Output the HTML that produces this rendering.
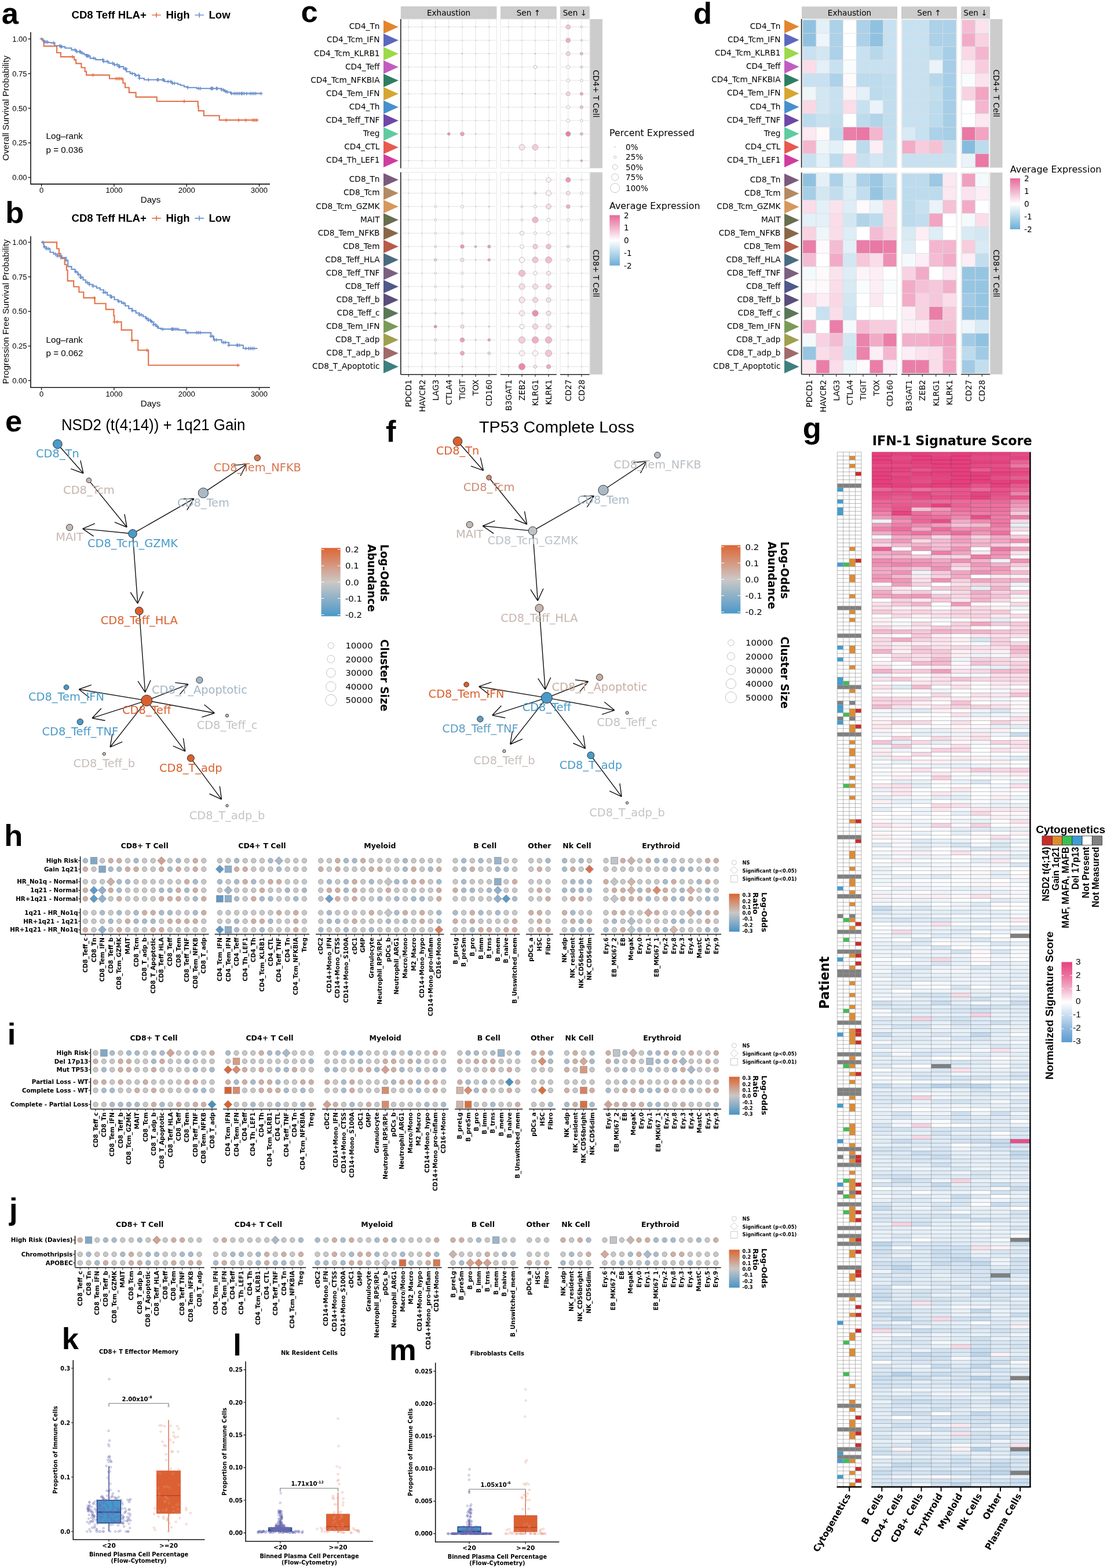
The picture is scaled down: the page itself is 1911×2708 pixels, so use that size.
<!DOCTYPE html><html><head><meta charset="utf-8"><style>html,body{margin:0;padding:0;background:#fff;overflow:hidden}svg{display:block}.D{font-family:"DejaVu Sans",sans-serif}.DB{font-family:"DejaVu Sans",sans-serif;font-weight:bold}.L{font-family:"Liberation Sans",sans-serif}.LB{font-family:"Liberation Sans",sans-serif;font-weight:bold}text{fill:#000}</style></head><body><svg width="1911" height="2708" viewBox="0 0 1911 2708"><text x="123.5" y="32.4" class="LB" font-size="18.6">CD8 Teff HLA+</text>
<path d="M262.3 26.0h15.5M270.05 21.8v8.4" stroke="#E3724A" stroke-width="1.7" fill="none"/>
<path d="M336.4 26.0h15.5M344.15 21.8v8.4" stroke="#6E92CE" stroke-width="1.7" fill="none"/>
<text x="286.4" y="32.4" class="LB" font-size="18.6">High</text>
<text x="360.5" y="32.4" class="LB" font-size="18.6">Low</text>
<path d="M53 55.6V317.9H466" stroke="#111" stroke-width="1.6" fill="none"/>
<path d="M48.5 67.3H53" stroke="#111" stroke-width="1.3"/>
<text x="46.5" y="71.9" class="L" font-size="13" text-anchor="end">1.00</text>
<path d="M48.5 127.1H53" stroke="#111" stroke-width="1.3"/>
<text x="46.5" y="131.7" class="L" font-size="13" text-anchor="end">0.75</text>
<path d="M48.5 186.9H53" stroke="#111" stroke-width="1.3"/>
<text x="46.5" y="191.5" class="L" font-size="13" text-anchor="end">0.50</text>
<path d="M48.5 246.7H53" stroke="#111" stroke-width="1.3"/>
<text x="46.5" y="251.3" class="L" font-size="13" text-anchor="end">0.25</text>
<path d="M48.5 306.5H53" stroke="#111" stroke-width="1.3"/>
<text x="46.5" y="311.1" class="L" font-size="13" text-anchor="end">0.00</text>
<path d="M71.6 317.9V322.4" stroke="#111" stroke-width="1.3"/>
<text x="71.6" y="333.3" class="L" font-size="13" text-anchor="middle">0</text>
<path d="M196.9 317.9V322.4" stroke="#111" stroke-width="1.3"/>
<text x="196.9" y="333.3" class="L" font-size="13" text-anchor="middle">1000</text>
<path d="M322.2 317.9V322.4" stroke="#111" stroke-width="1.3"/>
<text x="322.2" y="333.3" class="L" font-size="13" text-anchor="middle">2000</text>
<path d="M447.5 317.9V322.4" stroke="#111" stroke-width="1.3"/>
<text x="447.5" y="333.3" class="L" font-size="13" text-anchor="middle">3000</text>
<text x="260" y="350.3" class="L" font-size="15.2" text-anchor="middle">Days</text>
<text transform="translate(15.3 186.7) rotate(-90)" class="L" font-size="15.2" text-anchor="middle">Overall Survival Probability</text>
<text x="79.6" y="240.1" class="L" font-size="15.2">Log–rank</text>
<text x="79.6" y="263.6" class="L" font-size="15.2">p = 0.036</text>
<path d="M71.6 67.3H74.1V69.8H76.9V72.5H83.3V73.5H88.3V74.1H94.4V79.0H104.3V80.6H112.3V83.0H123.5V86.1H131.5V89.2H139.5V91.7H145.1V94.1H149.1V96.6H155.6V100.6H165.1V103.1H178.1V106.2H187.7V109.3H197.2V111.7H205.2V115.1H213.3V119.1H218.2V123.8H224.7V126.9H232.7V130.2H240.7V135.2H248.8V137.7H277.5V137.7H284.0V140.7H296.9V143.8H307.1V145.7H311.7V147.5H317.9V149.7H324.1V151.2H339.5V152.8H382.7V155.2H387.3V157.4H392.0V159.0H398.1V161.4H450.6V161.4" stroke="#6E92CE" stroke-width="2.1" fill="none"/>
<path d="M71.6 67.3H74.1V71.0H75.6V79.6H95.7V79.6H98.1V91.0H104.9V98.1H126.5V98.1H128.1V103.4H131.2V109.6H140.4V116.7H146.6V123.5H149.1V129.6H188.3V129.6H188.9V135.8H211.4V135.8H212.3V143.5H216.0V151.2H222.8V159.9H234.6V167.6H270.1V167.6H270.7V175.0H341.0V175.0H341.7V183.6H342.6V191.4H351.9V199.7H378.1V199.7H378.7V207.4H446.0V207.4" stroke="#E3724A" stroke-width="2.1" fill="none"/>
<path d="M68.6 67.3h6M71.6 64.3v6M74.2 72.5h6M77.2 69.5v6M76.6 72.5h6M79.6 69.5v6M78.8 72.5h6M81.8 69.5v6M89.6 74.1h6M92.6 71.1v6M100.4 79.0h6M103.4 76.0v6M101.9 80.6h6M104.9 77.6v6M103.5 80.6h6M106.5 77.6v6M126.6 86.1h6M129.6 83.1v6M129.7 89.2h6M132.7 86.2v6M134.3 89.2h6M137.3 86.2v6M135.9 89.2h6M138.9 86.2v6M139.0 91.7h6M142.0 88.7v6M146.7 96.6h6M149.7 93.6v6M148.2 96.6h6M151.2 93.6v6M149.8 96.6h6M152.8 93.6v6M159.0 100.6h6M162.0 97.6v6M174.5 103.1h6M177.5 100.1v6M176.0 106.2h6M179.0 103.2v6M182.2 106.2h6M185.2 103.2v6M191.4 109.3h6M194.4 106.3v6M194.5 111.7h6M197.5 108.7v6M199.2 111.7h6M202.2 108.7v6M202.2 115.1h6M205.2 112.1v6M203.8 115.1h6M206.8 112.1v6M213.0 119.1h6M216.0 116.1v6M214.6 119.1h6M217.6 116.1v6M225.4 126.9h6M228.4 123.9v6M231.6 130.2h6M234.6 127.2v6M236.2 130.2h6M239.2 127.2v6M237.7 135.2h6M240.7 132.2v6M253.2 137.7h6M256.2 134.7v6M268.6 137.7h6M271.6 134.7v6M270.1 137.7h6M273.1 134.7v6M277.9 137.7h6M280.9 134.7v6M279.4 137.7h6M282.4 134.7v6M287.1 140.7h6M290.1 137.7v6M291.8 140.7h6M294.8 137.7v6M294.8 143.8h6M297.8 140.8v6M297.9 143.8h6M300.9 140.8v6M321.1 151.2h6M324.1 148.2v6M339.6 152.8h6M342.6 149.8v6M342.7 152.8h6M345.7 149.8v6M361.2 152.8h6M364.2 149.8v6M362.7 152.8h6M365.7 149.8v6M364.3 152.8h6M367.3 149.8v6M370.5 152.8h6M373.5 149.8v6M372.0 152.8h6M375.0 149.8v6M379.7 155.2h6M382.7 152.2v6M382.8 155.2h6M385.8 152.2v6M385.9 157.4h6M388.9 154.4v6M389.0 159.0h6M392.0 156.0v6M396.7 161.4h6M399.7 158.4v6M401.3 161.4h6M404.3 158.4v6M404.4 161.4h6M407.4 158.4v6M407.5 161.4h6M410.5 158.4v6M410.6 161.4h6M413.6 158.4v6M413.7 161.4h6M416.7 158.4v6M415.2 161.4h6M418.2 158.4v6M418.3 161.4h6M421.3 158.4v6M422.9 161.4h6M425.9 158.4v6M429.1 161.4h6M432.1 158.4v6M432.2 161.4h6M435.2 158.4v6M435.3 161.4h6M438.3 158.4v6M438.4 161.4h6M441.4 158.4v6M447.6 161.4h6M450.6 158.4v6" stroke="#6E92CE" stroke-width="1.5" fill="none"/>
<path d="M122.0 98.1h6M125.0 95.1v6M157.5 129.6h6M160.5 126.6v6M197.6 135.8h6M200.6 132.8v6M200.7 135.8h6M203.7 132.8v6M203.8 135.8h6M206.8 132.8v6M206.9 135.8h6M209.9 132.8v6M314.9 175.0h6M317.9 172.0v6M387.4 207.4h6M390.4 204.4v6M409.0 207.4h6M412.0 204.4v6M421.4 207.4h6M424.4 204.4v6M433.7 207.4h6M436.7 204.4v6M436.8 207.4h6M439.8 204.4v6M439.9 207.4h6M442.9 204.4v6" stroke="#E3724A" stroke-width="1.5" fill="none"/>
<text x="123.5" y="383.2" class="LB" font-size="18.6">CD8 Teff HLA+</text>
<path d="M262.3 376.8h15.5M270.05 372.6v8.4" stroke="#E3724A" stroke-width="1.7" fill="none"/>
<path d="M336.4 376.8h15.5M344.15 372.6v8.4" stroke="#6E92CE" stroke-width="1.7" fill="none"/>
<text x="286.4" y="383.2" class="LB" font-size="18.6">High</text>
<text x="360.5" y="383.2" class="LB" font-size="18.6">Low</text>
<path d="M53 407.9V669.3H466" stroke="#111" stroke-width="1.6" fill="none"/>
<path d="M48.5 418.4H53" stroke="#111" stroke-width="1.3"/>
<text x="46.5" y="423.0" class="L" font-size="13" text-anchor="end">1.00</text>
<path d="M48.5 478.1H53" stroke="#111" stroke-width="1.3"/>
<text x="46.5" y="482.7" class="L" font-size="13" text-anchor="end">0.75</text>
<path d="M48.5 537.8H53" stroke="#111" stroke-width="1.3"/>
<text x="46.5" y="542.4" class="L" font-size="13" text-anchor="end">0.50</text>
<path d="M48.5 597.6H53" stroke="#111" stroke-width="1.3"/>
<text x="46.5" y="602.2" class="L" font-size="13" text-anchor="end">0.25</text>
<path d="M48.5 657.3H53" stroke="#111" stroke-width="1.3"/>
<text x="46.5" y="661.9" class="L" font-size="13" text-anchor="end">0.00</text>
<path d="M71.6 669.3V673.8" stroke="#111" stroke-width="1.3"/>
<text x="71.6" y="684.8" class="L" font-size="13" text-anchor="middle">0</text>
<path d="M196.9 669.3V673.8" stroke="#111" stroke-width="1.3"/>
<text x="196.9" y="684.8" class="L" font-size="13" text-anchor="middle">1000</text>
<path d="M322.2 669.3V673.8" stroke="#111" stroke-width="1.3"/>
<text x="322.2" y="684.8" class="L" font-size="13" text-anchor="middle">2000</text>
<path d="M447.5 669.3V673.8" stroke="#111" stroke-width="1.3"/>
<text x="447.5" y="684.8" class="L" font-size="13" text-anchor="middle">3000</text>
<text x="260" y="701.7" class="L" font-size="15.2" text-anchor="middle">Days</text>
<text transform="translate(15.3 538.3) rotate(-90)" class="L" font-size="15.2" text-anchor="middle">Progression Free Survival Probability</text>
<text x="79.6" y="591.5" class="L" font-size="15.2">Log–rank</text>
<text x="79.6" y="615.0" class="L" font-size="15.2">p = 0.062</text>
<path d="M71.6 418.4H75.6V426.4H80.2V429.5H86.4V435.7H92.6V438.8H98.8V441.9H106.5V444.9H114.2V449.6H117.3V460.4H123.5V465.0H129.6V469.6H134.3V474.3H138.9V478.9H143.5V483.5H148.1V488.1H154.3V491.2H160.5V494.3H166.7V497.4H172.8V500.5H179.0V505.1H185.2V509.8H191.4V512.8H197.5V517.5H203.7V520.6H209.9V523.6H216.0V528.3H222.2V532.9H228.4V536.6H234.6V540.6H240.7V543.7H246.9V546.8H251.5V549.9H256.2V553.0H260.8V556.0H265.4V560.7H269.1V563.8H273.1V566.9H277.8V568.4H308.6V569.9H321.0V574.6H354.9V574.6H364.2V580.7H368.8V586.9H382.7V591.5H395.1V596.2H416.7V596.2H419.8V601.7H444.4V601.7" stroke="#6E92CE" stroke-width="2.1" fill="none"/>
<path d="M71.6 418.4H97.2V418.4H98.1V429.5H101.9V438.1H104.9V446.5H111.7V456.7H114.8V466.5H116.7V485.1H126.5V485.1H127.2V495.2H135.8V495.2H136.4V504.5H143.8V504.5H144.4V514.4H162.7V514.4H163.6V524.3H182.1V524.3H182.7V534.4H194.4V534.4H196.3V545.2H197.5V556.0H209.0V556.0H209.6V569.9H226.9V569.9H227.5V587.8H237.7V587.8H238.3V604.8H255.6V604.8H256.2V630.7H413.6V630.7" stroke="#E3724A" stroke-width="2.1" fill="none"/>
<path d="M71.1 418.4h6M74.1 415.4v6M74.2 426.4h6M77.2 423.4v6M77.2 429.5h6M80.2 426.5v6M80.3 429.5h6M83.3 426.5v6M92.7 438.8h6M95.7 435.8v6M95.8 441.9h6M98.8 438.9v6M98.9 441.9h6M101.9 438.9v6M101.9 441.9h6M104.9 438.9v6M111.2 449.6h6M114.2 446.6v6M128.2 469.6h6M131.2 466.6v6M132.8 474.3h6M135.8 471.3v6M135.9 478.9h6M138.9 475.9v6M137.4 478.9h6M140.4 475.9v6M148.2 488.1h6M151.2 485.1v6M151.3 491.2h6M154.3 488.2v6M157.5 494.3h6M160.5 491.3v6M176.0 505.1h6M179.0 502.1v6M179.1 505.1h6M182.1 502.1v6M188.4 512.8h6M191.4 509.8v6M189.9 512.8h6M192.9 509.8v6M202.2 520.6h6M205.2 517.6v6M210.0 523.6h6M213.0 520.6v6M225.4 536.6h6M228.4 533.6v6M237.7 543.7h6M240.7 540.7v6M240.8 543.7h6M243.8 540.7v6M250.1 549.9h6M253.1 546.9v6M253.2 553.0h6M256.2 550.0v6M256.3 553.0h6M259.3 550.0v6M259.3 556.0h6M262.3 553.0v6M262.4 560.7h6M265.4 557.7v6M265.5 560.7h6M268.5 557.7v6M268.6 563.8h6M271.6 560.8v6M277.9 568.4h6M280.9 565.4v6M293.3 568.4h6M296.3 565.4v6M294.8 568.4h6M297.8 565.4v6M296.4 568.4h6M299.4 565.4v6M299.5 568.4h6M302.5 565.4v6M302.6 568.4h6M305.6 565.4v6M321.1 574.6h6M324.1 571.6v6M336.5 574.6h6M339.5 571.6v6M339.6 574.6h6M342.6 571.6v6M342.7 574.6h6M345.7 571.6v6M361.2 580.7h6M364.2 577.7v6M364.3 580.7h6M367.3 577.7v6M367.4 586.9h6M370.4 583.9v6M370.5 586.9h6M373.5 583.9v6M382.8 591.5h6M385.8 588.5v6M385.9 591.5h6M388.9 588.5v6M392.1 596.2h6M395.1 593.2v6M406.0 596.2h6M409.0 593.2v6M407.5 596.2h6M410.5 593.2v6M410.6 596.2h6M413.6 593.2v6M421.4 601.7h6M424.4 598.7v6M426.0 601.7h6M429.0 598.7v6M429.1 601.7h6M432.1 598.7v6M432.2 601.7h6M435.2 598.7v6M435.3 601.7h6M438.3 598.7v6" stroke="#6E92CE" stroke-width="1.5" fill="none"/>
<path d="M98.9 438.1h6M101.9 435.1v6M159.7 514.4h6M162.7 511.4v6M194.5 556.0h6M197.5 553.0v6M199.2 556.0h6M202.2 553.0v6M225.4 587.8h6M228.4 584.8v6M250.7 604.8h6M253.7 601.8v6M407.5 630.7h6M410.5 627.7v6" stroke="#E3724A" stroke-width="1.5" fill="none"/>
<rect x="691.8" y="11.0" width="165.7" height="22.0" fill="#CCCCCC"/>
<text x="774.6" y="27.0" class="D" font-size="13.6" text-anchor="middle">Exhaustion</text>
<rect x="864.0" y="11.0" width="96.8" height="22.0" fill="#CCCCCC"/>
<text x="912.4" y="27.0" class="D" font-size="13.6" text-anchor="middle">Sen ↑</text>
<rect x="967.0" y="11.0" width="50.8" height="22.0" fill="#CCCCCC"/>
<text x="992.4" y="27.0" class="D" font-size="13.6" text-anchor="middle">Sen ↓</text>
<rect x="1018.5" y="33.0" width="21.5" height="257.5" fill="#CCCCCC"/>
<text transform="translate(1024.2 161.8) rotate(90)" class="D" font-size="13.6" text-anchor="middle">CD4+ T Cell</text>
<rect x="1018.5" y="297.5" width="21.5" height="349.2" fill="#CCCCCC"/>
<text transform="translate(1024.2 472.1) rotate(90)" class="D" font-size="13.6" text-anchor="middle">CD8+ T Cell</text>
<text x="655.5" y="50.3" class="D" font-size="13.7" text-anchor="end">CD4_Tn</text>
<path d="M662.0 35.0L687.8 46.5L662.0 58.0Z" fill="#E2862E"/>
<text x="655.5" y="73.4" class="D" font-size="13.7" text-anchor="end">CD4_Tcm_IFN</text>
<path d="M662.0 58.0L687.8 69.6L662.0 81.1Z" fill="#5C68BE"/>
<text x="655.5" y="96.5" class="D" font-size="13.7" text-anchor="end">CD4_Tcm_KLRB1</text>
<path d="M662.0 81.2L687.8 92.7L662.0 104.2Z" fill="#9BD94A"/>
<text x="655.5" y="119.6" class="D" font-size="13.7" text-anchor="end">CD4_Teff</text>
<path d="M662.0 104.3L687.8 115.8L662.0 127.4Z" fill="#C25DC0"/>
<text x="655.5" y="142.7" class="D" font-size="13.7" text-anchor="end">CD4_Tcm_NFKBIA</text>
<path d="M662.0 127.4L687.8 138.9L662.0 150.4Z" fill="#2F7E62"/>
<text x="655.5" y="165.8" class="D" font-size="13.7" text-anchor="end">CD4_Tem_IFN</text>
<path d="M662.0 150.4L687.8 162.0L662.0 173.6Z" fill="#D6A632"/>
<text x="655.5" y="188.9" class="D" font-size="13.7" text-anchor="end">CD4_Th</text>
<path d="M662.0 173.6L687.8 185.1L662.0 196.7Z" fill="#4890CB"/>
<text x="655.5" y="212.0" class="D" font-size="13.7" text-anchor="end">CD4_Teff_TNF</text>
<path d="M662.0 196.7L687.8 208.2L662.0 219.8Z" fill="#6F47A7"/>
<text x="655.5" y="235.1" class="D" font-size="13.7" text-anchor="end">Treg</text>
<path d="M662.0 219.8L687.8 231.3L662.0 242.9Z" fill="#5FCBA0"/>
<text x="655.5" y="258.2" class="D" font-size="13.7" text-anchor="end">CD4_CTL</text>
<path d="M662.0 242.9L687.8 254.4L662.0 265.9Z" fill="#E65A4F"/>
<text x="655.5" y="281.3" class="D" font-size="13.7" text-anchor="end">CD4_Th_LEF1</text>
<path d="M662.0 265.9L687.8 277.5L662.0 289.1Z" fill="#D03C9E"/>
<rect x="691.8" y="33.0" width="165.7" height="257.5" fill="#FFFFFF" stroke="#E6E6E6" stroke-width="1"/>
<rect x="864.0" y="33.0" width="96.8" height="257.5" fill="#FFFFFF" stroke="#E6E6E6" stroke-width="1"/>
<rect x="967.0" y="33.0" width="50.8" height="257.5" fill="#FFFFFF" stroke="#E6E6E6" stroke-width="1"/>
<path d="M691.8 33.0V290.5" stroke="#222" stroke-width="1.6"/>
<text x="655.5" y="314.4" class="D" font-size="13.7" text-anchor="end">CD8_Tn</text>
<path d="M662.0 299.1L687.8 310.6L662.0 322.1Z" fill="#7C5A7C"/>
<text x="655.5" y="337.4" class="D" font-size="13.7" text-anchor="end">CD8_Tcm</text>
<path d="M662.0 322.1L687.8 333.6L662.0 345.2Z" fill="#B48A62"/>
<text x="655.5" y="360.5" class="D" font-size="13.7" text-anchor="end">CD8_Tcm_GZMK</text>
<path d="M662.0 345.2L687.8 356.7L662.0 368.2Z" fill="#D6985C"/>
<text x="655.5" y="383.5" class="D" font-size="13.7" text-anchor="end">MAIT</text>
<path d="M662.0 368.2L687.8 379.7L662.0 391.2Z" fill="#686E4E"/>
<text x="655.5" y="406.6" class="D" font-size="13.7" text-anchor="end">CD8_Tem_NFKB</text>
<path d="M662.0 391.2L687.8 402.8L662.0 414.3Z" fill="#896848"/>
<text x="655.5" y="429.6" class="D" font-size="13.7" text-anchor="end">CD8_Tem</text>
<path d="M662.0 414.3L687.8 425.8L662.0 437.3Z" fill="#B65C4A"/>
<text x="655.5" y="452.6" class="D" font-size="13.7" text-anchor="end">CD8_Teff_HLA</text>
<path d="M662.0 437.3L687.8 448.8L662.0 460.4Z" fill="#4B6B80"/>
<text x="655.5" y="475.7" class="D" font-size="13.7" text-anchor="end">CD8_Teff_TNF</text>
<path d="M662.0 460.4L687.8 471.9L662.0 483.4Z" fill="#7C6080"/>
<text x="655.5" y="498.7" class="D" font-size="13.7" text-anchor="end">CD8_Teff</text>
<path d="M662.0 483.4L687.8 494.9L662.0 506.4Z" fill="#50598A"/>
<text x="655.5" y="521.8" class="D" font-size="13.7" text-anchor="end">CD8_Teff_b</text>
<path d="M662.0 506.4L687.8 518.0L662.0 529.5Z" fill="#5A4E7A"/>
<text x="655.5" y="544.8" class="D" font-size="13.7" text-anchor="end">CD8_Teff_c</text>
<path d="M662.0 529.5L687.8 541.0L662.0 552.5Z" fill="#5A7858"/>
<text x="655.5" y="567.8" class="D" font-size="13.7" text-anchor="end">CD8_Tem_IFN</text>
<path d="M662.0 552.5L687.8 564.0L662.0 575.6Z" fill="#7A9A5A"/>
<text x="655.5" y="590.9" class="D" font-size="13.7" text-anchor="end">CD8_T_adp</text>
<path d="M662.0 575.6L687.8 587.1L662.0 598.6Z" fill="#A0A04E"/>
<text x="655.5" y="613.9" class="D" font-size="13.7" text-anchor="end">CD8_T_adp_b</text>
<path d="M662.0 598.6L687.8 610.1L662.0 621.6Z" fill="#A06A6A"/>
<text x="655.5" y="637.0" class="D" font-size="13.7" text-anchor="end">CD8_T_Apoptotic</text>
<path d="M662.0 621.6L687.8 633.2L662.0 644.7Z" fill="#3E7F80"/>
<rect x="691.8" y="297.5" width="165.7" height="349.2" fill="#FFFFFF" stroke="#E6E6E6" stroke-width="1"/>
<rect x="864.0" y="297.5" width="96.8" height="349.2" fill="#FFFFFF" stroke="#E6E6E6" stroke-width="1"/>
<rect x="967.0" y="297.5" width="50.8" height="349.2" fill="#FFFFFF" stroke="#E6E6E6" stroke-width="1"/>
<path d="M691.8 297.5V646.7" stroke="#222" stroke-width="1.6"/>
<path d="M691.8 646.7H857.5" stroke="#222" stroke-width="1.6"/>
<path d="M705.4 646.7v4" stroke="#333" stroke-width="1.2"/>
<text transform="translate(710.4 655.5) rotate(-90)" class="D" font-size="13.7" text-anchor="end">PDCD1</text>
<path d="M728.5 646.7v4" stroke="#333" stroke-width="1.2"/>
<text transform="translate(733.5 655.5) rotate(-90)" class="D" font-size="13.7" text-anchor="end">HAVCR2</text>
<path d="M751.7 646.7v4" stroke="#333" stroke-width="1.2"/>
<text transform="translate(756.7 655.5) rotate(-90)" class="D" font-size="13.7" text-anchor="end">LAG3</text>
<path d="M774.8 646.7v4" stroke="#333" stroke-width="1.2"/>
<text transform="translate(779.8 655.5) rotate(-90)" class="D" font-size="13.7" text-anchor="end">CTLA4</text>
<path d="M798.0 646.7v4" stroke="#333" stroke-width="1.2"/>
<text transform="translate(803.0 655.5) rotate(-90)" class="D" font-size="13.7" text-anchor="end">TIGIT</text>
<path d="M821.1 646.7v4" stroke="#333" stroke-width="1.2"/>
<text transform="translate(826.1 655.5) rotate(-90)" class="D" font-size="13.7" text-anchor="end">TOX</text>
<path d="M844.3 646.7v4" stroke="#333" stroke-width="1.2"/>
<text transform="translate(849.3 655.5) rotate(-90)" class="D" font-size="13.7" text-anchor="end">CD160</text>
<path d="M864.0 646.7H960.8" stroke="#222" stroke-width="1.6"/>
<path d="M878.0 646.7v4" stroke="#333" stroke-width="1.2"/>
<text transform="translate(883.0 655.5) rotate(-90)" class="D" font-size="13.7" text-anchor="end">B3GAT1</text>
<path d="M901.0 646.7v4" stroke="#333" stroke-width="1.2"/>
<text transform="translate(906.0 655.5) rotate(-90)" class="D" font-size="13.7" text-anchor="end">ZEB2</text>
<path d="M924.0 646.7v4" stroke="#333" stroke-width="1.2"/>
<text transform="translate(929.0 655.5) rotate(-90)" class="D" font-size="13.7" text-anchor="end">KLRG1</text>
<path d="M947.0 646.7v4" stroke="#333" stroke-width="1.2"/>
<text transform="translate(952.0 655.5) rotate(-90)" class="D" font-size="13.7" text-anchor="end">KLRK1</text>
<path d="M967.0 646.7H1017.8" stroke="#222" stroke-width="1.6"/>
<path d="M980.8 646.7v4" stroke="#333" stroke-width="1.2"/>
<text transform="translate(985.8 655.5) rotate(-90)" class="D" font-size="13.7" text-anchor="end">CD27</text>
<path d="M1003.9 646.7v4" stroke="#333" stroke-width="1.2"/>
<text transform="translate(1008.9 655.5) rotate(-90)" class="D" font-size="13.7" text-anchor="end">CD28</text>
<path d="M705.4 34.0V289.5M728.5 34.0V289.5M751.7 34.0V289.5M774.8 34.0V289.5M798.0 34.0V289.5M821.1 34.0V289.5M844.3 34.0V289.5M692.8 46.5H856.5M692.8 69.6H856.5M692.8 92.7H856.5M692.8 115.8H856.5M692.8 138.9H856.5M692.8 162.0H856.5M692.8 185.1H856.5M692.8 208.2H856.5M692.8 231.3H856.5M692.8 254.4H856.5M692.8 277.5H856.5M878.0 34.0V289.5M901.0 34.0V289.5M924.0 34.0V289.5M947.0 34.0V289.5M865.0 46.5H959.8M865.0 69.6H959.8M865.0 92.7H959.8M865.0 115.8H959.8M865.0 138.9H959.8M865.0 162.0H959.8M865.0 185.1H959.8M865.0 208.2H959.8M865.0 231.3H959.8M865.0 254.4H959.8M865.0 277.5H959.8M980.8 34.0V289.5M1003.9 34.0V289.5M968.0 46.5H1016.8M968.0 69.6H1016.8M968.0 92.7H1016.8M968.0 115.8H1016.8M968.0 138.9H1016.8M968.0 162.0H1016.8M968.0 185.1H1016.8M968.0 208.2H1016.8M968.0 231.3H1016.8M968.0 254.4H1016.8M968.0 277.5H1016.8" stroke="#E3E3E3" stroke-width="1" fill="none"/>
<path d="M705.4 298.5V645.7M728.5 298.5V645.7M751.7 298.5V645.7M774.8 298.5V645.7M798.0 298.5V645.7M821.1 298.5V645.7M844.3 298.5V645.7M692.8 310.6H856.5M692.8 333.6H856.5M692.8 356.7H856.5M692.8 379.7H856.5M692.8 402.8H856.5M692.8 425.8H856.5M692.8 448.8H856.5M692.8 471.9H856.5M692.8 494.9H856.5M692.8 518.0H856.5M692.8 541.0H856.5M692.8 564.0H856.5M692.8 587.1H856.5M692.8 610.1H856.5M692.8 633.2H856.5M878.0 298.5V645.7M901.0 298.5V645.7M924.0 298.5V645.7M947.0 298.5V645.7M865.0 310.6H959.8M865.0 333.6H959.8M865.0 356.7H959.8M865.0 379.7H959.8M865.0 402.8H959.8M865.0 425.8H959.8M865.0 448.8H959.8M865.0 471.9H959.8M865.0 494.9H959.8M865.0 518.0H959.8M865.0 541.0H959.8M865.0 564.0H959.8M865.0 587.1H959.8M865.0 610.1H959.8M865.0 633.2H959.8M980.8 298.5V645.7M1003.9 298.5V645.7M968.0 310.6H1016.8M968.0 333.6H1016.8M968.0 356.7H1016.8M968.0 379.7H1016.8M968.0 402.8H1016.8M968.0 425.8H1016.8M968.0 448.8H1016.8M968.0 471.9H1016.8M968.0 494.9H1016.8M968.0 518.0H1016.8M968.0 541.0H1016.8M968.0 564.0H1016.8M968.0 587.1H1016.8M968.0 610.1H1016.8M968.0 633.2H1016.8" stroke="#E3E3E3" stroke-width="1" fill="none"/>
<g fill="#BBBBBB"><circle cx="705.4" cy="46.5" r="0.9"/><circle cx="728.5" cy="46.5" r="0.9"/><circle cx="751.7" cy="46.5" r="0.9"/><circle cx="774.8" cy="46.5" r="0.9"/><circle cx="798.0" cy="46.5" r="0.9"/><circle cx="821.1" cy="46.5" r="0.9"/><circle cx="844.3" cy="46.5" r="0.9"/><circle cx="878.0" cy="46.5" r="0.9"/><circle cx="901.0" cy="46.5" r="0.9"/><circle cx="924.0" cy="46.5" r="0.9"/><circle cx="947.0" cy="46.5" r="0.9"/><circle cx="705.4" cy="69.6" r="0.9"/><circle cx="728.5" cy="69.6" r="0.9"/><circle cx="751.7" cy="69.6" r="0.9"/><circle cx="774.8" cy="69.6" r="0.9"/><circle cx="798.0" cy="69.6" r="0.9"/><circle cx="821.1" cy="69.6" r="0.9"/><circle cx="844.3" cy="69.6" r="0.9"/><circle cx="878.0" cy="69.6" r="0.9"/><circle cx="901.0" cy="69.6" r="0.9"/><circle cx="924.0" cy="69.6" r="0.9"/><circle cx="947.0" cy="69.6" r="0.9"/><circle cx="705.4" cy="92.7" r="0.9"/><circle cx="728.5" cy="92.7" r="0.9"/><circle cx="751.7" cy="92.7" r="0.9"/><circle cx="774.8" cy="92.7" r="0.9"/><circle cx="798.0" cy="92.7" r="1.2"/><circle cx="821.1" cy="92.7" r="0.9"/><circle cx="844.3" cy="92.7" r="0.9"/><circle cx="878.0" cy="92.7" r="0.9"/><circle cx="901.0" cy="92.7" r="0.9"/><circle cx="924.0" cy="92.7" r="1.2"/><circle cx="947.0" cy="92.7" r="0.9"/><circle cx="705.4" cy="115.8" r="0.9"/><circle cx="728.5" cy="115.8" r="0.9"/><circle cx="751.7" cy="115.8" r="0.9"/><circle cx="774.8" cy="115.8" r="0.9"/><circle cx="798.0" cy="115.8" r="0.9"/><circle cx="821.1" cy="115.8" r="0.9"/><circle cx="844.3" cy="115.8" r="0.9"/><circle cx="878.0" cy="115.8" r="0.9"/><circle cx="901.0" cy="115.8" r="0.9"/><circle cx="947.0" cy="115.8" r="0.9"/><circle cx="705.4" cy="138.9" r="0.9"/><circle cx="728.5" cy="138.9" r="0.9"/><circle cx="751.7" cy="138.9" r="0.9"/><circle cx="774.8" cy="138.9" r="0.9"/><circle cx="798.0" cy="138.9" r="0.9"/><circle cx="821.1" cy="138.9" r="0.9"/><circle cx="844.3" cy="138.9" r="0.9"/><circle cx="878.0" cy="138.9" r="0.9"/><circle cx="901.0" cy="138.9" r="0.9"/><circle cx="924.0" cy="138.9" r="0.9"/><circle cx="947.0" cy="138.9" r="0.9"/><circle cx="705.4" cy="162.0" r="0.9"/><circle cx="728.5" cy="162.0" r="0.9"/><circle cx="751.7" cy="162.0" r="0.9"/><circle cx="774.8" cy="162.0" r="0.9"/><circle cx="798.0" cy="162.0" r="1.2"/><circle cx="821.1" cy="162.0" r="0.9"/><circle cx="844.3" cy="162.0" r="0.9"/><circle cx="878.0" cy="162.0" r="0.9"/><circle cx="901.0" cy="162.0" r="0.9"/><circle cx="924.0" cy="162.0" r="1.3"/><circle cx="947.0" cy="162.0" r="0.9"/><circle cx="705.4" cy="185.1" r="0.9"/><circle cx="728.5" cy="185.1" r="0.9"/><circle cx="751.7" cy="185.1" r="0.9"/><circle cx="774.8" cy="185.1" r="0.9"/><circle cx="798.0" cy="185.1" r="0.9"/><circle cx="821.1" cy="185.1" r="0.9"/><circle cx="844.3" cy="185.1" r="0.9"/><circle cx="878.0" cy="185.1" r="0.9"/><circle cx="901.0" cy="185.1" r="0.9"/><circle cx="924.0" cy="185.1" r="0.9"/><circle cx="947.0" cy="185.1" r="0.9"/><circle cx="705.4" cy="208.2" r="0.9"/><circle cx="728.5" cy="208.2" r="0.9"/><circle cx="751.7" cy="208.2" r="0.9"/><circle cx="774.8" cy="208.2" r="0.9"/><circle cx="798.0" cy="208.2" r="0.9"/><circle cx="821.1" cy="208.2" r="0.9"/><circle cx="844.3" cy="208.2" r="0.9"/><circle cx="878.0" cy="208.2" r="0.9"/><circle cx="901.0" cy="208.2" r="0.9"/><circle cx="924.0" cy="208.2" r="0.9"/><circle cx="947.0" cy="208.2" r="0.9"/><circle cx="705.4" cy="231.3" r="0.9"/><circle cx="728.5" cy="231.3" r="0.9"/><circle cx="751.7" cy="231.3" r="0.9"/><circle cx="821.1" cy="231.3" r="1.2"/><circle cx="844.3" cy="231.3" r="0.9"/><circle cx="878.0" cy="231.3" r="0.9"/><circle cx="901.0" cy="231.3" r="0.9"/><circle cx="924.0" cy="231.3" r="0.9"/><circle cx="947.0" cy="231.3" r="0.9"/><circle cx="705.4" cy="254.4" r="0.9"/><circle cx="728.5" cy="254.4" r="0.9"/><circle cx="751.7" cy="254.4" r="0.9"/><circle cx="774.8" cy="254.4" r="0.9"/><circle cx="798.0" cy="254.4" r="0.9"/><circle cx="821.1" cy="254.4" r="0.9"/><circle cx="844.3" cy="254.4" r="0.9"/><circle cx="878.0" cy="254.4" r="0.9"/><circle cx="947.0" cy="254.4" r="1.2"/><circle cx="980.8" cy="254.4" r="0.9"/><circle cx="1003.9" cy="254.4" r="0.9"/><circle cx="705.4" cy="277.5" r="0.9"/><circle cx="728.5" cy="277.5" r="0.9"/><circle cx="751.7" cy="277.5" r="0.9"/><circle cx="774.8" cy="277.5" r="0.9"/><circle cx="798.0" cy="277.5" r="0.9"/><circle cx="821.1" cy="277.5" r="0.9"/><circle cx="844.3" cy="277.5" r="0.9"/><circle cx="878.0" cy="277.5" r="0.9"/><circle cx="901.0" cy="277.5" r="0.9"/><circle cx="924.0" cy="277.5" r="0.9"/><circle cx="947.0" cy="277.5" r="0.9"/></g>
<g stroke="#A8A8A8" stroke-width="0.7"><circle cx="980.8" cy="46.5" r="3.8" fill="#F5C3D7"/><circle cx="1003.9" cy="46.5" r="1.8" fill="#FEF8FA"/><circle cx="980.8" cy="69.6" r="3.9" fill="#F2ACC7"/><circle cx="1003.9" cy="69.6" r="1.7" fill="#FAE1EB"/><circle cx="980.8" cy="92.7" r="3.5" fill="#F8D2E1"/><circle cx="1003.9" cy="92.7" r="2.5" fill="#F3B4CC"/><circle cx="924.0" cy="115.8" r="2.9" fill="#F8FBFD"/><circle cx="980.8" cy="115.8" r="2.9" fill="#FFFFFF"/><circle cx="1003.9" cy="115.8" r="2.0" fill="#F9DAE6"/><circle cx="980.8" cy="138.9" r="2.7" fill="#FFFFFF"/><circle cx="1003.9" cy="138.9" r="2.3" fill="#FFFFFF"/><circle cx="980.8" cy="162.0" r="3.5" fill="#F8D2E1"/><circle cx="1003.9" cy="162.0" r="2.6" fill="#F1A5C2"/><circle cx="980.8" cy="185.1" r="2.8" fill="#FFFFFF"/><circle cx="1003.9" cy="185.1" r="2.6" fill="#F4BCD2"/><circle cx="980.8" cy="208.2" r="2.8" fill="#FFFFFF"/><circle cx="1003.9" cy="208.2" r="2.2" fill="#FFFFFF"/><circle cx="774.8" cy="231.3" r="2.4" fill="#ED8EB3"/><circle cx="798.0" cy="231.3" r="3.4" fill="#EF9EBD"/><circle cx="980.8" cy="231.3" r="4.2" fill="#EB80A9"/><circle cx="1003.9" cy="231.3" r="2.4" fill="#F2ACC7"/><circle cx="901.0" cy="254.4" r="5.0" fill="#FAE1EB"/><circle cx="924.0" cy="254.4" r="5.0" fill="#F7CADC"/><circle cx="980.8" cy="277.5" r="1.5" fill="#FDF0F5"/><circle cx="1003.9" cy="277.5" r="1.8" fill="#EF9EBD"/></g>
<g fill="#BBBBBB"><circle cx="705.4" cy="310.6" r="0.9"/><circle cx="728.5" cy="310.6" r="0.9"/><circle cx="751.7" cy="310.6" r="0.9"/><circle cx="774.8" cy="310.6" r="0.9"/><circle cx="798.0" cy="310.6" r="0.9"/><circle cx="821.1" cy="310.6" r="0.9"/><circle cx="844.3" cy="310.6" r="0.9"/><circle cx="878.0" cy="310.6" r="0.9"/><circle cx="901.0" cy="310.6" r="0.9"/><circle cx="924.0" cy="310.6" r="0.9"/><circle cx="705.4" cy="333.6" r="0.9"/><circle cx="728.5" cy="333.6" r="0.9"/><circle cx="751.7" cy="333.6" r="0.9"/><circle cx="774.8" cy="333.6" r="0.9"/><circle cx="798.0" cy="333.6" r="1.2"/><circle cx="821.1" cy="333.6" r="0.9"/><circle cx="844.3" cy="333.6" r="0.9"/><circle cx="878.0" cy="333.6" r="0.9"/><circle cx="901.0" cy="333.6" r="0.9"/><circle cx="705.4" cy="356.7" r="0.9"/><circle cx="728.5" cy="356.7" r="0.9"/><circle cx="774.8" cy="356.7" r="0.9"/><circle cx="821.1" cy="356.7" r="0.9"/><circle cx="844.3" cy="356.7" r="1.3"/><circle cx="878.0" cy="356.7" r="0.9"/><circle cx="705.4" cy="379.7" r="0.9"/><circle cx="728.5" cy="379.7" r="0.9"/><circle cx="774.8" cy="379.7" r="0.9"/><circle cx="798.0" cy="379.7" r="0.9"/><circle cx="821.1" cy="379.7" r="0.9"/><circle cx="844.3" cy="379.7" r="0.9"/><circle cx="878.0" cy="379.7" r="0.9"/><circle cx="705.4" cy="402.8" r="0.9"/><circle cx="728.5" cy="402.8" r="0.9"/><circle cx="774.8" cy="402.8" r="0.9"/><circle cx="821.1" cy="402.8" r="0.9"/><circle cx="844.3" cy="402.8" r="0.9"/><circle cx="878.0" cy="402.8" r="0.9"/><circle cx="1003.9" cy="402.8" r="0.9"/><circle cx="705.4" cy="425.8" r="0.9"/><circle cx="728.5" cy="425.8" r="0.9"/><circle cx="774.8" cy="425.8" r="0.9"/><circle cx="878.0" cy="425.8" r="0.9"/><circle cx="1003.9" cy="425.8" r="0.9"/><circle cx="705.4" cy="448.8" r="0.9"/><circle cx="728.5" cy="448.8" r="0.9"/><circle cx="774.8" cy="448.8" r="0.9"/><circle cx="821.1" cy="448.8" r="1.2"/><circle cx="878.0" cy="448.8" r="0.9"/><circle cx="1003.9" cy="448.8" r="0.9"/><circle cx="705.4" cy="471.9" r="0.9"/><circle cx="728.5" cy="471.9" r="0.9"/><circle cx="774.8" cy="471.9" r="0.9"/><circle cx="821.1" cy="471.9" r="0.9"/><circle cx="844.3" cy="471.9" r="0.9"/><circle cx="878.0" cy="471.9" r="0.9"/><circle cx="980.8" cy="471.9" r="0.9"/><circle cx="1003.9" cy="471.9" r="0.9"/><circle cx="705.4" cy="494.9" r="0.9"/><circle cx="728.5" cy="494.9" r="0.9"/><circle cx="774.8" cy="494.9" r="0.9"/><circle cx="821.1" cy="494.9" r="0.9"/><circle cx="844.3" cy="494.9" r="0.9"/><circle cx="878.0" cy="494.9" r="0.9"/><circle cx="980.8" cy="494.9" r="0.9"/><circle cx="1003.9" cy="494.9" r="0.9"/><circle cx="705.4" cy="518.0" r="0.9"/><circle cx="728.5" cy="518.0" r="0.9"/><circle cx="774.8" cy="518.0" r="0.9"/><circle cx="821.1" cy="518.0" r="0.9"/><circle cx="844.3" cy="518.0" r="0.9"/><circle cx="878.0" cy="518.0" r="0.9"/><circle cx="980.8" cy="518.0" r="0.9"/><circle cx="1003.9" cy="518.0" r="0.9"/><circle cx="705.4" cy="541.0" r="0.9"/><circle cx="728.5" cy="541.0" r="0.9"/><circle cx="774.8" cy="541.0" r="0.9"/><circle cx="821.1" cy="541.0" r="0.9"/><circle cx="844.3" cy="541.0" r="0.9"/><circle cx="878.0" cy="541.0" r="0.9"/><circle cx="980.8" cy="541.0" r="0.9"/><circle cx="1003.9" cy="541.0" r="0.9"/><circle cx="705.4" cy="564.0" r="0.9"/><circle cx="728.5" cy="564.0" r="0.9"/><circle cx="774.8" cy="564.0" r="0.9"/><circle cx="821.1" cy="564.0" r="0.9"/><circle cx="844.3" cy="564.0" r="1.4"/><circle cx="878.0" cy="564.0" r="0.9"/><circle cx="1003.9" cy="564.0" r="0.9"/><circle cx="705.4" cy="587.1" r="0.9"/><circle cx="728.5" cy="587.1" r="0.9"/><circle cx="774.8" cy="587.1" r="0.9"/><circle cx="821.1" cy="587.1" r="1.4"/><circle cx="878.0" cy="587.1" r="0.9"/><circle cx="980.8" cy="587.1" r="0.9"/><circle cx="1003.9" cy="587.1" r="0.9"/><circle cx="705.4" cy="610.1" r="0.9"/><circle cx="728.5" cy="610.1" r="0.9"/><circle cx="774.8" cy="610.1" r="0.9"/><circle cx="821.1" cy="610.1" r="0.9"/><circle cx="878.0" cy="610.1" r="0.9"/><circle cx="980.8" cy="610.1" r="1.4"/><circle cx="1003.9" cy="610.1" r="0.9"/><circle cx="705.4" cy="633.2" r="0.9"/><circle cx="728.5" cy="633.2" r="0.9"/><circle cx="751.7" cy="633.2" r="0.9"/><circle cx="774.8" cy="633.2" r="0.9"/><circle cx="798.0" cy="633.2" r="1.4"/><circle cx="821.1" cy="633.2" r="0.9"/><circle cx="844.3" cy="633.2" r="0.9"/><circle cx="878.0" cy="633.2" r="0.9"/><circle cx="980.8" cy="633.2" r="0.9"/><circle cx="1003.9" cy="633.2" r="0.9"/></g>
<g stroke="#A8A8A8" stroke-width="0.7"><circle cx="947.0" cy="310.6" r="4.2" fill="#FDF0F5"/><circle cx="980.8" cy="310.6" r="4.1" fill="#EE96B8"/><circle cx="1003.9" cy="310.6" r="1.6" fill="#FFFFFF"/><circle cx="924.0" cy="333.6" r="2.0" fill="#D3E7F3"/><circle cx="947.0" cy="333.6" r="4.6" fill="#FDF0F5"/><circle cx="980.8" cy="333.6" r="3.4" fill="#FAE1EB"/><circle cx="1003.9" cy="333.6" r="2.3" fill="#FFFFFF"/><circle cx="751.7" cy="356.7" r="2.0" fill="#FFFFFF"/><circle cx="798.0" cy="356.7" r="2.6" fill="#FFFFFF"/><circle cx="901.0" cy="356.7" r="1.8" fill="#FFFFFF"/><circle cx="924.0" cy="356.7" r="2.5" fill="#FFFFFF"/><circle cx="947.0" cy="356.7" r="4.4" fill="#F9DAE6"/><circle cx="980.8" cy="356.7" r="3.3" fill="#F2ACC7"/><circle cx="1003.9" cy="356.7" r="1.6" fill="#FFFFFF"/><circle cx="751.7" cy="379.7" r="2.0" fill="#FFFFFF"/><circle cx="901.0" cy="379.7" r="1.8" fill="#FFFFFF"/><circle cx="924.0" cy="379.7" r="5.0" fill="#F3B4CC"/><circle cx="947.0" cy="379.7" r="3.0" fill="#FFFFFF"/><circle cx="980.8" cy="379.7" r="2.4" fill="#FFFFFF"/><circle cx="1003.9" cy="379.7" r="2.0" fill="#FFFFFF"/><circle cx="751.7" cy="402.8" r="1.8" fill="#FFFFFF"/><circle cx="798.0" cy="402.8" r="2.0" fill="#FFFFFF"/><circle cx="901.0" cy="402.8" r="3.6" fill="#FDF0F5"/><circle cx="924.0" cy="402.8" r="2.5" fill="#FFFFFF"/><circle cx="947.0" cy="402.8" r="3.2" fill="#FFFFFF"/><circle cx="980.8" cy="402.8" r="1.6" fill="#FFFFFF"/><circle cx="751.7" cy="425.8" r="1.8" fill="#FBE8F0"/><circle cx="798.0" cy="425.8" r="3.3" fill="#EE96B8"/><circle cx="821.1" cy="425.8" r="1.9" fill="#F1A5C2"/><circle cx="844.3" cy="425.8" r="2.6" fill="#EE96B8"/><circle cx="901.0" cy="425.8" r="3.3" fill="#FFFFFF"/><circle cx="924.0" cy="425.8" r="4.0" fill="#F7CADC"/><circle cx="947.0" cy="425.8" r="4.1" fill="#F4BCD2"/><circle cx="980.8" cy="425.8" r="2.4" fill="#F9DAE6"/><circle cx="751.7" cy="448.8" r="2.4" fill="#F7CADC"/><circle cx="798.0" cy="448.8" r="3.0" fill="#FAE1EB"/><circle cx="844.3" cy="448.8" r="2.4" fill="#F1A5C2"/><circle cx="901.0" cy="448.8" r="4.7" fill="#FDF4F7"/><circle cx="924.0" cy="448.8" r="5.0" fill="#F5C3D7"/><circle cx="947.0" cy="448.8" r="5.4" fill="#F4BCD2"/><circle cx="980.8" cy="448.8" r="2.5" fill="#FFFFFF"/><circle cx="751.7" cy="471.9" r="1.8" fill="#FFFFFF"/><circle cx="798.0" cy="471.9" r="2.1" fill="#FFFFFF"/><circle cx="901.0" cy="471.9" r="5.5" fill="#F4BCD2"/><circle cx="924.0" cy="471.9" r="3.2" fill="#FFFFFF"/><circle cx="947.0" cy="471.9" r="3.6" fill="#FBE8F0"/><circle cx="751.7" cy="494.9" r="1.7" fill="#FFFFFF"/><circle cx="798.0" cy="494.9" r="1.8" fill="#FFFFFF"/><circle cx="901.0" cy="494.9" r="5.0" fill="#F9DAE6"/><circle cx="924.0" cy="494.9" r="4.5" fill="#F9DAE6"/><circle cx="947.0" cy="494.9" r="4.6" fill="#F5C3D7"/><circle cx="751.7" cy="518.0" r="1.8" fill="#FFFFFF"/><circle cx="798.0" cy="518.0" r="2.0" fill="#FFFFFF"/><circle cx="901.0" cy="518.0" r="5.0" fill="#FAE1EB"/><circle cx="924.0" cy="518.0" r="4.4" fill="#F8D2E1"/><circle cx="947.0" cy="518.0" r="4.0" fill="#FAE1EB"/><circle cx="751.7" cy="541.0" r="1.5" fill="#FFFFFF"/><circle cx="798.0" cy="541.0" r="1.6" fill="#FFFFFF"/><circle cx="901.0" cy="541.0" r="4.6" fill="#FBE8F0"/><circle cx="924.0" cy="541.0" r="5.2" fill="#ED8EB3"/><circle cx="947.0" cy="541.0" r="4.0" fill="#FAE1EB"/><circle cx="751.7" cy="564.0" r="2.5" fill="#ED8EB3"/><circle cx="798.0" cy="564.0" r="3.0" fill="#F9DAE6"/><circle cx="901.0" cy="564.0" r="4.0" fill="#FEF8FA"/><circle cx="924.0" cy="564.0" r="4.6" fill="#F8D2E1"/><circle cx="947.0" cy="564.0" r="4.5" fill="#F9DAE6"/><circle cx="980.8" cy="564.0" r="1.6" fill="#FFFFFF"/><circle cx="751.7" cy="587.1" r="2.2" fill="#FAE1EB"/><circle cx="798.0" cy="587.1" r="3.8" fill="#EF9EBD"/><circle cx="844.3" cy="587.1" r="2.4" fill="#EF9EBD"/><circle cx="901.0" cy="587.1" r="5.6" fill="#F7CADC"/><circle cx="924.0" cy="587.1" r="5.6" fill="#F2ACC7"/><circle cx="947.0" cy="587.1" r="5.6" fill="#F3B4CC"/><circle cx="751.7" cy="610.1" r="2.0" fill="#FDF0F5"/><circle cx="798.0" cy="610.1" r="3.5" fill="#F1A5C2"/><circle cx="844.3" cy="610.1" r="2.4" fill="#F8D2E1"/><circle cx="901.0" cy="610.1" r="4.6" fill="#FDF0F5"/><circle cx="924.0" cy="610.1" r="4.6" fill="#FDF4F7"/><circle cx="947.0" cy="610.1" r="5.6" fill="#F5C3D7"/><circle cx="901.0" cy="633.2" r="5.6" fill="#EC87AE"/><circle cx="924.0" cy="633.2" r="2.8" fill="#FAE1EB"/><circle cx="947.0" cy="633.2" r="3.6" fill="#F1A5C2"/></g>
<text x="1052" y="234.6" class="D" font-size="15.9">Percent Expressed</text>
<circle cx="1061.7" cy="253.7" r="0.7" fill="#fff" stroke="#AAAAAA" stroke-width="0.7"/>
<text x="1080" y="258.7" class="D" font-size="13.6">0%</text>
<circle cx="1061.7" cy="271.4" r="2.2" fill="#fff" stroke="#AAAAAA" stroke-width="0.7"/>
<text x="1080" y="276.4" class="D" font-size="13.6">25%</text>
<circle cx="1061.7" cy="288.6" r="4.3" fill="#fff" stroke="#AAAAAA" stroke-width="0.7"/>
<text x="1080" y="293.6" class="D" font-size="13.6">50%</text>
<circle cx="1061.7" cy="306" r="6.0" fill="#fff" stroke="#AAAAAA" stroke-width="0.7"/>
<text x="1080" y="311.0" class="D" font-size="13.6">75%</text>
<circle cx="1061.7" cy="324.7" r="8.0" fill="#fff" stroke="#AAAAAA" stroke-width="0.7"/>
<text x="1080" y="329.7" class="D" font-size="13.6">100%</text>
<text x="1052" y="361" class="D" font-size="15.9">Average Expression</text>
<defs><linearGradient id="gpb" x1="0" y1="0" x2="0" y2="1"><stop offset="0" stop-color="#E7699A"/><stop offset="0.25" stop-color="#F2B2CB"/><stop offset="0.5" stop-color="#FFFFFF"/><stop offset="0.75" stop-color="#B6D8EB"/><stop offset="1" stop-color="#6BAED6"/></linearGradient></defs>
<rect x="1052.3" y="371.6" width="17.7" height="87" fill="url(#gpb)"/>
<text x="1077" y="376.6" class="D" font-size="13.6">2</text>
<text x="1077" y="398.4" class="D" font-size="13.6">1</text>
<text x="1077" y="420.1" class="D" font-size="13.6">0</text>
<text x="1077" y="441.9" class="D" font-size="13.6">-1</text>
<text x="1077" y="463.6" class="D" font-size="13.6">-2</text>
<rect x="1384.0" y="11.3" width="165.0" height="21.2" fill="#CCCCCC"/>
<text x="1466.5" y="26.9" class="D" font-size="13.6" text-anchor="middle">Exhaustion</text>
<rect x="1556.0" y="11.3" width="96.0" height="21.2" fill="#CCCCCC"/>
<text x="1604.0" y="26.9" class="D" font-size="13.6" text-anchor="middle">Sen ↑</text>
<rect x="1659.0" y="11.3" width="50.0" height="21.2" fill="#CCCCCC"/>
<text x="1684.0" y="26.9" class="D" font-size="13.6" text-anchor="middle">Sen ↓</text>
<rect x="1709.0" y="33.0" width="21.5" height="256.5" fill="#CCCCCC"/>
<text transform="translate(1714.8 161.2) rotate(90)" class="D" font-size="13.6" text-anchor="middle">CD4+ T Cell</text>
<rect x="1709.0" y="298.0" width="21.5" height="348.5" fill="#CCCCCC"/>
<text transform="translate(1714.8 472.2) rotate(90)" class="D" font-size="13.6" text-anchor="middle">CD8+ T Cell</text>
<text x="1347.5" y="49.7" class="D" font-size="13.7" text-anchor="end">CD4_Tn</text>
<path d="M1354.0 34.3L1379.5 45.9L1354.0 57.5Z" fill="#E2862E"/>
<text x="1347.5" y="72.8" class="D" font-size="13.7" text-anchor="end">CD4_Tcm_IFN</text>
<path d="M1354.0 57.5L1379.5 69.0L1354.0 80.6Z" fill="#5C68BE"/>
<text x="1347.5" y="96.0" class="D" font-size="13.7" text-anchor="end">CD4_Tcm_KLRB1</text>
<path d="M1354.0 80.6L1379.5 92.2L1354.0 103.8Z" fill="#9BD94A"/>
<text x="1347.5" y="119.1" class="D" font-size="13.7" text-anchor="end">CD4_Teff</text>
<path d="M1354.0 103.8L1379.5 115.3L1354.0 126.9Z" fill="#C25DC0"/>
<text x="1347.5" y="142.3" class="D" font-size="13.7" text-anchor="end">CD4_Tcm_NFKBIA</text>
<path d="M1354.0 126.9L1379.5 138.5L1354.0 150.0Z" fill="#2F7E62"/>
<text x="1347.5" y="165.4" class="D" font-size="13.7" text-anchor="end">CD4_Tem_IFN</text>
<path d="M1354.0 150.0L1379.5 161.6L1354.0 173.2Z" fill="#D6A632"/>
<text x="1347.5" y="188.5" class="D" font-size="13.7" text-anchor="end">CD4_Th</text>
<path d="M1354.0 173.2L1379.5 184.7L1354.0 196.3Z" fill="#4890CB"/>
<text x="1347.5" y="211.7" class="D" font-size="13.7" text-anchor="end">CD4_Teff_TNF</text>
<path d="M1354.0 196.3L1379.5 207.9L1354.0 219.5Z" fill="#6F47A7"/>
<text x="1347.5" y="234.8" class="D" font-size="13.7" text-anchor="end">Treg</text>
<path d="M1354.0 219.5L1379.5 231.0L1354.0 242.6Z" fill="#5FCBA0"/>
<text x="1347.5" y="258.0" class="D" font-size="13.7" text-anchor="end">CD4_CTL</text>
<path d="M1354.0 242.6L1379.5 254.2L1354.0 265.7Z" fill="#E65A4F"/>
<text x="1347.5" y="281.1" class="D" font-size="13.7" text-anchor="end">CD4_Th_LEF1</text>
<path d="M1354.0 265.7L1379.5 277.3L1354.0 288.9Z" fill="#D03C9E"/>
<rect x="1384.0" y="33.0" width="165.0" height="256.5" fill="#FFFFFF" stroke="#E6E6E6" stroke-width="1"/>
<rect x="1556.0" y="33.0" width="96.0" height="256.5" fill="#FFFFFF" stroke="#E6E6E6" stroke-width="1"/>
<rect x="1659.0" y="33.0" width="50.0" height="256.5" fill="#FFFFFF" stroke="#E6E6E6" stroke-width="1"/>
<path d="M1383.6 33.0V289.5" stroke="#222" stroke-width="1.6"/>
<text x="1347.5" y="315.1" class="D" font-size="13.7" text-anchor="end">CD8_Tn</text>
<path d="M1354.0 299.8L1379.5 311.3L1354.0 322.8Z" fill="#7C5A7C"/>
<text x="1347.5" y="338.1" class="D" font-size="13.7" text-anchor="end">CD8_Tcm</text>
<path d="M1354.0 322.8L1379.5 334.3L1354.0 345.8Z" fill="#B48A62"/>
<text x="1347.5" y="361.1" class="D" font-size="13.7" text-anchor="end">CD8_Tcm_GZMK</text>
<path d="M1354.0 345.8L1379.5 357.3L1354.0 368.8Z" fill="#D6985C"/>
<text x="1347.5" y="384.1" class="D" font-size="13.7" text-anchor="end">MAIT</text>
<path d="M1354.0 368.8L1379.5 380.3L1354.0 391.8Z" fill="#686E4E"/>
<text x="1347.5" y="407.1" class="D" font-size="13.7" text-anchor="end">CD8_Tem_NFKB</text>
<path d="M1354.0 391.8L1379.5 403.3L1354.0 414.8Z" fill="#896848"/>
<text x="1347.5" y="430.1" class="D" font-size="13.7" text-anchor="end">CD8_Tem</text>
<path d="M1354.0 414.8L1379.5 426.3L1354.0 437.8Z" fill="#B65C4A"/>
<text x="1347.5" y="453.1" class="D" font-size="13.7" text-anchor="end">CD8_Teff_HLA</text>
<path d="M1354.0 437.8L1379.5 449.3L1354.0 460.8Z" fill="#4B6B80"/>
<text x="1347.5" y="476.1" class="D" font-size="13.7" text-anchor="end">CD8_Teff_TNF</text>
<path d="M1354.0 460.8L1379.5 472.3L1354.0 483.8Z" fill="#7C6080"/>
<text x="1347.5" y="499.1" class="D" font-size="13.7" text-anchor="end">CD8_Teff</text>
<path d="M1354.0 483.8L1379.5 495.3L1354.0 506.8Z" fill="#50598A"/>
<text x="1347.5" y="522.1" class="D" font-size="13.7" text-anchor="end">CD8_Teff_b</text>
<path d="M1354.0 506.8L1379.5 518.3L1354.0 529.8Z" fill="#5A4E7A"/>
<text x="1347.5" y="545.1" class="D" font-size="13.7" text-anchor="end">CD8_Teff_c</text>
<path d="M1354.0 529.8L1379.5 541.3L1354.0 552.8Z" fill="#5A7858"/>
<text x="1347.5" y="568.1" class="D" font-size="13.7" text-anchor="end">CD8_Tem_IFN</text>
<path d="M1354.0 552.8L1379.5 564.3L1354.0 575.8Z" fill="#7A9A5A"/>
<text x="1347.5" y="591.1" class="D" font-size="13.7" text-anchor="end">CD8_T_adp</text>
<path d="M1354.0 575.8L1379.5 587.3L1354.0 598.8Z" fill="#A0A04E"/>
<text x="1347.5" y="614.1" class="D" font-size="13.7" text-anchor="end">CD8_T_adp_b</text>
<path d="M1354.0 598.8L1379.5 610.3L1354.0 621.8Z" fill="#A06A6A"/>
<text x="1347.5" y="637.1" class="D" font-size="13.7" text-anchor="end">CD8_T_Apoptotic</text>
<path d="M1354.0 621.8L1379.5 633.3L1354.0 644.8Z" fill="#3E7F80"/>
<rect x="1384.0" y="298.0" width="165.0" height="348.5" fill="#FFFFFF" stroke="#E6E6E6" stroke-width="1"/>
<rect x="1556.0" y="298.0" width="96.0" height="348.5" fill="#FFFFFF" stroke="#E6E6E6" stroke-width="1"/>
<rect x="1659.0" y="298.0" width="50.0" height="348.5" fill="#FFFFFF" stroke="#E6E6E6" stroke-width="1"/>
<path d="M1383.6 298.0V646.5" stroke="#222" stroke-width="1.6"/>
<path d="M1384.0 646.5H1549.0" stroke="#222" stroke-width="1.6"/>
<path d="M1397.4 646.5v4" stroke="#333" stroke-width="1.2"/>
<text transform="translate(1402.4 656) rotate(-90)" class="D" font-size="13.7" text-anchor="end">PDCD1</text>
<path d="M1420.5 646.5v4" stroke="#333" stroke-width="1.2"/>
<text transform="translate(1425.5 656) rotate(-90)" class="D" font-size="13.7" text-anchor="end">HAVCR2</text>
<path d="M1443.7 646.5v4" stroke="#333" stroke-width="1.2"/>
<text transform="translate(1448.7 656) rotate(-90)" class="D" font-size="13.7" text-anchor="end">LAG3</text>
<path d="M1466.8 646.5v4" stroke="#333" stroke-width="1.2"/>
<text transform="translate(1471.8 656) rotate(-90)" class="D" font-size="13.7" text-anchor="end">CTLA4</text>
<path d="M1490.0 646.5v4" stroke="#333" stroke-width="1.2"/>
<text transform="translate(1495.0 656) rotate(-90)" class="D" font-size="13.7" text-anchor="end">TIGIT</text>
<path d="M1513.1 646.5v4" stroke="#333" stroke-width="1.2"/>
<text transform="translate(1518.1 656) rotate(-90)" class="D" font-size="13.7" text-anchor="end">TOX</text>
<path d="M1536.2 646.5v4" stroke="#333" stroke-width="1.2"/>
<text transform="translate(1541.2 656) rotate(-90)" class="D" font-size="13.7" text-anchor="end">CD160</text>
<path d="M1556.0 646.5H1652.0" stroke="#222" stroke-width="1.6"/>
<path d="M1569.0 646.5v4" stroke="#333" stroke-width="1.2"/>
<text transform="translate(1574.0 656) rotate(-90)" class="D" font-size="13.7" text-anchor="end">B3GAT1</text>
<path d="M1592.3 646.5v4" stroke="#333" stroke-width="1.2"/>
<text transform="translate(1597.3 656) rotate(-90)" class="D" font-size="13.7" text-anchor="end">ZEB2</text>
<path d="M1615.7 646.5v4" stroke="#333" stroke-width="1.2"/>
<text transform="translate(1620.7 656) rotate(-90)" class="D" font-size="13.7" text-anchor="end">KLRG1</text>
<path d="M1639.0 646.5v4" stroke="#333" stroke-width="1.2"/>
<text transform="translate(1644.0 656) rotate(-90)" class="D" font-size="13.7" text-anchor="end">KLRK1</text>
<path d="M1659.0 646.5H1709.0" stroke="#222" stroke-width="1.6"/>
<path d="M1672.2 646.5v4" stroke="#333" stroke-width="1.2"/>
<text transform="translate(1677.2 656) rotate(-90)" class="D" font-size="13.7" text-anchor="end">CD27</text>
<path d="M1695.4 646.5v4" stroke="#333" stroke-width="1.2"/>
<text transform="translate(1700.4 656) rotate(-90)" class="D" font-size="13.7" text-anchor="end">CD28</text>
<g stroke="#D9DDE2" stroke-width="0.6"><rect x="1385.8" y="34.3" width="23.1" height="23.1" fill="#90C2E0"/><rect x="1409.0" y="34.3" width="23.1" height="23.1" fill="#E3F0F7"/><rect x="1432.1" y="34.3" width="23.1" height="23.1" fill="#ACD1E8"/><rect x="1455.3" y="34.3" width="23.1" height="23.1" fill="#FFFFFF"/><rect x="1478.4" y="34.3" width="23.1" height="23.1" fill="#ACD1E8"/><rect x="1501.5" y="34.3" width="23.1" height="23.1" fill="#90C2E0"/><rect x="1524.7" y="34.3" width="23.1" height="23.1" fill="#C8E1F0"/><rect x="1557.3" y="34.3" width="23.4" height="23.1" fill="#C8E1F0"/><rect x="1580.7" y="34.3" width="23.4" height="23.1" fill="#C8E1F0"/><rect x="1604.0" y="34.3" width="23.4" height="23.1" fill="#ACD1E8"/><rect x="1627.4" y="34.3" width="23.4" height="23.1" fill="#ACD1E8"/><rect x="1660.6" y="34.3" width="23.2" height="23.1" fill="#F4BCD2"/><rect x="1683.8" y="34.3" width="23.2" height="23.1" fill="#FAE3EC"/><rect x="1385.8" y="57.5" width="23.1" height="23.1" fill="#90C2E0"/><rect x="1409.0" y="57.5" width="23.1" height="23.1" fill="#EEF6FA"/><rect x="1432.1" y="57.5" width="23.1" height="23.1" fill="#ACD1E8"/><rect x="1455.3" y="57.5" width="23.1" height="23.1" fill="#FFFFFF"/><rect x="1478.4" y="57.5" width="23.1" height="23.1" fill="#ACD1E8"/><rect x="1501.5" y="57.5" width="23.1" height="23.1" fill="#90C2E0"/><rect x="1524.7" y="57.5" width="23.1" height="23.1" fill="#C8E1F0"/><rect x="1557.3" y="57.5" width="23.4" height="23.1" fill="#C8E1F0"/><rect x="1580.7" y="57.5" width="23.4" height="23.1" fill="#C8E1F0"/><rect x="1604.0" y="57.5" width="23.4" height="23.1" fill="#ACD1E8"/><rect x="1627.4" y="57.5" width="23.4" height="23.1" fill="#ACD1E8"/><rect x="1660.6" y="57.5" width="23.2" height="23.1" fill="#F2ABC6"/><rect x="1683.8" y="57.5" width="23.2" height="23.1" fill="#F8D2E1"/><rect x="1385.8" y="80.6" width="23.1" height="23.1" fill="#C8E1F0"/><rect x="1409.0" y="80.6" width="23.1" height="23.1" fill="#D3E7F3"/><rect x="1432.1" y="80.6" width="23.1" height="23.1" fill="#ACD1E8"/><rect x="1455.3" y="80.6" width="23.1" height="23.1" fill="#FFFFFF"/><rect x="1478.4" y="80.6" width="23.1" height="23.1" fill="#C8E1F0"/><rect x="1501.5" y="80.6" width="23.1" height="23.1" fill="#B7D8EB"/><rect x="1524.7" y="80.6" width="23.1" height="23.1" fill="#C8E1F0"/><rect x="1557.3" y="80.6" width="23.4" height="23.1" fill="#C8E1F0"/><rect x="1580.7" y="80.6" width="23.4" height="23.1" fill="#C8E1F0"/><rect x="1604.0" y="80.6" width="23.4" height="23.1" fill="#BCDBED"/><rect x="1627.4" y="80.6" width="23.4" height="23.1" fill="#A6CEE6"/><rect x="1660.6" y="80.6" width="23.2" height="23.1" fill="#F9D8E4"/><rect x="1683.8" y="80.6" width="23.2" height="23.1" fill="#F3B6CE"/><rect x="1385.8" y="103.8" width="23.1" height="23.1" fill="#FADDE8"/><rect x="1409.0" y="103.8" width="23.1" height="23.1" fill="#E3F0F7"/><rect x="1432.1" y="103.8" width="23.1" height="23.1" fill="#C8E1F0"/><rect x="1455.3" y="103.8" width="23.1" height="23.1" fill="#F9FCFD"/><rect x="1478.4" y="103.8" width="23.1" height="23.1" fill="#C8E1F0"/><rect x="1501.5" y="103.8" width="23.1" height="23.1" fill="#C8E1F0"/><rect x="1524.7" y="103.8" width="23.1" height="23.1" fill="#C8E1F0"/><rect x="1557.3" y="103.8" width="23.4" height="23.1" fill="#C8E1F0"/><rect x="1580.7" y="103.8" width="23.4" height="23.1" fill="#C8E1F0"/><rect x="1604.0" y="103.8" width="23.4" height="23.1" fill="#E9F3F9"/><rect x="1627.4" y="103.8" width="23.4" height="23.1" fill="#A6CEE6"/><rect x="1660.6" y="103.8" width="23.2" height="23.1" fill="#FCEEF4"/><rect x="1683.8" y="103.8" width="23.2" height="23.1" fill="#F7CCDD"/><rect x="1385.8" y="126.9" width="23.1" height="23.1" fill="#C8E1F0"/><rect x="1409.0" y="126.9" width="23.1" height="23.1" fill="#C8E1F0"/><rect x="1432.1" y="126.9" width="23.1" height="23.1" fill="#ACD1E8"/><rect x="1455.3" y="126.9" width="23.1" height="23.1" fill="#FEF9FB"/><rect x="1478.4" y="126.9" width="23.1" height="23.1" fill="#BCDBED"/><rect x="1501.5" y="126.9" width="23.1" height="23.1" fill="#BCDBED"/><rect x="1524.7" y="126.9" width="23.1" height="23.1" fill="#C2DEEE"/><rect x="1557.3" y="126.9" width="23.4" height="23.1" fill="#C8E1F0"/><rect x="1580.7" y="126.9" width="23.4" height="23.1" fill="#C8E1F0"/><rect x="1604.0" y="126.9" width="23.4" height="23.1" fill="#B7D8EB"/><rect x="1627.4" y="126.9" width="23.4" height="23.1" fill="#A6CEE6"/><rect x="1660.6" y="126.9" width="23.2" height="23.1" fill="#F9FCFD"/><rect x="1683.8" y="126.9" width="23.2" height="23.1" fill="#FAE3EC"/><rect x="1385.8" y="150.0" width="23.1" height="23.1" fill="#EEF6FA"/><rect x="1409.0" y="150.0" width="23.1" height="23.1" fill="#D3E7F3"/><rect x="1432.1" y="150.0" width="23.1" height="23.1" fill="#C8E1F0"/><rect x="1455.3" y="150.0" width="23.1" height="23.1" fill="#FDF4F7"/><rect x="1478.4" y="150.0" width="23.1" height="23.1" fill="#E3F0F7"/><rect x="1501.5" y="150.0" width="23.1" height="23.1" fill="#BCDBED"/><rect x="1524.7" y="150.0" width="23.1" height="23.1" fill="#C2DEEE"/><rect x="1557.3" y="150.0" width="23.4" height="23.1" fill="#C8E1F0"/><rect x="1580.7" y="150.0" width="23.4" height="23.1" fill="#C8E1F0"/><rect x="1604.0" y="150.0" width="23.4" height="23.1" fill="#C2DEEE"/><rect x="1627.4" y="150.0" width="23.4" height="23.1" fill="#A6CEE6"/><rect x="1660.6" y="150.0" width="23.2" height="23.1" fill="#F8D2E1"/><rect x="1683.8" y="150.0" width="23.2" height="23.1" fill="#F1A5C2"/><rect x="1385.8" y="173.2" width="23.1" height="23.1" fill="#F9D8E4"/><rect x="1409.0" y="173.2" width="23.1" height="23.1" fill="#D3E7F3"/><rect x="1432.1" y="173.2" width="23.1" height="23.1" fill="#C8E1F0"/><rect x="1455.3" y="173.2" width="23.1" height="23.1" fill="#FADDE8"/><rect x="1478.4" y="173.2" width="23.1" height="23.1" fill="#C8E1F0"/><rect x="1501.5" y="173.2" width="23.1" height="23.1" fill="#E9F3F9"/><rect x="1524.7" y="173.2" width="23.1" height="23.1" fill="#C2DEEE"/><rect x="1557.3" y="173.2" width="23.4" height="23.1" fill="#C8E1F0"/><rect x="1580.7" y="173.2" width="23.4" height="23.1" fill="#C8E1F0"/><rect x="1604.0" y="173.2" width="23.4" height="23.1" fill="#BCDBED"/><rect x="1627.4" y="173.2" width="23.4" height="23.1" fill="#A6CEE6"/><rect x="1660.6" y="173.2" width="23.2" height="23.1" fill="#FFFFFF"/><rect x="1683.8" y="173.2" width="23.2" height="23.1" fill="#F3B6CE"/><rect x="1385.8" y="196.3" width="23.1" height="23.1" fill="#BCDBED"/><rect x="1409.0" y="196.3" width="23.1" height="23.1" fill="#C8E1F0"/><rect x="1432.1" y="196.3" width="23.1" height="23.1" fill="#C2DEEE"/><rect x="1455.3" y="196.3" width="23.1" height="23.1" fill="#FFFFFF"/><rect x="1478.4" y="196.3" width="23.1" height="23.1" fill="#BCDBED"/><rect x="1501.5" y="196.3" width="23.1" height="23.1" fill="#B1D4E9"/><rect x="1524.7" y="196.3" width="23.1" height="23.1" fill="#C2DEEE"/><rect x="1557.3" y="196.3" width="23.4" height="23.1" fill="#C8E1F0"/><rect x="1580.7" y="196.3" width="23.4" height="23.1" fill="#C8E1F0"/><rect x="1604.0" y="196.3" width="23.4" height="23.1" fill="#BCDBED"/><rect x="1627.4" y="196.3" width="23.4" height="23.1" fill="#A6CEE6"/><rect x="1660.6" y="196.3" width="23.2" height="23.1" fill="#FFFFFF"/><rect x="1683.8" y="196.3" width="23.2" height="23.1" fill="#FBE8F0"/><rect x="1385.8" y="219.5" width="23.1" height="23.1" fill="#FBE8F0"/><rect x="1409.0" y="219.5" width="23.1" height="23.1" fill="#FEF9FB"/><rect x="1432.1" y="219.5" width="23.1" height="23.1" fill="#BCDBED"/><rect x="1455.3" y="219.5" width="23.1" height="23.1" fill="#EA7EA8"/><rect x="1478.4" y="219.5" width="23.1" height="23.1" fill="#E978A4"/><rect x="1501.5" y="219.5" width="23.1" height="23.1" fill="#F3B6CE"/><rect x="1524.7" y="219.5" width="23.1" height="23.1" fill="#C2DEEE"/><rect x="1557.3" y="219.5" width="23.4" height="23.1" fill="#D8EAF4"/><rect x="1580.7" y="219.5" width="23.4" height="23.1" fill="#C8E1F0"/><rect x="1604.0" y="219.5" width="23.4" height="23.1" fill="#ACD1E8"/><rect x="1627.4" y="219.5" width="23.4" height="23.1" fill="#A6CEE6"/><rect x="1660.6" y="219.5" width="23.2" height="23.1" fill="#E978A4"/><rect x="1683.8" y="219.5" width="23.2" height="23.1" fill="#F1A5C2"/><rect x="1385.8" y="242.6" width="23.1" height="23.1" fill="#F3B6CE"/><rect x="1409.0" y="242.6" width="23.1" height="23.1" fill="#EEF6FA"/><rect x="1432.1" y="242.6" width="23.1" height="23.1" fill="#E3F0F7"/><rect x="1455.3" y="242.6" width="23.1" height="23.1" fill="#FEF9FB"/><rect x="1478.4" y="242.6" width="23.1" height="23.1" fill="#BCDBED"/><rect x="1501.5" y="242.6" width="23.1" height="23.1" fill="#FCEEF4"/><rect x="1524.7" y="242.6" width="23.1" height="23.1" fill="#C8E1F0"/><rect x="1557.3" y="242.6" width="23.4" height="23.1" fill="#F2ABC6"/><rect x="1580.7" y="242.6" width="23.4" height="23.1" fill="#F7CCDD"/><rect x="1604.0" y="242.6" width="23.4" height="23.1" fill="#F5C1D5"/><rect x="1627.4" y="242.6" width="23.4" height="23.1" fill="#C2DEEE"/><rect x="1660.6" y="242.6" width="23.2" height="23.1" fill="#85BCDD"/><rect x="1683.8" y="242.6" width="23.2" height="23.1" fill="#BCDBED"/><rect x="1385.8" y="265.7" width="23.1" height="23.1" fill="#C8E1F0"/><rect x="1409.0" y="265.7" width="23.1" height="23.1" fill="#E3F0F7"/><rect x="1432.1" y="265.7" width="23.1" height="23.1" fill="#BCDBED"/><rect x="1455.3" y="265.7" width="23.1" height="23.1" fill="#F8D2E1"/><rect x="1478.4" y="265.7" width="23.1" height="23.1" fill="#C8E1F0"/><rect x="1501.5" y="265.7" width="23.1" height="23.1" fill="#D3E7F3"/><rect x="1524.7" y="265.7" width="23.1" height="23.1" fill="#C8E1F0"/><rect x="1557.3" y="265.7" width="23.4" height="23.1" fill="#C8E1F0"/><rect x="1580.7" y="265.7" width="23.4" height="23.1" fill="#C8E1F0"/><rect x="1604.0" y="265.7" width="23.4" height="23.1" fill="#C8E1F0"/><rect x="1627.4" y="265.7" width="23.4" height="23.1" fill="#C8E1F0"/><rect x="1660.6" y="265.7" width="23.2" height="23.1" fill="#E9F3F9"/><rect x="1683.8" y="265.7" width="23.2" height="23.1" fill="#E978A4"/></g>
<g stroke="#D9DDE2" stroke-width="0.6"><rect x="1385.8" y="299.8" width="23.1" height="23.0" fill="#90C2E0"/><rect x="1409.0" y="299.8" width="23.1" height="23.0" fill="#E3F0F7"/><rect x="1432.1" y="299.8" width="23.1" height="23.0" fill="#ACD1E8"/><rect x="1455.3" y="299.8" width="23.1" height="23.0" fill="#DEEDF6"/><rect x="1478.4" y="299.8" width="23.1" height="23.0" fill="#ACD1E8"/><rect x="1501.5" y="299.8" width="23.1" height="23.0" fill="#9BC8E3"/><rect x="1524.7" y="299.8" width="23.1" height="23.0" fill="#BCDBED"/><rect x="1557.3" y="299.8" width="23.4" height="23.0" fill="#BCDBED"/><rect x="1580.7" y="299.8" width="23.4" height="23.0" fill="#BCDBED"/><rect x="1604.0" y="299.8" width="23.4" height="23.0" fill="#9BC8E3"/><rect x="1627.4" y="299.8" width="23.4" height="23.0" fill="#FBE8F0"/><rect x="1660.6" y="299.8" width="23.2" height="23.0" fill="#F09FBF"/><rect x="1683.8" y="299.8" width="23.2" height="23.0" fill="#F4F9FC"/><rect x="1385.8" y="322.8" width="23.1" height="23.0" fill="#A6CEE6"/><rect x="1409.0" y="322.8" width="23.1" height="23.0" fill="#D3E7F3"/><rect x="1432.1" y="322.8" width="23.1" height="23.0" fill="#C2DEEE"/><rect x="1455.3" y="322.8" width="23.1" height="23.0" fill="#DEEDF6"/><rect x="1478.4" y="322.8" width="23.1" height="23.0" fill="#C2DEEE"/><rect x="1501.5" y="322.8" width="23.1" height="23.0" fill="#96C5E2"/><rect x="1524.7" y="322.8" width="23.1" height="23.0" fill="#B7D8EB"/><rect x="1557.3" y="322.8" width="23.4" height="23.0" fill="#BCDBED"/><rect x="1580.7" y="322.8" width="23.4" height="23.0" fill="#BCDBED"/><rect x="1604.0" y="322.8" width="23.4" height="23.0" fill="#BCDBED"/><rect x="1627.4" y="322.8" width="23.4" height="23.0" fill="#FBE8F0"/><rect x="1660.6" y="322.8" width="23.2" height="23.0" fill="#FAE3EC"/><rect x="1683.8" y="322.8" width="23.2" height="23.0" fill="#FCEEF4"/><rect x="1385.8" y="345.8" width="23.1" height="23.0" fill="#FADDE8"/><rect x="1409.0" y="345.8" width="23.1" height="23.0" fill="#E3F0F7"/><rect x="1432.1" y="345.8" width="23.1" height="23.0" fill="#FAE3EC"/><rect x="1455.3" y="345.8" width="23.1" height="23.0" fill="#DEEDF6"/><rect x="1478.4" y="345.8" width="23.1" height="23.0" fill="#FEF9FB"/><rect x="1501.5" y="345.8" width="23.1" height="23.0" fill="#E9F3F9"/><rect x="1524.7" y="345.8" width="23.1" height="23.0" fill="#F9D8E4"/><rect x="1557.3" y="345.8" width="23.4" height="23.0" fill="#BCDBED"/><rect x="1580.7" y="345.8" width="23.4" height="23.0" fill="#C8E1F0"/><rect x="1604.0" y="345.8" width="23.4" height="23.0" fill="#E9F3F9"/><rect x="1627.4" y="345.8" width="23.4" height="23.0" fill="#F5C1D5"/><rect x="1660.6" y="345.8" width="23.2" height="23.0" fill="#F2ABC6"/><rect x="1683.8" y="345.8" width="23.2" height="23.0" fill="#FFFFFF"/><rect x="1385.8" y="368.8" width="23.1" height="23.0" fill="#E3F0F7"/><rect x="1409.0" y="368.8" width="23.1" height="23.0" fill="#E3F0F7"/><rect x="1432.1" y="368.8" width="23.1" height="23.0" fill="#FADDE8"/><rect x="1455.3" y="368.8" width="23.1" height="23.0" fill="#D3E7F3"/><rect x="1478.4" y="368.8" width="23.1" height="23.0" fill="#B1D4E9"/><rect x="1501.5" y="368.8" width="23.1" height="23.0" fill="#BCDBED"/><rect x="1524.7" y="368.8" width="23.1" height="23.0" fill="#F9D8E4"/><rect x="1557.3" y="368.8" width="23.4" height="23.0" fill="#BCDBED"/><rect x="1580.7" y="368.8" width="23.4" height="23.0" fill="#C2DEEE"/><rect x="1604.0" y="368.8" width="23.4" height="23.0" fill="#F1A5C2"/><rect x="1627.4" y="368.8" width="23.4" height="23.0" fill="#FFFFFF"/><rect x="1660.6" y="368.8" width="23.2" height="23.0" fill="#F4F9FC"/><rect x="1683.8" y="368.8" width="23.2" height="23.0" fill="#FADDE8"/><rect x="1385.8" y="391.8" width="23.1" height="23.0" fill="#F8D2E1"/><rect x="1409.0" y="391.8" width="23.1" height="23.0" fill="#EEF6FA"/><rect x="1432.1" y="391.8" width="23.1" height="23.0" fill="#FADDE8"/><rect x="1455.3" y="391.8" width="23.1" height="23.0" fill="#DEEDF6"/><rect x="1478.4" y="391.8" width="23.1" height="23.0" fill="#FFFFFF"/><rect x="1501.5" y="391.8" width="23.1" height="23.0" fill="#F4BCD2"/><rect x="1524.7" y="391.8" width="23.1" height="23.0" fill="#F8D2E1"/><rect x="1557.3" y="391.8" width="23.4" height="23.0" fill="#D8EAF4"/><rect x="1580.7" y="391.8" width="23.4" height="23.0" fill="#FCEEF4"/><rect x="1604.0" y="391.8" width="23.4" height="23.0" fill="#DEEDF6"/><rect x="1627.4" y="391.8" width="23.4" height="23.0" fill="#FFFFFF"/><rect x="1660.6" y="391.8" width="23.2" height="23.0" fill="#D8EAF4"/><rect x="1683.8" y="391.8" width="23.2" height="23.0" fill="#D3E7F3"/><rect x="1385.8" y="414.8" width="23.1" height="23.0" fill="#EA7EA8"/><rect x="1409.0" y="414.8" width="23.1" height="23.0" fill="#FEF9FB"/><rect x="1432.1" y="414.8" width="23.1" height="23.0" fill="#F4BCD2"/><rect x="1455.3" y="414.8" width="23.1" height="23.0" fill="#E3F0F7"/><rect x="1478.4" y="414.8" width="23.1" height="23.0" fill="#EA7EA8"/><rect x="1501.5" y="414.8" width="23.1" height="23.0" fill="#E978A4"/><rect x="1524.7" y="414.8" width="23.1" height="23.0" fill="#EA7EA8"/><rect x="1557.3" y="414.8" width="23.4" height="23.0" fill="#DEEDF6"/><rect x="1580.7" y="414.8" width="23.4" height="23.0" fill="#FFFFFF"/><rect x="1604.0" y="414.8" width="23.4" height="23.0" fill="#F3B6CE"/><rect x="1627.4" y="414.8" width="23.4" height="23.0" fill="#F3B6CE"/><rect x="1660.6" y="414.8" width="23.2" height="23.0" fill="#F7CCDD"/><rect x="1683.8" y="414.8" width="23.2" height="23.0" fill="#D8EAF4"/><rect x="1385.8" y="437.8" width="23.1" height="23.0" fill="#F4BCD2"/><rect x="1409.0" y="437.8" width="23.1" height="23.0" fill="#FFFFFF"/><rect x="1432.1" y="437.8" width="23.1" height="23.0" fill="#F2ABC6"/><rect x="1455.3" y="437.8" width="23.1" height="23.0" fill="#D3E7F3"/><rect x="1478.4" y="437.8" width="23.1" height="23.0" fill="#F6C7D9"/><rect x="1501.5" y="437.8" width="23.1" height="23.0" fill="#FADDE8"/><rect x="1524.7" y="437.8" width="23.1" height="23.0" fill="#ED8EB3"/><rect x="1557.3" y="437.8" width="23.4" height="23.0" fill="#F4F9FC"/><rect x="1580.7" y="437.8" width="23.4" height="23.0" fill="#FCEEF4"/><rect x="1604.0" y="437.8" width="23.4" height="23.0" fill="#F4BCD2"/><rect x="1627.4" y="437.8" width="23.4" height="23.0" fill="#F2ABC6"/><rect x="1660.6" y="437.8" width="23.2" height="23.0" fill="#FCEEF4"/><rect x="1683.8" y="437.8" width="23.2" height="23.0" fill="#C2DEEE"/><rect x="1385.8" y="460.8" width="23.1" height="23.0" fill="#F4F9FC"/><rect x="1409.0" y="460.8" width="23.1" height="23.0" fill="#FEF9FB"/><rect x="1432.1" y="460.8" width="23.1" height="23.0" fill="#FAE3EC"/><rect x="1455.3" y="460.8" width="23.1" height="23.0" fill="#DEEDF6"/><rect x="1478.4" y="460.8" width="23.1" height="23.0" fill="#FDF4F7"/><rect x="1501.5" y="460.8" width="23.1" height="23.0" fill="#FCEEF4"/><rect x="1524.7" y="460.8" width="23.1" height="23.0" fill="#FFFFFF"/><rect x="1557.3" y="460.8" width="23.4" height="23.0" fill="#F8D2E1"/><rect x="1580.7" y="460.8" width="23.4" height="23.0" fill="#F2ABC6"/><rect x="1604.0" y="460.8" width="23.4" height="23.0" fill="#FFFFFF"/><rect x="1627.4" y="460.8" width="23.4" height="23.0" fill="#FBE8F0"/><rect x="1660.6" y="460.8" width="23.2" height="23.0" fill="#96C5E2"/><rect x="1683.8" y="460.8" width="23.2" height="23.0" fill="#96C5E2"/><rect x="1385.8" y="483.8" width="23.1" height="23.0" fill="#FEF9FB"/><rect x="1409.0" y="483.8" width="23.1" height="23.0" fill="#FEF9FB"/><rect x="1432.1" y="483.8" width="23.1" height="23.0" fill="#FADDE8"/><rect x="1455.3" y="483.8" width="23.1" height="23.0" fill="#D8EAF4"/><rect x="1478.4" y="483.8" width="23.1" height="23.0" fill="#F9FCFD"/><rect x="1501.5" y="483.8" width="23.1" height="23.0" fill="#FCEEF4"/><rect x="1524.7" y="483.8" width="23.1" height="23.0" fill="#F9FCFD"/><rect x="1557.3" y="483.8" width="23.4" height="23.0" fill="#F2ABC6"/><rect x="1580.7" y="483.8" width="23.4" height="23.0" fill="#F5C1D5"/><rect x="1604.0" y="483.8" width="23.4" height="23.0" fill="#F6C7D9"/><rect x="1627.4" y="483.8" width="23.4" height="23.0" fill="#F2B0CA"/><rect x="1660.6" y="483.8" width="23.2" height="23.0" fill="#96C5E2"/><rect x="1683.8" y="483.8" width="23.2" height="23.0" fill="#96C5E2"/><rect x="1385.8" y="506.8" width="23.1" height="23.0" fill="#FADDE8"/><rect x="1409.0" y="506.8" width="23.1" height="23.0" fill="#FCEEF4"/><rect x="1432.1" y="506.8" width="23.1" height="23.0" fill="#F9D8E4"/><rect x="1455.3" y="506.8" width="23.1" height="23.0" fill="#D3E7F3"/><rect x="1478.4" y="506.8" width="23.1" height="23.0" fill="#FFFFFF"/><rect x="1501.5" y="506.8" width="23.1" height="23.0" fill="#FBE8F0"/><rect x="1524.7" y="506.8" width="23.1" height="23.0" fill="#FFFFFF"/><rect x="1557.3" y="506.8" width="23.4" height="23.0" fill="#F2ABC6"/><rect x="1580.7" y="506.8" width="23.4" height="23.0" fill="#F8D2E1"/><rect x="1604.0" y="506.8" width="23.4" height="23.0" fill="#F6C7D9"/><rect x="1627.4" y="506.8" width="23.4" height="23.0" fill="#FADDE8"/><rect x="1660.6" y="506.8" width="23.2" height="23.0" fill="#A1CBE5"/><rect x="1683.8" y="506.8" width="23.2" height="23.0" fill="#96C5E2"/><rect x="1385.8" y="529.8" width="23.1" height="23.0" fill="#FEF9FB"/><rect x="1409.0" y="529.8" width="23.1" height="23.0" fill="#C8E1F0"/><rect x="1432.1" y="529.8" width="23.1" height="23.0" fill="#FADDE8"/><rect x="1455.3" y="529.8" width="23.1" height="23.0" fill="#CDE4F1"/><rect x="1478.4" y="529.8" width="23.1" height="23.0" fill="#FFFFFF"/><rect x="1501.5" y="529.8" width="23.1" height="23.0" fill="#FFFFFF"/><rect x="1524.7" y="529.8" width="23.1" height="23.0" fill="#FFFFFF"/><rect x="1557.3" y="529.8" width="23.4" height="23.0" fill="#FCEEF4"/><rect x="1580.7" y="529.8" width="23.4" height="23.0" fill="#F8D2E1"/><rect x="1604.0" y="529.8" width="23.4" height="23.0" fill="#EA7EA8"/><rect x="1627.4" y="529.8" width="23.4" height="23.0" fill="#F6C7D9"/><rect x="1660.6" y="529.8" width="23.2" height="23.0" fill="#96C5E2"/><rect x="1683.8" y="529.8" width="23.2" height="23.0" fill="#96C5E2"/><rect x="1385.8" y="552.8" width="23.1" height="23.0" fill="#F2B0CA"/><rect x="1409.0" y="552.8" width="23.1" height="23.0" fill="#FFFFFF"/><rect x="1432.1" y="552.8" width="23.1" height="23.0" fill="#EA7EA8"/><rect x="1455.3" y="552.8" width="23.1" height="23.0" fill="#F4F9FC"/><rect x="1478.4" y="552.8" width="23.1" height="23.0" fill="#F4BCD2"/><rect x="1501.5" y="552.8" width="23.1" height="23.0" fill="#F7CCDD"/><rect x="1524.7" y="552.8" width="23.1" height="23.0" fill="#F7CCDD"/><rect x="1557.3" y="552.8" width="23.4" height="23.0" fill="#FCEEF4"/><rect x="1580.7" y="552.8" width="23.4" height="23.0" fill="#FCEEF4"/><rect x="1604.0" y="552.8" width="23.4" height="23.0" fill="#F5C1D5"/><rect x="1627.4" y="552.8" width="23.4" height="23.0" fill="#F5C1D5"/><rect x="1660.6" y="552.8" width="23.2" height="23.0" fill="#EEF6FA"/><rect x="1683.8" y="552.8" width="23.2" height="23.0" fill="#D8EAF4"/><rect x="1385.8" y="575.8" width="23.1" height="23.0" fill="#F4F9FC"/><rect x="1409.0" y="575.8" width="23.1" height="23.0" fill="#F8D2E1"/><rect x="1432.1" y="575.8" width="23.1" height="23.0" fill="#F4BCD2"/><rect x="1455.3" y="575.8" width="23.1" height="23.0" fill="#D3E7F3"/><rect x="1478.4" y="575.8" width="23.1" height="23.0" fill="#EB83AC"/><rect x="1501.5" y="575.8" width="23.1" height="23.0" fill="#F2ABC6"/><rect x="1524.7" y="575.8" width="23.1" height="23.0" fill="#EA7EA8"/><rect x="1557.3" y="575.8" width="23.4" height="23.0" fill="#F2B0CA"/><rect x="1580.7" y="575.8" width="23.4" height="23.0" fill="#F2B0CA"/><rect x="1604.0" y="575.8" width="23.4" height="23.0" fill="#F1A5C2"/><rect x="1627.4" y="575.8" width="23.4" height="23.0" fill="#F09FBF"/><rect x="1660.6" y="575.8" width="23.2" height="23.0" fill="#A1CBE5"/><rect x="1683.8" y="575.8" width="23.2" height="23.0" fill="#90C2E0"/><rect x="1385.8" y="598.8" width="23.1" height="23.0" fill="#96C5E2"/><rect x="1409.0" y="598.8" width="23.1" height="23.0" fill="#FADDE8"/><rect x="1432.1" y="598.8" width="23.1" height="23.0" fill="#F8D2E1"/><rect x="1455.3" y="598.8" width="23.1" height="23.0" fill="#CDE4F1"/><rect x="1478.4" y="598.8" width="23.1" height="23.0" fill="#EB83AC"/><rect x="1501.5" y="598.8" width="23.1" height="23.0" fill="#FCEEF4"/><rect x="1524.7" y="598.8" width="23.1" height="23.0" fill="#F3B6CE"/><rect x="1557.3" y="598.8" width="23.4" height="23.0" fill="#FCEEF4"/><rect x="1580.7" y="598.8" width="23.4" height="23.0" fill="#FAE3EC"/><rect x="1604.0" y="598.8" width="23.4" height="23.0" fill="#FADDE8"/><rect x="1627.4" y="598.8" width="23.4" height="23.0" fill="#F2ABC6"/><rect x="1660.6" y="598.8" width="23.2" height="23.0" fill="#BCDBED"/><rect x="1683.8" y="598.8" width="23.2" height="23.0" fill="#A1CBE5"/><rect x="1385.8" y="621.8" width="23.1" height="23.0" fill="#FBE8F0"/><rect x="1409.0" y="621.8" width="23.1" height="23.0" fill="#EA7EA8"/><rect x="1432.1" y="621.8" width="23.1" height="23.0" fill="#FADDE8"/><rect x="1455.3" y="621.8" width="23.1" height="23.0" fill="#EEF6FA"/><rect x="1478.4" y="621.8" width="23.1" height="23.0" fill="#FEF9FB"/><rect x="1501.5" y="621.8" width="23.1" height="23.0" fill="#EA7EA8"/><rect x="1524.7" y="621.8" width="23.1" height="23.0" fill="#FCEEF4"/><rect x="1557.3" y="621.8" width="23.4" height="23.0" fill="#EA7EA8"/><rect x="1580.7" y="621.8" width="23.4" height="23.0" fill="#EA7EA8"/><rect x="1604.0" y="621.8" width="23.4" height="23.0" fill="#FADDE8"/><rect x="1627.4" y="621.8" width="23.4" height="23.0" fill="#F1A5C2"/><rect x="1660.6" y="621.8" width="23.2" height="23.0" fill="#A1CBE5"/><rect x="1683.8" y="621.8" width="23.2" height="23.0" fill="#C2DEEE"/></g>
<text x="1743.7" y="298" class="D" font-size="16">Average Expression</text>
<rect x="1743.7" y="308" width="17.3" height="88" fill="url(#gpb)"/>
<text x="1768" y="313.0" class="D" font-size="13.6">2</text>
<text x="1768" y="335.0" class="D" font-size="13.6">1</text>
<text x="1768" y="357.0" class="D" font-size="13.6">0</text>
<text x="1768" y="379.0" class="D" font-size="13.6">-1</text>
<text x="1768" y="401.0" class="D" font-size="13.6">-2</text>
<text x="2.8" y="40.5" class="LB" font-size="52.5" fill="#1a1a1a">a</text>
<text x="9.3" y="385" class="LB" font-size="52.5" fill="#1a1a1a">b</text>
<text x="519.6" y="37.8" class="LB" font-size="52.5" fill="#1a1a1a">c</text>
<text x="1196.9" y="41.3" class="LB" font-size="52.5" fill="#1a1a1a">d</text>
<text x="9" y="744.5" class="LB" font-size="52.5" fill="#1a1a1a">e</text>
<text x="666" y="762.6" class="LB" font-size="52.5" fill="#1a1a1a">f</text>
<text x="1385.7" y="757" class="LB" font-size="52.5" fill="#1a1a1a">g</text>
<text x="7.2" y="1461" class="LB" font-size="52.5" fill="#1a1a1a">h</text>
<text x="12.8" y="1804" class="LB" font-size="52.5" fill="#1a1a1a">i</text>
<text x="15.9" y="2106" class="LB" font-size="52.5" fill="#1a1a1a">j</text>
<text x="106.7" y="2330.4" class="LB" font-size="52.5" fill="#1a1a1a">k</text>
<text x="402.3" y="2341" class="LB" font-size="52.5" fill="#1a1a1a">l</text>
<text x="672" y="2349.3" class="LB" font-size="52.5" fill="#1a1a1a">m</text>
<text x="105.9" y="743" class="L" font-size="27" textLength="317.6" lengthAdjust="spacingAndGlyphs">NSD2 (t(4;14)) + 1q21 Gain</text>
<path d="M99.4 767.0L143.9 817.5M143.9 817.5l-5.1 -22.4M143.9 817.5l-21.6 -7.9M153.4 829.6L219.1 910.5M219.1 910.5l-4.2 -22.6M219.1 910.5l-21.3 -8.7M229.0 921.7L142.6 913.1M142.6 913.1l19.0 13.0M142.6 913.1l21.2 -9.0M229.0 921.7L334.9 861.2M334.9 861.2l-23.0 0.4M334.9 861.2l-12.1 19.6M350.9 851.3L425.7 801.6M425.7 801.6l-22.9 2.0M425.7 801.6l-10.7 20.4M229.0 921.7L237.7 1042.3M237.7 1042.3l9.6 -20.9M237.7 1042.3l-12.4 -19.3M240.3 1055.2L250.6 1195.7M250.6 1195.7l9.5 -20.9M250.6 1195.7l-12.5 -19.3M253.2 1209.9L136.1 1190.5M136.1 1190.5l18.1 14.2M136.1 1190.5l21.7 -7.6M253.2 1209.9L325.0 1181.8M325.0 1181.8l-22.8 -2.9M325.0 1181.8l-14.8 17.6M253.2 1209.9L159.0 1240.2M159.0 1240.2l22.6 4.3M159.0 1240.2l15.8 -16.7M253.2 1209.9L370.4 1231.5M370.4 1231.5l-17.8 -14.5M370.4 1231.5l-21.9 7.2M253.2 1209.9L190.1 1290.3M190.1 1290.3l21.1 -9.1M190.1 1290.3l3.8 -22.7M253.2 1209.9L319.8 1297.7M319.8 1297.7l-3.4 -22.7M319.8 1297.7l-21.0 -9.4M329.3 1309.3L382.5 1380.6M382.5 1380.6l-3.2 -22.8M382.5 1380.6l-20.9 -9.6" stroke="#111" stroke-width="1.4" fill="none"/>
<circle cx="99.4" cy="767.0" r="7.8" fill="#4A9BC9" stroke="#222" stroke-width="0.9"/>
<circle cx="153.4" cy="829.6" r="4.3" fill="#C8B4AE" stroke="#222" stroke-width="0.9"/>
<circle cx="444.3" cy="790.8" r="5.2" fill="#D7754F" stroke="#222" stroke-width="0.9"/>
<circle cx="350.9" cy="851.3" r="8.6" fill="#A9B9C5" stroke="#222" stroke-width="0.9"/>
<circle cx="120.1" cy="910.9" r="5.6" fill="#C9B9B5" stroke="#222" stroke-width="0.9"/>
<circle cx="229.0" cy="921.7" r="7.3" fill="#4A9BC9" stroke="#222" stroke-width="0.9"/>
<circle cx="240.3" cy="1055.2" r="6.9" fill="#D9602E" stroke="#222" stroke-width="0.9"/>
<circle cx="253.2" cy="1209.9" r="9.5" fill="#D9602E" stroke="#222" stroke-width="0.9"/>
<circle cx="114.5" cy="1187.0" r="4.3" fill="#4A9BC9" stroke="#222" stroke-width="0.9"/>
<circle cx="344.4" cy="1174.5" r="5.6" fill="#A2B6C6" stroke="#222" stroke-width="0.9"/>
<circle cx="138.3" cy="1246.7" r="5.2" fill="#4A9BC9" stroke="#222" stroke-width="0.9"/>
<circle cx="392.0" cy="1235.9" r="2.6" fill="#C2C2C2" stroke="#222" stroke-width="0.9"/>
<circle cx="179.8" cy="1302.0" r="2.6" fill="#C7BEBA" stroke="#222" stroke-width="0.9"/>
<circle cx="329.3" cy="1309.3" r="6.0" fill="#D9602E" stroke="#222" stroke-width="0.9"/>
<circle cx="392.0" cy="1391.4" r="2.2" fill="#C4C4C4" stroke="#222" stroke-width="0.9"/>
<text x="99.4" y="790.2" class="D" font-size="19.4" text-anchor="middle" style="fill:#4A9BC9">CD8_Tn</text>
<text x="153.4" y="852.8" class="D" font-size="19.4" text-anchor="middle" style="fill:#C8B4AE">CD8_Tcm</text>
<text x="444.3" y="814.0" class="D" font-size="19.4" text-anchor="middle" style="fill:#D7754F">CD8_Tem_NFKB</text>
<text x="350.9" y="874.5" class="D" font-size="19.4" text-anchor="middle" style="fill:#A9B9C5">CD8_Tem</text>
<text x="120.1" y="934.1" class="D" font-size="19.4" text-anchor="middle" style="fill:#C9B9B5">MAIT</text>
<text x="229.0" y="944.9" class="D" font-size="19.4" text-anchor="middle" style="fill:#4A9BC9">CD8_Tcm_GZMK</text>
<text x="240.3" y="1078.4" class="D" font-size="19.4" text-anchor="middle" style="fill:#D9602E">CD8_Teff_HLA</text>
<text x="253.2" y="1233.1" class="D" font-size="19.4" text-anchor="middle" style="fill:#D9602E">CD8_Teff</text>
<text x="114.5" y="1210.2" class="D" font-size="19.4" text-anchor="middle" style="fill:#4A9BC9">CD8_Tem_IFN</text>
<text x="344.4" y="1197.7" class="D" font-size="19.4" text-anchor="middle" style="fill:#A2B6C6">CD8_T_Apoptotic</text>
<text x="138.3" y="1269.9" class="D" font-size="19.4" text-anchor="middle" style="fill:#4A9BC9">CD8_Teff_TNF</text>
<text x="392.0" y="1259.1" class="D" font-size="19.4" text-anchor="middle" style="fill:#C2C2C2">CD8_Teff_c</text>
<text x="179.8" y="1325.2" class="D" font-size="19.4" text-anchor="middle" style="fill:#C7BEBA">CD8_Teff_b</text>
<text x="329.3" y="1332.5" class="D" font-size="19.4" text-anchor="middle" style="fill:#D9602E">CD8_T_adp</text>
<text x="392.0" y="1414.6" class="D" font-size="19.4" text-anchor="middle" style="fill:#C4C4C4">CD8_T_adp_b</text>
<defs><linearGradient id="glo" x1="0" y1="0" x2="0" y2="1"><stop offset="0" stop-color="#DD6535"/><stop offset="0.5" stop-color="#CCC8C6"/><stop offset="1" stop-color="#4A98C8"/></linearGradient></defs>
<rect x="554.5" y="946.3" width="33.2" height="118" fill="url(#glo)"/>
<text x="596.0" y="954.3" class="D" font-size="14.9">0.2</text>
<text x="596.0" y="982.4" class="D" font-size="14.9">0.1</text>
<text x="596.0" y="1010.6" class="D" font-size="14.9">0.0</text>
<text x="596.0" y="1038.8" class="D" font-size="14.9">-0.1</text>
<text x="596.0" y="1066.9" class="D" font-size="14.9">-0.2</text>
<path d="M554.5 949.0h5M587.7 949.0h-5M554.5 977.1h5M587.7 977.1h-5M554.5 1005.3h5M587.7 1005.3h-5M554.5 1033.5h5M587.7 1033.5h-5M554.5 1061.6h5M587.7 1061.6h-5" stroke="#fff" stroke-width="1"/>
<text transform="translate(657.0 940.0) rotate(90)" class="DB" font-size="18.6">Log-Odds</text>
<text transform="translate(635.0 940.0) rotate(90)" class="DB" font-size="18.6">Abundance</text>
<circle cx="571.3" cy="1114.9" r="5.2" fill="none" stroke="#BBBBBB" stroke-width="0.9"/>
<text x="596.4" y="1120.2" class="D" font-size="14.9">10000</text>
<circle cx="571.3" cy="1138.2" r="6.5" fill="none" stroke="#BBBBBB" stroke-width="0.9"/>
<text x="596.4" y="1143.5" class="D" font-size="14.9">20000</text>
<circle cx="571.3" cy="1162.0" r="7.8" fill="none" stroke="#BBBBBB" stroke-width="0.9"/>
<text x="596.4" y="1167.3" class="D" font-size="14.9">30000</text>
<circle cx="571.3" cy="1185.7" r="8.6" fill="none" stroke="#BBBBBB" stroke-width="0.9"/>
<text x="596.4" y="1191.0" class="D" font-size="14.9">40000</text>
<circle cx="571.3" cy="1209.0" r="9.5" fill="none" stroke="#BBBBBB" stroke-width="0.9"/>
<text x="596.4" y="1214.3" class="D" font-size="14.9">50000</text>
<text transform="translate(657.0 1104.0) rotate(90)" class="DB" font-size="18.6">Cluster Size</text>
<text x="827" y="746.7" class="L" font-size="27" textLength="268" lengthAdjust="spacingAndGlyphs">TP53 Complete Loss</text>
<path d="M790.0 762.2L834.5 812.7M834.5 812.7l-5.1 -22.4M834.5 812.7l-21.6 -7.9M844.0 824.8L909.7 905.7M909.7 905.7l-4.2 -22.6M909.7 905.7l-21.3 -8.7M919.6 916.9L833.2 908.3M833.2 908.3l19.0 13.0M833.2 908.3l21.2 -9.0M919.6 916.9L1025.5 856.4M1025.5 856.4l-23.0 0.4M1025.5 856.4l-12.1 19.6M1041.5 846.5L1116.3 796.8M1116.3 796.8l-22.9 2.0M1116.3 796.8l-10.7 20.4M919.6 916.9L928.3 1037.5M928.3 1037.5l9.6 -20.9M928.3 1037.5l-12.4 -19.3M930.9 1050.4L941.2 1190.9M941.2 1190.9l9.5 -20.9M941.2 1190.9l-12.5 -19.3M943.8 1205.1L826.7 1185.7M826.7 1185.7l18.1 14.2M826.7 1185.7l21.7 -7.6M943.8 1205.1L1015.6 1177.0M1015.6 1177.0l-22.8 -2.9M1015.6 1177.0l-14.8 17.6M943.8 1205.1L849.6 1235.4M849.6 1235.4l22.6 4.3M849.6 1235.4l15.8 -16.7M943.8 1205.1L1061.0 1226.7M1061.0 1226.7l-17.8 -14.5M1061.0 1226.7l-21.9 7.2M943.8 1205.1L880.7 1285.5M880.7 1285.5l21.1 -9.1M880.7 1285.5l3.8 -22.7M943.8 1205.1L1010.4 1292.9M1010.4 1292.9l-3.4 -22.7M1010.4 1292.9l-21.0 -9.4M1019.9 1304.5L1073.1 1375.8M1073.1 1375.8l-3.2 -22.8M1073.1 1375.8l-20.9 -9.6" stroke="#111" stroke-width="1.4" fill="none"/>
<circle cx="790.0" cy="762.2" r="7.8" fill="#D9602E" stroke="#222" stroke-width="0.9"/>
<circle cx="844.0" cy="824.8" r="4.3" fill="#CF8A70" stroke="#222" stroke-width="0.9"/>
<circle cx="1134.9" cy="786.0" r="5.2" fill="#B9BFC4" stroke="#222" stroke-width="0.9"/>
<circle cx="1041.5" cy="846.5" r="8.6" fill="#A9B9C5" stroke="#222" stroke-width="0.9"/>
<circle cx="810.7" cy="906.1" r="5.6" fill="#C4B8B3" stroke="#222" stroke-width="0.9"/>
<circle cx="919.6" cy="916.9" r="7.3" fill="#BCC3C9" stroke="#222" stroke-width="0.9"/>
<circle cx="930.9" cy="1050.4" r="6.9" fill="#C7B5AD" stroke="#222" stroke-width="0.9"/>
<circle cx="943.8" cy="1205.1" r="9.5" fill="#4A9BC9" stroke="#222" stroke-width="0.9"/>
<circle cx="805.1" cy="1182.2" r="4.3" fill="#D9602E" stroke="#222" stroke-width="0.9"/>
<circle cx="1035.0" cy="1169.7" r="5.6" fill="#C9ADA0" stroke="#222" stroke-width="0.9"/>
<circle cx="828.9" cy="1241.9" r="5.2" fill="#5E9EC4" stroke="#222" stroke-width="0.9"/>
<circle cx="1082.6" cy="1231.1" r="2.6" fill="#C2C2C2" stroke="#222" stroke-width="0.9"/>
<circle cx="870.4" cy="1297.2" r="2.6" fill="#C7BEBA" stroke="#222" stroke-width="0.9"/>
<circle cx="1019.9" cy="1304.5" r="6.0" fill="#4A9BC9" stroke="#222" stroke-width="0.9"/>
<circle cx="1082.6" cy="1386.6" r="2.2" fill="#C4C4C4" stroke="#222" stroke-width="0.9"/>
<text x="790.0" y="785.4" class="D" font-size="19.4" text-anchor="middle" style="fill:#D9602E">CD8_Tn</text>
<text x="844.0" y="848.0" class="D" font-size="19.4" text-anchor="middle" style="fill:#CF8A70">CD8_Tcm</text>
<text x="1134.9" y="809.2" class="D" font-size="19.4" text-anchor="middle" style="fill:#B9BFC4">CD8_Tem_NFKB</text>
<text x="1041.5" y="869.7" class="D" font-size="19.4" text-anchor="middle" style="fill:#A9B9C5">CD8_Tem</text>
<text x="810.7" y="929.3" class="D" font-size="19.4" text-anchor="middle" style="fill:#C4B8B3">MAIT</text>
<text x="919.6" y="940.1" class="D" font-size="19.4" text-anchor="middle" style="fill:#BCC3C9">CD8_Tcm_GZMK</text>
<text x="930.9" y="1073.6" class="D" font-size="19.4" text-anchor="middle" style="fill:#C7B5AD">CD8_Teff_HLA</text>
<text x="943.8" y="1228.3" class="D" font-size="19.4" text-anchor="middle" style="fill:#4A9BC9">CD8_Teff</text>
<text x="805.1" y="1205.4" class="D" font-size="19.4" text-anchor="middle" style="fill:#D9602E">CD8_Tem_IFN</text>
<text x="1035.0" y="1192.9" class="D" font-size="19.4" text-anchor="middle" style="fill:#C9ADA0">CD8_T_Apoptotic</text>
<text x="828.9" y="1265.1" class="D" font-size="19.4" text-anchor="middle" style="fill:#5E9EC4">CD8_Teff_TNF</text>
<text x="1082.6" y="1254.3" class="D" font-size="19.4" text-anchor="middle" style="fill:#C2C2C2">CD8_Teff_c</text>
<text x="870.4" y="1320.4" class="D" font-size="19.4" text-anchor="middle" style="fill:#C7BEBA">CD8_Teff_b</text>
<text x="1019.9" y="1327.7" class="D" font-size="19.4" text-anchor="middle" style="fill:#4A9BC9">CD8_T_adp</text>
<text x="1082.6" y="1409.8" class="D" font-size="19.4" text-anchor="middle" style="fill:#C4C4C4">CD8_T_adp_b</text>
<defs><linearGradient id="glo" x1="0" y1="0" x2="0" y2="1"><stop offset="0" stop-color="#DD6535"/><stop offset="0.5" stop-color="#CCC8C6"/><stop offset="1" stop-color="#4A98C8"/></linearGradient></defs>
<rect x="1245.1" y="941.5" width="33.2" height="118" fill="url(#glo)"/>
<text x="1286.6" y="949.5" class="D" font-size="14.9">0.2</text>
<text x="1286.6" y="977.6" class="D" font-size="14.9">0.1</text>
<text x="1286.6" y="1005.8" class="D" font-size="14.9">0.0</text>
<text x="1286.6" y="1034.0" class="D" font-size="14.9">-0.1</text>
<text x="1286.6" y="1062.1" class="D" font-size="14.9">-0.2</text>
<path d="M1245.1 944.2h5M1278.3 944.2h-5M1245.1 972.4h5M1278.3 972.4h-5M1245.1 1000.5h5M1278.3 1000.5h-5M1245.1 1028.7h5M1278.3 1028.7h-5M1245.1 1056.8h5M1278.3 1056.8h-5" stroke="#fff" stroke-width="1"/>
<text transform="translate(1347.6 935.2) rotate(90)" class="DB" font-size="18.6">Log-Odds</text>
<text transform="translate(1325.6 935.2) rotate(90)" class="DB" font-size="18.6">Abundance</text>
<circle cx="1261.9" cy="1110.1" r="5.2" fill="none" stroke="#BBBBBB" stroke-width="0.9"/>
<text x="1287.0" y="1115.4" class="D" font-size="14.9">10000</text>
<circle cx="1261.9" cy="1133.4" r="6.5" fill="none" stroke="#BBBBBB" stroke-width="0.9"/>
<text x="1287.0" y="1138.7" class="D" font-size="14.9">20000</text>
<circle cx="1261.9" cy="1157.2" r="7.8" fill="none" stroke="#BBBBBB" stroke-width="0.9"/>
<text x="1287.0" y="1162.5" class="D" font-size="14.9">30000</text>
<circle cx="1261.9" cy="1180.9" r="8.6" fill="none" stroke="#BBBBBB" stroke-width="0.9"/>
<text x="1287.0" y="1186.2" class="D" font-size="14.9">40000</text>
<circle cx="1261.9" cy="1204.2" r="9.5" fill="none" stroke="#BBBBBB" stroke-width="0.9"/>
<text x="1287.0" y="1209.5" class="D" font-size="14.9">50000</text>
<text transform="translate(1347.6 1099.2) rotate(90)" class="DB" font-size="18.6">Cluster Size</text>
<path d="M1505.2 784.21h34.1M1539.3 784.21h34.1M1573.5 784.21h34.1M1641.7 784.21h34.1M1675.8 784.21h34.1M1710.0 784.21h34.1M1505.2 791.03h34.1M1573.5 791.03h34.1M1607.6 791.03h34.1M1641.7 791.03h34.1M1505.2 797.85h34.1M1539.3 797.85h34.1M1573.5 797.85h34.1M1607.6 797.85h34.1M1641.7 797.85h34.1M1675.8 797.85h34.1M1710.0 797.85h34.1M1607.6 804.67h34.1M1641.7 804.67h34.1M1641.7 811.49h34.1M1505.2 818.31h34.1M1573.5 818.31h34.1M1607.6 818.31h34.1M1641.7 818.31h34.1M1675.8 818.31h34.1M1710.0 818.31h34.1M1505.2 825.13h34.1M1539.3 825.13h34.1M1641.7 825.13h34.1M1675.8 825.13h34.1M1505.2 831.95h34.1M1607.6 831.95h34.1M1641.7 831.95h34.1M1675.8 831.95h34.1M1710.0 831.95h34.1M1744.1 831.95h34.1M1505.2 838.77h34.1M1539.3 838.77h34.1M1573.5 838.77h34.1M1607.6 838.77h34.1M1641.7 838.77h34.1M1710.0 838.77h34.1M1675.8 859.23h34.1M1607.6 872.87h34.1" stroke="#E83E7E" stroke-width="6.82"/>
<path d="M1607.6 784.21h34.1M1744.1 791.03h34.1M1573.5 804.67h34.1M1505.2 811.49h34.1M1539.3 811.49h34.1M1607.6 811.49h34.1M1607.6 825.13h34.1M1539.3 831.95h34.1M1573.5 852.41h34.1M1675.8 852.41h34.1M1539.3 886.51h34.1" stroke="#E84381" stroke-width="6.82"/>
<path d="M1744.1 784.21h34.1M1539.3 791.03h34.1M1675.8 791.03h34.1M1710.0 791.03h34.1M1505.2 804.67h34.1M1539.3 804.67h34.1M1675.8 804.67h34.1M1710.0 811.49h34.1M1539.3 818.31h34.1M1744.1 818.31h34.1M1573.5 825.13h34.1M1505.2 852.41h34.1" stroke="#E94884" stroke-width="6.82"/>
<path d="M1744.1 797.85h34.1M1607.6 845.59h34.1M1539.3 866.05h34.1M1641.7 872.87h34.1M1505.2 947.89h34.1" stroke="#EB6194" stroke-width="6.82"/>
<path d="M1710.0 804.67h34.1M1744.1 811.49h34.1M1710.0 825.13h34.1M1573.5 831.95h34.1M1539.3 852.41h34.1M1710.0 852.41h34.1M1573.5 859.23h34.1M1607.6 859.23h34.1M1641.7 859.23h34.1M1675.8 893.33h34.1M1607.6 900.15h34.1" stroke="#E94D88" stroke-width="6.82"/>
<path d="M1744.1 804.67h34.1M1710.0 886.51h34.1M1710.0 900.15h34.1M1710.0 906.97h34.1M1710.0 947.89h34.1" stroke="#ED77A2" stroke-width="6.82"/>
<path d="M1573.5 811.49h34.1M1675.8 838.77h34.1M1710.0 845.59h34.1M1641.7 852.41h34.1M1505.2 859.23h34.1M1744.1 859.23h34.1M1539.3 879.69h34.1" stroke="#EA528B" stroke-width="6.82"/>
<path d="M1675.8 811.49h34.1M1744.1 825.13h34.1M1539.3 859.23h34.1M1573.5 872.87h34.1" stroke="#EA5C91" stroke-width="6.82"/>
<path d="M1744.1 838.77h34.1M1539.3 845.59h34.1M1641.7 845.59h34.1M1607.6 852.41h34.1M1710.0 859.23h34.1M1539.3 872.87h34.1" stroke="#EA578E" stroke-width="6.82"/>
<path d="M1505.2 845.59h34.1M1744.1 845.59h34.1M1505.2 866.05h34.1M1573.5 866.05h34.1M1710.0 866.05h34.1M1505.2 872.87h34.1M1573.5 900.15h34.1" stroke="#EB6698" stroke-width="6.82"/>
<path d="M1573.5 845.59h34.1M1675.8 872.87h34.1M1710.0 872.87h34.1M1505.2 879.69h34.1M1641.7 879.69h34.1M1675.8 879.69h34.1M1710.0 879.69h34.1M1573.5 886.51h34.1M1607.6 893.33h34.1M1573.5 920.61h34.1M1710.0 920.61h34.1" stroke="#EC709E" stroke-width="6.82"/>
<path d="M1675.8 845.59h34.1M1607.6 866.05h34.1M1641.7 866.05h34.1M1675.8 866.05h34.1M1573.5 893.33h34.1M1539.3 913.79h34.1M1607.6 913.79h34.1M1641.7 920.61h34.1" stroke="#EC6B9B" stroke-width="6.82"/>
<path d="M1744.1 852.41h34.1M1505.2 886.51h34.1M1607.6 886.51h34.1M1505.2 913.79h34.1M1539.3 920.61h34.1M1607.6 920.61h34.1M1539.3 975.17h34.1" stroke="#EE84AB" stroke-width="6.82"/>
<path d="M1744.1 866.05h34.1M1641.7 893.33h34.1M1675.8 900.15h34.1M1573.5 906.97h34.1M1675.8 913.79h34.1M1710.0 913.79h34.1M1505.2 968.35h34.1" stroke="#EE8AB0" stroke-width="6.82"/>
<path d="M1744.1 872.87h34.1M1607.6 879.69h34.1M1505.2 893.33h34.1M1675.8 920.61h34.1M1539.3 934.25h34.1M1573.5 947.89h34.1M1710.0 961.53h34.1M1539.3 968.35h34.1M1573.5 968.35h34.1M1675.8 975.17h34.1M1710.0 981.99h34.1M1505.2 995.63h34.1M1505.2 1002.45h34.1M1539.3 1002.45h34.1M1573.5 1029.72h34.1M1641.7 1043.36h34.1" stroke="#F098B8" stroke-width="6.82"/>
<path d="M1573.5 879.69h34.1M1641.7 906.97h34.1M1607.6 941.07h34.1M1710.0 1029.72h34.1M1710.0 1091.10h34.1M1675.8 1145.66h34.1M1641.7 1172.94h34.1M1744.1 1200.22h34.1M1641.7 1213.86h34.1M1505.2 1282.06h34.1" stroke="#F5C1D5" stroke-width="6.82"/>
<path d="M1744.1 879.69h34.1M1641.7 900.15h34.1M1573.5 913.79h34.1M1505.2 920.61h34.1M1539.3 927.43h34.1M1710.0 927.43h34.1M1505.2 954.71h34.1M1607.6 968.35h34.1M1505.2 981.99h34.1M1675.8 981.99h34.1M1505.2 988.81h34.1M1641.7 995.63h34.1M1505.2 1022.90h34.1M1675.8 1022.90h34.1M1539.3 1104.74h34.1" stroke="#F1ABC6" stroke-width="6.82"/>
<path d="M1641.7 886.51h34.1M1675.8 886.51h34.1M1539.3 893.33h34.1M1710.0 893.33h34.1M1744.1 893.33h34.1M1539.3 906.97h34.1M1607.6 954.71h34.1M1675.8 961.53h34.1" stroke="#ED7DA7" stroke-width="6.82"/>
<path d="M1744.1 886.51h34.1M1744.1 927.43h34.1M1710.0 941.07h34.1M1573.5 961.53h34.1M1641.7 975.17h34.1M1744.1 975.17h34.1M1573.5 981.99h34.1M1607.6 988.81h34.1M1710.0 1009.26h34.1M1607.6 1016.08h34.1M1641.7 1016.08h34.1M1573.5 1022.90h34.1M1744.1 1022.90h34.1M1607.6 1029.72h34.1M1607.6 1036.54h34.1M1539.3 1043.36h34.1M1505.2 1057.00h34.1M1710.0 1057.00h34.1M1710.0 1077.46h34.1M1744.1 1077.46h34.1M1607.6 1084.28h34.1M1573.5 1091.10h34.1M1744.1 1091.10h34.1M1573.5 1097.92h34.1M1573.5 1118.38h34.1M1573.5 1125.20h34.1M1607.6 1125.20h34.1M1573.5 1159.30h34.1M1539.3 1172.94h34.1M1539.3 1288.88h34.1M1675.8 1329.80h34.1" stroke="#F6C9DA" stroke-width="6.82"/>
<path d="M1505.2 900.15h34.1M1710.0 968.35h34.1M1573.5 988.81h34.1M1744.1 1009.26h34.1M1744.1 1050.18h34.1M1675.8 1132.02h34.1M1641.7 1138.84h34.1M1675.8 1152.48h34.1M1505.2 1166.12h34.1M1607.6 1193.40h34.1M1710.0 1207.04h34.1M1675.8 1227.50h34.1M1710.0 1234.32h34.1M1744.1 1234.32h34.1M1675.8 1261.60h34.1M1505.2 1268.42h34.1M1607.6 1268.42h34.1M1641.7 1268.42h34.1M1710.0 1268.42h34.1M1505.2 1288.88h34.1M1539.3 1295.70h34.1M1710.0 1309.34h34.1M1641.7 1316.16h34.1M1505.2 1322.98h34.1M1573.5 1322.98h34.1M1675.8 1322.98h34.1M1675.8 1336.62h34.1M1641.7 1370.72h34.1M1539.3 1377.54h34.1M1744.1 1377.54h34.1M1710.0 1384.36h34.1M1675.8 1391.18h34.1M1573.5 1398.00h34.1M1573.5 1404.82h34.1M1641.7 1418.46h34.1M1641.7 1466.19h34.1M1744.1 1466.19h34.1M1744.1 1473.01h34.1M1607.6 1479.83h34.1M1675.8 1479.83h34.1M1539.3 1493.47h34.1M1641.7 1493.47h34.1M1710.0 1493.47h34.1M1505.2 1507.11h34.1M1505.2 1520.75h34.1M1744.1 1520.75h34.1M1573.5 1534.39h34.1M1505.2 1541.21h34.1M1607.6 1541.21h34.1M1675.8 1541.21h34.1M1505.2 1554.85h34.1M1539.3 1554.85h34.1M1607.6 1554.85h34.1M1573.5 1561.67h34.1M1641.7 1561.67h34.1M1607.6 1568.49h34.1M1641.7 1568.49h34.1M1607.6 1582.13h34.1M1539.3 1595.77h34.1M1573.5 1595.77h34.1M1573.5 1602.59h34.1M1710.0 1602.59h34.1M1505.2 1623.05h34.1M1641.7 1623.05h34.1M1573.5 1636.69h34.1M1505.2 1643.51h34.1M1573.5 1643.51h34.1M1607.6 1643.51h34.1M1505.2 1650.33h34.1M1641.7 1650.33h34.1M1710.0 1650.33h34.1M1505.2 1663.97h34.1M1573.5 1663.97h34.1M1505.2 1670.79h34.1M1607.6 1670.79h34.1M1641.7 1670.79h34.1M1744.1 1670.79h34.1M1710.0 1677.61h34.1M1641.7 1691.25h34.1M1675.8 1691.25h34.1M1641.7 1698.07h34.1M1675.8 1698.07h34.1M1505.2 1704.89h34.1M1573.5 1711.71h34.1M1607.6 1711.71h34.1M1710.0 1711.71h34.1M1505.2 1718.53h34.1M1539.3 1725.35h34.1M1710.0 1725.35h34.1M1539.3 1752.63h34.1M1607.6 1773.09h34.1M1710.0 1773.09h34.1M1607.6 1793.55h34.1M1641.7 1800.37h34.1M1573.5 1807.19h34.1M1607.6 1807.19h34.1M1505.2 1814.01h34.1M1744.1 1814.01h34.1M1675.8 1827.65h34.1M1744.1 1827.65h34.1M1710.0 1834.47h34.1M1641.7 1854.93h34.1M1539.3 1861.75h34.1M1505.2 1868.57h34.1M1710.0 1882.21h34.1M1607.6 1889.03h34.1M1744.1 1889.03h34.1M1607.6 1895.85h34.1M1539.3 1909.48h34.1M1573.5 1909.48h34.1M1607.6 1909.48h34.1M1641.7 1909.48h34.1M1505.2 1916.30h34.1M1607.6 1916.30h34.1M1573.5 1923.12h34.1M1607.6 1923.12h34.1M1675.8 1923.12h34.1M1744.1 1923.12h34.1M1675.8 1943.58h34.1M1710.0 1964.04h34.1M1641.7 1984.50h34.1M1573.5 2018.60h34.1M1675.8 2018.60h34.1M1641.7 2025.42h34.1M1505.2 2039.06h34.1M1607.6 2039.06h34.1M1710.0 2039.06h34.1M1744.1 2039.06h34.1M1539.3 2052.70h34.1M1641.7 2059.52h34.1M1744.1 2066.34h34.1M1607.6 2073.16h34.1M1710.0 2073.16h34.1M1573.5 2086.80h34.1M1573.5 2120.90h34.1M1675.8 2120.90h34.1M1744.1 2127.72h34.1M1505.2 2141.36h34.1M1710.0 2175.46h34.1M1710.0 2182.28h34.1M1505.2 2195.92h34.1M1744.1 2216.38h34.1M1573.5 2223.20h34.1M1505.2 2257.30h34.1M1675.8 2257.30h34.1M1539.3 2284.58h34.1M1573.5 2291.40h34.1M1607.6 2305.04h34.1M1744.1 2305.04h34.1M1505.2 2311.86h34.1M1505.2 2318.68h34.1M1573.5 2359.59h34.1M1539.3 2400.51h34.1M1573.5 2400.51h34.1M1607.6 2407.33h34.1M1641.7 2407.33h34.1M1710.0 2407.33h34.1M1607.6 2461.89h34.1M1710.0 2461.89h34.1M1539.3 2475.53h34.1M1710.0 2489.17h34.1M1539.3 2550.55h34.1M1573.5 2550.55h34.1M1641.7 2550.55h34.1M1573.5 2564.19h34.1" stroke="#EEF4FA" stroke-width="6.82"/>
<path d="M1539.3 900.15h34.1M1641.7 913.79h34.1M1744.1 934.25h34.1M1641.7 947.89h34.1M1710.0 954.71h34.1M1641.7 968.35h34.1M1744.1 968.35h34.1M1505.2 975.17h34.1M1573.5 975.17h34.1M1607.6 981.99h34.1M1539.3 988.81h34.1M1675.8 988.81h34.1M1607.6 1002.45h34.1" stroke="#EF91B4" stroke-width="6.82"/>
<path d="M1744.1 900.15h34.1M1744.1 913.79h34.1M1607.6 927.43h34.1M1573.5 934.25h34.1M1505.2 941.07h34.1M1641.7 961.53h34.1M1641.7 1022.90h34.1M1641.7 1029.72h34.1M1710.0 1036.54h34.1M1744.1 1043.36h34.1M1675.8 1050.18h34.1M1675.8 1057.00h34.1M1539.3 1063.82h34.1M1641.7 1063.82h34.1M1744.1 1063.82h34.1M1573.5 1077.46h34.1M1505.2 1084.28h34.1M1641.7 1084.28h34.1M1744.1 1084.28h34.1M1505.2 1104.74h34.1M1744.1 1111.56h34.1M1505.2 1118.38h34.1M1641.7 1118.38h34.1M1539.3 1132.02h34.1M1710.0 1138.84h34.1M1710.0 1145.66h34.1M1744.1 1152.48h34.1M1675.8 1159.30h34.1M1675.8 1172.94h34.1M1710.0 1172.94h34.1M1744.1 1172.94h34.1M1607.6 1200.22h34.1M1539.3 1207.04h34.1M1573.5 1207.04h34.1M1505.2 1213.86h34.1M1573.5 1247.96h34.1M1607.6 1275.24h34.1M1573.5 1282.06h34.1M1641.7 1295.70h34.1M1573.5 1302.52h34.1M1710.0 1329.80h34.1M1607.6 1391.18h34.1M1675.8 1404.82h34.1M1539.3 1609.41h34.1M1607.6 1657.15h34.1M1641.7 1718.53h34.1M1573.5 1964.04h34.1M1607.6 2277.76h34.1M1505.2 2298.22h34.1M1641.7 2325.50h34.1" stroke="#F8D8E4" stroke-width="6.82"/>
<path d="M1505.2 906.97h34.1M1607.6 906.97h34.1M1641.7 934.25h34.1M1744.1 947.89h34.1M1539.3 954.71h34.1M1607.6 975.17h34.1M1539.3 1009.26h34.1M1539.3 1029.72h34.1M1607.6 1159.30h34.1" stroke="#F09EBD" stroke-width="6.82"/>
<path d="M1675.8 906.97h34.1M1505.2 934.25h34.1M1607.6 934.25h34.1M1675.8 934.25h34.1M1539.3 941.07h34.1M1607.6 947.89h34.1M1505.2 961.53h34.1M1539.3 961.53h34.1M1744.1 988.81h34.1M1539.3 995.63h34.1M1675.8 1029.72h34.1M1505.2 1091.10h34.1M1539.3 1091.10h34.1M1641.7 1091.10h34.1M1744.1 1118.38h34.1M1744.1 1125.20h34.1M1607.6 1138.84h34.1M1573.5 1145.66h34.1M1607.6 1145.66h34.1M1710.0 1159.30h34.1M1744.1 1159.30h34.1M1573.5 1186.58h34.1M1505.2 1220.68h34.1" stroke="#F3BACF" stroke-width="6.82"/>
<path d="M1744.1 906.97h34.1M1675.8 1016.08h34.1M1710.0 1070.64h34.1M1675.8 1234.32h34.1M1744.1 1254.78h34.1M1573.5 1268.42h34.1M1607.6 1282.06h34.1M1539.3 1350.26h34.1M1573.5 1357.08h34.1M1505.2 1377.54h34.1M1607.6 1377.54h34.1M1641.7 1377.54h34.1M1505.2 1398.00h34.1M1641.7 1404.82h34.1M1641.7 1432.10h34.1M1710.0 1432.10h34.1M1641.7 1438.92h34.1M1710.0 1452.55h34.1M1573.5 1459.37h34.1M1573.5 1466.19h34.1M1710.0 1479.83h34.1M1675.8 1486.65h34.1M1710.0 1507.11h34.1M1539.3 1513.93h34.1M1710.0 1513.93h34.1M1539.3 1568.49h34.1M1607.6 1575.31h34.1M1675.8 1575.31h34.1M1710.0 1575.31h34.1M1573.5 1582.13h34.1M1641.7 1602.59h34.1M1573.5 1609.41h34.1M1539.3 1616.23h34.1M1539.3 1629.87h34.1M1744.1 1629.87h34.1M1539.3 1650.33h34.1M1573.5 1657.15h34.1M1573.5 1677.61h34.1M1744.1 1677.61h34.1M1505.2 1684.43h34.1M1744.1 1684.43h34.1M1539.3 1691.25h34.1M1607.6 1691.25h34.1M1710.0 1691.25h34.1M1744.1 1691.25h34.1M1539.3 1698.07h34.1M1539.3 1704.89h34.1M1675.8 1718.53h34.1M1573.5 1725.35h34.1M1641.7 1725.35h34.1M1573.5 1732.17h34.1M1641.7 1732.17h34.1M1607.6 1738.99h34.1M1710.0 1745.81h34.1M1573.5 1752.63h34.1M1641.7 1752.63h34.1M1744.1 1752.63h34.1M1744.1 1759.45h34.1M1539.3 1766.27h34.1M1744.1 1766.27h34.1M1539.3 1786.73h34.1M1573.5 1786.73h34.1M1641.7 1786.73h34.1M1710.0 1786.73h34.1M1505.2 1793.55h34.1M1744.1 1793.55h34.1M1539.3 1800.37h34.1M1573.5 1800.37h34.1M1675.8 1800.37h34.1M1641.7 1807.19h34.1M1744.1 1807.19h34.1M1573.5 1814.01h34.1M1641.7 1814.01h34.1M1744.1 1820.83h34.1M1505.2 1834.47h34.1M1744.1 1834.47h34.1M1641.7 1841.29h34.1M1675.8 1848.11h34.1M1505.2 1854.93h34.1M1675.8 1854.93h34.1M1710.0 1854.93h34.1M1641.7 1868.57h34.1M1505.2 1882.21h34.1M1641.7 1889.03h34.1M1675.8 1895.85h34.1M1710.0 1895.85h34.1M1505.2 1909.48h34.1M1675.8 1909.48h34.1M1505.2 1923.12h34.1M1573.5 1929.94h34.1M1675.8 1957.22h34.1M1539.3 1964.04h34.1M1539.3 1977.68h34.1M1641.7 1991.32h34.1M1710.0 1991.32h34.1M1505.2 1998.14h34.1M1641.7 1998.14h34.1M1505.2 2004.96h34.1M1675.8 2004.96h34.1M1744.1 2004.96h34.1M1505.2 2011.78h34.1M1573.5 2011.78h34.1M1641.7 2011.78h34.1M1607.6 2018.60h34.1M1710.0 2018.60h34.1M1573.5 2025.42h34.1M1641.7 2045.88h34.1M1573.5 2052.70h34.1M1505.2 2059.52h34.1M1744.1 2059.52h34.1M1539.3 2079.98h34.1M1573.5 2079.98h34.1M1539.3 2086.80h34.1M1505.2 2093.62h34.1M1539.3 2093.62h34.1M1573.5 2093.62h34.1M1607.6 2093.62h34.1M1675.8 2093.62h34.1M1675.8 2100.44h34.1M1710.0 2100.44h34.1M1607.6 2107.26h34.1M1641.7 2107.26h34.1M1607.6 2114.08h34.1M1641.7 2114.08h34.1M1744.1 2114.08h34.1M1539.3 2120.90h34.1M1641.7 2120.90h34.1M1710.0 2120.90h34.1M1573.5 2127.72h34.1M1641.7 2127.72h34.1M1675.8 2127.72h34.1M1607.6 2134.54h34.1M1641.7 2134.54h34.1M1710.0 2134.54h34.1M1539.3 2141.36h34.1M1607.6 2141.36h34.1M1641.7 2141.36h34.1M1675.8 2141.36h34.1M1675.8 2148.18h34.1M1744.1 2155.00h34.1M1744.1 2168.64h34.1M1573.5 2182.28h34.1M1505.2 2209.56h34.1M1573.5 2209.56h34.1M1607.6 2209.56h34.1M1641.7 2209.56h34.1M1744.1 2209.56h34.1M1505.2 2216.38h34.1M1641.7 2216.38h34.1M1607.6 2223.20h34.1M1641.7 2230.02h34.1M1641.7 2236.84h34.1M1505.2 2250.48h34.1M1641.7 2250.48h34.1M1675.8 2250.48h34.1M1710.0 2250.48h34.1M1607.6 2257.30h34.1M1710.0 2257.30h34.1M1744.1 2264.12h34.1M1744.1 2277.76h34.1M1505.2 2284.58h34.1M1607.6 2284.58h34.1M1641.7 2284.58h34.1M1744.1 2284.58h34.1M1641.7 2291.40h34.1M1641.7 2305.04h34.1M1607.6 2311.86h34.1M1505.2 2325.50h34.1M1505.2 2332.32h34.1M1744.1 2339.14h34.1M1641.7 2352.77h34.1M1539.3 2359.59h34.1M1573.5 2366.41h34.1M1675.8 2373.23h34.1M1744.1 2373.23h34.1M1573.5 2386.87h34.1M1505.2 2407.33h34.1M1675.8 2407.33h34.1M1744.1 2407.33h34.1M1675.8 2427.79h34.1M1641.7 2434.61h34.1M1744.1 2434.61h34.1M1505.2 2441.43h34.1M1505.2 2448.25h34.1M1505.2 2461.89h34.1M1675.8 2468.71h34.1M1710.0 2468.71h34.1M1505.2 2475.53h34.1M1539.3 2482.35h34.1M1607.6 2482.35h34.1M1505.2 2489.17h34.1M1641.7 2509.63h34.1M1675.8 2509.63h34.1M1539.3 2516.45h34.1M1573.5 2516.45h34.1M1744.1 2516.45h34.1M1505.2 2530.09h34.1M1675.8 2564.19h34.1" stroke="#E4EEF6" stroke-width="6.82"/>
<path d="M1744.1 920.61h34.1M1539.3 947.89h34.1M1744.1 961.53h34.1M1505.2 1009.26h34.1M1675.8 1043.36h34.1M1641.7 1070.64h34.1M1744.1 1070.64h34.1M1675.8 1084.28h34.1M1641.7 1111.56h34.1M1505.2 1132.02h34.1M1641.7 1145.66h34.1M1573.5 1152.48h34.1M1641.7 1152.48h34.1M1539.3 1166.12h34.1M1675.8 1179.76h34.1M1573.5 1193.40h34.1M1744.1 1213.86h34.1M1744.1 1220.68h34.1M1744.1 1227.50h34.1M1505.2 1241.14h34.1M1675.8 1241.14h34.1M1710.0 1241.14h34.1M1539.3 1254.78h34.1M1607.6 1254.78h34.1M1641.7 1254.78h34.1M1675.8 1254.78h34.1M1539.3 1268.42h34.1M1744.1 1275.24h34.1M1641.7 1282.06h34.1M1607.6 1288.88h34.1M1607.6 1309.34h34.1M1539.3 1329.80h34.1M1539.3 1336.62h34.1M1744.1 1343.44h34.1M1607.6 1350.26h34.1M1641.7 1357.08h34.1M1744.1 1363.90h34.1M1505.2 1370.72h34.1M1710.0 1370.72h34.1M1710.0 1404.82h34.1M1744.1 1404.82h34.1M1505.2 1418.46h34.1M1641.7 1425.28h34.1M1744.1 1425.28h34.1M1539.3 1432.10h34.1M1505.2 1438.92h34.1M1675.8 1438.92h34.1M1539.3 1445.74h34.1M1539.3 1459.37h34.1M1675.8 1473.01h34.1M1641.7 1500.29h34.1M1607.6 1507.11h34.1M1675.8 1507.11h34.1M1744.1 1513.93h34.1M1539.3 1527.57h34.1M1675.8 1527.57h34.1M1710.0 1527.57h34.1M1539.3 1548.03h34.1M1641.7 1548.03h34.1M1710.0 1548.03h34.1M1744.1 1548.03h34.1M1710.0 1561.67h34.1M1675.8 1643.51h34.1M1675.8 1657.15h34.1M1607.6 2550.55h34.1" stroke="#FEF7FA" stroke-width="6.82"/>
<path d="M1505.2 927.43h34.1M1607.6 1022.90h34.1M1607.6 1070.64h34.1M1539.3 1077.46h34.1M1675.8 1111.56h34.1M1710.0 1132.02h34.1M1641.7 1166.12h34.1M1675.8 1166.12h34.1M1710.0 1193.40h34.1M1505.2 1227.50h34.1M1505.2 1234.32h34.1M1539.3 1234.32h34.1M1641.7 1241.14h34.1M1675.8 1282.06h34.1M1573.5 1288.88h34.1M1710.0 1288.88h34.1M1710.0 1322.98h34.1M1505.2 1336.62h34.1M1573.5 1336.62h34.1M1641.7 1343.44h34.1M1710.0 1343.44h34.1M1710.0 1357.08h34.1M1710.0 1363.90h34.1M1573.5 1377.54h34.1M1641.7 1384.36h34.1M1505.2 1391.18h34.1M1539.3 1391.18h34.1M1641.7 1398.00h34.1M1539.3 1411.64h34.1M1675.8 1411.64h34.1M1744.1 1411.64h34.1M1539.3 1418.46h34.1M1573.5 1418.46h34.1M1505.2 1432.10h34.1M1607.6 1432.10h34.1M1539.3 1452.55h34.1M1675.8 1459.37h34.1M1539.3 1466.19h34.1M1505.2 1473.01h34.1M1539.3 1479.83h34.1M1505.2 1493.47h34.1M1607.6 1493.47h34.1M1675.8 1493.47h34.1M1607.6 1500.29h34.1M1505.2 1513.93h34.1M1641.7 1513.93h34.1M1675.8 1513.93h34.1M1539.3 1520.75h34.1M1675.8 1520.75h34.1M1505.2 1527.57h34.1M1573.5 1527.57h34.1M1607.6 1534.39h34.1M1710.0 1534.39h34.1M1539.3 1541.21h34.1M1641.7 1541.21h34.1M1744.1 1541.21h34.1M1505.2 1561.67h34.1M1744.1 1575.31h34.1M1641.7 1582.13h34.1M1675.8 1582.13h34.1M1744.1 1582.13h34.1M1539.3 1602.59h34.1M1505.2 1609.41h34.1M1505.2 1616.23h34.1M1573.5 1616.23h34.1M1675.8 1616.23h34.1M1607.6 1623.05h34.1M1710.0 1623.05h34.1M1641.7 1629.87h34.1M1675.8 1629.87h34.1M1675.8 1636.69h34.1M1710.0 1636.69h34.1M1539.3 1643.51h34.1M1744.1 1643.51h34.1M1710.0 1657.15h34.1M1505.2 1677.61h34.1M1607.6 1677.61h34.1M1641.7 1677.61h34.1M1505.2 1691.25h34.1M1607.6 1698.07h34.1M1744.1 1698.07h34.1M1573.5 1704.89h34.1M1744.1 1711.71h34.1M1505.2 1725.35h34.1M1675.8 1732.17h34.1M1505.2 1745.81h34.1M1505.2 1752.63h34.1M1505.2 1800.37h34.1M1744.1 1800.37h34.1M1539.3 1814.01h34.1M1675.8 1814.01h34.1M1539.3 1820.83h34.1M1539.3 1841.29h34.1M1710.0 1841.29h34.1M1505.2 1861.75h34.1M1573.5 1868.57h34.1M1607.6 1868.57h34.1M1573.5 1889.03h34.1M1710.0 1902.66h34.1M1539.3 1916.30h34.1M1539.3 1936.76h34.1M1573.5 1936.76h34.1M1539.3 1943.58h34.1M1710.0 2052.70h34.1M1505.2 2066.34h34.1M1675.8 2073.16h34.1M1641.7 2093.62h34.1M1675.8 2114.08h34.1M1710.0 2141.36h34.1M1539.3 2155.00h34.1M1539.3 2223.20h34.1M1641.7 2257.30h34.1M1505.2 2305.04h34.1M1539.3 2305.04h34.1M1607.6 2318.68h34.1M1641.7 2345.95h34.1M1744.1 2352.77h34.1M1573.5 2475.53h34.1M1641.7 2495.99h34.1M1505.2 2516.45h34.1" stroke="#F4F8FC" stroke-width="6.82"/>
<path d="M1573.5 927.43h34.1M1641.7 927.43h34.1M1710.0 934.25h34.1M1641.7 954.71h34.1M1641.7 988.81h34.1M1710.0 988.81h34.1M1675.8 1002.45h34.1M1505.2 1029.72h34.1M1675.8 1077.46h34.1" stroke="#F1A5C1" stroke-width="6.82"/>
<path d="M1675.8 927.43h34.1M1607.6 961.53h34.1M1607.6 995.63h34.1M1641.7 1002.45h34.1M1573.5 1009.26h34.1M1675.8 1009.26h34.1M1505.2 1016.08h34.1M1710.0 1022.90h34.1M1539.3 1036.54h34.1M1573.5 1057.00h34.1M1641.7 1057.00h34.1M1675.8 1063.82h34.1M1641.7 1077.46h34.1M1573.5 1104.74h34.1M1710.0 1104.74h34.1M1710.0 1111.56h34.1M1607.6 1132.02h34.1M1744.1 1132.02h34.1M1539.3 1138.84h34.1M1675.8 1138.84h34.1M1744.1 1145.66h34.1M1539.3 1159.30h34.1M1505.2 1207.04h34.1M1539.3 1213.86h34.1M1641.7 1220.68h34.1M1675.8 1220.68h34.1M1539.3 1247.96h34.1M1710.0 1247.96h34.1M1539.3 1275.24h34.1M1710.0 1282.06h34.1M1607.6 1295.70h34.1M1744.1 1329.80h34.1M1607.6 1343.44h34.1M1607.6 1425.28h34.1M1675.8 1425.28h34.1M1675.8 1752.63h34.1M1573.5 1759.45h34.1M1573.5 1895.85h34.1M1573.5 1943.58h34.1M1641.7 2039.06h34.1M1539.3 2114.08h34.1" stroke="#F7D1DF" stroke-width="6.82"/>
<path d="M1573.5 941.07h34.1M1641.7 941.07h34.1M1675.8 941.07h34.1M1675.8 968.35h34.1M1710.0 975.17h34.1M1539.3 981.99h34.1M1710.0 1002.45h34.1M1744.1 1002.45h34.1M1710.0 1016.08h34.1M1675.8 1036.54h34.1M1573.5 1043.36h34.1M1607.6 1091.10h34.1M1675.8 1091.10h34.1M1505.2 1125.20h34.1M1505.2 1159.30h34.1" stroke="#F2B2CA" stroke-width="6.82"/>
<path d="M1744.1 941.07h34.1M1744.1 995.63h34.1M1744.1 1029.72h34.1M1539.3 1050.18h34.1M1710.0 1050.18h34.1M1573.5 1063.82h34.1M1505.2 1070.64h34.1M1505.2 1077.46h34.1M1539.3 1084.28h34.1M1505.2 1097.92h34.1M1607.6 1097.92h34.1M1641.7 1104.74h34.1M1539.3 1111.56h34.1M1573.5 1111.56h34.1M1539.3 1125.20h34.1M1641.7 1125.20h34.1M1710.0 1125.20h34.1M1641.7 1132.02h34.1M1505.2 1145.66h34.1M1573.5 1172.94h34.1M1641.7 1179.76h34.1M1710.0 1186.58h34.1M1505.2 1193.40h34.1M1607.6 1207.04h34.1M1675.8 1207.04h34.1M1573.5 1213.86h34.1M1710.0 1213.86h34.1M1573.5 1220.68h34.1M1607.6 1227.50h34.1M1505.2 1247.96h34.1M1744.1 1247.96h34.1M1505.2 1261.60h34.1M1641.7 1261.60h34.1M1710.0 1261.60h34.1M1641.7 1275.24h34.1M1505.2 1295.70h34.1M1744.1 1295.70h34.1M1675.8 1309.34h34.1M1573.5 1316.16h34.1M1607.6 1316.16h34.1M1710.0 1316.16h34.1M1710.0 1336.62h34.1M1539.3 1343.44h34.1M1710.0 1377.54h34.1M1505.2 1384.36h34.1M1710.0 1411.64h34.1M1539.3 1425.28h34.1M1744.1 1438.92h34.1M1505.2 1445.74h34.1M1539.3 1473.01h34.1M1573.5 1473.01h34.1M1710.0 1473.01h34.1M1539.3 1486.65h34.1M1505.2 1548.03h34.1M1573.5 1548.03h34.1M1607.6 1548.03h34.1M1710.0 2155.00h34.1M1744.1 2291.40h34.1M1710.0 2339.14h34.1M1539.3 2502.81h34.1M1641.7 2502.81h34.1" stroke="#FCF0F4" stroke-width="6.82"/>
<path d="M1675.8 947.89h34.1M1573.5 1016.08h34.1M1744.1 1016.08h34.1M1607.6 1050.18h34.1M1573.5 1070.64h34.1M1744.1 1104.74h34.1M1539.3 1152.48h34.1M1539.3 1179.76h34.1M1607.6 1186.58h34.1M1539.3 1193.40h34.1M1675.8 1193.40h34.1M1573.5 1200.22h34.1M1641.7 1200.22h34.1M1641.7 1227.50h34.1M1539.3 1241.14h34.1M1607.6 1247.96h34.1M1573.5 1254.78h34.1M1744.1 1261.60h34.1M1675.8 1288.88h34.1M1607.6 1302.52h34.1M1641.7 1302.52h34.1M1675.8 1302.52h34.1M1710.0 1302.52h34.1M1744.1 1302.52h34.1M1573.5 1309.34h34.1M1675.8 1316.16h34.1M1744.1 1316.16h34.1M1539.3 1322.98h34.1M1744.1 1322.98h34.1M1505.2 1329.80h34.1M1641.7 1336.62h34.1M1573.5 1343.44h34.1M1607.6 1357.08h34.1M1675.8 1357.08h34.1M1573.5 1363.90h34.1M1573.5 1370.72h34.1M1744.1 1370.72h34.1M1675.8 1377.54h34.1M1675.8 1384.36h34.1M1744.1 1384.36h34.1M1539.3 1398.00h34.1M1607.6 1411.64h34.1M1641.7 1411.64h34.1M1710.0 1418.46h34.1M1539.3 1438.92h34.1M1710.0 1438.92h34.1M1573.5 1445.74h34.1M1607.6 1445.74h34.1M1675.8 1445.74h34.1M1744.1 1445.74h34.1M1675.8 1452.55h34.1M1744.1 1459.37h34.1M1573.5 1486.65h34.1M1607.6 1486.65h34.1M1641.7 1486.65h34.1M1744.1 1486.65h34.1M1539.3 1500.29h34.1M1573.5 1500.29h34.1M1675.8 1500.29h34.1M1641.7 1507.11h34.1M1573.5 1520.75h34.1M1607.6 1520.75h34.1M1641.7 1520.75h34.1M1607.6 1527.57h34.1M1641.7 1527.57h34.1M1744.1 1527.57h34.1M1744.1 1534.39h34.1M1573.5 1541.21h34.1M1641.7 1554.85h34.1M1675.8 1554.85h34.1M1607.6 1561.67h34.1M1710.0 1568.49h34.1M1744.1 1568.49h34.1M1505.2 1595.77h34.1M1641.7 1595.77h34.1M1675.8 1595.77h34.1M1744.1 1595.77h34.1M1505.2 1602.59h34.1M1675.8 1609.41h34.1M1744.1 1609.41h34.1M1710.0 1616.23h34.1M1744.1 1636.69h34.1M1744.1 1650.33h34.1M1505.2 1657.15h34.1M1539.3 1657.15h34.1M1744.1 1657.15h34.1M1539.3 1663.97h34.1M1675.8 1663.97h34.1M1573.5 1698.07h34.1M1607.6 1704.89h34.1M1675.8 1704.89h34.1M1744.1 1786.73h34.1M1710.0 1827.65h34.1M1505.2 1848.11h34.1M1539.3 1868.57h34.1M1675.8 1868.57h34.1M1710.0 1868.57h34.1M1744.1 1868.57h34.1M1641.7 1916.30h34.1M1675.8 1916.30h34.1M1607.6 1936.76h34.1M1744.1 1936.76h34.1M1607.6 1943.58h34.1M1710.0 1957.22h34.1M1641.7 1977.68h34.1M1505.2 2052.70h34.1M1573.5 2059.52h34.1M1675.8 2059.52h34.1M1710.0 2066.34h34.1M1675.8 2079.98h34.1M1744.1 2134.54h34.1M1573.5 2141.36h34.1M1675.8 2284.58h34.1M1505.2 2352.77h34.1M1607.6 2441.43h34.1" stroke="#FAFCFD" stroke-width="6.82"/>
<path d="M1573.5 954.71h34.1M1675.8 995.63h34.1M1607.6 1009.26h34.1M1505.2 1036.54h34.1M1744.1 1036.54h34.1M1607.6 1043.36h34.1M1710.0 1043.36h34.1M1744.1 1057.00h34.1M1505.2 1063.82h34.1M1539.3 1070.64h34.1M1607.6 1077.46h34.1M1710.0 1084.28h34.1M1539.3 1097.92h34.1M1641.7 1097.92h34.1M1505.2 1138.84h34.1M1539.3 1145.66h34.1M1573.5 1166.12h34.1M1505.2 1179.76h34.1M1675.8 1186.58h34.1M1744.1 1186.58h34.1M1641.7 1193.40h34.1M1505.2 1200.22h34.1M1539.3 1200.22h34.1M1744.1 1207.04h34.1M1607.6 1213.86h34.1M1675.8 1213.86h34.1M1573.5 1234.32h34.1M1607.6 1234.32h34.1M1573.5 1241.14h34.1M1607.6 1241.14h34.1M1675.8 1247.96h34.1M1539.3 1261.60h34.1M1505.2 1275.24h34.1M1573.5 1275.24h34.1M1710.0 1275.24h34.1M1573.5 1295.70h34.1M1675.8 1295.70h34.1M1539.3 1302.52h34.1M1505.2 1316.16h34.1M1607.6 1329.80h34.1M1505.2 1343.44h34.1M1675.8 1343.44h34.1M1505.2 1350.26h34.1M1710.0 1350.26h34.1M1607.6 1363.90h34.1M1675.8 1363.90h34.1M1675.8 1370.72h34.1M1607.6 1384.36h34.1M1573.5 1391.18h34.1M1505.2 1404.82h34.1M1539.3 1404.82h34.1M1607.6 1404.82h34.1M1505.2 1411.64h34.1M1573.5 1411.64h34.1M1607.6 1418.46h34.1M1710.0 1425.28h34.1M1573.5 1432.10h34.1M1607.6 1438.92h34.1M1641.7 1445.74h34.1M1505.2 1452.55h34.1M1505.2 1466.19h34.1M1607.6 1466.19h34.1M1607.6 1473.01h34.1M1641.7 1479.83h34.1M1505.2 1486.65h34.1M1710.0 1500.29h34.1M1744.1 1500.29h34.1M1539.3 1507.11h34.1M1573.5 1507.11h34.1M1744.1 1507.11h34.1M1710.0 1520.75h34.1M1505.2 1534.39h34.1M1539.3 1561.67h34.1M1744.1 1561.67h34.1M1710.0 1595.77h34.1M1539.3 1623.05h34.1M1744.1 1623.05h34.1M1607.6 1629.87h34.1M1641.7 1636.69h34.1M1675.8 1650.33h34.1M1539.3 1711.71h34.1M1607.6 1827.65h34.1M1641.7 1827.65h34.1M1573.5 1841.29h34.1M1573.5 1916.30h34.1M1641.7 1943.58h34.1M1744.1 2086.80h34.1M1539.3 2448.25h34.1" stroke="#FFFFFF" stroke-width="6.82"/>
<path d="M1675.8 954.71h34.1M1744.1 981.99h34.1M1573.5 995.63h34.1M1710.0 995.63h34.1M1539.3 1016.08h34.1M1573.5 1036.54h34.1M1641.7 1036.54h34.1M1573.5 1050.18h34.1M1641.7 1050.18h34.1M1710.0 1063.82h34.1M1675.8 1070.64h34.1M1573.5 1084.28h34.1M1675.8 1097.92h34.1M1607.6 1111.56h34.1M1539.3 1118.38h34.1M1675.8 1125.20h34.1M1744.1 1138.84h34.1M1607.6 1152.48h34.1M1607.6 1166.12h34.1M1573.5 1179.76h34.1M1710.0 1179.76h34.1M1710.0 1200.22h34.1M1641.7 1207.04h34.1M1505.2 1254.78h34.1M1675.8 1268.42h34.1M1505.2 1302.52h34.1M1641.7 1309.34h34.1M1641.7 1329.80h34.1M1607.6 1336.62h34.1M1744.1 1336.62h34.1M1505.2 1357.08h34.1M1539.3 1363.90h34.1M1641.7 1363.90h34.1M1539.3 1370.72h34.1M1607.6 1370.72h34.1M1607.6 1398.00h34.1M1675.8 1398.00h34.1M1710.0 1398.00h34.1M1744.1 1398.00h34.1M1710.0 1486.65h34.1M1744.1 1588.95h34.1M1641.7 2461.89h34.1" stroke="#FBE8EF" stroke-width="6.82"/>
<path d="M1744.1 954.71h34.1M1641.7 981.99h34.1M1573.5 1002.45h34.1M1641.7 1009.26h34.1M1539.3 1022.90h34.1M1505.2 1043.36h34.1M1505.2 1050.18h34.1M1539.3 1057.00h34.1M1607.6 1057.00h34.1M1607.6 1063.82h34.1M1710.0 1097.92h34.1M1744.1 1097.92h34.1M1607.6 1104.74h34.1M1505.2 1111.56h34.1M1607.6 1118.38h34.1M1675.8 1118.38h34.1M1710.0 1118.38h34.1M1573.5 1132.02h34.1M1573.5 1138.84h34.1M1505.2 1152.48h34.1M1641.7 1159.30h34.1M1710.0 1166.12h34.1M1744.1 1166.12h34.1M1505.2 1172.94h34.1M1607.6 1172.94h34.1M1607.6 1179.76h34.1M1744.1 1179.76h34.1M1505.2 1186.58h34.1M1641.7 1186.58h34.1M1744.1 1193.40h34.1M1675.8 1200.22h34.1M1539.3 1220.68h34.1M1607.6 1220.68h34.1M1710.0 1220.68h34.1M1641.7 1234.32h34.1M1744.1 1241.14h34.1M1641.7 1247.96h34.1M1675.8 1275.24h34.1M1744.1 1282.06h34.1M1641.7 1288.88h34.1M1744.1 1288.88h34.1M1710.0 1295.70h34.1M1539.3 1309.34h34.1M1573.5 1329.80h34.1M1539.3 1357.08h34.1M1744.1 1357.08h34.1M1641.7 1391.18h34.1M1744.1 1418.46h34.1M1505.2 1425.28h34.1M1710.0 1445.74h34.1M1641.7 1473.01h34.1M1675.8 1548.03h34.1M1607.6 1595.77h34.1M1710.0 1814.01h34.1M1641.7 1848.11h34.1M1675.8 2155.00h34.1M1573.5 2250.48h34.1M1641.7 2475.53h34.1M1744.1 2495.99h34.1" stroke="#FAE0EA" stroke-width="6.82"/>
<path d="M1675.8 1104.74h34.1M1710.0 1227.50h34.1M1675.8 1350.26h34.1M1710.0 1459.37h34.1M1675.8 1466.19h34.1M1744.1 1493.47h34.1M1573.5 1568.49h34.1M1505.2 1575.31h34.1M1607.6 1588.95h34.1M1573.5 1623.05h34.1M1675.8 1623.05h34.1M1710.0 1629.87h34.1M1607.6 1636.69h34.1M1710.0 1643.51h34.1M1607.6 1663.97h34.1M1573.5 1670.79h34.1M1675.8 1670.79h34.1M1641.7 1704.89h34.1M1744.1 1704.89h34.1M1710.0 1718.53h34.1M1505.2 1738.99h34.1M1573.5 1738.99h34.1M1641.7 1738.99h34.1M1539.3 1745.81h34.1M1641.7 1745.81h34.1M1539.3 1759.45h34.1M1607.6 1759.45h34.1M1607.6 1786.73h34.1M1641.7 1793.55h34.1M1675.8 1793.55h34.1M1505.2 1807.19h34.1M1710.0 1807.19h34.1M1607.6 1834.47h34.1M1607.6 1848.11h34.1M1573.5 1854.93h34.1M1573.5 1861.75h34.1M1744.1 1875.39h34.1M1744.1 1882.21h34.1M1607.6 1902.66h34.1M1744.1 1902.66h34.1M1744.1 1916.30h34.1M1539.3 1929.94h34.1M1641.7 1929.94h34.1M1641.7 1936.76h34.1M1505.2 1950.40h34.1M1607.6 1950.40h34.1M1710.0 1950.40h34.1M1641.7 1964.04h34.1M1744.1 1964.04h34.1M1573.5 1970.86h34.1M1607.6 1984.50h34.1M1675.8 1984.50h34.1M1710.0 1984.50h34.1M1505.2 1991.32h34.1M1539.3 1998.14h34.1M1573.5 1998.14h34.1M1573.5 2004.96h34.1M1744.1 2011.78h34.1M1641.7 2018.60h34.1M1744.1 2018.60h34.1M1675.8 2025.42h34.1M1675.8 2032.24h34.1M1539.3 2045.88h34.1M1744.1 2045.88h34.1M1607.6 2052.70h34.1M1539.3 2073.16h34.1M1641.7 2073.16h34.1M1607.6 2079.98h34.1M1641.7 2079.98h34.1M1744.1 2079.98h34.1M1607.6 2086.80h34.1M1505.2 2100.44h34.1M1539.3 2100.44h34.1M1573.5 2100.44h34.1M1744.1 2100.44h34.1M1505.2 2107.26h34.1M1573.5 2107.26h34.1M1710.0 2107.26h34.1M1539.3 2134.54h34.1M1573.5 2148.18h34.1M1573.5 2155.00h34.1M1539.3 2161.82h34.1M1710.0 2161.82h34.1M1505.2 2168.64h34.1M1539.3 2175.46h34.1M1607.6 2189.10h34.1M1641.7 2189.10h34.1M1744.1 2189.10h34.1M1573.5 2195.92h34.1M1675.8 2195.92h34.1M1675.8 2202.74h34.1M1539.3 2209.56h34.1M1675.8 2209.56h34.1M1607.6 2216.38h34.1M1675.8 2216.38h34.1M1607.6 2230.02h34.1M1710.0 2230.02h34.1M1744.1 2230.02h34.1M1573.5 2243.66h34.1M1641.7 2243.66h34.1M1539.3 2250.48h34.1M1607.6 2250.48h34.1M1539.3 2257.30h34.1M1744.1 2257.30h34.1M1505.2 2264.12h34.1M1573.5 2264.12h34.1M1607.6 2264.12h34.1M1505.2 2277.76h34.1M1573.5 2277.76h34.1M1675.8 2291.40h34.1M1539.3 2298.22h34.1M1744.1 2298.22h34.1M1539.3 2311.86h34.1M1539.3 2318.68h34.1M1573.5 2318.68h34.1M1710.0 2318.68h34.1M1744.1 2318.68h34.1M1539.3 2332.32h34.1M1641.7 2332.32h34.1M1710.0 2332.32h34.1M1675.8 2345.95h34.1M1710.0 2345.95h34.1M1573.5 2352.77h34.1M1505.2 2359.59h34.1M1675.8 2366.41h34.1M1744.1 2366.41h34.1M1641.7 2373.23h34.1M1539.3 2386.87h34.1M1607.6 2386.87h34.1M1641.7 2386.87h34.1M1710.0 2386.87h34.1M1573.5 2393.69h34.1M1675.8 2393.69h34.1M1675.8 2400.51h34.1M1710.0 2400.51h34.1M1744.1 2400.51h34.1M1573.5 2407.33h34.1M1573.5 2414.15h34.1M1744.1 2414.15h34.1M1675.8 2420.97h34.1M1744.1 2420.97h34.1M1607.6 2427.79h34.1M1641.7 2427.79h34.1M1710.0 2427.79h34.1M1744.1 2427.79h34.1M1710.0 2441.43h34.1M1744.1 2441.43h34.1M1710.0 2448.25h34.1M1744.1 2448.25h34.1M1539.3 2455.07h34.1M1573.5 2455.07h34.1M1641.7 2455.07h34.1M1539.3 2468.71h34.1M1641.7 2468.71h34.1M1573.5 2482.35h34.1M1641.7 2482.35h34.1M1641.7 2489.17h34.1M1539.3 2495.99h34.1M1573.5 2495.99h34.1M1710.0 2495.99h34.1M1573.5 2502.81h34.1M1607.6 2502.81h34.1M1539.3 2509.63h34.1M1573.5 2509.63h34.1M1641.7 2516.45h34.1M1539.3 2523.27h34.1M1675.8 2523.27h34.1M1675.8 2530.09h34.1M1744.1 2530.09h34.1M1607.6 2536.91h34.1M1539.3 2543.73h34.1M1675.8 2550.55h34.1M1505.2 2557.37h34.1M1573.5 2557.37h34.1M1505.2 2564.19h34.1" stroke="#D8E6F3" stroke-width="6.82"/>
<path d="M1710.0 1152.48h34.1M1539.3 1227.50h34.1M1710.0 1254.78h34.1M1573.5 1261.60h34.1M1607.6 1261.60h34.1M1539.3 1282.06h34.1M1505.2 1309.34h34.1M1539.3 1316.16h34.1M1607.6 1322.98h34.1M1641.7 1322.98h34.1M1573.5 1350.26h34.1M1641.7 1350.26h34.1M1744.1 1350.26h34.1M1505.2 1363.90h34.1M1539.3 1384.36h34.1M1573.5 1384.36h34.1M1710.0 1391.18h34.1M1744.1 1391.18h34.1M1675.8 1418.46h34.1M1573.5 1425.28h34.1M1744.1 1432.10h34.1M1573.5 1438.92h34.1M1607.6 1452.55h34.1M1641.7 1452.55h34.1M1744.1 1452.55h34.1M1607.6 1459.37h34.1M1505.2 1479.83h34.1M1573.5 1479.83h34.1M1573.5 1493.47h34.1M1505.2 1500.29h34.1M1573.5 1513.93h34.1M1539.3 1534.39h34.1M1641.7 1534.39h34.1M1675.8 1534.39h34.1M1710.0 1541.21h34.1M1573.5 1554.85h34.1M1744.1 1554.85h34.1M1675.8 1568.49h34.1M1539.3 1575.31h34.1M1573.5 1575.31h34.1M1505.2 1582.13h34.1M1539.3 1582.13h34.1M1710.0 1582.13h34.1M1641.7 1588.95h34.1M1710.0 1588.95h34.1M1607.6 1602.59h34.1M1607.6 1609.41h34.1M1710.0 1609.41h34.1M1641.7 1616.23h34.1M1505.2 1629.87h34.1M1505.2 1636.69h34.1M1573.5 1650.33h34.1M1607.6 1650.33h34.1M1641.7 1657.15h34.1M1641.7 1663.97h34.1M1744.1 1663.97h34.1M1710.0 1670.79h34.1M1675.8 1677.61h34.1M1573.5 1684.43h34.1M1607.6 1684.43h34.1M1641.7 1684.43h34.1M1675.8 1684.43h34.1M1710.0 1684.43h34.1M1505.2 1698.07h34.1M1710.0 1698.07h34.1M1710.0 1704.89h34.1M1505.2 1711.71h34.1M1641.7 1711.71h34.1M1675.8 1711.71h34.1M1539.3 1718.53h34.1M1710.0 1732.17h34.1M1607.6 1752.63h34.1M1710.0 1752.63h34.1M1710.0 1759.45h34.1M1607.6 1766.27h34.1M1505.2 1773.09h34.1M1744.1 1773.09h34.1M1505.2 1779.91h34.1M1539.3 1779.91h34.1M1573.5 1779.91h34.1M1607.6 1779.91h34.1M1641.7 1779.91h34.1M1744.1 1779.91h34.1M1710.0 1793.55h34.1M1607.6 1800.37h34.1M1710.0 1800.37h34.1M1539.3 1807.19h34.1M1675.8 1807.19h34.1M1641.7 1820.83h34.1M1710.0 1820.83h34.1M1505.2 1827.65h34.1M1539.3 1827.65h34.1M1573.5 1827.65h34.1M1675.8 1841.29h34.1M1539.3 1848.11h34.1M1573.5 1848.11h34.1M1710.0 1848.11h34.1M1744.1 1848.11h34.1M1539.3 1854.93h34.1M1607.6 1882.21h34.1M1641.7 1882.21h34.1M1539.3 1889.03h34.1M1641.7 1895.85h34.1M1744.1 1895.85h34.1M1573.5 1902.66h34.1M1710.0 1909.48h34.1M1744.1 1909.48h34.1M1710.0 1916.30h34.1M1505.2 1929.94h34.1M1505.2 1936.76h34.1M1710.0 1943.58h34.1M1744.1 1943.58h34.1M1539.3 1957.22h34.1M1573.5 1957.22h34.1M1641.7 1957.22h34.1M1505.2 1964.04h34.1M1505.2 1977.68h34.1M1675.8 1977.68h34.1M1573.5 1984.50h34.1M1675.8 1991.32h34.1M1710.0 2004.96h34.1M1539.3 2011.78h34.1M1675.8 2011.78h34.1M1505.2 2018.60h34.1M1710.0 2025.42h34.1M1744.1 2025.42h34.1M1710.0 2032.24h34.1M1675.8 2039.06h34.1M1607.6 2059.52h34.1M1539.3 2066.34h34.1M1607.6 2066.34h34.1M1505.2 2073.16h34.1M1641.7 2086.80h34.1M1675.8 2086.80h34.1M1710.0 2086.80h34.1M1710.0 2093.62h34.1M1505.2 2114.08h34.1M1710.0 2114.08h34.1M1607.6 2120.90h34.1M1505.2 2127.72h34.1M1539.3 2127.72h34.1M1607.6 2127.72h34.1M1710.0 2127.72h34.1M1505.2 2134.54h34.1M1573.5 2134.54h34.1M1675.8 2134.54h34.1M1710.0 2148.18h34.1M1675.8 2161.82h34.1M1539.3 2168.64h34.1M1675.8 2168.64h34.1M1607.6 2202.74h34.1M1710.0 2216.38h34.1M1675.8 2223.20h34.1M1607.6 2236.84h34.1M1744.1 2243.66h34.1M1573.5 2257.30h34.1M1641.7 2264.12h34.1M1710.0 2264.12h34.1M1641.7 2270.94h34.1M1710.0 2270.94h34.1M1675.8 2305.04h34.1M1710.0 2311.86h34.1M1641.7 2318.68h34.1M1539.3 2325.50h34.1M1607.6 2325.50h34.1M1573.5 2332.32h34.1M1710.0 2359.59h34.1M1744.1 2359.59h34.1M1744.1 2386.87h34.1M1607.6 2400.51h34.1M1641.7 2400.51h34.1M1539.3 2407.33h34.1M1675.8 2414.15h34.1M1505.2 2420.97h34.1M1675.8 2434.61h34.1M1710.0 2434.61h34.1M1744.1 2468.71h34.1M1607.6 2475.53h34.1M1539.3 2489.17h34.1M1607.6 2495.99h34.1M1675.8 2495.99h34.1M1675.8 2516.45h34.1M1710.0 2516.45h34.1M1710.0 2550.55h34.1M1744.1 2550.55h34.1" stroke="#E9F1F8" stroke-width="6.82"/>
<path d="M1539.3 1186.58h34.1M1573.5 1227.50h34.1M1744.1 1309.34h34.1M1675.8 1432.10h34.1M1573.5 1452.55h34.1M1505.2 1459.37h34.1M1710.0 1466.19h34.1M1744.1 1479.83h34.1M1607.6 1513.93h34.1M1710.0 1554.85h34.1M1675.8 1561.67h34.1M1641.7 1575.31h34.1M1505.2 1588.95h34.1M1573.5 1588.95h34.1M1675.8 1588.95h34.1M1675.8 1602.59h34.1M1744.1 1602.59h34.1M1641.7 1609.41h34.1M1607.6 1616.23h34.1M1573.5 1629.87h34.1M1539.3 1636.69h34.1M1710.0 1663.97h34.1M1539.3 1670.79h34.1M1539.3 1677.61h34.1M1539.3 1684.43h34.1M1573.5 1691.25h34.1M1744.1 1718.53h34.1M1607.6 1725.35h34.1M1744.1 1725.35h34.1M1539.3 1732.17h34.1M1539.3 1738.99h34.1M1744.1 1738.99h34.1M1573.5 1745.81h34.1M1607.6 1745.81h34.1M1744.1 1745.81h34.1M1505.2 1759.45h34.1M1675.8 1759.45h34.1M1505.2 1766.27h34.1M1573.5 1766.27h34.1M1675.8 1766.27h34.1M1641.7 1773.09h34.1M1675.8 1773.09h34.1M1675.8 1779.91h34.1M1710.0 1779.91h34.1M1539.3 1793.55h34.1M1573.5 1793.55h34.1M1607.6 1814.01h34.1M1607.6 1820.83h34.1M1675.8 1820.83h34.1M1539.3 1834.47h34.1M1573.5 1834.47h34.1M1675.8 1834.47h34.1M1505.2 1841.29h34.1M1744.1 1841.29h34.1M1607.6 1854.93h34.1M1607.6 1861.75h34.1M1710.0 1861.75h34.1M1539.3 1875.39h34.1M1710.0 1875.39h34.1M1539.3 1882.21h34.1M1573.5 1882.21h34.1M1505.2 1889.03h34.1M1675.8 1889.03h34.1M1710.0 1889.03h34.1M1505.2 1895.85h34.1M1539.3 1895.85h34.1M1505.2 1902.66h34.1M1675.8 1902.66h34.1M1607.6 1929.94h34.1M1675.8 1929.94h34.1M1710.0 1929.94h34.1M1744.1 1929.94h34.1M1675.8 1936.76h34.1M1710.0 1936.76h34.1M1573.5 1950.40h34.1M1505.2 1957.22h34.1M1744.1 1957.22h34.1M1607.6 1964.04h34.1M1675.8 1964.04h34.1M1505.2 1970.86h34.1M1607.6 1970.86h34.1M1744.1 1970.86h34.1M1573.5 1977.68h34.1M1607.6 1977.68h34.1M1744.1 1984.50h34.1M1539.3 1991.32h34.1M1675.8 1998.14h34.1M1710.0 1998.14h34.1M1539.3 2004.96h34.1M1607.6 2004.96h34.1M1641.7 2004.96h34.1M1710.0 2011.78h34.1M1539.3 2018.60h34.1M1505.2 2025.42h34.1M1539.3 2025.42h34.1M1607.6 2025.42h34.1M1573.5 2032.24h34.1M1607.6 2032.24h34.1M1641.7 2032.24h34.1M1744.1 2032.24h34.1M1573.5 2045.88h34.1M1675.8 2045.88h34.1M1641.7 2052.70h34.1M1675.8 2052.70h34.1M1539.3 2059.52h34.1M1573.5 2066.34h34.1M1675.8 2066.34h34.1M1573.5 2073.16h34.1M1744.1 2073.16h34.1M1539.3 2107.26h34.1M1744.1 2107.26h34.1M1505.2 2120.90h34.1M1641.7 2148.18h34.1M1573.5 2161.82h34.1M1573.5 2168.64h34.1M1710.0 2168.64h34.1M1505.2 2175.46h34.1M1573.5 2175.46h34.1M1573.5 2189.10h34.1M1710.0 2189.10h34.1M1607.6 2195.92h34.1M1539.3 2202.74h34.1M1573.5 2202.74h34.1M1641.7 2202.74h34.1M1744.1 2202.74h34.1M1573.5 2216.38h34.1M1539.3 2230.02h34.1M1539.3 2236.84h34.1M1710.0 2236.84h34.1M1539.3 2243.66h34.1M1675.8 2243.66h34.1M1744.1 2250.48h34.1M1573.5 2270.94h34.1M1607.6 2270.94h34.1M1675.8 2270.94h34.1M1710.0 2277.76h34.1M1710.0 2284.58h34.1M1607.6 2291.40h34.1M1710.0 2291.40h34.1M1675.8 2298.22h34.1M1573.5 2305.04h34.1M1710.0 2305.04h34.1M1573.5 2311.86h34.1M1641.7 2311.86h34.1M1744.1 2311.86h34.1M1573.5 2325.50h34.1M1710.0 2325.50h34.1M1744.1 2332.32h34.1M1641.7 2339.14h34.1M1539.3 2345.95h34.1M1539.3 2352.77h34.1M1607.6 2352.77h34.1M1641.7 2359.59h34.1M1505.2 2366.41h34.1M1539.3 2366.41h34.1M1607.6 2366.41h34.1M1710.0 2373.23h34.1M1607.6 2380.05h34.1M1675.8 2386.87h34.1M1607.6 2393.69h34.1M1744.1 2393.69h34.1M1505.2 2400.51h34.1M1607.6 2414.15h34.1M1641.7 2414.15h34.1M1505.2 2427.79h34.1M1573.5 2427.79h34.1M1505.2 2434.61h34.1M1539.3 2434.61h34.1M1573.5 2434.61h34.1M1641.7 2441.43h34.1M1573.5 2448.25h34.1M1573.5 2468.71h34.1M1710.0 2475.53h34.1M1744.1 2482.35h34.1M1744.1 2489.17h34.1M1505.2 2495.99h34.1M1710.0 2502.81h34.1M1607.6 2509.63h34.1M1710.0 2509.63h34.1M1607.6 2516.45h34.1M1505.2 2523.27h34.1M1607.6 2523.27h34.1M1573.5 2536.91h34.1M1641.7 2536.91h34.1M1505.2 2550.55h34.1" stroke="#DEEAF5" stroke-width="6.82"/>
<path d="M1744.1 1268.42h34.1M1505.2 1568.49h34.1M1607.6 1732.17h34.1M1744.1 1732.17h34.1M1505.2 1786.73h34.1M1505.2 1875.39h34.1M1539.3 1970.86h34.1M1675.8 1970.86h34.1M1710.0 1970.86h34.1M1710.0 1977.68h34.1M1573.5 1991.32h34.1M1607.6 1998.14h34.1M1744.1 1998.14h34.1M1539.3 2039.06h34.1M1710.0 2045.88h34.1M1744.1 2052.70h34.1M1641.7 2066.34h34.1M1710.0 2079.98h34.1M1505.2 2086.80h34.1M1607.6 2161.82h34.1M1607.6 2182.28h34.1M1710.0 2195.92h34.1M1744.1 2195.92h34.1M1710.0 2209.56h34.1M1744.1 2223.20h34.1M1505.2 2236.84h34.1M1675.8 2236.84h34.1M1505.2 2243.66h34.1M1505.2 2270.94h34.1M1744.1 2270.94h34.1M1675.8 2277.76h34.1M1573.5 2298.22h34.1M1675.8 2332.32h34.1M1607.6 2359.59h34.1M1607.6 2373.23h34.1M1505.2 2380.05h34.1M1573.5 2380.05h34.1M1573.5 2420.97h34.1M1539.3 2441.43h34.1M1744.1 2455.07h34.1M1710.0 2482.35h34.1M1573.5 2489.17h34.1M1744.1 2509.63h34.1M1573.5 2530.09h34.1M1710.0 2536.91h34.1M1505.2 2543.73h34.1M1607.6 2543.73h34.1M1641.7 2543.73h34.1M1675.8 2543.73h34.1M1744.1 2557.37h34.1" stroke="#C8DCEE" stroke-width="6.82"/>
<path d="M1641.7 1459.37h34.1M1539.3 1588.95h34.1M1641.7 1643.51h34.1M1573.5 1718.53h34.1M1607.6 1718.53h34.1M1710.0 1738.99h34.1M1641.7 1759.45h34.1M1641.7 1766.27h34.1M1539.3 1773.09h34.1M1573.5 1773.09h34.1M1505.2 1820.83h34.1M1573.5 1820.83h34.1M1641.7 1834.47h34.1M1744.1 1854.93h34.1M1641.7 1861.75h34.1M1675.8 1861.75h34.1M1744.1 1861.75h34.1M1675.8 1882.21h34.1M1539.3 1902.66h34.1M1641.7 1902.66h34.1M1539.3 1923.12h34.1M1505.2 1943.58h34.1M1539.3 1950.40h34.1M1641.7 1950.40h34.1M1675.8 1950.40h34.1M1607.6 1957.22h34.1M1641.7 1970.86h34.1M1744.1 1977.68h34.1M1505.2 1984.50h34.1M1539.3 1984.50h34.1M1607.6 1991.32h34.1M1505.2 2032.24h34.1M1573.5 2039.06h34.1M1505.2 2045.88h34.1M1710.0 2059.52h34.1M1505.2 2079.98h34.1M1744.1 2093.62h34.1M1607.6 2100.44h34.1M1744.1 2120.90h34.1M1539.3 2148.18h34.1M1607.6 2148.18h34.1M1607.6 2155.00h34.1M1641.7 2161.82h34.1M1744.1 2161.82h34.1M1607.6 2175.46h34.1M1675.8 2175.46h34.1M1641.7 2182.28h34.1M1744.1 2182.28h34.1M1505.2 2189.10h34.1M1675.8 2189.10h34.1M1505.2 2202.74h34.1M1505.2 2230.02h34.1M1573.5 2230.02h34.1M1573.5 2236.84h34.1M1744.1 2236.84h34.1M1607.6 2243.66h34.1M1710.0 2243.66h34.1M1539.3 2270.94h34.1M1641.7 2277.76h34.1M1573.5 2284.58h34.1M1539.3 2291.40h34.1M1607.6 2298.22h34.1M1641.7 2298.22h34.1M1675.8 2318.68h34.1M1675.8 2325.50h34.1M1744.1 2325.50h34.1M1607.6 2332.32h34.1M1505.2 2339.14h34.1M1539.3 2339.14h34.1M1505.2 2345.95h34.1M1573.5 2345.95h34.1M1675.8 2352.77h34.1M1641.7 2366.41h34.1M1710.0 2366.41h34.1M1505.2 2373.23h34.1M1573.5 2373.23h34.1M1641.7 2380.05h34.1M1710.0 2380.05h34.1M1505.2 2386.87h34.1M1505.2 2393.69h34.1M1539.3 2393.69h34.1M1641.7 2393.69h34.1M1505.2 2414.15h34.1M1539.3 2414.15h34.1M1710.0 2414.15h34.1M1607.6 2420.97h34.1M1641.7 2420.97h34.1M1539.3 2427.79h34.1M1607.6 2448.25h34.1M1641.7 2448.25h34.1M1675.8 2448.25h34.1M1505.2 2455.07h34.1M1607.6 2455.07h34.1M1675.8 2455.07h34.1M1573.5 2461.89h34.1M1675.8 2461.89h34.1M1744.1 2461.89h34.1M1505.2 2468.71h34.1M1675.8 2475.53h34.1M1744.1 2475.53h34.1M1505.2 2482.35h34.1M1675.8 2482.35h34.1M1607.6 2489.17h34.1M1675.8 2489.17h34.1M1505.2 2502.81h34.1M1573.5 2523.27h34.1M1607.6 2530.09h34.1M1505.2 2536.91h34.1M1744.1 2536.91h34.1M1573.5 2543.73h34.1M1539.3 2557.37h34.1M1641.7 2557.37h34.1M1710.0 2557.37h34.1M1539.3 2564.19h34.1M1607.6 2564.19h34.1" stroke="#D3E3F1" stroke-width="6.82"/>
<path d="M1744.1 1616.23h34.1M1607.6 1841.29h34.1M1744.1 2141.36h34.1M1710.0 2202.74h34.1M1744.1 2380.05h34.1M1744.1 2502.81h34.1M1744.1 2543.73h34.1" stroke="#808080" stroke-width="6.82"/>
<path d="M1675.8 1725.35h34.1M1505.2 1732.17h34.1M1675.8 1738.99h34.1M1675.8 1745.81h34.1M1710.0 1766.27h34.1M1573.5 1875.39h34.1M1641.7 1923.12h34.1M1710.0 1923.12h34.1M1744.1 1950.40h34.1M1607.6 2011.78h34.1M1539.3 2032.24h34.1M1641.7 2100.44h34.1M1675.8 2107.26h34.1M1573.5 2114.08h34.1M1744.1 2148.18h34.1M1505.2 2155.00h34.1M1641.7 2155.00h34.1M1505.2 2161.82h34.1M1607.6 2168.64h34.1M1641.7 2168.64h34.1M1744.1 2175.46h34.1M1505.2 2182.28h34.1M1539.3 2182.28h34.1M1539.3 2195.92h34.1M1641.7 2195.92h34.1M1539.3 2216.38h34.1M1505.2 2223.20h34.1M1641.7 2223.20h34.1M1710.0 2223.20h34.1M1675.8 2230.02h34.1M1539.3 2264.12h34.1M1505.2 2291.40h34.1M1710.0 2298.22h34.1M1675.8 2311.86h34.1M1607.6 2339.14h34.1M1607.6 2345.95h34.1M1744.1 2345.95h34.1M1710.0 2352.77h34.1M1539.3 2380.05h34.1M1539.3 2420.97h34.1M1607.6 2434.61h34.1M1573.5 2441.43h34.1M1710.0 2455.07h34.1M1539.3 2461.89h34.1M1607.6 2468.71h34.1M1505.2 2509.63h34.1M1641.7 2523.27h34.1M1710.0 2523.27h34.1M1744.1 2523.27h34.1M1641.7 2530.09h34.1M1539.3 2536.91h34.1M1675.8 2536.91h34.1M1607.6 2557.37h34.1M1675.8 2557.37h34.1M1710.0 2564.19h34.1M1744.1 2564.19h34.1" stroke="#CEE0F0" stroke-width="6.82"/>
<path d="M1675.8 1786.73h34.1M1641.7 1875.39h34.1M1744.1 1991.32h34.1M1607.6 2045.88h34.1M1641.7 2175.46h34.1M1675.8 2182.28h34.1M1675.8 2264.12h34.1M1573.5 2339.14h34.1M1675.8 2359.59h34.1M1710.0 2393.69h34.1M1710.0 2420.97h34.1M1675.8 2441.43h34.1M1539.3 2530.09h34.1M1710.0 2530.09h34.1" stroke="#C2D8EC" stroke-width="6.82"/>
<path d="M1607.6 1875.39h34.1M1539.3 2373.23h34.1M1675.8 2380.05h34.1M1675.8 2502.81h34.1" stroke="#B6D1E9" stroke-width="6.82"/>
<path d="M1675.8 1875.39h34.1M1505.2 2148.18h34.1M1539.3 2189.10h34.1M1539.3 2277.76h34.1M1675.8 2339.14h34.1M1710.0 2543.73h34.1M1641.7 2564.19h34.1" stroke="#BCD5EB" stroke-width="6.82"/>
<path d="M1744.1 1970.86h34.1" stroke="#E8508A" stroke-width="6.82"/>
<path d="M1505.2 780.80h273.0M1505.2 787.62h273.0M1505.2 794.44h273.0M1505.2 801.26h273.0M1505.2 808.08h273.0M1505.2 814.90h273.0M1505.2 821.72h273.0M1505.2 828.54h273.0M1505.2 835.36h273.0M1505.2 842.18h273.0M1505.2 849.00h273.0M1505.2 855.82h273.0M1505.2 862.64h273.0M1505.2 869.46h273.0M1505.2 876.28h273.0M1505.2 883.10h273.0M1505.2 889.92h273.0M1505.2 896.74h273.0M1505.2 903.56h273.0M1505.2 910.38h273.0M1505.2 917.20h273.0M1505.2 924.02h273.0M1505.2 930.84h273.0M1505.2 937.66h273.0M1505.2 944.48h273.0M1505.2 951.30h273.0M1505.2 958.12h273.0M1505.2 964.94h273.0M1505.2 971.76h273.0M1505.2 978.58h273.0M1505.2 985.40h273.0M1505.2 992.22h273.0M1505.2 999.04h273.0M1505.2 1005.85h273.0M1505.2 1012.67h273.0M1505.2 1019.49h273.0M1505.2 1026.31h273.0M1505.2 1033.13h273.0M1505.2 1039.95h273.0M1505.2 1046.77h273.0M1505.2 1053.59h273.0M1505.2 1060.41h273.0M1505.2 1067.23h273.0M1505.2 1074.05h273.0M1505.2 1080.87h273.0M1505.2 1087.69h273.0M1505.2 1094.51h273.0M1505.2 1101.33h273.0M1505.2 1108.15h273.0M1505.2 1114.97h273.0M1505.2 1121.79h273.0M1505.2 1128.61h273.0M1505.2 1135.43h273.0M1505.2 1142.25h273.0M1505.2 1149.07h273.0M1505.2 1155.89h273.0M1505.2 1162.71h273.0M1505.2 1169.53h273.0M1505.2 1176.35h273.0M1505.2 1183.17h273.0M1505.2 1189.99h273.0M1505.2 1196.81h273.0M1505.2 1203.63h273.0M1505.2 1210.45h273.0M1505.2 1217.27h273.0M1505.2 1224.09h273.0M1505.2 1230.91h273.0M1505.2 1237.73h273.0M1505.2 1244.55h273.0M1505.2 1251.37h273.0M1505.2 1258.19h273.0M1505.2 1265.01h273.0M1505.2 1271.83h273.0M1505.2 1278.65h273.0M1505.2 1285.47h273.0M1505.2 1292.29h273.0M1505.2 1299.11h273.0M1505.2 1305.93h273.0M1505.2 1312.75h273.0M1505.2 1319.57h273.0M1505.2 1326.39h273.0M1505.2 1333.21h273.0M1505.2 1340.03h273.0M1505.2 1346.85h273.0M1505.2 1353.67h273.0M1505.2 1360.49h273.0M1505.2 1367.31h273.0M1505.2 1374.13h273.0M1505.2 1380.95h273.0M1505.2 1387.77h273.0M1505.2 1394.59h273.0M1505.2 1401.41h273.0M1505.2 1408.23h273.0M1505.2 1415.05h273.0M1505.2 1421.87h273.0M1505.2 1428.69h273.0M1505.2 1435.51h273.0M1505.2 1442.33h273.0M1505.2 1449.15h273.0M1505.2 1455.96h273.0M1505.2 1462.78h273.0M1505.2 1469.60h273.0M1505.2 1476.42h273.0M1505.2 1483.24h273.0M1505.2 1490.06h273.0M1505.2 1496.88h273.0M1505.2 1503.70h273.0M1505.2 1510.52h273.0M1505.2 1517.34h273.0M1505.2 1524.16h273.0M1505.2 1530.98h273.0M1505.2 1537.80h273.0M1505.2 1544.62h273.0M1505.2 1551.44h273.0M1505.2 1558.26h273.0M1505.2 1565.08h273.0M1505.2 1571.90h273.0M1505.2 1578.72h273.0M1505.2 1585.54h273.0M1505.2 1592.36h273.0M1505.2 1599.18h273.0M1505.2 1606.00h273.0M1505.2 1612.82h273.0M1505.2 1619.64h273.0M1505.2 1626.46h273.0M1505.2 1633.28h273.0M1505.2 1640.10h273.0M1505.2 1646.92h273.0M1505.2 1653.74h273.0M1505.2 1660.56h273.0M1505.2 1667.38h273.0M1505.2 1674.20h273.0M1505.2 1681.02h273.0M1505.2 1687.84h273.0M1505.2 1694.66h273.0M1505.2 1701.48h273.0M1505.2 1708.30h273.0M1505.2 1715.12h273.0M1505.2 1721.94h273.0M1505.2 1728.76h273.0M1505.2 1735.58h273.0M1505.2 1742.40h273.0M1505.2 1749.22h273.0M1505.2 1756.04h273.0M1505.2 1762.86h273.0M1505.2 1769.68h273.0M1505.2 1776.50h273.0M1505.2 1783.32h273.0M1505.2 1790.14h273.0M1505.2 1796.96h273.0M1505.2 1803.78h273.0M1505.2 1810.60h273.0M1505.2 1817.42h273.0M1505.2 1824.24h273.0M1505.2 1831.06h273.0M1505.2 1837.88h273.0M1505.2 1844.70h273.0M1505.2 1851.52h273.0M1505.2 1858.34h273.0M1505.2 1865.16h273.0M1505.2 1871.98h273.0M1505.2 1878.80h273.0M1505.2 1885.62h273.0M1505.2 1892.44h273.0M1505.2 1899.25h273.0M1505.2 1906.07h273.0M1505.2 1912.89h273.0M1505.2 1919.71h273.0M1505.2 1926.53h273.0M1505.2 1933.35h273.0M1505.2 1940.17h273.0M1505.2 1946.99h273.0M1505.2 1953.81h273.0M1505.2 1960.63h273.0M1505.2 1967.45h273.0M1505.2 1974.27h273.0M1505.2 1981.09h273.0M1505.2 1987.91h273.0M1505.2 1994.73h273.0M1505.2 2001.55h273.0M1505.2 2008.37h273.0M1505.2 2015.19h273.0M1505.2 2022.01h273.0M1505.2 2028.83h273.0M1505.2 2035.65h273.0M1505.2 2042.47h273.0M1505.2 2049.29h273.0M1505.2 2056.11h273.0M1505.2 2062.93h273.0M1505.2 2069.75h273.0M1505.2 2076.57h273.0M1505.2 2083.39h273.0M1505.2 2090.21h273.0M1505.2 2097.03h273.0M1505.2 2103.85h273.0M1505.2 2110.67h273.0M1505.2 2117.49h273.0M1505.2 2124.31h273.0M1505.2 2131.13h273.0M1505.2 2137.95h273.0M1505.2 2144.77h273.0M1505.2 2151.59h273.0M1505.2 2158.41h273.0M1505.2 2165.23h273.0M1505.2 2172.05h273.0M1505.2 2178.87h273.0M1505.2 2185.69h273.0M1505.2 2192.51h273.0M1505.2 2199.33h273.0M1505.2 2206.15h273.0M1505.2 2212.97h273.0M1505.2 2219.79h273.0M1505.2 2226.61h273.0M1505.2 2233.43h273.0M1505.2 2240.25h273.0M1505.2 2247.07h273.0M1505.2 2253.89h273.0M1505.2 2260.71h273.0M1505.2 2267.53h273.0M1505.2 2274.35h273.0M1505.2 2281.17h273.0M1505.2 2287.99h273.0M1505.2 2294.81h273.0M1505.2 2301.63h273.0M1505.2 2308.45h273.0M1505.2 2315.27h273.0M1505.2 2322.09h273.0M1505.2 2328.91h273.0M1505.2 2335.73h273.0M1505.2 2342.55h273.0M1505.2 2349.36h273.0M1505.2 2356.18h273.0M1505.2 2363.00h273.0M1505.2 2369.82h273.0M1505.2 2376.64h273.0M1505.2 2383.46h273.0M1505.2 2390.28h273.0M1505.2 2397.10h273.0M1505.2 2403.92h273.0M1505.2 2410.74h273.0M1505.2 2417.56h273.0M1505.2 2424.38h273.0M1505.2 2431.20h273.0M1505.2 2438.02h273.0M1505.2 2444.84h273.0M1505.2 2451.66h273.0M1505.2 2458.48h273.0M1505.2 2465.30h273.0M1505.2 2472.12h273.0M1505.2 2478.94h273.0M1505.2 2485.76h273.0M1505.2 2492.58h273.0M1505.2 2499.40h273.0M1505.2 2506.22h273.0M1505.2 2513.04h273.0M1505.2 2519.86h273.0M1505.2 2526.68h273.0M1505.2 2533.50h273.0M1505.2 2540.32h273.0M1505.2 2547.14h273.0M1505.2 2553.96h273.0M1505.2 2560.78h273.0M1505.2 2567.60h273.0M1505.2 780.8V2567.6M1539.3 780.8V2567.6M1573.5 780.8V2567.6M1607.6 780.8V2567.6M1641.7 780.8V2567.6M1675.8 780.8V2567.6M1710.0 780.8V2567.6M1744.1 780.8V2567.6M1778.2 780.8V2567.6" stroke="#3a3a3a" stroke-opacity="0.45" stroke-width="0.7" fill="none"/>
<path d="M1466.1 791.03h10.4M1466.1 804.67h10.4M1466.1 947.89h10.4M1466.1 968.35h10.4M1466.1 975.17h10.4M1466.1 995.63h10.4M1466.1 1002.45h10.4M1466.1 1029.72h10.4M1466.1 1057.00h10.4M1466.1 1070.64h10.4M1466.1 1118.38h10.4M1466.1 1125.20h10.4M1466.1 1152.48h10.4M1466.1 1193.40h10.4M1466.1 1227.50h10.4M1466.1 1234.32h10.4M1466.1 1254.78h10.4M1466.1 1261.60h10.4M1466.1 1282.06h10.4M1466.1 1295.70h10.4M1466.1 1302.52h10.4M1466.1 1322.98h10.4M1466.1 1343.44h10.4M1466.1 1357.08h10.4M1466.1 1377.54h10.4M1466.1 1418.46h10.4M1466.1 1473.01h10.4M1466.1 1479.83h10.4M1466.1 1500.29h10.4M1466.1 1520.75h10.4M1466.1 1527.57h10.4M1466.1 1541.21h10.4M1466.1 1561.67h10.4M1466.1 1588.95h10.4M1466.1 1602.59h10.4M1466.1 1650.33h10.4M1466.1 1670.79h10.4M1466.1 1698.07h10.4M1466.1 1718.53h10.4M1466.1 1738.99h10.4M1466.1 1752.63h10.4M1466.1 1759.45h10.4M1466.1 1779.91h10.4M1466.1 1786.73h10.4M1466.1 1793.55h10.4M1466.1 1800.37h10.4M1466.1 1827.65h10.4M1466.1 1841.29h10.4M1466.1 1854.93h10.4M1466.1 1868.57h10.4M1466.1 1895.85h10.4M1466.1 1909.48h10.4M1466.1 1916.30h10.4M1466.1 1943.58h10.4M1466.1 1950.40h10.4M1466.1 1957.22h10.4M1466.1 1977.68h10.4M1466.1 1991.32h10.4M1466.1 2004.96h10.4M1466.1 2025.42h10.4M1466.1 2039.06h10.4M1466.1 2045.88h10.4M1466.1 2052.70h10.4M1466.1 2066.34h10.4M1466.1 2086.80h10.4M1466.1 2093.62h10.4M1466.1 2100.44h10.4M1466.1 2107.26h10.4M1466.1 2141.36h10.4M1466.1 2161.82h10.4M1466.1 2168.64h10.4M1466.1 2202.74h10.4M1466.1 2209.56h10.4M1466.1 2243.66h10.4M1466.1 2270.94h10.4M1466.1 2305.04h10.4M1466.1 2311.86h10.4M1466.1 2332.32h10.4M1466.1 2339.14h10.4M1466.1 2393.69h10.4M1466.1 2420.97h10.4M1466.1 2434.61h10.4M1466.1 2455.07h10.4M1466.1 2461.89h10.4M1466.1 2475.53h10.4M1466.1 2482.35h10.4M1466.1 2523.27h10.4M1466.1 2543.73h10.4M1466.1 2564.19h10.4" stroke="#E08A2E" stroke-width="6.82"/>
<path d="M1476.5 818.31h10.4M1476.5 968.35h10.4M1476.5 1227.50h10.4M1476.5 1254.78h10.4M1476.5 1418.46h10.4M1476.5 1452.55h10.4M1476.5 1595.77h10.4M1476.5 1629.87h10.4M1476.5 1650.33h10.4M1476.5 1663.97h10.4M1476.5 1779.91h10.4M1476.5 1786.73h10.4M1476.5 1800.37h10.4M1476.5 1854.93h10.4M1476.5 1998.14h10.4M1476.5 2004.96h10.4M1476.5 2045.88h10.4M1476.5 2059.52h10.4M1476.5 2093.62h10.4M1476.5 2107.26h10.4M1476.5 2141.36h10.4M1476.5 2161.82h10.4M1476.5 2195.92h10.4M1476.5 2202.74h10.4M1476.5 2257.30h10.4M1476.5 2270.94h10.4M1476.5 2298.22h10.4M1476.5 2448.25h10.4M1476.5 2475.53h10.4M1476.5 2495.99h10.4M1476.5 2536.91h10.4M1476.5 2557.37h10.4" stroke="#CC2B27" stroke-width="6.82"/>
<path d="M1445.3 838.77h41.6M1445.3 1050.18h41.6M1445.3 1097.92h41.6M1445.3 1186.58h41.6M1445.3 1213.86h10.4M1466.1 1213.86h10.4M1445.3 1241.14h10.4M1466.1 1241.14h10.4M1445.3 1268.42h41.6M1445.3 1445.74h41.6M1445.3 1513.93h41.6M1445.3 1548.03h41.6M1445.3 1582.13h10.4M1466.1 1582.13h10.4M1445.3 1609.41h41.6M1445.3 1643.51h41.6M1445.3 1677.61h41.6M1445.3 1684.43h41.6M1445.3 1766.27h41.6M1445.3 1820.83h41.6M1445.3 1834.47h41.6M1445.3 1882.21h41.6M1445.3 1889.03h41.6M1445.3 1984.50h41.6M1445.3 1998.14h10.4M1466.1 1998.14h10.4M1445.3 2011.78h41.6M1445.3 2059.52h10.4M1466.1 2059.52h10.4M1445.3 2079.98h41.6M1445.3 2120.90h41.6M1445.3 2134.54h41.6M1445.3 2148.18h41.6M1445.3 2189.10h41.6M1445.3 2236.84h41.6M1445.3 2427.79h41.6M1445.3 2468.71h41.6M1445.3 2502.81h41.6M1445.3 2516.45h41.6" stroke="#808080" stroke-width="6.82"/>
<path d="M1445.3 845.59h10.4M1445.3 866.05h10.4M1445.3 879.69h10.4M1445.3 886.51h10.4M1445.3 975.17h10.4M1445.3 1118.38h10.4M1445.3 1138.84h10.4M1445.3 1172.94h10.4M1445.3 1179.76h10.4M1445.3 1220.68h10.4M1445.3 1227.50h10.4M1445.3 1247.96h10.4M1445.3 1534.39h10.4M1445.3 1657.15h10.4M1445.3 1786.73h10.4M1445.3 1909.48h10.4M1445.3 1970.86h10.4M1445.3 2045.88h10.4M1445.3 2284.58h10.4M1445.3 2509.63h10.4M1445.3 2523.27h10.4M1445.3 2550.55h10.4" stroke="#3D9DD4" stroke-width="6.82"/>
<path d="M1455.7 975.17h10.4M1455.7 1179.76h10.4M1455.7 1234.32h10.4M1455.7 1357.08h10.4M1455.7 1588.95h10.4M1455.7 1623.05h10.4M1455.7 1745.81h10.4M1455.7 1841.29h10.4M1455.7 1950.40h10.4M1455.7 2039.06h10.4M1455.7 2066.34h10.4M1455.7 2093.62h10.4M1455.7 2318.68h10.4M1455.7 2373.23h10.4M1455.7 2523.27h10.4" stroke="#3CBF50" stroke-width="6.82"/>
<path d="M1445.3 780.80h41.6M1445.3 787.62h41.6M1445.3 794.44h41.6M1445.3 801.26h41.6M1445.3 808.08h41.6M1445.3 814.90h41.6M1445.3 821.72h41.6M1445.3 828.54h41.6M1445.3 835.36h41.6M1445.3 842.18h41.6M1445.3 849.00h41.6M1445.3 855.82h41.6M1445.3 862.64h41.6M1445.3 869.46h41.6M1445.3 876.28h41.6M1445.3 883.10h41.6M1445.3 889.92h41.6M1445.3 896.74h41.6M1445.3 903.56h41.6M1445.3 910.38h41.6M1445.3 917.20h41.6M1445.3 924.02h41.6M1445.3 930.84h41.6M1445.3 937.66h41.6M1445.3 944.48h41.6M1445.3 951.30h41.6M1445.3 958.12h41.6M1445.3 964.94h41.6M1445.3 971.76h41.6M1445.3 978.58h41.6M1445.3 985.40h41.6M1445.3 992.22h41.6M1445.3 999.04h41.6M1445.3 1005.85h41.6M1445.3 1012.67h41.6M1445.3 1019.49h41.6M1445.3 1026.31h41.6M1445.3 1033.13h41.6M1445.3 1039.95h41.6M1445.3 1046.77h41.6M1445.3 1053.59h41.6M1445.3 1060.41h41.6M1445.3 1067.23h41.6M1445.3 1074.05h41.6M1445.3 1080.87h41.6M1445.3 1087.69h41.6M1445.3 1094.51h41.6M1445.3 1101.33h41.6M1445.3 1108.15h41.6M1445.3 1114.97h41.6M1445.3 1121.79h41.6M1445.3 1128.61h41.6M1445.3 1135.43h41.6M1445.3 1142.25h41.6M1445.3 1149.07h41.6M1445.3 1155.89h41.6M1445.3 1162.71h41.6M1445.3 1169.53h41.6M1445.3 1176.35h41.6M1445.3 1183.17h41.6M1445.3 1189.99h41.6M1445.3 1196.81h41.6M1445.3 1203.63h41.6M1445.3 1210.45h41.6M1445.3 1217.27h41.6M1445.3 1224.09h41.6M1445.3 1230.91h41.6M1445.3 1237.73h41.6M1445.3 1244.55h41.6M1445.3 1251.37h41.6M1445.3 1258.19h41.6M1445.3 1265.01h41.6M1445.3 1271.83h41.6M1445.3 1278.65h41.6M1445.3 1285.47h41.6M1445.3 1292.29h41.6M1445.3 1299.11h41.6M1445.3 1305.93h41.6M1445.3 1312.75h41.6M1445.3 1319.57h41.6M1445.3 1326.39h41.6M1445.3 1333.21h41.6M1445.3 1340.03h41.6M1445.3 1346.85h41.6M1445.3 1353.67h41.6M1445.3 1360.49h41.6M1445.3 1367.31h41.6M1445.3 1374.13h41.6M1445.3 1380.95h41.6M1445.3 1387.77h41.6M1445.3 1394.59h41.6M1445.3 1401.41h41.6M1445.3 1408.23h41.6M1445.3 1415.05h41.6M1445.3 1421.87h41.6M1445.3 1428.69h41.6M1445.3 1435.51h41.6M1445.3 1442.33h41.6M1445.3 1449.15h41.6M1445.3 1455.96h41.6M1445.3 1462.78h41.6M1445.3 1469.60h41.6M1445.3 1476.42h41.6M1445.3 1483.24h41.6M1445.3 1490.06h41.6M1445.3 1496.88h41.6M1445.3 1503.70h41.6M1445.3 1510.52h41.6M1445.3 1517.34h41.6M1445.3 1524.16h41.6M1445.3 1530.98h41.6M1445.3 1537.80h41.6M1445.3 1544.62h41.6M1445.3 1551.44h41.6M1445.3 1558.26h41.6M1445.3 1565.08h41.6M1445.3 1571.90h41.6M1445.3 1578.72h41.6M1445.3 1585.54h41.6M1445.3 1592.36h41.6M1445.3 1599.18h41.6M1445.3 1606.00h41.6M1445.3 1612.82h41.6M1445.3 1619.64h41.6M1445.3 1626.46h41.6M1445.3 1633.28h41.6M1445.3 1640.10h41.6M1445.3 1646.92h41.6M1445.3 1653.74h41.6M1445.3 1660.56h41.6M1445.3 1667.38h41.6M1445.3 1674.20h41.6M1445.3 1681.02h41.6M1445.3 1687.84h41.6M1445.3 1694.66h41.6M1445.3 1701.48h41.6M1445.3 1708.30h41.6M1445.3 1715.12h41.6M1445.3 1721.94h41.6M1445.3 1728.76h41.6M1445.3 1735.58h41.6M1445.3 1742.40h41.6M1445.3 1749.22h41.6M1445.3 1756.04h41.6M1445.3 1762.86h41.6M1445.3 1769.68h41.6M1445.3 1776.50h41.6M1445.3 1783.32h41.6M1445.3 1790.14h41.6M1445.3 1796.96h41.6M1445.3 1803.78h41.6M1445.3 1810.60h41.6M1445.3 1817.42h41.6M1445.3 1824.24h41.6M1445.3 1831.06h41.6M1445.3 1837.88h41.6M1445.3 1844.70h41.6M1445.3 1851.52h41.6M1445.3 1858.34h41.6M1445.3 1865.16h41.6M1445.3 1871.98h41.6M1445.3 1878.80h41.6M1445.3 1885.62h41.6M1445.3 1892.44h41.6M1445.3 1899.25h41.6M1445.3 1906.07h41.6M1445.3 1912.89h41.6M1445.3 1919.71h41.6M1445.3 1926.53h41.6M1445.3 1933.35h41.6M1445.3 1940.17h41.6M1445.3 1946.99h41.6M1445.3 1953.81h41.6M1445.3 1960.63h41.6M1445.3 1967.45h41.6M1445.3 1974.27h41.6M1445.3 1981.09h41.6M1445.3 1987.91h41.6M1445.3 1994.73h41.6M1445.3 2001.55h41.6M1445.3 2008.37h41.6M1445.3 2015.19h41.6M1445.3 2022.01h41.6M1445.3 2028.83h41.6M1445.3 2035.65h41.6M1445.3 2042.47h41.6M1445.3 2049.29h41.6M1445.3 2056.11h41.6M1445.3 2062.93h41.6M1445.3 2069.75h41.6M1445.3 2076.57h41.6M1445.3 2083.39h41.6M1445.3 2090.21h41.6M1445.3 2097.03h41.6M1445.3 2103.85h41.6M1445.3 2110.67h41.6M1445.3 2117.49h41.6M1445.3 2124.31h41.6M1445.3 2131.13h41.6M1445.3 2137.95h41.6M1445.3 2144.77h41.6M1445.3 2151.59h41.6M1445.3 2158.41h41.6M1445.3 2165.23h41.6M1445.3 2172.05h41.6M1445.3 2178.87h41.6M1445.3 2185.69h41.6M1445.3 2192.51h41.6M1445.3 2199.33h41.6M1445.3 2206.15h41.6M1445.3 2212.97h41.6M1445.3 2219.79h41.6M1445.3 2226.61h41.6M1445.3 2233.43h41.6M1445.3 2240.25h41.6M1445.3 2247.07h41.6M1445.3 2253.89h41.6M1445.3 2260.71h41.6M1445.3 2267.53h41.6M1445.3 2274.35h41.6M1445.3 2281.17h41.6M1445.3 2287.99h41.6M1445.3 2294.81h41.6M1445.3 2301.63h41.6M1445.3 2308.45h41.6M1445.3 2315.27h41.6M1445.3 2322.09h41.6M1445.3 2328.91h41.6M1445.3 2335.73h41.6M1445.3 2342.55h41.6M1445.3 2349.36h41.6M1445.3 2356.18h41.6M1445.3 2363.00h41.6M1445.3 2369.82h41.6M1445.3 2376.64h41.6M1445.3 2383.46h41.6M1445.3 2390.28h41.6M1445.3 2397.10h41.6M1445.3 2403.92h41.6M1445.3 2410.74h41.6M1445.3 2417.56h41.6M1445.3 2424.38h41.6M1445.3 2431.20h41.6M1445.3 2438.02h41.6M1445.3 2444.84h41.6M1445.3 2451.66h41.6M1445.3 2458.48h41.6M1445.3 2465.30h41.6M1445.3 2472.12h41.6M1445.3 2478.94h41.6M1445.3 2485.76h41.6M1445.3 2492.58h41.6M1445.3 2499.40h41.6M1445.3 2506.22h41.6M1445.3 2513.04h41.6M1445.3 2519.86h41.6M1445.3 2526.68h41.6M1445.3 2533.50h41.6M1445.3 2540.32h41.6M1445.3 2547.14h41.6M1445.3 2553.96h41.6M1445.3 2560.78h41.6M1445.3 2567.60h41.6M1445.3 780.8V2567.6M1455.7 780.8V2567.6M1466.1 780.8V2567.6M1476.5 780.8V2567.6M1486.9 780.8V2567.6" stroke="#999" stroke-width="0.7" fill="none"/>
<path d="M1778.4 780.8V2568" stroke="#000" stroke-width="2.4"/>
<path d="M1504.2 2568H1779.6M1444.6 2568H1487.6" stroke="#000" stroke-width="2.5"/>
<path d="M1466.2 2568v7.7M1522.3 2568v7.7M1556.4 2568v7.7M1590.5 2568v7.7M1624.6 2568v7.7M1658.8 2568v7.7M1692.9 2568v7.7M1727.0 2568v7.7M1761.1 2568v7.7" stroke="#000" stroke-width="2"/>
<text x="1505.7" y="769" class="DB" font-size="22.3" textLength="276" lengthAdjust="spacingAndGlyphs">IFN-1 Signature Score</text>
<text transform="translate(1430.8 1697) rotate(-90)" class="DB" font-size="22.3" text-anchor="middle">Patient</text>
<text transform="translate(1525.3 2583) rotate(-60)" class="DB" font-size="15.5" text-anchor="end">B Cells</text>
<text transform="translate(1559.4 2583) rotate(-60)" class="DB" font-size="15.5" text-anchor="end">CD4+ Cells</text>
<text transform="translate(1593.5 2583) rotate(-60)" class="DB" font-size="15.5" text-anchor="end">CD8+ Cells</text>
<text transform="translate(1627.6 2583) rotate(-60)" class="DB" font-size="15.5" text-anchor="end">Erythroid</text>
<text transform="translate(1661.8 2583) rotate(-60)" class="DB" font-size="15.5" text-anchor="end">Myeloid</text>
<text transform="translate(1695.9 2583) rotate(-60)" class="DB" font-size="15.5" text-anchor="end">Nk Cells</text>
<text transform="translate(1730.0 2583) rotate(-60)" class="DB" font-size="15.5" text-anchor="end">Other</text>
<text transform="translate(1764.1 2583) rotate(-60)" class="DB" font-size="15.5" text-anchor="end">Plasma Cells</text>
<text transform="translate(1469.2 2583) rotate(-60)" class="DB" font-size="15.5" text-anchor="end">Cytogenetics</text>
<text x="1788.3" y="1438.9" class="LB" font-size="19.1">Cytogenetics</text>
<rect x="1799.0" y="1443.8" width="17.27" height="15.9" fill="#CC2B27" stroke="#333" stroke-width="0.8"/>
<rect x="1816.3" y="1443.8" width="17.27" height="15.9" fill="#E08A2E" stroke="#333" stroke-width="0.8"/>
<rect x="1833.5" y="1443.8" width="17.27" height="15.9" fill="#3CBF50" stroke="#333" stroke-width="0.8"/>
<rect x="1850.8" y="1443.8" width="17.27" height="15.9" fill="#3D9DD4" stroke="#333" stroke-width="0.8"/>
<rect x="1868.1" y="1443.8" width="17.27" height="15.9" fill="#FFFFFF" stroke="#333" stroke-width="0.8"/>
<rect x="1885.3" y="1443.8" width="17.27" height="15.9" fill="#808080" stroke="#333" stroke-width="0.8"/>
<text transform="translate(1810.6 1462.6) rotate(-90)" class="LB" font-size="15.8" text-anchor="end">NSD2 t(4;14)</text>
<text transform="translate(1827.9 1462.6) rotate(-90)" class="LB" font-size="15.8" text-anchor="end">Gain 1q21</text>
<text transform="translate(1845.1 1462.6) rotate(-90)" class="LB" font-size="15.8" text-anchor="end">MAF, MAFA, MAFB</text>
<text transform="translate(1862.4 1462.6) rotate(-90)" class="LB" font-size="15.8" text-anchor="end">Del 17p13</text>
<text transform="translate(1879.7 1462.6) rotate(-90)" class="LB" font-size="15.8" text-anchor="end">Not Present</text>
<text transform="translate(1896.9 1462.6) rotate(-90)" class="LB" font-size="15.8" text-anchor="end">Not Measured</text>
<text transform="translate(1817.7 1736.6) rotate(-90)" class="LB" font-size="19.2" text-anchor="middle">Normalized Signature Score</text>
<defs><linearGradient id="gns" x1="0" y1="0" x2="0" y2="1"><stop offset="0" stop-color="#E8417E"/><stop offset="0.1667" stop-color="#EC709E"/><stop offset="0.3333" stop-color="#F2B2CA"/><stop offset="0.5" stop-color="#FFFFFF"/><stop offset="0.6667" stop-color="#C8DCEE"/><stop offset="0.8333" stop-color="#8CB8DE"/><stop offset="1" stop-color="#5A9BD0"/></linearGradient></defs>
<rect x="1832.4" y="1661.5" width="18.6" height="138.5" fill="url(#gns)"/>
<path d="M1832.4 1684.7h4M1851 1684.7h-4M1832.4 1707.6h4M1851 1707.6h-4M1832.4 1753.7h4M1851 1753.7h-4M1832.4 1776.9h4M1851 1776.9h-4" stroke="#fff" stroke-width="1"/>
<text x="1857.0" y="1665.6" class="L" font-size="15.5">3</text>
<text x="1857.0" y="1688.5" class="L" font-size="15.5">2</text>
<text x="1857.0" y="1711.4" class="L" font-size="15.5">1</text>
<text x="1857.0" y="1734.3" class="L" font-size="15.5">0</text>
<text x="1852.0" y="1757.2" class="L" font-size="15.5">-1</text>
<text x="1852.0" y="1780.1" class="L" font-size="15.5">-2</text>
<text x="1852.0" y="1803.0" class="L" font-size="15.5">-3</text>
<defs><linearGradient id="glr" x1="0" y1="0" x2="0" y2="1"><stop offset="0" stop-color="#DA6430"/><stop offset="0.5" stop-color="#C9C7C6"/><stop offset="1" stop-color="#4A93C4"/></linearGradient></defs>
<path d="M138.6 1613.6H360.6" stroke="#111" stroke-width="1.5"/>
<text x="249.6" y="1464.5" class="DB" font-size="12.5" text-anchor="middle">CD8+ T Cell</text>
<text transform="translate(150.9 1619.1) rotate(-90)" class="DB" font-size="10.3" text-anchor="end">CD8_Teff_c</text>
<text transform="translate(165.5 1619.1) rotate(-90)" class="DB" font-size="10.3" text-anchor="end">CD8_Tn</text>
<text transform="translate(180.1 1619.1) rotate(-90)" class="DB" font-size="10.3" text-anchor="end">CD8_Tem_IFN</text>
<text transform="translate(194.7 1619.1) rotate(-90)" class="DB" font-size="10.3" text-anchor="end">CD8_Teff_b</text>
<text transform="translate(209.3 1619.1) rotate(-90)" class="DB" font-size="10.3" text-anchor="end">CD8_Tcm_GZMK</text>
<text transform="translate(223.9 1619.1) rotate(-90)" class="DB" font-size="10.3" text-anchor="end">MAIT</text>
<text transform="translate(238.5 1619.1) rotate(-90)" class="DB" font-size="10.3" text-anchor="end">CD8_Tcm</text>
<text transform="translate(253.1 1619.1) rotate(-90)" class="DB" font-size="10.3" text-anchor="end">CD8_T_adp_b</text>
<text transform="translate(267.7 1619.1) rotate(-90)" class="DB" font-size="10.3" text-anchor="end">CD8_T_Apoptotic</text>
<text transform="translate(282.3 1619.1) rotate(-90)" class="DB" font-size="10.3" text-anchor="end">CD8_Teff_HLA</text>
<text transform="translate(296.9 1619.1) rotate(-90)" class="DB" font-size="10.3" text-anchor="end">CD8_Teff</text>
<text transform="translate(311.5 1619.1) rotate(-90)" class="DB" font-size="10.3" text-anchor="end">CD8_Tem</text>
<text transform="translate(326.1 1619.1) rotate(-90)" class="DB" font-size="10.3" text-anchor="end">CD8_Teff_TNF</text>
<text transform="translate(340.7 1619.1) rotate(-90)" class="DB" font-size="10.3" text-anchor="end">CD8_Tem_NFKB</text>
<text transform="translate(355.3 1619.1) rotate(-90)" class="DB" font-size="10.3" text-anchor="end">CD8_T_adp</text>
<path d="M147.4 1613.6v3.5M162.0 1613.6v3.5M176.6 1613.6v3.5M191.2 1613.6v3.5M205.8 1613.6v3.5M220.4 1613.6v3.5M235.0 1613.6v3.5M249.6 1613.6v3.5M264.2 1613.6v3.5M278.8 1613.6v3.5M293.4 1613.6v3.5M308.0 1613.6v3.5M322.6 1613.6v3.5M337.2 1613.6v3.5M351.8 1613.6v3.5" stroke="#111" stroke-width="1"/>
<path d="M370.6 1613.6H534.2" stroke="#111" stroke-width="1.5"/>
<text x="452.4" y="1464.5" class="DB" font-size="12.5" text-anchor="middle">CD4+ T Cell</text>
<text transform="translate(382.9 1619.1) rotate(-90)" class="DB" font-size="10.3" text-anchor="end">CD4_Tcm_IFN</text>
<text transform="translate(397.5 1619.1) rotate(-90)" class="DB" font-size="10.3" text-anchor="end">CD4_Tem_IFN</text>
<text transform="translate(412.1 1619.1) rotate(-90)" class="DB" font-size="10.3" text-anchor="end">CD4_Teff</text>
<text transform="translate(426.7 1619.1) rotate(-90)" class="DB" font-size="10.3" text-anchor="end">CD4_Th_LEF1</text>
<text transform="translate(441.3 1619.1) rotate(-90)" class="DB" font-size="10.3" text-anchor="end">CD4_Th</text>
<text transform="translate(455.9 1619.1) rotate(-90)" class="DB" font-size="10.3" text-anchor="end">CD4_Tcm_KLRB1</text>
<text transform="translate(470.5 1619.1) rotate(-90)" class="DB" font-size="10.3" text-anchor="end">CD4_CTL</text>
<text transform="translate(485.1 1619.1) rotate(-90)" class="DB" font-size="10.3" text-anchor="end">CD4_Teff_TNF</text>
<text transform="translate(499.7 1619.1) rotate(-90)" class="DB" font-size="10.3" text-anchor="end">CD4_Tn</text>
<text transform="translate(514.3 1619.1) rotate(-90)" class="DB" font-size="10.3" text-anchor="end">CD4_Tcm_NFKBIA</text>
<text transform="translate(528.9 1619.1) rotate(-90)" class="DB" font-size="10.3" text-anchor="end">Treg</text>
<path d="M379.4 1613.6v3.5M394.0 1613.6v3.5M408.6 1613.6v3.5M423.2 1613.6v3.5M437.8 1613.6v3.5M452.4 1613.6v3.5M467.0 1613.6v3.5M481.6 1613.6v3.5M496.2 1613.6v3.5M510.8 1613.6v3.5M525.4 1613.6v3.5" stroke="#111" stroke-width="1"/>
<path d="M545.1 1613.6H766.5" stroke="#111" stroke-width="1.5"/>
<text x="655.8" y="1464.5" class="DB" font-size="12.5" text-anchor="middle">Myeloid</text>
<text transform="translate(557.3 1619.1) rotate(-90)" class="DB" font-size="10.3" text-anchor="end">cDC2</text>
<text transform="translate(571.9 1619.1) rotate(-90)" class="DB" font-size="10.3" text-anchor="end">CD14+Mono_IFN</text>
<text transform="translate(586.4 1619.1) rotate(-90)" class="DB" font-size="10.3" text-anchor="end">CD14+Mono_CTSS</text>
<text transform="translate(601.0 1619.1) rotate(-90)" class="DB" font-size="10.3" text-anchor="end">CD14+Mono_S100A</text>
<text transform="translate(615.6 1619.1) rotate(-90)" class="DB" font-size="10.3" text-anchor="end">cDC1</text>
<text transform="translate(630.2 1619.1) rotate(-90)" class="DB" font-size="10.3" text-anchor="end">GMP</text>
<text transform="translate(644.7 1619.1) rotate(-90)" class="DB" font-size="10.3" text-anchor="end">Granulocyte</text>
<text transform="translate(659.3 1619.1) rotate(-90)" class="DB" font-size="10.3" text-anchor="end">Neutrophil_RPS/RPL</text>
<text transform="translate(673.9 1619.1) rotate(-90)" class="DB" font-size="10.3" text-anchor="end">pDCs_b</text>
<text transform="translate(688.4 1619.1) rotate(-90)" class="DB" font-size="10.3" text-anchor="end">Neutrophil_ARG1</text>
<text transform="translate(703.0 1619.1) rotate(-90)" class="DB" font-size="10.3" text-anchor="end">Macro/Mono</text>
<text transform="translate(717.6 1619.1) rotate(-90)" class="DB" font-size="10.3" text-anchor="end">M2_Macro</text>
<text transform="translate(732.2 1619.1) rotate(-90)" class="DB" font-size="10.3" text-anchor="end">CD14+Mono_hypo</text>
<text transform="translate(746.7 1619.1) rotate(-90)" class="DB" font-size="10.3" text-anchor="end">CD14+Mono_pro-inflam</text>
<text transform="translate(761.3 1619.1) rotate(-90)" class="DB" font-size="10.3" text-anchor="end">CD16+Mono</text>
<path d="M553.8 1613.6v3.5M568.4 1613.6v3.5M582.9 1613.6v3.5M597.5 1613.6v3.5M612.1 1613.6v3.5M626.7 1613.6v3.5M641.2 1613.6v3.5M655.8 1613.6v3.5M670.4 1613.6v3.5M684.9 1613.6v3.5M699.5 1613.6v3.5M714.1 1613.6v3.5M728.7 1613.6v3.5M743.2 1613.6v3.5M757.8 1613.6v3.5" stroke="#111" stroke-width="1"/>
<path d="M777.2 1613.6H897.4" stroke="#111" stroke-width="1.5"/>
<text x="837.3" y="1464.5" class="DB" font-size="12.5" text-anchor="middle">B Cell</text>
<text transform="translate(789.5 1619.1) rotate(-90)" class="DB" font-size="10.3" text-anchor="end">B_preLg</text>
<text transform="translate(804.2 1619.1) rotate(-90)" class="DB" font-size="10.3" text-anchor="end">B_preSm</text>
<text transform="translate(818.8 1619.1) rotate(-90)" class="DB" font-size="10.3" text-anchor="end">B_pro</text>
<text transform="translate(833.5 1619.1) rotate(-90)" class="DB" font-size="10.3" text-anchor="end">B_imm</text>
<text transform="translate(848.1 1619.1) rotate(-90)" class="DB" font-size="10.3" text-anchor="end">B_trns</text>
<text transform="translate(862.8 1619.1) rotate(-90)" class="DB" font-size="10.3" text-anchor="end">B_mem</text>
<text transform="translate(877.4 1619.1) rotate(-90)" class="DB" font-size="10.3" text-anchor="end">B_naive</text>
<text transform="translate(892.1 1619.1) rotate(-90)" class="DB" font-size="10.3" text-anchor="end">B_Unswitched_mem</text>
<path d="M786.0 1613.6v3.5M800.7 1613.6v3.5M815.3 1613.6v3.5M830.0 1613.6v3.5M844.6 1613.6v3.5M859.3 1613.6v3.5M873.9 1613.6v3.5M888.6 1613.6v3.5" stroke="#111" stroke-width="1"/>
<path d="M908.0 1613.6H954.8" stroke="#111" stroke-width="1.5"/>
<text x="931.4" y="1464.5" class="DB" font-size="12.5" text-anchor="middle">Other</text>
<text transform="translate(920.3 1619.1) rotate(-90)" class="DB" font-size="10.3" text-anchor="end">pDCs_a</text>
<text transform="translate(934.9 1619.1) rotate(-90)" class="DB" font-size="10.3" text-anchor="end">HSC</text>
<text transform="translate(949.5 1619.1) rotate(-90)" class="DB" font-size="10.3" text-anchor="end">Fibro</text>
<path d="M916.8 1613.6v3.5M931.4 1613.6v3.5M946.0 1613.6v3.5" stroke="#111" stroke-width="1"/>
<path d="M966.0 1613.6H1026.1" stroke="#111" stroke-width="1.5"/>
<text x="996.0" y="1464.5" class="DB" font-size="12.5" text-anchor="middle">Nk Cell</text>
<text transform="translate(978.1 1619.1) rotate(-90)" class="DB" font-size="10.3" text-anchor="end">NK_adp</text>
<text transform="translate(992.4 1619.1) rotate(-90)" class="DB" font-size="10.3" text-anchor="end">NK_resident</text>
<text transform="translate(1006.7 1619.1) rotate(-90)" class="DB" font-size="10.3" text-anchor="end">NK_CD56bright</text>
<text transform="translate(1021.0 1619.1) rotate(-90)" class="DB" font-size="10.3" text-anchor="end">NK_CD56dim</text>
<path d="M974.6 1613.6v3.5M988.9 1613.6v3.5M1003.2 1613.6v3.5M1017.5 1613.6v3.5" stroke="#111" stroke-width="1"/>
<path d="M1037.2 1613.6H1245.1" stroke="#111" stroke-width="1.5"/>
<text x="1141.2" y="1464.5" class="DB" font-size="12.5" text-anchor="middle">Erythroid</text>
<text transform="translate(1049.5 1619.1) rotate(-90)" class="DB" font-size="10.3" text-anchor="end">Ery.6</text>
<text transform="translate(1064.1 1619.1) rotate(-90)" class="DB" font-size="10.3" text-anchor="end">EB_MKi67_2</text>
<text transform="translate(1078.8 1619.1) rotate(-90)" class="DB" font-size="10.3" text-anchor="end">EB</text>
<text transform="translate(1093.4 1619.1) rotate(-90)" class="DB" font-size="10.3" text-anchor="end">MegaK</text>
<text transform="translate(1108.1 1619.1) rotate(-90)" class="DB" font-size="10.3" text-anchor="end">Ery.0</text>
<text transform="translate(1122.7 1619.1) rotate(-90)" class="DB" font-size="10.3" text-anchor="end">Ery.1</text>
<text transform="translate(1137.3 1619.1) rotate(-90)" class="DB" font-size="10.3" text-anchor="end">EB_MKi67_1</text>
<text transform="translate(1152.0 1619.1) rotate(-90)" class="DB" font-size="10.3" text-anchor="end">Ery.2</text>
<text transform="translate(1166.6 1619.1) rotate(-90)" class="DB" font-size="10.3" text-anchor="end">Ery.8</text>
<text transform="translate(1181.2 1619.1) rotate(-90)" class="DB" font-size="10.3" text-anchor="end">Ery.3</text>
<text transform="translate(1195.9 1619.1) rotate(-90)" class="DB" font-size="10.3" text-anchor="end">Ery.4</text>
<text transform="translate(1210.5 1619.1) rotate(-90)" class="DB" font-size="10.3" text-anchor="end">MastC</text>
<text transform="translate(1225.2 1619.1) rotate(-90)" class="DB" font-size="10.3" text-anchor="end">Ery.5</text>
<text transform="translate(1239.8 1619.1) rotate(-90)" class="DB" font-size="10.3" text-anchor="end">Ery.9</text>
<path d="M1046.0 1613.6v3.5M1060.6 1613.6v3.5M1075.3 1613.6v3.5M1089.9 1613.6v3.5M1104.6 1613.6v3.5M1119.2 1613.6v3.5M1133.8 1613.6v3.5M1148.5 1613.6v3.5M1163.1 1613.6v3.5M1177.7 1613.6v3.5M1192.4 1613.6v3.5M1207.0 1613.6v3.5M1221.7 1613.6v3.5M1236.3 1613.6v3.5" stroke="#111" stroke-width="1"/>
<path d="M138.6 1479.1V1508.4" stroke="#111" stroke-width="1.5"/>
<path d="M138.6 1515.5V1559.5" stroke="#111" stroke-width="1.5"/>
<path d="M138.6 1568.9V1613.1" stroke="#111" stroke-width="1.5"/>
<text x="134.6" y="1490.0" class="DB" font-size="10.3" text-anchor="end">High Risk</text>
<text x="134.6" y="1504.7" class="DB" font-size="10.3" text-anchor="end">Gain 1q21</text>
<text x="134.6" y="1526.4" class="DB" font-size="10.3" text-anchor="end">HR_No1q - Normal</text>
<text x="134.6" y="1541.1" class="DB" font-size="10.3" text-anchor="end">1q21 - Normal</text>
<text x="134.6" y="1555.8" class="DB" font-size="10.3" text-anchor="end">HR+1q21 - Normal</text>
<text x="134.6" y="1579.8" class="DB" font-size="10.3" text-anchor="end">1q21 - HR_No1q</text>
<text x="134.6" y="1594.6" class="DB" font-size="10.3" text-anchor="end">HR+1q21 - 1q21</text>
<text x="134.6" y="1609.4" class="DB" font-size="10.3" text-anchor="end">HR+1q21 - HR_No1q</text>
<path d="M138.6 1486.4h-3.5M138.6 1501.1h-3.5M138.6 1522.8h-3.5M138.6 1537.5h-3.5M138.6 1552.2h-3.5M138.6 1576.2h-3.5M138.6 1591.0h-3.5M138.6 1605.8h-3.5" stroke="#111" stroke-width="1"/>
<g stroke="#8C8C8C" stroke-width="0.7"><circle cx="147.4" cy="1486.4" r="4.3" fill="#A6BCD0"/><circle cx="176.6" cy="1486.4" r="4.3" fill="#C7C7C7"/><circle cx="191.2" cy="1486.4" r="4.3" fill="#D2AEA2"/><circle cx="205.8" cy="1486.4" r="4.3" fill="#D2AEA2"/><circle cx="220.4" cy="1486.4" r="4.3" fill="#C7C7C7"/><circle cx="235.0" cy="1486.4" r="4.3" fill="#A6BCD0"/><circle cx="249.6" cy="1486.4" r="4.3" fill="#C7C7C7"/><circle cx="264.2" cy="1486.4" r="4.3" fill="#C7C7C7"/><circle cx="293.4" cy="1486.4" r="4.3" fill="#C7C7C7"/><circle cx="308.0" cy="1486.4" r="4.3" fill="#A6BCD0"/><circle cx="322.6" cy="1486.4" r="4.3" fill="#C7C7C7"/><circle cx="337.2" cy="1486.4" r="4.3" fill="#D2AEA2"/><circle cx="351.8" cy="1486.4" r="4.3" fill="#C7C7C7"/><circle cx="379.4" cy="1486.4" r="4.3" fill="#C7C7C7"/><circle cx="394.0" cy="1486.4" r="4.3" fill="#C7C7C7"/><circle cx="408.6" cy="1486.4" r="4.3" fill="#A6BCD0"/><circle cx="423.2" cy="1486.4" r="4.3" fill="#C7C7C7"/><circle cx="437.8" cy="1486.4" r="4.3" fill="#C7C7C7"/><circle cx="452.4" cy="1486.4" r="4.3" fill="#C7C7C7"/><circle cx="467.0" cy="1486.4" r="4.3" fill="#A6BCD0"/><circle cx="496.2" cy="1486.4" r="4.3" fill="#C7C7C7"/><circle cx="510.8" cy="1486.4" r="4.3" fill="#C7C7C7"/><circle cx="525.4" cy="1486.4" r="4.3" fill="#C7C7C7"/><circle cx="553.8" cy="1486.4" r="4.3" fill="#C7C7C7"/><circle cx="568.4" cy="1486.4" r="4.3" fill="#C7C7C7"/><circle cx="582.9" cy="1486.4" r="4.3" fill="#D2AEA2"/><circle cx="597.5" cy="1486.4" r="4.3" fill="#A6BCD0"/><circle cx="612.1" cy="1486.4" r="4.3" fill="#A6BCD0"/><circle cx="626.7" cy="1486.4" r="4.3" fill="#D2AEA2"/><circle cx="641.2" cy="1486.4" r="4.3" fill="#C7C7C7"/><circle cx="655.8" cy="1486.4" r="4.3" fill="#C7C7C7"/><circle cx="670.4" cy="1486.4" r="4.3" fill="#C7C7C7"/><circle cx="684.9" cy="1486.4" r="4.3" fill="#C7C7C7"/><circle cx="699.5" cy="1486.4" r="4.3" fill="#A6BCD0"/><circle cx="714.1" cy="1486.4" r="4.3" fill="#C7C7C7"/><circle cx="728.7" cy="1486.4" r="4.3" fill="#C7C7C7"/><circle cx="743.2" cy="1486.4" r="4.3" fill="#C7C7C7"/><circle cx="757.8" cy="1486.4" r="4.3" fill="#C7C7C7"/><circle cx="786.0" cy="1486.4" r="4.3" fill="#C7C7C7"/><circle cx="800.7" cy="1486.4" r="4.3" fill="#A6BCD0"/><circle cx="815.3" cy="1486.4" r="4.3" fill="#C7C7C7"/><circle cx="830.0" cy="1486.4" r="4.3" fill="#A6BCD0"/><circle cx="844.6" cy="1486.4" r="4.3" fill="#C7C7C7"/><circle cx="873.9" cy="1486.4" r="4.3" fill="#C7C7C7"/><circle cx="888.6" cy="1486.4" r="4.3" fill="#C7C7C7"/><circle cx="916.8" cy="1486.4" r="4.3" fill="#C7C7C7"/><circle cx="931.4" cy="1486.4" r="4.3" fill="#C7C7C7"/><circle cx="946.0" cy="1486.4" r="4.3" fill="#A6BCD0"/><circle cx="974.6" cy="1486.4" r="4.3" fill="#A6BCD0"/><circle cx="988.9" cy="1486.4" r="4.3" fill="#C7C7C7"/><circle cx="1003.2" cy="1486.4" r="4.3" fill="#A6BCD0"/><circle cx="1017.5" cy="1486.4" r="4.3" fill="#C7C7C7"/><circle cx="1046.0" cy="1486.4" r="4.3" fill="#C7C7C7"/><circle cx="1075.3" cy="1486.4" r="4.3" fill="#D2AEA2"/><circle cx="1104.6" cy="1486.4" r="4.3" fill="#C7C7C7"/><circle cx="1119.2" cy="1486.4" r="4.3" fill="#D2AEA2"/><circle cx="1133.8" cy="1486.4" r="4.3" fill="#A6BCD0"/><circle cx="1148.5" cy="1486.4" r="4.3" fill="#A6BCD0"/><circle cx="1163.1" cy="1486.4" r="4.3" fill="#C7C7C7"/><circle cx="1177.7" cy="1486.4" r="4.3" fill="#C7C7C7"/><circle cx="1192.4" cy="1486.4" r="4.3" fill="#C7C7C7"/><circle cx="1207.0" cy="1486.4" r="4.3" fill="#C7C7C7"/><circle cx="1221.7" cy="1486.4" r="4.3" fill="#D2AEA2"/><circle cx="1236.3" cy="1486.4" r="4.3" fill="#D2AEA2"/><circle cx="147.4" cy="1501.1" r="4.3" fill="#D2AEA2"/><circle cx="162.0" cy="1501.1" r="4.3" fill="#C7C7C7"/><circle cx="191.2" cy="1501.1" r="4.3" fill="#A6BCD0"/><circle cx="205.8" cy="1501.1" r="4.3" fill="#A6BCD0"/><circle cx="220.4" cy="1501.1" r="4.3" fill="#D2AEA2"/><circle cx="235.0" cy="1501.1" r="4.3" fill="#D2AEA2"/><circle cx="249.6" cy="1501.1" r="4.3" fill="#C7C7C7"/><circle cx="264.2" cy="1501.1" r="4.3" fill="#C7C7C7"/><circle cx="278.8" cy="1501.1" r="4.3" fill="#D2AEA2"/><circle cx="293.4" cy="1501.1" r="4.3" fill="#A6BCD0"/><circle cx="308.0" cy="1501.1" r="4.3" fill="#D2AEA2"/><circle cx="322.6" cy="1501.1" r="4.3" fill="#C7C7C7"/><circle cx="337.2" cy="1501.1" r="4.3" fill="#D2AEA2"/><circle cx="351.8" cy="1501.1" r="4.3" fill="#C7C7C7"/><circle cx="408.6" cy="1501.1" r="4.3" fill="#D2AEA2"/><circle cx="423.2" cy="1501.1" r="4.3" fill="#D2AEA2"/><circle cx="437.8" cy="1501.1" r="4.3" fill="#C7C7C7"/><circle cx="452.4" cy="1501.1" r="4.3" fill="#C7C7C7"/><circle cx="467.0" cy="1501.1" r="4.3" fill="#C7C7C7"/><circle cx="481.6" cy="1501.1" r="4.3" fill="#A6BCD0"/><circle cx="496.2" cy="1501.1" r="4.3" fill="#C7C7C7"/><circle cx="510.8" cy="1501.1" r="4.3" fill="#C7C7C7"/><circle cx="525.4" cy="1501.1" r="4.3" fill="#C7C7C7"/><circle cx="553.8" cy="1501.1" r="4.3" fill="#D2AEA2"/><circle cx="568.4" cy="1501.1" r="4.3" fill="#C7C7C7"/><circle cx="582.9" cy="1501.1" r="4.3" fill="#D2AEA2"/><circle cx="597.5" cy="1501.1" r="4.3" fill="#C7C7C7"/><circle cx="612.1" cy="1501.1" r="4.3" fill="#C7C7C7"/><circle cx="626.7" cy="1501.1" r="4.3" fill="#C7C7C7"/><circle cx="641.2" cy="1501.1" r="4.3" fill="#D2AEA2"/><circle cx="655.8" cy="1501.1" r="4.3" fill="#D2AEA2"/><circle cx="670.4" cy="1501.1" r="4.3" fill="#C7C7C7"/><circle cx="684.9" cy="1501.1" r="4.3" fill="#C7C7C7"/><circle cx="699.5" cy="1501.1" r="4.3" fill="#A6BCD0"/><circle cx="714.1" cy="1501.1" r="4.3" fill="#D2AEA2"/><circle cx="728.7" cy="1501.1" r="4.3" fill="#C7C7C7"/><circle cx="743.2" cy="1501.1" r="4.3" fill="#A6BCD0"/><circle cx="757.8" cy="1501.1" r="4.3" fill="#D2AEA2"/><circle cx="786.0" cy="1501.1" r="4.3" fill="#C7C7C7"/><circle cx="800.7" cy="1501.1" r="4.3" fill="#A6BCD0"/><circle cx="815.3" cy="1501.1" r="4.3" fill="#D2AEA2"/><circle cx="830.0" cy="1501.1" r="4.3" fill="#C7C7C7"/><circle cx="844.6" cy="1501.1" r="4.3" fill="#C7C7C7"/><circle cx="859.3" cy="1501.1" r="4.3" fill="#A6BCD0"/><circle cx="873.9" cy="1501.1" r="4.3" fill="#A6BCD0"/><circle cx="888.6" cy="1501.1" r="4.3" fill="#C7C7C7"/><circle cx="916.8" cy="1501.1" r="4.3" fill="#C7C7C7"/><circle cx="931.4" cy="1501.1" r="4.3" fill="#D2AEA2"/><circle cx="946.0" cy="1501.1" r="4.3" fill="#C7C7C7"/><circle cx="974.6" cy="1501.1" r="4.3" fill="#A6BCD0"/><circle cx="988.9" cy="1501.1" r="4.3" fill="#D2AEA2"/><circle cx="1003.2" cy="1501.1" r="4.3" fill="#C7C7C7"/><circle cx="1046.0" cy="1501.1" r="4.3" fill="#C7C7C7"/><circle cx="1060.6" cy="1501.1" r="4.3" fill="#C7C7C7"/><circle cx="1075.3" cy="1501.1" r="4.3" fill="#C7C7C7"/><circle cx="1089.9" cy="1501.1" r="4.3" fill="#C7C7C7"/><circle cx="1104.6" cy="1501.1" r="4.3" fill="#C7C7C7"/><circle cx="1119.2" cy="1501.1" r="4.3" fill="#C7C7C7"/><circle cx="1133.8" cy="1501.1" r="4.3" fill="#C7C7C7"/><circle cx="1148.5" cy="1501.1" r="4.3" fill="#C7C7C7"/><circle cx="1163.1" cy="1501.1" r="4.3" fill="#A6BCD0"/><circle cx="1177.7" cy="1501.1" r="4.3" fill="#A6BCD0"/><circle cx="1192.4" cy="1501.1" r="4.3" fill="#A6BCD0"/><circle cx="1207.0" cy="1501.1" r="4.3" fill="#C7C7C7"/><circle cx="1221.7" cy="1501.1" r="4.3" fill="#A6BCD0"/><circle cx="1236.3" cy="1501.1" r="4.3" fill="#C7C7C7"/><circle cx="147.4" cy="1522.8" r="4.3" fill="#C7C7C7"/><circle cx="162.0" cy="1522.8" r="4.3" fill="#C7C7C7"/><circle cx="176.6" cy="1522.8" r="4.3" fill="#C7C7C7"/><circle cx="205.8" cy="1522.8" r="4.3" fill="#A6BCD0"/><circle cx="220.4" cy="1522.8" r="4.3" fill="#A6BCD0"/><circle cx="235.0" cy="1522.8" r="4.3" fill="#C7C7C7"/><circle cx="249.6" cy="1522.8" r="4.3" fill="#C7C7C7"/><circle cx="264.2" cy="1522.8" r="4.3" fill="#C7C7C7"/><circle cx="278.8" cy="1522.8" r="4.3" fill="#C7C7C7"/><circle cx="293.4" cy="1522.8" r="4.3" fill="#C7C7C7"/><circle cx="308.0" cy="1522.8" r="4.3" fill="#C7C7C7"/><circle cx="322.6" cy="1522.8" r="4.3" fill="#D2AEA2"/><circle cx="337.2" cy="1522.8" r="4.3" fill="#A6BCD0"/><circle cx="351.8" cy="1522.8" r="4.3" fill="#C7C7C7"/><circle cx="379.4" cy="1522.8" r="4.3" fill="#A6BCD0"/><circle cx="394.0" cy="1522.8" r="4.3" fill="#C7C7C7"/><circle cx="408.6" cy="1522.8" r="4.3" fill="#A6BCD0"/><circle cx="423.2" cy="1522.8" r="4.3" fill="#D2AEA2"/><circle cx="437.8" cy="1522.8" r="4.3" fill="#A6BCD0"/><circle cx="452.4" cy="1522.8" r="4.3" fill="#C7C7C7"/><circle cx="467.0" cy="1522.8" r="4.3" fill="#D2AEA2"/><circle cx="481.6" cy="1522.8" r="4.3" fill="#D2AEA2"/><circle cx="496.2" cy="1522.8" r="4.3" fill="#C7C7C7"/><circle cx="510.8" cy="1522.8" r="4.3" fill="#C7C7C7"/><circle cx="525.4" cy="1522.8" r="4.3" fill="#C7C7C7"/><circle cx="553.8" cy="1522.8" r="4.3" fill="#C7C7C7"/><circle cx="568.4" cy="1522.8" r="4.3" fill="#A6BCD0"/><circle cx="582.9" cy="1522.8" r="4.3" fill="#C7C7C7"/><circle cx="597.5" cy="1522.8" r="4.3" fill="#A6BCD0"/><circle cx="612.1" cy="1522.8" r="4.3" fill="#D2AEA2"/><circle cx="626.7" cy="1522.8" r="4.3" fill="#C7C7C7"/><circle cx="641.2" cy="1522.8" r="4.3" fill="#A6BCD0"/><circle cx="655.8" cy="1522.8" r="4.3" fill="#C7C7C7"/><circle cx="684.9" cy="1522.8" r="4.3" fill="#A6BCD0"/><circle cx="699.5" cy="1522.8" r="4.3" fill="#A6BCD0"/><circle cx="714.1" cy="1522.8" r="4.3" fill="#D2AEA2"/><circle cx="728.7" cy="1522.8" r="4.3" fill="#D2AEA2"/><circle cx="743.2" cy="1522.8" r="4.3" fill="#C7C7C7"/><circle cx="757.8" cy="1522.8" r="4.3" fill="#A6BCD0"/><circle cx="786.0" cy="1522.8" r="4.3" fill="#C7C7C7"/><circle cx="800.7" cy="1522.8" r="4.3" fill="#A6BCD0"/><circle cx="815.3" cy="1522.8" r="4.3" fill="#C7C7C7"/><circle cx="830.0" cy="1522.8" r="4.3" fill="#C7C7C7"/><circle cx="844.6" cy="1522.8" r="4.3" fill="#C7C7C7"/><circle cx="873.9" cy="1522.8" r="4.3" fill="#C7C7C7"/><circle cx="888.6" cy="1522.8" r="4.3" fill="#D2AEA2"/><circle cx="916.8" cy="1522.8" r="4.3" fill="#C7C7C7"/><circle cx="931.4" cy="1522.8" r="4.3" fill="#C7C7C7"/><circle cx="946.0" cy="1522.8" r="4.3" fill="#C7C7C7"/><circle cx="974.6" cy="1522.8" r="4.3" fill="#C7C7C7"/><circle cx="988.9" cy="1522.8" r="4.3" fill="#A6BCD0"/><circle cx="1003.2" cy="1522.8" r="4.3" fill="#A6BCD0"/><circle cx="1017.5" cy="1522.8" r="4.3" fill="#A6BCD0"/><circle cx="1046.0" cy="1522.8" r="4.3" fill="#D2AEA2"/><circle cx="1075.3" cy="1522.8" r="4.3" fill="#C7C7C7"/><circle cx="1104.6" cy="1522.8" r="4.3" fill="#C7C7C7"/><circle cx="1119.2" cy="1522.8" r="4.3" fill="#C7C7C7"/><circle cx="1133.8" cy="1522.8" r="4.3" fill="#C7C7C7"/><circle cx="1148.5" cy="1522.8" r="4.3" fill="#A6BCD0"/><circle cx="1163.1" cy="1522.8" r="4.3" fill="#D2AEA2"/><circle cx="1177.7" cy="1522.8" r="4.3" fill="#C7C7C7"/><circle cx="1192.4" cy="1522.8" r="4.3" fill="#C7C7C7"/><circle cx="1207.0" cy="1522.8" r="4.3" fill="#A6BCD0"/><circle cx="1221.7" cy="1522.8" r="4.3" fill="#D2AEA2"/><circle cx="1236.3" cy="1522.8" r="4.3" fill="#C7C7C7"/><circle cx="147.4" cy="1537.5" r="4.3" fill="#D2AEA2"/><circle cx="191.2" cy="1537.5" r="4.3" fill="#D2AEA2"/><circle cx="205.8" cy="1537.5" r="4.3" fill="#A6BCD0"/><circle cx="220.4" cy="1537.5" r="4.3" fill="#C7C7C7"/><circle cx="235.0" cy="1537.5" r="4.3" fill="#C7C7C7"/><circle cx="249.6" cy="1537.5" r="4.3" fill="#C7C7C7"/><circle cx="264.2" cy="1537.5" r="4.3" fill="#C7C7C7"/><circle cx="278.8" cy="1537.5" r="4.3" fill="#A6BCD0"/><circle cx="293.4" cy="1537.5" r="4.3" fill="#A6BCD0"/><circle cx="308.0" cy="1537.5" r="4.3" fill="#D2AEA2"/><circle cx="322.6" cy="1537.5" r="4.3" fill="#A6BCD0"/><circle cx="337.2" cy="1537.5" r="4.3" fill="#D2AEA2"/><circle cx="351.8" cy="1537.5" r="4.3" fill="#C7C7C7"/><circle cx="379.4" cy="1537.5" r="4.3" fill="#C7C7C7"/><circle cx="408.6" cy="1537.5" r="4.3" fill="#C7C7C7"/><circle cx="423.2" cy="1537.5" r="4.3" fill="#C7C7C7"/><circle cx="437.8" cy="1537.5" r="4.3" fill="#C7C7C7"/><circle cx="452.4" cy="1537.5" r="4.3" fill="#D2AEA2"/><circle cx="467.0" cy="1537.5" r="4.3" fill="#C7C7C7"/><circle cx="481.6" cy="1537.5" r="4.3" fill="#C7C7C7"/><circle cx="496.2" cy="1537.5" r="4.3" fill="#A6BCD0"/><circle cx="510.8" cy="1537.5" r="4.3" fill="#C7C7C7"/><circle cx="525.4" cy="1537.5" r="4.3" fill="#A6BCD0"/><circle cx="553.8" cy="1537.5" r="4.3" fill="#C7C7C7"/><circle cx="568.4" cy="1537.5" r="4.3" fill="#D2AEA2"/><circle cx="582.9" cy="1537.5" r="4.3" fill="#D2AEA2"/><circle cx="597.5" cy="1537.5" r="4.3" fill="#A6BCD0"/><circle cx="612.1" cy="1537.5" r="4.3" fill="#D2AEA2"/><circle cx="626.7" cy="1537.5" r="4.3" fill="#C7C7C7"/><circle cx="641.2" cy="1537.5" r="4.3" fill="#C7C7C7"/><circle cx="655.8" cy="1537.5" r="4.3" fill="#C7C7C7"/><circle cx="670.4" cy="1537.5" r="4.3" fill="#D2AEA2"/><circle cx="684.9" cy="1537.5" r="4.3" fill="#C7C7C7"/><circle cx="699.5" cy="1537.5" r="4.3" fill="#C7C7C7"/><circle cx="714.1" cy="1537.5" r="4.3" fill="#C7C7C7"/><circle cx="728.7" cy="1537.5" r="4.3" fill="#C7C7C7"/><circle cx="743.2" cy="1537.5" r="4.3" fill="#C7C7C7"/><circle cx="757.8" cy="1537.5" r="4.3" fill="#D2AEA2"/><circle cx="786.0" cy="1537.5" r="4.3" fill="#D2AEA2"/><circle cx="800.7" cy="1537.5" r="4.3" fill="#A6BCD0"/><circle cx="815.3" cy="1537.5" r="4.3" fill="#A6BCD0"/><circle cx="830.0" cy="1537.5" r="4.3" fill="#C7C7C7"/><circle cx="844.6" cy="1537.5" r="4.3" fill="#A6BCD0"/><circle cx="873.9" cy="1537.5" r="4.3" fill="#C7C7C7"/><circle cx="888.6" cy="1537.5" r="4.3" fill="#C7C7C7"/><circle cx="916.8" cy="1537.5" r="4.3" fill="#C7C7C7"/><circle cx="931.4" cy="1537.5" r="4.3" fill="#D2AEA2"/><circle cx="946.0" cy="1537.5" r="4.3" fill="#C7C7C7"/><circle cx="974.6" cy="1537.5" r="4.3" fill="#A6BCD0"/><circle cx="988.9" cy="1537.5" r="4.3" fill="#A6BCD0"/><circle cx="1003.2" cy="1537.5" r="4.3" fill="#A6BCD0"/><circle cx="1017.5" cy="1537.5" r="4.3" fill="#A6BCD0"/><circle cx="1046.0" cy="1537.5" r="4.3" fill="#C7C7C7"/><circle cx="1060.6" cy="1537.5" r="4.3" fill="#D2AEA2"/><circle cx="1075.3" cy="1537.5" r="4.3" fill="#D2AEA2"/><circle cx="1104.6" cy="1537.5" r="4.3" fill="#A6BCD0"/><circle cx="1119.2" cy="1537.5" r="4.3" fill="#D2AEA2"/><circle cx="1148.5" cy="1537.5" r="4.3" fill="#D2AEA2"/><circle cx="1163.1" cy="1537.5" r="4.3" fill="#C7C7C7"/><circle cx="1177.7" cy="1537.5" r="4.3" fill="#A6BCD0"/><circle cx="1207.0" cy="1537.5" r="4.3" fill="#C7C7C7"/><circle cx="1221.7" cy="1537.5" r="4.3" fill="#A6BCD0"/><circle cx="1236.3" cy="1537.5" r="4.3" fill="#C7C7C7"/><circle cx="147.4" cy="1552.2" r="4.3" fill="#D2AEA2"/><circle cx="191.2" cy="1552.2" r="4.3" fill="#C7C7C7"/><circle cx="205.8" cy="1552.2" r="4.3" fill="#D2AEA2"/><circle cx="220.4" cy="1552.2" r="4.3" fill="#C7C7C7"/><circle cx="235.0" cy="1552.2" r="4.3" fill="#C7C7C7"/><circle cx="249.6" cy="1552.2" r="4.3" fill="#C7C7C7"/><circle cx="264.2" cy="1552.2" r="4.3" fill="#C7C7C7"/><circle cx="278.8" cy="1552.2" r="4.3" fill="#D2AEA2"/><circle cx="293.4" cy="1552.2" r="4.3" fill="#D2AEA2"/><circle cx="308.0" cy="1552.2" r="4.3" fill="#D2AEA2"/><circle cx="322.6" cy="1552.2" r="4.3" fill="#C7C7C7"/><circle cx="337.2" cy="1552.2" r="4.3" fill="#A6BCD0"/><circle cx="351.8" cy="1552.2" r="4.3" fill="#D2AEA2"/><circle cx="408.6" cy="1552.2" r="4.3" fill="#A6BCD0"/><circle cx="423.2" cy="1552.2" r="4.3" fill="#C7C7C7"/><circle cx="437.8" cy="1552.2" r="4.3" fill="#D2AEA2"/><circle cx="452.4" cy="1552.2" r="4.3" fill="#A6BCD0"/><circle cx="467.0" cy="1552.2" r="4.3" fill="#A6BCD0"/><circle cx="481.6" cy="1552.2" r="4.3" fill="#C7C7C7"/><circle cx="496.2" cy="1552.2" r="4.3" fill="#C7C7C7"/><circle cx="510.8" cy="1552.2" r="4.3" fill="#A6BCD0"/><circle cx="525.4" cy="1552.2" r="4.3" fill="#C7C7C7"/><circle cx="553.8" cy="1552.2" r="4.3" fill="#C7C7C7"/><circle cx="582.9" cy="1552.2" r="4.3" fill="#D2AEA2"/><circle cx="597.5" cy="1552.2" r="4.3" fill="#C7C7C7"/><circle cx="612.1" cy="1552.2" r="4.3" fill="#D2AEA2"/><circle cx="626.7" cy="1552.2" r="4.3" fill="#C7C7C7"/><circle cx="641.2" cy="1552.2" r="4.3" fill="#C7C7C7"/><circle cx="655.8" cy="1552.2" r="4.3" fill="#A6BCD0"/><circle cx="670.4" cy="1552.2" r="4.3" fill="#C7C7C7"/><circle cx="684.9" cy="1552.2" r="4.3" fill="#A6BCD0"/><circle cx="699.5" cy="1552.2" r="4.3" fill="#C7C7C7"/><circle cx="714.1" cy="1552.2" r="4.3" fill="#A6BCD0"/><circle cx="728.7" cy="1552.2" r="4.3" fill="#A6BCD0"/><circle cx="743.2" cy="1552.2" r="4.3" fill="#C7C7C7"/><circle cx="757.8" cy="1552.2" r="4.3" fill="#D2AEA2"/><circle cx="786.0" cy="1552.2" r="4.3" fill="#C7C7C7"/><circle cx="800.7" cy="1552.2" r="4.3" fill="#C7C7C7"/><circle cx="815.3" cy="1552.2" r="4.3" fill="#C7C7C7"/><circle cx="830.0" cy="1552.2" r="4.3" fill="#C7C7C7"/><circle cx="844.6" cy="1552.2" r="4.3" fill="#C7C7C7"/><circle cx="888.6" cy="1552.2" r="4.3" fill="#A6BCD0"/><circle cx="916.8" cy="1552.2" r="4.3" fill="#C7C7C7"/><circle cx="931.4" cy="1552.2" r="4.3" fill="#C7C7C7"/><circle cx="946.0" cy="1552.2" r="4.3" fill="#D2AEA2"/><circle cx="974.6" cy="1552.2" r="4.3" fill="#C7C7C7"/><circle cx="988.9" cy="1552.2" r="4.3" fill="#D2AEA2"/><circle cx="1003.2" cy="1552.2" r="4.3" fill="#D2AEA2"/><circle cx="1017.5" cy="1552.2" r="4.3" fill="#C7C7C7"/><circle cx="1046.0" cy="1552.2" r="4.3" fill="#C7C7C7"/><circle cx="1075.3" cy="1552.2" r="4.3" fill="#D2AEA2"/><circle cx="1089.9" cy="1552.2" r="4.3" fill="#D2AEA2"/><circle cx="1104.6" cy="1552.2" r="4.3" fill="#D2AEA2"/><circle cx="1119.2" cy="1552.2" r="4.3" fill="#A6BCD0"/><circle cx="1133.8" cy="1552.2" r="4.3" fill="#C7C7C7"/><circle cx="1148.5" cy="1552.2" r="4.3" fill="#D2AEA2"/><circle cx="1163.1" cy="1552.2" r="4.3" fill="#A6BCD0"/><circle cx="1177.7" cy="1552.2" r="4.3" fill="#A6BCD0"/><circle cx="1192.4" cy="1552.2" r="4.3" fill="#D2AEA2"/><circle cx="1207.0" cy="1552.2" r="4.3" fill="#C7C7C7"/><circle cx="1221.7" cy="1552.2" r="4.3" fill="#A6BCD0"/><circle cx="1236.3" cy="1552.2" r="4.3" fill="#A6BCD0"/><circle cx="147.4" cy="1576.2" r="4.3" fill="#C7C7C7"/><circle cx="162.0" cy="1576.2" r="4.3" fill="#C7C7C7"/><circle cx="176.6" cy="1576.2" r="4.3" fill="#A6BCD0"/><circle cx="191.2" cy="1576.2" r="4.3" fill="#C7C7C7"/><circle cx="205.8" cy="1576.2" r="4.3" fill="#A6BCD0"/><circle cx="220.4" cy="1576.2" r="4.3" fill="#C7C7C7"/><circle cx="235.0" cy="1576.2" r="4.3" fill="#A6BCD0"/><circle cx="249.6" cy="1576.2" r="4.3" fill="#D2AEA2"/><circle cx="264.2" cy="1576.2" r="4.3" fill="#D2AEA2"/><circle cx="278.8" cy="1576.2" r="4.3" fill="#A6BCD0"/><circle cx="293.4" cy="1576.2" r="4.3" fill="#A6BCD0"/><circle cx="308.0" cy="1576.2" r="4.3" fill="#C7C7C7"/><circle cx="322.6" cy="1576.2" r="4.3" fill="#C7C7C7"/><circle cx="337.2" cy="1576.2" r="4.3" fill="#A6BCD0"/><circle cx="351.8" cy="1576.2" r="4.3" fill="#D2AEA2"/><circle cx="379.4" cy="1576.2" r="4.3" fill="#C7C7C7"/><circle cx="394.0" cy="1576.2" r="4.3" fill="#C7C7C7"/><circle cx="408.6" cy="1576.2" r="4.3" fill="#C7C7C7"/><circle cx="423.2" cy="1576.2" r="4.3" fill="#C7C7C7"/><circle cx="437.8" cy="1576.2" r="4.3" fill="#C7C7C7"/><circle cx="452.4" cy="1576.2" r="4.3" fill="#C7C7C7"/><circle cx="467.0" cy="1576.2" r="4.3" fill="#C7C7C7"/><circle cx="481.6" cy="1576.2" r="4.3" fill="#D2AEA2"/><circle cx="496.2" cy="1576.2" r="4.3" fill="#C7C7C7"/><circle cx="510.8" cy="1576.2" r="4.3" fill="#D2AEA2"/><circle cx="525.4" cy="1576.2" r="4.3" fill="#C7C7C7"/><circle cx="553.8" cy="1576.2" r="4.3" fill="#C7C7C7"/><circle cx="568.4" cy="1576.2" r="4.3" fill="#A6BCD0"/><circle cx="582.9" cy="1576.2" r="4.3" fill="#C7C7C7"/><circle cx="597.5" cy="1576.2" r="4.3" fill="#C7C7C7"/><circle cx="612.1" cy="1576.2" r="4.3" fill="#C7C7C7"/><circle cx="626.7" cy="1576.2" r="4.3" fill="#C7C7C7"/><circle cx="641.2" cy="1576.2" r="4.3" fill="#D2AEA2"/><circle cx="655.8" cy="1576.2" r="4.3" fill="#C7C7C7"/><circle cx="684.9" cy="1576.2" r="4.3" fill="#A6BCD0"/><circle cx="699.5" cy="1576.2" r="4.3" fill="#D2AEA2"/><circle cx="714.1" cy="1576.2" r="4.3" fill="#C7C7C7"/><circle cx="728.7" cy="1576.2" r="4.3" fill="#D2AEA2"/><circle cx="743.2" cy="1576.2" r="4.3" fill="#C7C7C7"/><circle cx="757.8" cy="1576.2" r="4.3" fill="#A6BCD0"/><circle cx="786.0" cy="1576.2" r="4.3" fill="#A6BCD0"/><circle cx="800.7" cy="1576.2" r="4.3" fill="#C7C7C7"/><circle cx="815.3" cy="1576.2" r="4.3" fill="#D2AEA2"/><circle cx="830.0" cy="1576.2" r="4.3" fill="#A6BCD0"/><circle cx="844.6" cy="1576.2" r="4.3" fill="#C7C7C7"/><circle cx="859.3" cy="1576.2" r="4.3" fill="#A6BCD0"/><circle cx="873.9" cy="1576.2" r="4.3" fill="#C7C7C7"/><circle cx="888.6" cy="1576.2" r="4.3" fill="#C7C7C7"/><circle cx="916.8" cy="1576.2" r="4.3" fill="#D2AEA2"/><circle cx="931.4" cy="1576.2" r="4.3" fill="#D2AEA2"/><circle cx="946.0" cy="1576.2" r="4.3" fill="#C7C7C7"/><circle cx="974.6" cy="1576.2" r="4.3" fill="#D2AEA2"/><circle cx="988.9" cy="1576.2" r="4.3" fill="#A6BCD0"/><circle cx="1003.2" cy="1576.2" r="4.3" fill="#C7C7C7"/><circle cx="1017.5" cy="1576.2" r="4.3" fill="#C7C7C7"/><circle cx="1046.0" cy="1576.2" r="4.3" fill="#C7C7C7"/><circle cx="1060.6" cy="1576.2" r="4.3" fill="#D2AEA2"/><circle cx="1075.3" cy="1576.2" r="4.3" fill="#D2AEA2"/><circle cx="1089.9" cy="1576.2" r="4.3" fill="#C7C7C7"/><circle cx="1104.6" cy="1576.2" r="4.3" fill="#C7C7C7"/><circle cx="1133.8" cy="1576.2" r="4.3" fill="#D2AEA2"/><circle cx="1148.5" cy="1576.2" r="4.3" fill="#C7C7C7"/><circle cx="1163.1" cy="1576.2" r="4.3" fill="#C7C7C7"/><circle cx="1177.7" cy="1576.2" r="4.3" fill="#C7C7C7"/><circle cx="1207.0" cy="1576.2" r="4.3" fill="#A6BCD0"/><circle cx="1221.7" cy="1576.2" r="4.3" fill="#D2AEA2"/><circle cx="1236.3" cy="1576.2" r="4.3" fill="#D2AEA2"/><circle cx="147.4" cy="1591.0" r="4.3" fill="#C7C7C7"/><circle cx="162.0" cy="1591.0" r="4.3" fill="#C7C7C7"/><circle cx="176.6" cy="1591.0" r="4.3" fill="#C7C7C7"/><circle cx="191.2" cy="1591.0" r="4.3" fill="#A6BCD0"/><circle cx="205.8" cy="1591.0" r="4.3" fill="#C7C7C7"/><circle cx="220.4" cy="1591.0" r="4.3" fill="#D2AEA2"/><circle cx="235.0" cy="1591.0" r="4.3" fill="#A6BCD0"/><circle cx="249.6" cy="1591.0" r="4.3" fill="#A6BCD0"/><circle cx="264.2" cy="1591.0" r="4.3" fill="#A6BCD0"/><circle cx="278.8" cy="1591.0" r="4.3" fill="#C7C7C7"/><circle cx="293.4" cy="1591.0" r="4.3" fill="#D2AEA2"/><circle cx="308.0" cy="1591.0" r="4.3" fill="#D2AEA2"/><circle cx="322.6" cy="1591.0" r="4.3" fill="#D2AEA2"/><circle cx="337.2" cy="1591.0" r="4.3" fill="#D2AEA2"/><circle cx="351.8" cy="1591.0" r="4.3" fill="#C7C7C7"/><circle cx="379.4" cy="1591.0" r="4.3" fill="#C7C7C7"/><circle cx="394.0" cy="1591.0" r="4.3" fill="#C7C7C7"/><circle cx="408.6" cy="1591.0" r="4.3" fill="#A6BCD0"/><circle cx="423.2" cy="1591.0" r="4.3" fill="#C7C7C7"/><circle cx="437.8" cy="1591.0" r="4.3" fill="#D2AEA2"/><circle cx="452.4" cy="1591.0" r="4.3" fill="#D2AEA2"/><circle cx="467.0" cy="1591.0" r="4.3" fill="#A6BCD0"/><circle cx="481.6" cy="1591.0" r="4.3" fill="#C7C7C7"/><circle cx="496.2" cy="1591.0" r="4.3" fill="#C7C7C7"/><circle cx="510.8" cy="1591.0" r="4.3" fill="#D2AEA2"/><circle cx="525.4" cy="1591.0" r="4.3" fill="#C7C7C7"/><circle cx="553.8" cy="1591.0" r="4.3" fill="#C7C7C7"/><circle cx="568.4" cy="1591.0" r="4.3" fill="#A6BCD0"/><circle cx="582.9" cy="1591.0" r="4.3" fill="#A6BCD0"/><circle cx="597.5" cy="1591.0" r="4.3" fill="#C7C7C7"/><circle cx="612.1" cy="1591.0" r="4.3" fill="#D2AEA2"/><circle cx="626.7" cy="1591.0" r="4.3" fill="#C7C7C7"/><circle cx="641.2" cy="1591.0" r="4.3" fill="#C7C7C7"/><circle cx="655.8" cy="1591.0" r="4.3" fill="#C7C7C7"/><circle cx="670.4" cy="1591.0" r="4.3" fill="#A6BCD0"/><circle cx="684.9" cy="1591.0" r="4.3" fill="#C7C7C7"/><circle cx="699.5" cy="1591.0" r="4.3" fill="#A6BCD0"/><circle cx="714.1" cy="1591.0" r="4.3" fill="#C7C7C7"/><circle cx="728.7" cy="1591.0" r="4.3" fill="#D2AEA2"/><circle cx="743.2" cy="1591.0" r="4.3" fill="#C7C7C7"/><circle cx="757.8" cy="1591.0" r="4.3" fill="#A6BCD0"/><circle cx="786.0" cy="1591.0" r="4.3" fill="#D2AEA2"/><circle cx="800.7" cy="1591.0" r="4.3" fill="#C7C7C7"/><circle cx="815.3" cy="1591.0" r="4.3" fill="#D2AEA2"/><circle cx="830.0" cy="1591.0" r="4.3" fill="#C7C7C7"/><circle cx="844.6" cy="1591.0" r="4.3" fill="#C7C7C7"/><circle cx="859.3" cy="1591.0" r="4.3" fill="#C7C7C7"/><circle cx="873.9" cy="1591.0" r="4.3" fill="#C7C7C7"/><circle cx="888.6" cy="1591.0" r="4.3" fill="#D2AEA2"/><circle cx="916.8" cy="1591.0" r="4.3" fill="#C7C7C7"/><circle cx="931.4" cy="1591.0" r="4.3" fill="#D2AEA2"/><circle cx="946.0" cy="1591.0" r="4.3" fill="#C7C7C7"/><circle cx="974.6" cy="1591.0" r="4.3" fill="#C7C7C7"/><circle cx="988.9" cy="1591.0" r="4.3" fill="#D2AEA2"/><circle cx="1003.2" cy="1591.0" r="4.3" fill="#A6BCD0"/><circle cx="1017.5" cy="1591.0" r="4.3" fill="#D2AEA2"/><circle cx="1046.0" cy="1591.0" r="4.3" fill="#C7C7C7"/><circle cx="1060.6" cy="1591.0" r="4.3" fill="#A6BCD0"/><circle cx="1075.3" cy="1591.0" r="4.3" fill="#C7C7C7"/><circle cx="1104.6" cy="1591.0" r="4.3" fill="#C7C7C7"/><circle cx="1119.2" cy="1591.0" r="4.3" fill="#C7C7C7"/><circle cx="1133.8" cy="1591.0" r="4.3" fill="#C7C7C7"/><circle cx="1148.5" cy="1591.0" r="4.3" fill="#C7C7C7"/><circle cx="1163.1" cy="1591.0" r="4.3" fill="#A6BCD0"/><circle cx="1177.7" cy="1591.0" r="4.3" fill="#A6BCD0"/><circle cx="1192.4" cy="1591.0" r="4.3" fill="#C7C7C7"/><circle cx="1207.0" cy="1591.0" r="4.3" fill="#C7C7C7"/><circle cx="1221.7" cy="1591.0" r="4.3" fill="#D2AEA2"/><circle cx="1236.3" cy="1591.0" r="4.3" fill="#C7C7C7"/><circle cx="147.4" cy="1605.8" r="4.3" fill="#D2AEA2"/><circle cx="162.0" cy="1605.8" r="4.3" fill="#C7C7C7"/><circle cx="191.2" cy="1605.8" r="4.3" fill="#C7C7C7"/><circle cx="205.8" cy="1605.8" r="4.3" fill="#D2AEA2"/><circle cx="220.4" cy="1605.8" r="4.3" fill="#C7C7C7"/><circle cx="235.0" cy="1605.8" r="4.3" fill="#C7C7C7"/><circle cx="249.6" cy="1605.8" r="4.3" fill="#C7C7C7"/><circle cx="264.2" cy="1605.8" r="4.3" fill="#D2AEA2"/><circle cx="278.8" cy="1605.8" r="4.3" fill="#D2AEA2"/><circle cx="293.4" cy="1605.8" r="4.3" fill="#C7C7C7"/><circle cx="308.0" cy="1605.8" r="4.3" fill="#C7C7C7"/><circle cx="322.6" cy="1605.8" r="4.3" fill="#C7C7C7"/><circle cx="337.2" cy="1605.8" r="4.3" fill="#C7C7C7"/><circle cx="351.8" cy="1605.8" r="4.3" fill="#C7C7C7"/><circle cx="408.6" cy="1605.8" r="4.3" fill="#A6BCD0"/><circle cx="423.2" cy="1605.8" r="4.3" fill="#C7C7C7"/><circle cx="437.8" cy="1605.8" r="4.3" fill="#C7C7C7"/><circle cx="452.4" cy="1605.8" r="4.3" fill="#A6BCD0"/><circle cx="467.0" cy="1605.8" r="4.3" fill="#C7C7C7"/><circle cx="481.6" cy="1605.8" r="4.3" fill="#C7C7C7"/><circle cx="496.2" cy="1605.8" r="4.3" fill="#C7C7C7"/><circle cx="510.8" cy="1605.8" r="4.3" fill="#D2AEA2"/><circle cx="525.4" cy="1605.8" r="4.3" fill="#C7C7C7"/><circle cx="553.8" cy="1605.8" r="4.3" fill="#A6BCD0"/><circle cx="568.4" cy="1605.8" r="4.3" fill="#C7C7C7"/><circle cx="582.9" cy="1605.8" r="4.3" fill="#C7C7C7"/><circle cx="597.5" cy="1605.8" r="4.3" fill="#A6BCD0"/><circle cx="612.1" cy="1605.8" r="4.3" fill="#C7C7C7"/><circle cx="626.7" cy="1605.8" r="4.3" fill="#C7C7C7"/><circle cx="641.2" cy="1605.8" r="4.3" fill="#A6BCD0"/><circle cx="655.8" cy="1605.8" r="4.3" fill="#C7C7C7"/><circle cx="670.4" cy="1605.8" r="4.3" fill="#C7C7C7"/><circle cx="684.9" cy="1605.8" r="4.3" fill="#C7C7C7"/><circle cx="699.5" cy="1605.8" r="4.3" fill="#C7C7C7"/><circle cx="714.1" cy="1605.8" r="4.3" fill="#C7C7C7"/><circle cx="728.7" cy="1605.8" r="4.3" fill="#C7C7C7"/><circle cx="743.2" cy="1605.8" r="4.3" fill="#C7C7C7"/><circle cx="786.0" cy="1605.8" r="4.3" fill="#C7C7C7"/><circle cx="800.7" cy="1605.8" r="4.3" fill="#C7C7C7"/><circle cx="815.3" cy="1605.8" r="4.3" fill="#A6BCD0"/><circle cx="830.0" cy="1605.8" r="4.3" fill="#D2AEA2"/><circle cx="844.6" cy="1605.8" r="4.3" fill="#D2AEA2"/><circle cx="859.3" cy="1605.8" r="4.3" fill="#C7C7C7"/><circle cx="873.9" cy="1605.8" r="4.3" fill="#D2AEA2"/><circle cx="888.6" cy="1605.8" r="4.3" fill="#D2AEA2"/><circle cx="916.8" cy="1605.8" r="4.3" fill="#C7C7C7"/><circle cx="931.4" cy="1605.8" r="4.3" fill="#D2AEA2"/><circle cx="946.0" cy="1605.8" r="4.3" fill="#D2AEA2"/><circle cx="974.6" cy="1605.8" r="4.3" fill="#C7C7C7"/><circle cx="988.9" cy="1605.8" r="4.3" fill="#A6BCD0"/><circle cx="1003.2" cy="1605.8" r="4.3" fill="#A6BCD0"/><circle cx="1017.5" cy="1605.8" r="4.3" fill="#A6BCD0"/><circle cx="1046.0" cy="1605.8" r="4.3" fill="#A6BCD0"/><circle cx="1060.6" cy="1605.8" r="4.3" fill="#C7C7C7"/><circle cx="1075.3" cy="1605.8" r="4.3" fill="#D2AEA2"/><circle cx="1104.6" cy="1605.8" r="4.3" fill="#A6BCD0"/><circle cx="1119.2" cy="1605.8" r="4.3" fill="#C7C7C7"/><circle cx="1133.8" cy="1605.8" r="4.3" fill="#D2AEA2"/><circle cx="1148.5" cy="1605.8" r="4.3" fill="#A6BCD0"/><circle cx="1177.7" cy="1605.8" r="4.3" fill="#C7C7C7"/><circle cx="1192.4" cy="1605.8" r="4.3" fill="#C7C7C7"/><circle cx="1207.0" cy="1605.8" r="4.3" fill="#C7C7C7"/><circle cx="1221.7" cy="1605.8" r="4.3" fill="#A6BCD0"/><circle cx="1236.3" cy="1605.8" r="4.3" fill="#A6BCD0"/><rect x="156.2" y="1480.6" width="11.6" height="11.6" fill="#7FA8C8"/><path d="M278.8 1479.4l7 7l-7 7l-7 -7z" fill="#D4A090"/><path d="M481.6 1479.4l7 7l-7 7l-7 -7z" fill="#A8B8C8"/><rect x="853.5" y="1480.6" width="11.6" height="11.6" fill="#9AB4CC"/><rect x="1054.8" y="1480.6" width="11.6" height="11.6" fill="#C0C4C8"/><path d="M1089.9 1479.4l7 7l-7 7l-7 -7z" fill="#C8B4AC"/><rect x="170.8" y="1495.3" width="11.6" height="11.6" fill="#7FA8C8"/><path d="M379.4 1494.1l7 7l-7 7l-7 -7z" fill="#5E9AC8"/><rect x="388.2" y="1495.3" width="11.6" height="11.6" fill="#8AAECC"/><path d="M1017.5 1494.1l7 7l-7 7l-7 -7z" fill="#D9704C"/><path d="M191.2 1515.8l7 7l-7 7l-7 -7z" fill="#C8B0A8"/><path d="M670.4 1515.8l7 7l-7 7l-7 -7z" fill="#C4C4C4"/><rect x="853.5" y="1517.0" width="11.6" height="11.6" fill="#8AAECC"/><path d="M1060.6 1515.8l7 7l-7 7l-7 -7z" fill="#C0C4C8"/><path d="M1089.9 1515.8l7 7l-7 7l-7 -7z" fill="#D0B4A8"/><path d="M162.0 1530.5l7 7l-7 7l-7 -7z" fill="#5E9AC8"/><path d="M176.6 1530.5l7 7l-7 7l-7 -7z" fill="#90B0CC"/><path d="M394.0 1530.5l7 7l-7 7l-7 -7z" fill="#A0B8CC"/><path d="M859.3 1530.5l7 7l-7 7l-7 -7z" fill="#90B0CC"/><path d="M1089.9 1530.5l7 7l-7 7l-7 -7z" fill="#D0B0A4"/><path d="M1133.8 1530.5l7 7l-7 7l-7 -7z" fill="#D98C70"/><path d="M1192.4 1530.5l7 7l-7 7l-7 -7z" fill="#D4AFA4"/><path d="M162.0 1545.2l7 7l-7 7l-7 -7z" fill="#5E9AC8"/><path d="M176.6 1545.2l7 7l-7 7l-7 -7z" fill="#90B0CC"/><rect x="373.6" y="1546.4" width="11.6" height="11.6" fill="#5E9AC8"/><rect x="388.2" y="1546.4" width="11.6" height="11.6" fill="#8AAECC"/><path d="M568.4 1545.2l7 7l-7 7l-7 -7z" fill="#6E9EC8"/><path d="M859.3 1545.2l7 7l-7 7l-7 -7z" fill="#90B0CC"/><path d="M873.9 1545.2l7 7l-7 7l-7 -7z" fill="#5E9AC8"/><path d="M1060.6 1545.2l7 7l-7 7l-7 -7z" fill="#C0C4C8"/><path d="M670.4 1569.2l7 7l-7 7l-7 -7z" fill="#C4C4C4"/><path d="M1119.2 1569.2l7 7l-7 7l-7 -7z" fill="#D0A898"/><path d="M1192.4 1569.2l7 7l-7 7l-7 -7z" fill="#D0B0A4"/><path d="M1089.9 1584.0l7 7l-7 7l-7 -7z" fill="#B0C0CC"/><path d="M176.6 1598.8l7 7l-7 7l-7 -7z" fill="#90B0CC"/><path d="M379.4 1598.8l7 7l-7 7l-7 -7z" fill="#5E9AC8"/><rect x="388.2" y="1600.0" width="11.6" height="11.6" fill="#8AAECC"/><path d="M757.8 1598.8l7 7l-7 7l-7 -7z" fill="#D98060"/><path d="M1089.9 1598.8l7 7l-7 7l-7 -7z" fill="#B8C4CC"/><path d="M1163.1 1598.8l7 7l-7 7l-7 -7z" fill="#D0B8AC"/></g>
<g fill="#fff" stroke="#BDBDBD" stroke-width="0.8"><circle cx="1267.4" cy="1489.6" r="4"/><path d="M1267.4 1496.5l6.5 6.5l-6.5 6.5l-6.5 -6.5z"/><rect x="1261.6" y="1512.0" width="11.6" height="11.6"/></g>
<text x="1281.5" y="1492.8" class="DB" font-size="8.3">NS</text>
<text x="1281.5" y="1506.7" class="DB" font-size="8.3">Significant (p&lt;0.05)</text>
<text x="1281.5" y="1520.6" class="DB" font-size="8.3">Significant (p&lt;0.01)</text>
<rect x="1258.5" y="1543.5" width="18.3" height="65.5" fill="url(#glr)"/>
<text x="1281.5" y="1549.2" class="DB" font-size="8.3">0.3</text>
<text x="1281.5" y="1559.5" class="DB" font-size="8.3">0.2</text>
<text x="1281.5" y="1569.8" class="DB" font-size="8.3">0.1</text>
<text x="1281.5" y="1580.1" class="DB" font-size="8.3">0.0</text>
<text x="1281.5" y="1590.4" class="DB" font-size="8.3">-0.1</text>
<text x="1281.5" y="1600.7" class="DB" font-size="8.3">-0.2</text>
<text x="1281.5" y="1611.0" class="DB" font-size="8.3">-0.3</text>
<text transform="translate(1315 1541.1) rotate(90)" class="DB" font-size="12.9">Log-Odds</text>
<text transform="translate(1299.7 1541.1) rotate(90)" class="DB" font-size="12.9">Ratio</text>
<path d="M156.4 1915.6H374.6" stroke="#111" stroke-width="1.5"/>
<text x="265.5" y="1796.5" class="DB" font-size="12.5" text-anchor="middle">CD8+ T Cell</text>
<text transform="translate(168.5 1921.1) rotate(-90)" class="DB" font-size="10.3" text-anchor="end">CD8_Teff_c</text>
<text transform="translate(182.9 1921.1) rotate(-90)" class="DB" font-size="10.3" text-anchor="end">CD8_Tn</text>
<text transform="translate(197.2 1921.1) rotate(-90)" class="DB" font-size="10.3" text-anchor="end">CD8_Tem_IFN</text>
<text transform="translate(211.6 1921.1) rotate(-90)" class="DB" font-size="10.3" text-anchor="end">CD8_Teff_b</text>
<text transform="translate(225.9 1921.1) rotate(-90)" class="DB" font-size="10.3" text-anchor="end">CD8_Tcm_GZMK</text>
<text transform="translate(240.3 1921.1) rotate(-90)" class="DB" font-size="10.3" text-anchor="end">MAIT</text>
<text transform="translate(254.6 1921.1) rotate(-90)" class="DB" font-size="10.3" text-anchor="end">CD8_Tcm</text>
<text transform="translate(269.0 1921.1) rotate(-90)" class="DB" font-size="10.3" text-anchor="end">CD8_T_adp_b</text>
<text transform="translate(283.4 1921.1) rotate(-90)" class="DB" font-size="10.3" text-anchor="end">CD8_T_Apoptotic</text>
<text transform="translate(297.7 1921.1) rotate(-90)" class="DB" font-size="10.3" text-anchor="end">CD8_Teff_HLA</text>
<text transform="translate(312.1 1921.1) rotate(-90)" class="DB" font-size="10.3" text-anchor="end">CD8_Teff</text>
<text transform="translate(326.4 1921.1) rotate(-90)" class="DB" font-size="10.3" text-anchor="end">CD8_Tem</text>
<text transform="translate(340.8 1921.1) rotate(-90)" class="DB" font-size="10.3" text-anchor="end">CD8_Teff_TNF</text>
<text transform="translate(355.1 1921.1) rotate(-90)" class="DB" font-size="10.3" text-anchor="end">CD8_Tem_NFKB</text>
<text transform="translate(369.5 1921.1) rotate(-90)" class="DB" font-size="10.3" text-anchor="end">CD8_T_adp</text>
<path d="M165.0 1915.6v3.5M179.4 1915.6v3.5M193.7 1915.6v3.5M208.1 1915.6v3.5M222.4 1915.6v3.5M236.8 1915.6v3.5M251.1 1915.6v3.5M265.5 1915.6v3.5M279.9 1915.6v3.5M294.2 1915.6v3.5M308.6 1915.6v3.5M322.9 1915.6v3.5M337.3 1915.6v3.5M351.6 1915.6v3.5M366.0 1915.6v3.5" stroke="#111" stroke-width="1"/>
<path d="M385.1 1915.6H545.8" stroke="#111" stroke-width="1.5"/>
<text x="465.5" y="1796.5" class="DB" font-size="12.5" text-anchor="middle">CD4+ T Cell</text>
<text transform="translate(397.2 1921.1) rotate(-90)" class="DB" font-size="10.3" text-anchor="end">CD4_Tcm_IFN</text>
<text transform="translate(411.6 1921.1) rotate(-90)" class="DB" font-size="10.3" text-anchor="end">CD4_Tem_IFN</text>
<text transform="translate(425.9 1921.1) rotate(-90)" class="DB" font-size="10.3" text-anchor="end">CD4_Teff</text>
<text transform="translate(440.2 1921.1) rotate(-90)" class="DB" font-size="10.3" text-anchor="end">CD4_Th_LEF1</text>
<text transform="translate(454.6 1921.1) rotate(-90)" class="DB" font-size="10.3" text-anchor="end">CD4_Th</text>
<text transform="translate(469.0 1921.1) rotate(-90)" class="DB" font-size="10.3" text-anchor="end">CD4_Tcm_KLRB1</text>
<text transform="translate(483.3 1921.1) rotate(-90)" class="DB" font-size="10.3" text-anchor="end">CD4_CTL</text>
<text transform="translate(497.7 1921.1) rotate(-90)" class="DB" font-size="10.3" text-anchor="end">CD4_Teff_TNF</text>
<text transform="translate(512.0 1921.1) rotate(-90)" class="DB" font-size="10.3" text-anchor="end">CD4_Tn</text>
<text transform="translate(526.4 1921.1) rotate(-90)" class="DB" font-size="10.3" text-anchor="end">CD4_Tcm_NFKBIA</text>
<text transform="translate(540.7 1921.1) rotate(-90)" class="DB" font-size="10.3" text-anchor="end">Treg</text>
<path d="M393.7 1915.6v3.5M408.1 1915.6v3.5M422.4 1915.6v3.5M436.8 1915.6v3.5M451.1 1915.6v3.5M465.5 1915.6v3.5M479.8 1915.6v3.5M494.2 1915.6v3.5M508.5 1915.6v3.5M522.9 1915.6v3.5M537.2 1915.6v3.5" stroke="#111" stroke-width="1"/>
<path d="M556.1 1915.6H774.3" stroke="#111" stroke-width="1.5"/>
<text x="665.2" y="1796.5" class="DB" font-size="12.5" text-anchor="middle">Myeloid</text>
<text transform="translate(568.2 1921.1) rotate(-90)" class="DB" font-size="10.3" text-anchor="end">cDC2</text>
<text transform="translate(582.6 1921.1) rotate(-90)" class="DB" font-size="10.3" text-anchor="end">CD14+Mono_IFN</text>
<text transform="translate(596.9 1921.1) rotate(-90)" class="DB" font-size="10.3" text-anchor="end">CD14+Mono_CTSS</text>
<text transform="translate(611.3 1921.1) rotate(-90)" class="DB" font-size="10.3" text-anchor="end">CD14+Mono_S100A</text>
<text transform="translate(625.6 1921.1) rotate(-90)" class="DB" font-size="10.3" text-anchor="end">cDC1</text>
<text transform="translate(640.0 1921.1) rotate(-90)" class="DB" font-size="10.3" text-anchor="end">GMP</text>
<text transform="translate(654.3 1921.1) rotate(-90)" class="DB" font-size="10.3" text-anchor="end">Granulocyte</text>
<text transform="translate(668.7 1921.1) rotate(-90)" class="DB" font-size="10.3" text-anchor="end">Neutrophil_RPS/RPL</text>
<text transform="translate(683.1 1921.1) rotate(-90)" class="DB" font-size="10.3" text-anchor="end">pDCs_b</text>
<text transform="translate(697.4 1921.1) rotate(-90)" class="DB" font-size="10.3" text-anchor="end">Neutrophil_ARG1</text>
<text transform="translate(711.8 1921.1) rotate(-90)" class="DB" font-size="10.3" text-anchor="end">Macro/Mono</text>
<text transform="translate(726.1 1921.1) rotate(-90)" class="DB" font-size="10.3" text-anchor="end">M2_Macro</text>
<text transform="translate(740.5 1921.1) rotate(-90)" class="DB" font-size="10.3" text-anchor="end">CD14+Mono_hypo</text>
<text transform="translate(754.8 1921.1) rotate(-90)" class="DB" font-size="10.3" text-anchor="end">CD14+Mono_pro-inflam</text>
<text transform="translate(769.2 1921.1) rotate(-90)" class="DB" font-size="10.3" text-anchor="end">CD16+Mono</text>
<path d="M564.7 1915.6v3.5M579.1 1915.6v3.5M593.4 1915.6v3.5M607.8 1915.6v3.5M622.1 1915.6v3.5M636.5 1915.6v3.5M650.8 1915.6v3.5M665.2 1915.6v3.5M679.6 1915.6v3.5M693.9 1915.6v3.5M708.3 1915.6v3.5M722.6 1915.6v3.5M737.0 1915.6v3.5M751.3 1915.6v3.5M765.7 1915.6v3.5" stroke="#111" stroke-width="1"/>
<path d="M785.2 1915.6H902.2" stroke="#111" stroke-width="1.5"/>
<text x="843.7" y="1796.5" class="DB" font-size="12.5" text-anchor="middle">B Cell</text>
<text transform="translate(797.3 1921.1) rotate(-90)" class="DB" font-size="10.3" text-anchor="end">B_preLg</text>
<text transform="translate(811.6 1921.1) rotate(-90)" class="DB" font-size="10.3" text-anchor="end">B_preSm</text>
<text transform="translate(825.8 1921.1) rotate(-90)" class="DB" font-size="10.3" text-anchor="end">B_pro</text>
<text transform="translate(840.1 1921.1) rotate(-90)" class="DB" font-size="10.3" text-anchor="end">B_imm</text>
<text transform="translate(854.3 1921.1) rotate(-90)" class="DB" font-size="10.3" text-anchor="end">B_trns</text>
<text transform="translate(868.6 1921.1) rotate(-90)" class="DB" font-size="10.3" text-anchor="end">B_mem</text>
<text transform="translate(882.8 1921.1) rotate(-90)" class="DB" font-size="10.3" text-anchor="end">B_naive</text>
<text transform="translate(897.1 1921.1) rotate(-90)" class="DB" font-size="10.3" text-anchor="end">B_Unswitched_mem</text>
<path d="M793.8 1915.6v3.5M808.1 1915.6v3.5M822.3 1915.6v3.5M836.6 1915.6v3.5M850.8 1915.6v3.5M865.1 1915.6v3.5M879.3 1915.6v3.5M893.6 1915.6v3.5" stroke="#111" stroke-width="1"/>
<path d="M913.1 1915.6H959.0" stroke="#111" stroke-width="1.5"/>
<text x="936.0" y="1796.5" class="DB" font-size="12.5" text-anchor="middle">Other</text>
<text transform="translate(925.2 1921.1) rotate(-90)" class="DB" font-size="10.3" text-anchor="end">pDCs_a</text>
<text transform="translate(939.5 1921.1) rotate(-90)" class="DB" font-size="10.3" text-anchor="end">HSC</text>
<text transform="translate(953.9 1921.1) rotate(-90)" class="DB" font-size="10.3" text-anchor="end">Fibro</text>
<path d="M921.7 1915.6v3.5M936.0 1915.6v3.5M950.4 1915.6v3.5" stroke="#111" stroke-width="1"/>
<path d="M969.8 1915.6H1030.7" stroke="#111" stroke-width="1.5"/>
<text x="1000.2" y="1796.5" class="DB" font-size="12.5" text-anchor="middle">Nk Cell</text>
<text transform="translate(982.0 1921.1) rotate(-90)" class="DB" font-size="10.3" text-anchor="end">NK_adp</text>
<text transform="translate(996.5 1921.1) rotate(-90)" class="DB" font-size="10.3" text-anchor="end">NK_resident</text>
<text transform="translate(1011.0 1921.1) rotate(-90)" class="DB" font-size="10.3" text-anchor="end">NK_CD56bright</text>
<text transform="translate(1025.5 1921.1) rotate(-90)" class="DB" font-size="10.3" text-anchor="end">NK_CD56dim</text>
<path d="M978.5 1915.6v3.5M993.0 1915.6v3.5M1007.5 1915.6v3.5M1022.0 1915.6v3.5" stroke="#111" stroke-width="1"/>
<path d="M1041.4 1915.6H1244.9" stroke="#111" stroke-width="1.5"/>
<text x="1143.2" y="1796.5" class="DB" font-size="12.5" text-anchor="middle">Erythroid</text>
<text transform="translate(1053.5 1921.1) rotate(-90)" class="DB" font-size="10.3" text-anchor="end">Ery.6</text>
<text transform="translate(1067.8 1921.1) rotate(-90)" class="DB" font-size="10.3" text-anchor="end">EB_MKi67_2</text>
<text transform="translate(1082.2 1921.1) rotate(-90)" class="DB" font-size="10.3" text-anchor="end">EB</text>
<text transform="translate(1096.5 1921.1) rotate(-90)" class="DB" font-size="10.3" text-anchor="end">MegaK</text>
<text transform="translate(1110.8 1921.1) rotate(-90)" class="DB" font-size="10.3" text-anchor="end">Ery.0</text>
<text transform="translate(1125.2 1921.1) rotate(-90)" class="DB" font-size="10.3" text-anchor="end">Ery.1</text>
<text transform="translate(1139.5 1921.1) rotate(-90)" class="DB" font-size="10.3" text-anchor="end">EB_MKi67_1</text>
<text transform="translate(1153.8 1921.1) rotate(-90)" class="DB" font-size="10.3" text-anchor="end">Ery.2</text>
<text transform="translate(1168.1 1921.1) rotate(-90)" class="DB" font-size="10.3" text-anchor="end">Ery.8</text>
<text transform="translate(1182.5 1921.1) rotate(-90)" class="DB" font-size="10.3" text-anchor="end">Ery.3</text>
<text transform="translate(1196.8 1921.1) rotate(-90)" class="DB" font-size="10.3" text-anchor="end">Ery.4</text>
<text transform="translate(1211.1 1921.1) rotate(-90)" class="DB" font-size="10.3" text-anchor="end">MastC</text>
<text transform="translate(1225.5 1921.1) rotate(-90)" class="DB" font-size="10.3" text-anchor="end">Ery.5</text>
<text transform="translate(1239.8 1921.1) rotate(-90)" class="DB" font-size="10.3" text-anchor="end">Ery.9</text>
<path d="M1050.0 1915.6v3.5M1064.3 1915.6v3.5M1078.7 1915.6v3.5M1093.0 1915.6v3.5M1107.3 1915.6v3.5M1121.7 1915.6v3.5M1136.0 1915.6v3.5M1150.3 1915.6v3.5M1164.6 1915.6v3.5M1179.0 1915.6v3.5M1193.3 1915.6v3.5M1207.6 1915.6v3.5M1222.0 1915.6v3.5M1236.3 1915.6v3.5" stroke="#111" stroke-width="1"/>
<path d="M156.4 1811.2V1854.7" stroke="#111" stroke-width="1.5"/>
<path d="M156.4 1861.5V1890.4" stroke="#111" stroke-width="1.5"/>
<path d="M156.4 1900.2V1914.8" stroke="#111" stroke-width="1.5"/>
<text x="152.4" y="1822.1" class="DB" font-size="10.3" text-anchor="end">High Risk</text>
<text x="152.4" y="1836.6" class="DB" font-size="10.3" text-anchor="end">Del 17p13</text>
<text x="152.4" y="1851.0" class="DB" font-size="10.3" text-anchor="end">Mut TP53</text>
<text x="152.4" y="1872.4" class="DB" font-size="10.3" text-anchor="end">Partial Loss - WT</text>
<text x="152.4" y="1886.7" class="DB" font-size="10.3" text-anchor="end">Complete Loss - WT</text>
<text x="152.4" y="1911.1" class="DB" font-size="10.3" text-anchor="end">Complete - Partial Loss</text>
<path d="M156.4 1818.5h-3.5M156.4 1833.0h-3.5M156.4 1847.4h-3.5M156.4 1868.8h-3.5M156.4 1883.1h-3.5M156.4 1907.5h-3.5" stroke="#111" stroke-width="1"/>
<g stroke="#8C8C8C" stroke-width="0.7"><circle cx="165.0" cy="1818.5" r="4.3" fill="#C7C7C7"/><circle cx="193.7" cy="1818.5" r="4.3" fill="#A6BCD0"/><circle cx="208.1" cy="1818.5" r="4.3" fill="#C7C7C7"/><circle cx="222.4" cy="1818.5" r="4.3" fill="#A6BCD0"/><circle cx="236.8" cy="1818.5" r="4.3" fill="#A6BCD0"/><circle cx="251.1" cy="1818.5" r="4.3" fill="#C7C7C7"/><circle cx="265.5" cy="1818.5" r="4.3" fill="#A6BCD0"/><circle cx="279.9" cy="1818.5" r="4.3" fill="#A6BCD0"/><circle cx="308.6" cy="1818.5" r="4.3" fill="#C7C7C7"/><circle cx="322.9" cy="1818.5" r="4.3" fill="#C7C7C7"/><circle cx="337.3" cy="1818.5" r="4.3" fill="#A6BCD0"/><circle cx="351.6" cy="1818.5" r="4.3" fill="#C7C7C7"/><circle cx="366.0" cy="1818.5" r="4.3" fill="#D2AEA2"/><circle cx="393.7" cy="1818.5" r="4.3" fill="#A6BCD0"/><circle cx="408.1" cy="1818.5" r="4.3" fill="#C7C7C7"/><circle cx="422.4" cy="1818.5" r="4.3" fill="#C7C7C7"/><circle cx="436.8" cy="1818.5" r="4.3" fill="#C7C7C7"/><circle cx="451.1" cy="1818.5" r="4.3" fill="#D2AEA2"/><circle cx="465.5" cy="1818.5" r="4.3" fill="#A6BCD0"/><circle cx="479.8" cy="1818.5" r="4.3" fill="#A6BCD0"/><circle cx="508.5" cy="1818.5" r="4.3" fill="#C7C7C7"/><circle cx="522.9" cy="1818.5" r="4.3" fill="#C7C7C7"/><circle cx="537.2" cy="1818.5" r="4.3" fill="#C7C7C7"/><circle cx="564.7" cy="1818.5" r="4.3" fill="#C7C7C7"/><circle cx="579.1" cy="1818.5" r="4.3" fill="#C7C7C7"/><circle cx="593.4" cy="1818.5" r="4.3" fill="#A6BCD0"/><circle cx="607.8" cy="1818.5" r="4.3" fill="#A6BCD0"/><circle cx="622.1" cy="1818.5" r="4.3" fill="#A6BCD0"/><circle cx="636.5" cy="1818.5" r="4.3" fill="#C7C7C7"/><circle cx="650.8" cy="1818.5" r="4.3" fill="#C7C7C7"/><circle cx="665.2" cy="1818.5" r="4.3" fill="#C7C7C7"/><circle cx="679.6" cy="1818.5" r="4.3" fill="#A6BCD0"/><circle cx="693.9" cy="1818.5" r="4.3" fill="#C7C7C7"/><circle cx="708.3" cy="1818.5" r="4.3" fill="#A6BCD0"/><circle cx="722.6" cy="1818.5" r="4.3" fill="#C7C7C7"/><circle cx="737.0" cy="1818.5" r="4.3" fill="#C7C7C7"/><circle cx="751.3" cy="1818.5" r="4.3" fill="#D2AEA2"/><circle cx="765.7" cy="1818.5" r="4.3" fill="#C7C7C7"/><circle cx="793.8" cy="1818.5" r="4.3" fill="#C7C7C7"/><circle cx="808.1" cy="1818.5" r="4.3" fill="#A6BCD0"/><circle cx="822.3" cy="1818.5" r="4.3" fill="#A6BCD0"/><circle cx="836.6" cy="1818.5" r="4.3" fill="#C7C7C7"/><circle cx="850.8" cy="1818.5" r="4.3" fill="#A6BCD0"/><circle cx="879.3" cy="1818.5" r="4.3" fill="#C7C7C7"/><circle cx="893.6" cy="1818.5" r="4.3" fill="#A6BCD0"/><circle cx="921.7" cy="1818.5" r="4.3" fill="#D2AEA2"/><circle cx="936.0" cy="1818.5" r="4.3" fill="#D2AEA2"/><circle cx="950.4" cy="1818.5" r="4.3" fill="#A6BCD0"/><circle cx="978.5" cy="1818.5" r="4.3" fill="#C7C7C7"/><circle cx="993.0" cy="1818.5" r="4.3" fill="#D2AEA2"/><circle cx="1007.5" cy="1818.5" r="4.3" fill="#C7C7C7"/><circle cx="1022.0" cy="1818.5" r="4.3" fill="#A6BCD0"/><circle cx="1050.0" cy="1818.5" r="4.3" fill="#D2AEA2"/><circle cx="1078.7" cy="1818.5" r="4.3" fill="#A6BCD0"/><circle cx="1107.3" cy="1818.5" r="4.3" fill="#C7C7C7"/><circle cx="1121.7" cy="1818.5" r="4.3" fill="#A6BCD0"/><circle cx="1136.0" cy="1818.5" r="4.3" fill="#A6BCD0"/><circle cx="1150.3" cy="1818.5" r="4.3" fill="#D2AEA2"/><circle cx="1164.6" cy="1818.5" r="4.3" fill="#A6BCD0"/><circle cx="1179.0" cy="1818.5" r="4.3" fill="#C7C7C7"/><circle cx="1193.3" cy="1818.5" r="4.3" fill="#D2AEA2"/><circle cx="1207.6" cy="1818.5" r="4.3" fill="#C7C7C7"/><circle cx="1222.0" cy="1818.5" r="4.3" fill="#C7C7C7"/><circle cx="1236.3" cy="1818.5" r="4.3" fill="#D2AEA2"/><circle cx="165.0" cy="1833.0" r="4.3" fill="#D2AEA2"/><circle cx="179.4" cy="1833.0" r="4.3" fill="#C7C7C7"/><circle cx="193.7" cy="1833.0" r="4.3" fill="#C7C7C7"/><circle cx="208.1" cy="1833.0" r="4.3" fill="#D2AEA2"/><circle cx="222.4" cy="1833.0" r="4.3" fill="#D2AEA2"/><circle cx="236.8" cy="1833.0" r="4.3" fill="#C7C7C7"/><circle cx="251.1" cy="1833.0" r="4.3" fill="#C7C7C7"/><circle cx="265.5" cy="1833.0" r="4.3" fill="#A6BCD0"/><circle cx="279.9" cy="1833.0" r="4.3" fill="#D2AEA2"/><circle cx="294.2" cy="1833.0" r="4.3" fill="#C7C7C7"/><circle cx="308.6" cy="1833.0" r="4.3" fill="#C7C7C7"/><circle cx="322.9" cy="1833.0" r="4.3" fill="#A6BCD0"/><circle cx="337.3" cy="1833.0" r="4.3" fill="#C7C7C7"/><circle cx="351.6" cy="1833.0" r="4.3" fill="#C7C7C7"/><circle cx="366.0" cy="1833.0" r="4.3" fill="#C7C7C7"/><circle cx="393.7" cy="1833.0" r="4.3" fill="#C7C7C7"/><circle cx="422.4" cy="1833.0" r="4.3" fill="#C7C7C7"/><circle cx="436.8" cy="1833.0" r="4.3" fill="#C7C7C7"/><circle cx="451.1" cy="1833.0" r="4.3" fill="#C7C7C7"/><circle cx="465.5" cy="1833.0" r="4.3" fill="#C7C7C7"/><circle cx="479.8" cy="1833.0" r="4.3" fill="#C7C7C7"/><circle cx="494.2" cy="1833.0" r="4.3" fill="#C7C7C7"/><circle cx="508.5" cy="1833.0" r="4.3" fill="#C7C7C7"/><circle cx="522.9" cy="1833.0" r="4.3" fill="#C7C7C7"/><circle cx="537.2" cy="1833.0" r="4.3" fill="#A6BCD0"/><circle cx="564.7" cy="1833.0" r="4.3" fill="#C7C7C7"/><circle cx="579.1" cy="1833.0" r="4.3" fill="#C7C7C7"/><circle cx="593.4" cy="1833.0" r="4.3" fill="#C7C7C7"/><circle cx="607.8" cy="1833.0" r="4.3" fill="#C7C7C7"/><circle cx="622.1" cy="1833.0" r="4.3" fill="#A6BCD0"/><circle cx="636.5" cy="1833.0" r="4.3" fill="#C7C7C7"/><circle cx="650.8" cy="1833.0" r="4.3" fill="#C7C7C7"/><circle cx="665.2" cy="1833.0" r="4.3" fill="#D2AEA2"/><circle cx="679.6" cy="1833.0" r="4.3" fill="#D2AEA2"/><circle cx="693.9" cy="1833.0" r="4.3" fill="#C7C7C7"/><circle cx="708.3" cy="1833.0" r="4.3" fill="#D2AEA2"/><circle cx="722.6" cy="1833.0" r="4.3" fill="#A6BCD0"/><circle cx="737.0" cy="1833.0" r="4.3" fill="#C7C7C7"/><circle cx="751.3" cy="1833.0" r="4.3" fill="#C7C7C7"/><circle cx="765.7" cy="1833.0" r="4.3" fill="#C7C7C7"/><circle cx="793.8" cy="1833.0" r="4.3" fill="#D2AEA2"/><circle cx="808.1" cy="1833.0" r="4.3" fill="#C7C7C7"/><circle cx="822.3" cy="1833.0" r="4.3" fill="#D2AEA2"/><circle cx="836.6" cy="1833.0" r="4.3" fill="#D2AEA2"/><circle cx="850.8" cy="1833.0" r="4.3" fill="#D2AEA2"/><circle cx="865.1" cy="1833.0" r="4.3" fill="#C7C7C7"/><circle cx="879.3" cy="1833.0" r="4.3" fill="#C7C7C7"/><circle cx="893.6" cy="1833.0" r="4.3" fill="#C7C7C7"/><circle cx="921.7" cy="1833.0" r="4.3" fill="#C7C7C7"/><circle cx="950.4" cy="1833.0" r="4.3" fill="#A6BCD0"/><circle cx="978.5" cy="1833.0" r="4.3" fill="#A6BCD0"/><circle cx="993.0" cy="1833.0" r="4.3" fill="#D2AEA2"/><circle cx="1022.0" cy="1833.0" r="4.3" fill="#A6BCD0"/><circle cx="1050.0" cy="1833.0" r="4.3" fill="#D2AEA2"/><circle cx="1064.3" cy="1833.0" r="4.3" fill="#A6BCD0"/><circle cx="1078.7" cy="1833.0" r="4.3" fill="#C7C7C7"/><circle cx="1093.0" cy="1833.0" r="4.3" fill="#D2AEA2"/><circle cx="1107.3" cy="1833.0" r="4.3" fill="#C7C7C7"/><circle cx="1136.0" cy="1833.0" r="4.3" fill="#A6BCD0"/><circle cx="1150.3" cy="1833.0" r="4.3" fill="#A6BCD0"/><circle cx="1164.6" cy="1833.0" r="4.3" fill="#D2AEA2"/><circle cx="1193.3" cy="1833.0" r="4.3" fill="#C7C7C7"/><circle cx="1207.6" cy="1833.0" r="4.3" fill="#C7C7C7"/><circle cx="1222.0" cy="1833.0" r="4.3" fill="#D2AEA2"/><circle cx="1236.3" cy="1833.0" r="4.3" fill="#C7C7C7"/><circle cx="165.0" cy="1847.4" r="4.3" fill="#C7C7C7"/><circle cx="179.4" cy="1847.4" r="4.3" fill="#A6BCD0"/><circle cx="193.7" cy="1847.4" r="4.3" fill="#C7C7C7"/><circle cx="208.1" cy="1847.4" r="4.3" fill="#D2AEA2"/><circle cx="222.4" cy="1847.4" r="4.3" fill="#D2AEA2"/><circle cx="236.8" cy="1847.4" r="4.3" fill="#C7C7C7"/><circle cx="251.1" cy="1847.4" r="4.3" fill="#C7C7C7"/><circle cx="265.5" cy="1847.4" r="4.3" fill="#D2AEA2"/><circle cx="279.9" cy="1847.4" r="4.3" fill="#C7C7C7"/><circle cx="294.2" cy="1847.4" r="4.3" fill="#C7C7C7"/><circle cx="308.6" cy="1847.4" r="4.3" fill="#C7C7C7"/><circle cx="322.9" cy="1847.4" r="4.3" fill="#C7C7C7"/><circle cx="337.3" cy="1847.4" r="4.3" fill="#A6BCD0"/><circle cx="351.6" cy="1847.4" r="4.3" fill="#C7C7C7"/><circle cx="366.0" cy="1847.4" r="4.3" fill="#A6BCD0"/><circle cx="422.4" cy="1847.4" r="4.3" fill="#D2AEA2"/><circle cx="436.8" cy="1847.4" r="4.3" fill="#C7C7C7"/><circle cx="451.1" cy="1847.4" r="4.3" fill="#D2AEA2"/><circle cx="465.5" cy="1847.4" r="4.3" fill="#C7C7C7"/><circle cx="479.8" cy="1847.4" r="4.3" fill="#A6BCD0"/><circle cx="494.2" cy="1847.4" r="4.3" fill="#A6BCD0"/><circle cx="508.5" cy="1847.4" r="4.3" fill="#D2AEA2"/><circle cx="522.9" cy="1847.4" r="4.3" fill="#C7C7C7"/><circle cx="537.2" cy="1847.4" r="4.3" fill="#C7C7C7"/><circle cx="564.7" cy="1847.4" r="4.3" fill="#A6BCD0"/><circle cx="579.1" cy="1847.4" r="4.3" fill="#A6BCD0"/><circle cx="593.4" cy="1847.4" r="4.3" fill="#C7C7C7"/><circle cx="607.8" cy="1847.4" r="4.3" fill="#C7C7C7"/><circle cx="622.1" cy="1847.4" r="4.3" fill="#D2AEA2"/><circle cx="636.5" cy="1847.4" r="4.3" fill="#D2AEA2"/><circle cx="650.8" cy="1847.4" r="4.3" fill="#A6BCD0"/><circle cx="679.6" cy="1847.4" r="4.3" fill="#D2AEA2"/><circle cx="693.9" cy="1847.4" r="4.3" fill="#A6BCD0"/><circle cx="708.3" cy="1847.4" r="4.3" fill="#C7C7C7"/><circle cx="722.6" cy="1847.4" r="4.3" fill="#A6BCD0"/><circle cx="737.0" cy="1847.4" r="4.3" fill="#C7C7C7"/><circle cx="751.3" cy="1847.4" r="4.3" fill="#A6BCD0"/><circle cx="765.7" cy="1847.4" r="4.3" fill="#A6BCD0"/><circle cx="793.8" cy="1847.4" r="4.3" fill="#C7C7C7"/><circle cx="808.1" cy="1847.4" r="4.3" fill="#C7C7C7"/><circle cx="822.3" cy="1847.4" r="4.3" fill="#C7C7C7"/><circle cx="836.6" cy="1847.4" r="4.3" fill="#C7C7C7"/><circle cx="850.8" cy="1847.4" r="4.3" fill="#D2AEA2"/><circle cx="865.1" cy="1847.4" r="4.3" fill="#C7C7C7"/><circle cx="879.3" cy="1847.4" r="4.3" fill="#D2AEA2"/><circle cx="893.6" cy="1847.4" r="4.3" fill="#C7C7C7"/><circle cx="921.7" cy="1847.4" r="4.3" fill="#C7C7C7"/><circle cx="936.0" cy="1847.4" r="4.3" fill="#C7C7C7"/><circle cx="950.4" cy="1847.4" r="4.3" fill="#C7C7C7"/><circle cx="978.5" cy="1847.4" r="4.3" fill="#D2AEA2"/><circle cx="993.0" cy="1847.4" r="4.3" fill="#C7C7C7"/><circle cx="1022.0" cy="1847.4" r="4.3" fill="#C7C7C7"/><circle cx="1050.0" cy="1847.4" r="4.3" fill="#C7C7C7"/><circle cx="1064.3" cy="1847.4" r="4.3" fill="#C7C7C7"/><circle cx="1078.7" cy="1847.4" r="4.3" fill="#A6BCD0"/><circle cx="1093.0" cy="1847.4" r="4.3" fill="#C7C7C7"/><circle cx="1107.3" cy="1847.4" r="4.3" fill="#C7C7C7"/><circle cx="1121.7" cy="1847.4" r="4.3" fill="#A6BCD0"/><circle cx="1136.0" cy="1847.4" r="4.3" fill="#C7C7C7"/><circle cx="1150.3" cy="1847.4" r="4.3" fill="#C7C7C7"/><circle cx="1164.6" cy="1847.4" r="4.3" fill="#A6BCD0"/><circle cx="1179.0" cy="1847.4" r="4.3" fill="#D2AEA2"/><circle cx="1207.6" cy="1847.4" r="4.3" fill="#C7C7C7"/><circle cx="1222.0" cy="1847.4" r="4.3" fill="#C7C7C7"/><circle cx="1236.3" cy="1847.4" r="4.3" fill="#D2AEA2"/><circle cx="165.0" cy="1868.8" r="4.3" fill="#D2AEA2"/><circle cx="179.4" cy="1868.8" r="4.3" fill="#D2AEA2"/><circle cx="193.7" cy="1868.8" r="4.3" fill="#C7C7C7"/><circle cx="208.1" cy="1868.8" r="4.3" fill="#D2AEA2"/><circle cx="222.4" cy="1868.8" r="4.3" fill="#C7C7C7"/><circle cx="236.8" cy="1868.8" r="4.3" fill="#C7C7C7"/><circle cx="251.1" cy="1868.8" r="4.3" fill="#D2AEA2"/><circle cx="265.5" cy="1868.8" r="4.3" fill="#C7C7C7"/><circle cx="279.9" cy="1868.8" r="4.3" fill="#C7C7C7"/><circle cx="294.2" cy="1868.8" r="4.3" fill="#C7C7C7"/><circle cx="308.6" cy="1868.8" r="4.3" fill="#C7C7C7"/><circle cx="322.9" cy="1868.8" r="4.3" fill="#D2AEA2"/><circle cx="337.3" cy="1868.8" r="4.3" fill="#D2AEA2"/><circle cx="351.6" cy="1868.8" r="4.3" fill="#C7C7C7"/><circle cx="366.0" cy="1868.8" r="4.3" fill="#C7C7C7"/><circle cx="393.7" cy="1868.8" r="4.3" fill="#D2AEA2"/><circle cx="408.1" cy="1868.8" r="4.3" fill="#A6BCD0"/><circle cx="422.4" cy="1868.8" r="4.3" fill="#D2AEA2"/><circle cx="436.8" cy="1868.8" r="4.3" fill="#A6BCD0"/><circle cx="451.1" cy="1868.8" r="4.3" fill="#D2AEA2"/><circle cx="465.5" cy="1868.8" r="4.3" fill="#D2AEA2"/><circle cx="479.8" cy="1868.8" r="4.3" fill="#A6BCD0"/><circle cx="494.2" cy="1868.8" r="4.3" fill="#C7C7C7"/><circle cx="508.5" cy="1868.8" r="4.3" fill="#C7C7C7"/><circle cx="522.9" cy="1868.8" r="4.3" fill="#D2AEA2"/><circle cx="537.2" cy="1868.8" r="4.3" fill="#D2AEA2"/><circle cx="564.7" cy="1868.8" r="4.3" fill="#D2AEA2"/><circle cx="579.1" cy="1868.8" r="4.3" fill="#C7C7C7"/><circle cx="593.4" cy="1868.8" r="4.3" fill="#A6BCD0"/><circle cx="607.8" cy="1868.8" r="4.3" fill="#D2AEA2"/><circle cx="622.1" cy="1868.8" r="4.3" fill="#C7C7C7"/><circle cx="636.5" cy="1868.8" r="4.3" fill="#C7C7C7"/><circle cx="650.8" cy="1868.8" r="4.3" fill="#C7C7C7"/><circle cx="665.2" cy="1868.8" r="4.3" fill="#C7C7C7"/><circle cx="679.6" cy="1868.8" r="4.3" fill="#A6BCD0"/><circle cx="693.9" cy="1868.8" r="4.3" fill="#D2AEA2"/><circle cx="708.3" cy="1868.8" r="4.3" fill="#D2AEA2"/><circle cx="722.6" cy="1868.8" r="4.3" fill="#A6BCD0"/><circle cx="737.0" cy="1868.8" r="4.3" fill="#D2AEA2"/><circle cx="751.3" cy="1868.8" r="4.3" fill="#D2AEA2"/><circle cx="765.7" cy="1868.8" r="4.3" fill="#C7C7C7"/><circle cx="793.8" cy="1868.8" r="4.3" fill="#D2AEA2"/><circle cx="808.1" cy="1868.8" r="4.3" fill="#A6BCD0"/><circle cx="822.3" cy="1868.8" r="4.3" fill="#C7C7C7"/><circle cx="836.6" cy="1868.8" r="4.3" fill="#A6BCD0"/><circle cx="850.8" cy="1868.8" r="4.3" fill="#C7C7C7"/><circle cx="865.1" cy="1868.8" r="4.3" fill="#C7C7C7"/><circle cx="893.6" cy="1868.8" r="4.3" fill="#D2AEA2"/><circle cx="921.7" cy="1868.8" r="4.3" fill="#C7C7C7"/><circle cx="936.0" cy="1868.8" r="4.3" fill="#C7C7C7"/><circle cx="950.4" cy="1868.8" r="4.3" fill="#C7C7C7"/><circle cx="978.5" cy="1868.8" r="4.3" fill="#C7C7C7"/><circle cx="993.0" cy="1868.8" r="4.3" fill="#C7C7C7"/><circle cx="1007.5" cy="1868.8" r="4.3" fill="#C7C7C7"/><circle cx="1022.0" cy="1868.8" r="4.3" fill="#C7C7C7"/><circle cx="1050.0" cy="1868.8" r="4.3" fill="#C7C7C7"/><circle cx="1064.3" cy="1868.8" r="4.3" fill="#C7C7C7"/><circle cx="1078.7" cy="1868.8" r="4.3" fill="#A6BCD0"/><circle cx="1093.0" cy="1868.8" r="4.3" fill="#C7C7C7"/><circle cx="1107.3" cy="1868.8" r="4.3" fill="#D2AEA2"/><circle cx="1121.7" cy="1868.8" r="4.3" fill="#C7C7C7"/><circle cx="1136.0" cy="1868.8" r="4.3" fill="#C7C7C7"/><circle cx="1150.3" cy="1868.8" r="4.3" fill="#C7C7C7"/><circle cx="1164.6" cy="1868.8" r="4.3" fill="#D2AEA2"/><circle cx="1179.0" cy="1868.8" r="4.3" fill="#D2AEA2"/><circle cx="1193.3" cy="1868.8" r="4.3" fill="#A6BCD0"/><circle cx="1207.6" cy="1868.8" r="4.3" fill="#C7C7C7"/><circle cx="1222.0" cy="1868.8" r="4.3" fill="#C7C7C7"/><circle cx="1236.3" cy="1868.8" r="4.3" fill="#D2AEA2"/><circle cx="165.0" cy="1883.1" r="4.3" fill="#C7C7C7"/><circle cx="179.4" cy="1883.1" r="4.3" fill="#A6BCD0"/><circle cx="193.7" cy="1883.1" r="4.3" fill="#A6BCD0"/><circle cx="208.1" cy="1883.1" r="4.3" fill="#C7C7C7"/><circle cx="222.4" cy="1883.1" r="4.3" fill="#C7C7C7"/><circle cx="236.8" cy="1883.1" r="4.3" fill="#D2AEA2"/><circle cx="251.1" cy="1883.1" r="4.3" fill="#C7C7C7"/><circle cx="265.5" cy="1883.1" r="4.3" fill="#D2AEA2"/><circle cx="279.9" cy="1883.1" r="4.3" fill="#C7C7C7"/><circle cx="294.2" cy="1883.1" r="4.3" fill="#C7C7C7"/><circle cx="308.6" cy="1883.1" r="4.3" fill="#C7C7C7"/><circle cx="322.9" cy="1883.1" r="4.3" fill="#C7C7C7"/><circle cx="337.3" cy="1883.1" r="4.3" fill="#A6BCD0"/><circle cx="351.6" cy="1883.1" r="4.3" fill="#A6BCD0"/><circle cx="366.0" cy="1883.1" r="4.3" fill="#C7C7C7"/><circle cx="422.4" cy="1883.1" r="4.3" fill="#C7C7C7"/><circle cx="436.8" cy="1883.1" r="4.3" fill="#C7C7C7"/><circle cx="451.1" cy="1883.1" r="4.3" fill="#D2AEA2"/><circle cx="465.5" cy="1883.1" r="4.3" fill="#D2AEA2"/><circle cx="479.8" cy="1883.1" r="4.3" fill="#D2AEA2"/><circle cx="494.2" cy="1883.1" r="4.3" fill="#A6BCD0"/><circle cx="508.5" cy="1883.1" r="4.3" fill="#C7C7C7"/><circle cx="522.9" cy="1883.1" r="4.3" fill="#A6BCD0"/><circle cx="537.2" cy="1883.1" r="4.3" fill="#C7C7C7"/><circle cx="564.7" cy="1883.1" r="4.3" fill="#C7C7C7"/><circle cx="579.1" cy="1883.1" r="4.3" fill="#C7C7C7"/><circle cx="593.4" cy="1883.1" r="4.3" fill="#A6BCD0"/><circle cx="607.8" cy="1883.1" r="4.3" fill="#D2AEA2"/><circle cx="622.1" cy="1883.1" r="4.3" fill="#C7C7C7"/><circle cx="636.5" cy="1883.1" r="4.3" fill="#C7C7C7"/><circle cx="650.8" cy="1883.1" r="4.3" fill="#C7C7C7"/><circle cx="679.6" cy="1883.1" r="4.3" fill="#C7C7C7"/><circle cx="693.9" cy="1883.1" r="4.3" fill="#C7C7C7"/><circle cx="708.3" cy="1883.1" r="4.3" fill="#C7C7C7"/><circle cx="722.6" cy="1883.1" r="4.3" fill="#A6BCD0"/><circle cx="737.0" cy="1883.1" r="4.3" fill="#C7C7C7"/><circle cx="751.3" cy="1883.1" r="4.3" fill="#D2AEA2"/><circle cx="765.7" cy="1883.1" r="4.3" fill="#C7C7C7"/><circle cx="822.3" cy="1883.1" r="4.3" fill="#A6BCD0"/><circle cx="836.6" cy="1883.1" r="4.3" fill="#D2AEA2"/><circle cx="850.8" cy="1883.1" r="4.3" fill="#C7C7C7"/><circle cx="865.1" cy="1883.1" r="4.3" fill="#C7C7C7"/><circle cx="879.3" cy="1883.1" r="4.3" fill="#D2AEA2"/><circle cx="893.6" cy="1883.1" r="4.3" fill="#C7C7C7"/><circle cx="921.7" cy="1883.1" r="4.3" fill="#C7C7C7"/><circle cx="950.4" cy="1883.1" r="4.3" fill="#C7C7C7"/><circle cx="978.5" cy="1883.1" r="4.3" fill="#D2AEA2"/><circle cx="993.0" cy="1883.1" r="4.3" fill="#C7C7C7"/><circle cx="1022.0" cy="1883.1" r="4.3" fill="#D2AEA2"/><circle cx="1050.0" cy="1883.1" r="4.3" fill="#A6BCD0"/><circle cx="1064.3" cy="1883.1" r="4.3" fill="#C7C7C7"/><circle cx="1078.7" cy="1883.1" r="4.3" fill="#D2AEA2"/><circle cx="1093.0" cy="1883.1" r="4.3" fill="#D2AEA2"/><circle cx="1107.3" cy="1883.1" r="4.3" fill="#A6BCD0"/><circle cx="1121.7" cy="1883.1" r="4.3" fill="#A6BCD0"/><circle cx="1136.0" cy="1883.1" r="4.3" fill="#A6BCD0"/><circle cx="1150.3" cy="1883.1" r="4.3" fill="#D2AEA2"/><circle cx="1164.6" cy="1883.1" r="4.3" fill="#C7C7C7"/><circle cx="1179.0" cy="1883.1" r="4.3" fill="#C7C7C7"/><circle cx="1193.3" cy="1883.1" r="4.3" fill="#A6BCD0"/><circle cx="1207.6" cy="1883.1" r="4.3" fill="#C7C7C7"/><circle cx="1222.0" cy="1883.1" r="4.3" fill="#D2AEA2"/><circle cx="1236.3" cy="1883.1" r="4.3" fill="#D2AEA2"/><circle cx="165.0" cy="1907.5" r="4.3" fill="#C7C7C7"/><circle cx="179.4" cy="1907.5" r="4.3" fill="#C7C7C7"/><circle cx="193.7" cy="1907.5" r="4.3" fill="#A6BCD0"/><circle cx="208.1" cy="1907.5" r="4.3" fill="#A6BCD0"/><circle cx="222.4" cy="1907.5" r="4.3" fill="#A6BCD0"/><circle cx="236.8" cy="1907.5" r="4.3" fill="#A6BCD0"/><circle cx="251.1" cy="1907.5" r="4.3" fill="#C7C7C7"/><circle cx="265.5" cy="1907.5" r="4.3" fill="#D2AEA2"/><circle cx="279.9" cy="1907.5" r="4.3" fill="#A6BCD0"/><circle cx="294.2" cy="1907.5" r="4.3" fill="#C7C7C7"/><circle cx="308.6" cy="1907.5" r="4.3" fill="#D2AEA2"/><circle cx="322.9" cy="1907.5" r="4.3" fill="#C7C7C7"/><circle cx="337.3" cy="1907.5" r="4.3" fill="#D2AEA2"/><circle cx="351.6" cy="1907.5" r="4.3" fill="#D2AEA2"/><circle cx="408.1" cy="1907.5" r="4.3" fill="#C7C7C7"/><circle cx="422.4" cy="1907.5" r="4.3" fill="#C7C7C7"/><circle cx="436.8" cy="1907.5" r="4.3" fill="#A6BCD0"/><circle cx="451.1" cy="1907.5" r="4.3" fill="#C7C7C7"/><circle cx="465.5" cy="1907.5" r="4.3" fill="#C7C7C7"/><circle cx="479.8" cy="1907.5" r="4.3" fill="#A6BCD0"/><circle cx="494.2" cy="1907.5" r="4.3" fill="#C7C7C7"/><circle cx="508.5" cy="1907.5" r="4.3" fill="#C7C7C7"/><circle cx="522.9" cy="1907.5" r="4.3" fill="#A6BCD0"/><circle cx="537.2" cy="1907.5" r="4.3" fill="#D2AEA2"/><circle cx="579.1" cy="1907.5" r="4.3" fill="#D2AEA2"/><circle cx="593.4" cy="1907.5" r="4.3" fill="#C7C7C7"/><circle cx="607.8" cy="1907.5" r="4.3" fill="#A6BCD0"/><circle cx="622.1" cy="1907.5" r="4.3" fill="#C7C7C7"/><circle cx="636.5" cy="1907.5" r="4.3" fill="#D2AEA2"/><circle cx="650.8" cy="1907.5" r="4.3" fill="#C7C7C7"/><circle cx="679.6" cy="1907.5" r="4.3" fill="#C7C7C7"/><circle cx="693.9" cy="1907.5" r="4.3" fill="#C7C7C7"/><circle cx="708.3" cy="1907.5" r="4.3" fill="#C7C7C7"/><circle cx="722.6" cy="1907.5" r="4.3" fill="#C7C7C7"/><circle cx="737.0" cy="1907.5" r="4.3" fill="#A6BCD0"/><circle cx="751.3" cy="1907.5" r="4.3" fill="#C7C7C7"/><circle cx="765.7" cy="1907.5" r="4.3" fill="#A6BCD0"/><circle cx="822.3" cy="1907.5" r="4.3" fill="#C7C7C7"/><circle cx="836.6" cy="1907.5" r="4.3" fill="#C7C7C7"/><circle cx="850.8" cy="1907.5" r="4.3" fill="#A6BCD0"/><circle cx="865.1" cy="1907.5" r="4.3" fill="#C7C7C7"/><circle cx="879.3" cy="1907.5" r="4.3" fill="#C7C7C7"/><circle cx="893.6" cy="1907.5" r="4.3" fill="#D2AEA2"/><circle cx="921.7" cy="1907.5" r="4.3" fill="#C7C7C7"/><circle cx="936.0" cy="1907.5" r="4.3" fill="#C7C7C7"/><circle cx="950.4" cy="1907.5" r="4.3" fill="#A6BCD0"/><circle cx="978.5" cy="1907.5" r="4.3" fill="#A6BCD0"/><circle cx="993.0" cy="1907.5" r="4.3" fill="#D2AEA2"/><circle cx="1022.0" cy="1907.5" r="4.3" fill="#A6BCD0"/><circle cx="1064.3" cy="1907.5" r="4.3" fill="#D2AEA2"/><circle cx="1078.7" cy="1907.5" r="4.3" fill="#D2AEA2"/><circle cx="1093.0" cy="1907.5" r="4.3" fill="#D2AEA2"/><circle cx="1107.3" cy="1907.5" r="4.3" fill="#D2AEA2"/><circle cx="1121.7" cy="1907.5" r="4.3" fill="#A6BCD0"/><circle cx="1136.0" cy="1907.5" r="4.3" fill="#A6BCD0"/><circle cx="1150.3" cy="1907.5" r="4.3" fill="#C7C7C7"/><circle cx="1164.6" cy="1907.5" r="4.3" fill="#C7C7C7"/><circle cx="1179.0" cy="1907.5" r="4.3" fill="#D2AEA2"/><circle cx="1193.3" cy="1907.5" r="4.3" fill="#C7C7C7"/><circle cx="1207.6" cy="1907.5" r="4.3" fill="#C7C7C7"/><circle cx="1222.0" cy="1907.5" r="4.3" fill="#C7C7C7"/><circle cx="1236.3" cy="1907.5" r="4.3" fill="#A6BCD0"/><rect x="173.6" y="1812.7" width="11.6" height="11.6" fill="#7FA8C8"/><path d="M294.2 1811.5l7 7l-7 7l-7 -7z" fill="#D4A090"/><path d="M494.2 1811.5l7 7l-7 7l-7 -7z" fill="#A8B8C8"/><rect x="859.3" y="1812.7" width="11.6" height="11.6" fill="#9AB4CC"/><rect x="1058.5" y="1812.7" width="11.6" height="11.6" fill="#C0C4C8"/><path d="M1093.0 1811.5l7 7l-7 7l-7 -7z" fill="#C8B4AC"/><rect x="402.2" y="1827.2" width="11.6" height="11.6" fill="#D99A80"/><path d="M936.0 1826.0l7 7l-7 7l-7 -7z" fill="#D9906C"/><path d="M1007.5 1826.0l7 7l-7 7l-7 -7z" fill="#D4A898"/><rect x="1115.9" y="1827.2" width="11.6" height="11.6" fill="#A8BCCC"/><path d="M1179.0 1826.0l7 7l-7 7l-7 -7z" fill="#A8B8C8"/><path d="M393.7 1840.4l7 7l-7 7l-7 -7z" fill="#D96A40"/><path d="M408.1 1840.4l7 7l-7 7l-7 -7z" fill="#D98C70"/><path d="M665.2 1840.4l7 7l-7 7l-7 -7z" fill="#D4A090"/><rect x="1001.7" y="1841.6" width="11.6" height="11.6" fill="#D9987C"/><path d="M1193.3 1840.4l7 7l-7 7l-7 -7z" fill="#A8B8C8"/><path d="M879.3 1861.8l7 7l-7 7l-7 -7z" fill="#4A90C0"/><rect x="387.9" y="1877.3" width="11.6" height="11.6" fill="#D9622E"/><rect x="402.2" y="1877.3" width="11.6" height="11.6" fill="#D98A6A"/><rect x="659.4" y="1877.3" width="11.6" height="11.6" fill="#D98C6C"/><rect x="788.0" y="1877.3" width="11.6" height="11.6" fill="#D4B4A8"/><path d="M808.1 1876.1l7 7l-7 7l-7 -7z" fill="#D98C70"/><path d="M936.0 1876.1l7 7l-7 7l-7 -7z" fill="#D9703C"/><rect x="1001.7" y="1877.3" width="11.6" height="11.6" fill="#D98060"/><path d="M366.0 1900.5l7 7l-7 7l-7 -7z" fill="#4A90C0"/><path d="M393.7 1900.5l7 7l-7 7l-7 -7z" fill="#D9622E"/><path d="M564.7 1900.5l7 7l-7 7l-7 -7z" fill="#D4A090"/><rect x="659.4" y="1901.7" width="11.6" height="11.6" fill="#D98C6C"/><rect x="788.0" y="1901.7" width="11.6" height="11.6" fill="#D4B4A8"/><rect x="802.3" y="1901.7" width="11.6" height="11.6" fill="#D9703C"/><rect x="1001.7" y="1901.7" width="11.6" height="11.6" fill="#D9703C"/><path d="M1050.0 1900.5l7 7l-7 7l-7 -7z" fill="#D4A090"/></g>
<g fill="#fff" stroke="#BDBDBD" stroke-width="0.8"><circle cx="1267.4" cy="1805.7" r="4"/><path d="M1267.4 1812.6l6.5 6.5l-6.5 6.5l-6.5 -6.5z"/><rect x="1261.6" y="1828.1" width="11.6" height="11.6"/></g>
<text x="1281.5" y="1808.9" class="DB" font-size="8.3">NS</text>
<text x="1281.5" y="1822.8" class="DB" font-size="8.3">Significant (p&lt;0.05)</text>
<text x="1281.5" y="1836.7" class="DB" font-size="8.3">Significant (p&lt;0.01)</text>
<rect x="1258.5" y="1859.6" width="18.3" height="65.5" fill="url(#glr)"/>
<text x="1281.5" y="1865.3" class="DB" font-size="8.3">0.3</text>
<text x="1281.5" y="1875.6" class="DB" font-size="8.3">0.2</text>
<text x="1281.5" y="1885.9" class="DB" font-size="8.3">0.1</text>
<text x="1281.5" y="1896.2" class="DB" font-size="8.3">0.0</text>
<text x="1281.5" y="1906.5" class="DB" font-size="8.3">-0.1</text>
<text x="1281.5" y="1916.8" class="DB" font-size="8.3">-0.2</text>
<text x="1281.5" y="1927.1" class="DB" font-size="8.3">-0.3</text>
<text transform="translate(1315 1857.2) rotate(90)" class="DB" font-size="12.9">Log-Odds</text>
<text transform="translate(1299.7 1857.2) rotate(90)" class="DB" font-size="12.9">Ratio</text>
<path d="M129.5 2189.3H352.8" stroke="#111" stroke-width="1.5"/>
<text x="241.2" y="2118.8" class="DB" font-size="12.5" text-anchor="middle">CD8+ T Cell</text>
<text transform="translate(141.8 2194.8) rotate(-90)" class="DB" font-size="10.3" text-anchor="end">CD8_Teff_c</text>
<text transform="translate(156.5 2194.8) rotate(-90)" class="DB" font-size="10.3" text-anchor="end">CD8_Tn</text>
<text transform="translate(171.2 2194.8) rotate(-90)" class="DB" font-size="10.3" text-anchor="end">CD8_Tem_IFN</text>
<text transform="translate(185.9 2194.8) rotate(-90)" class="DB" font-size="10.3" text-anchor="end">CD8_Teff_b</text>
<text transform="translate(200.6 2194.8) rotate(-90)" class="DB" font-size="10.3" text-anchor="end">CD8_Tcm_GZMK</text>
<text transform="translate(215.3 2194.8) rotate(-90)" class="DB" font-size="10.3" text-anchor="end">MAIT</text>
<text transform="translate(230.0 2194.8) rotate(-90)" class="DB" font-size="10.3" text-anchor="end">CD8_Tcm</text>
<text transform="translate(244.7 2194.8) rotate(-90)" class="DB" font-size="10.3" text-anchor="end">CD8_T_adp_b</text>
<text transform="translate(259.3 2194.8) rotate(-90)" class="DB" font-size="10.3" text-anchor="end">CD8_T_Apoptotic</text>
<text transform="translate(274.0 2194.8) rotate(-90)" class="DB" font-size="10.3" text-anchor="end">CD8_Teff_HLA</text>
<text transform="translate(288.7 2194.8) rotate(-90)" class="DB" font-size="10.3" text-anchor="end">CD8_Teff</text>
<text transform="translate(303.4 2194.8) rotate(-90)" class="DB" font-size="10.3" text-anchor="end">CD8_Tem</text>
<text transform="translate(318.1 2194.8) rotate(-90)" class="DB" font-size="10.3" text-anchor="end">CD8_Teff_TNF</text>
<text transform="translate(332.8 2194.8) rotate(-90)" class="DB" font-size="10.3" text-anchor="end">CD8_Tem_NFKB</text>
<text transform="translate(347.5 2194.8) rotate(-90)" class="DB" font-size="10.3" text-anchor="end">CD8_T_adp</text>
<path d="M138.3 2189.3v3.5M153.0 2189.3v3.5M167.7 2189.3v3.5M182.4 2189.3v3.5M197.1 2189.3v3.5M211.8 2189.3v3.5M226.5 2189.3v3.5M241.2 2189.3v3.5M255.8 2189.3v3.5M270.5 2189.3v3.5M285.2 2189.3v3.5M299.9 2189.3v3.5M314.6 2189.3v3.5M329.3 2189.3v3.5M344.0 2189.3v3.5" stroke="#111" stroke-width="1"/>
<path d="M363.7 2189.3H528.2" stroke="#111" stroke-width="1.5"/>
<text x="445.9" y="2118.8" class="DB" font-size="12.5" text-anchor="middle">CD4+ T Cell</text>
<text transform="translate(376.0 2194.8) rotate(-90)" class="DB" font-size="10.3" text-anchor="end">CD4_Tcm_IFN</text>
<text transform="translate(390.7 2194.8) rotate(-90)" class="DB" font-size="10.3" text-anchor="end">CD4_Tem_IFN</text>
<text transform="translate(405.4 2194.8) rotate(-90)" class="DB" font-size="10.3" text-anchor="end">CD4_Teff</text>
<text transform="translate(420.1 2194.8) rotate(-90)" class="DB" font-size="10.3" text-anchor="end">CD4_Th_LEF1</text>
<text transform="translate(434.8 2194.8) rotate(-90)" class="DB" font-size="10.3" text-anchor="end">CD4_Th</text>
<text transform="translate(449.4 2194.8) rotate(-90)" class="DB" font-size="10.3" text-anchor="end">CD4_Tcm_KLRB1</text>
<text transform="translate(464.1 2194.8) rotate(-90)" class="DB" font-size="10.3" text-anchor="end">CD4_CTL</text>
<text transform="translate(478.8 2194.8) rotate(-90)" class="DB" font-size="10.3" text-anchor="end">CD4_Teff_TNF</text>
<text transform="translate(493.5 2194.8) rotate(-90)" class="DB" font-size="10.3" text-anchor="end">CD4_Tn</text>
<text transform="translate(508.2 2194.8) rotate(-90)" class="DB" font-size="10.3" text-anchor="end">CD4_Tcm_NFKBIA</text>
<text transform="translate(522.9 2194.8) rotate(-90)" class="DB" font-size="10.3" text-anchor="end">Treg</text>
<path d="M372.5 2189.3v3.5M387.2 2189.3v3.5M401.9 2189.3v3.5M416.6 2189.3v3.5M431.3 2189.3v3.5M445.9 2189.3v3.5M460.6 2189.3v3.5M475.3 2189.3v3.5M490.0 2189.3v3.5M504.7 2189.3v3.5M519.4 2189.3v3.5" stroke="#111" stroke-width="1"/>
<path d="M539.2 2189.3H762.6" stroke="#111" stroke-width="1.5"/>
<text x="650.9" y="2118.8" class="DB" font-size="12.5" text-anchor="middle">Myeloid</text>
<text transform="translate(551.5 2194.8) rotate(-90)" class="DB" font-size="10.3" text-anchor="end">cDC2</text>
<text transform="translate(566.2 2194.8) rotate(-90)" class="DB" font-size="10.3" text-anchor="end">CD14+Mono_IFN</text>
<text transform="translate(580.9 2194.8) rotate(-90)" class="DB" font-size="10.3" text-anchor="end">CD14+Mono_CTSS</text>
<text transform="translate(595.6 2194.8) rotate(-90)" class="DB" font-size="10.3" text-anchor="end">CD14+Mono_S100A</text>
<text transform="translate(610.3 2194.8) rotate(-90)" class="DB" font-size="10.3" text-anchor="end">cDC1</text>
<text transform="translate(625.0 2194.8) rotate(-90)" class="DB" font-size="10.3" text-anchor="end">GMP</text>
<text transform="translate(639.7 2194.8) rotate(-90)" class="DB" font-size="10.3" text-anchor="end">Granulocyte</text>
<text transform="translate(654.4 2194.8) rotate(-90)" class="DB" font-size="10.3" text-anchor="end">Neutrophil_RPS/RPL</text>
<text transform="translate(669.1 2194.8) rotate(-90)" class="DB" font-size="10.3" text-anchor="end">pDCs_b</text>
<text transform="translate(683.8 2194.8) rotate(-90)" class="DB" font-size="10.3" text-anchor="end">Neutrophil_ARG1</text>
<text transform="translate(698.5 2194.8) rotate(-90)" class="DB" font-size="10.3" text-anchor="end">Macro/Mono</text>
<text transform="translate(713.2 2194.8) rotate(-90)" class="DB" font-size="10.3" text-anchor="end">M2_Macro</text>
<text transform="translate(727.9 2194.8) rotate(-90)" class="DB" font-size="10.3" text-anchor="end">CD14+Mono_hypo</text>
<text transform="translate(742.6 2194.8) rotate(-90)" class="DB" font-size="10.3" text-anchor="end">CD14+Mono_pro-inflam</text>
<text transform="translate(757.3 2194.8) rotate(-90)" class="DB" font-size="10.3" text-anchor="end">CD16+Mono</text>
<path d="M548.0 2189.3v3.5M562.7 2189.3v3.5M577.4 2189.3v3.5M592.1 2189.3v3.5M606.8 2189.3v3.5M621.5 2189.3v3.5M636.2 2189.3v3.5M650.9 2189.3v3.5M665.6 2189.3v3.5M680.3 2189.3v3.5M695.0 2189.3v3.5M709.7 2189.3v3.5M724.4 2189.3v3.5M739.1 2189.3v3.5M753.8 2189.3v3.5" stroke="#111" stroke-width="1"/>
<path d="M773.1 2189.3H894.6" stroke="#111" stroke-width="1.5"/>
<text x="833.9" y="2118.8" class="DB" font-size="12.5" text-anchor="middle">B Cell</text>
<text transform="translate(785.5 2194.8) rotate(-90)" class="DB" font-size="10.3" text-anchor="end">B_preLg</text>
<text transform="translate(800.3 2194.8) rotate(-90)" class="DB" font-size="10.3" text-anchor="end">B_preSm</text>
<text transform="translate(815.1 2194.8) rotate(-90)" class="DB" font-size="10.3" text-anchor="end">B_pro</text>
<text transform="translate(829.9 2194.8) rotate(-90)" class="DB" font-size="10.3" text-anchor="end">B_imm</text>
<text transform="translate(844.8 2194.8) rotate(-90)" class="DB" font-size="10.3" text-anchor="end">B_trns</text>
<text transform="translate(859.6 2194.8) rotate(-90)" class="DB" font-size="10.3" text-anchor="end">B_mem</text>
<text transform="translate(874.4 2194.8) rotate(-90)" class="DB" font-size="10.3" text-anchor="end">B_naive</text>
<text transform="translate(889.2 2194.8) rotate(-90)" class="DB" font-size="10.3" text-anchor="end">B_Unswitched_mem</text>
<path d="M782.0 2189.3v3.5M796.8 2189.3v3.5M811.6 2189.3v3.5M826.4 2189.3v3.5M841.3 2189.3v3.5M856.1 2189.3v3.5M870.9 2189.3v3.5M885.7 2189.3v3.5" stroke="#111" stroke-width="1"/>
<path d="M904.9 2189.3H952.4" stroke="#111" stroke-width="1.5"/>
<text x="928.6" y="2118.8" class="DB" font-size="12.5" text-anchor="middle">Other</text>
<text transform="translate(917.3 2194.8) rotate(-90)" class="DB" font-size="10.3" text-anchor="end">pDCs_a</text>
<text transform="translate(932.1 2194.8) rotate(-90)" class="DB" font-size="10.3" text-anchor="end">HSC</text>
<text transform="translate(947.0 2194.8) rotate(-90)" class="DB" font-size="10.3" text-anchor="end">Fibro</text>
<path d="M913.8 2189.3v3.5M928.6 2189.3v3.5M943.5 2189.3v3.5" stroke="#111" stroke-width="1"/>
<path d="M963.2 2189.3H1024.8" stroke="#111" stroke-width="1.5"/>
<text x="994.0" y="2118.8" class="DB" font-size="12.5" text-anchor="middle">Nk Cell</text>
<text transform="translate(975.5 2194.8) rotate(-90)" class="DB" font-size="10.3" text-anchor="end">NK_adp</text>
<text transform="translate(990.2 2194.8) rotate(-90)" class="DB" font-size="10.3" text-anchor="end">NK_resident</text>
<text transform="translate(1004.8 2194.8) rotate(-90)" class="DB" font-size="10.3" text-anchor="end">NK_CD56bright</text>
<text transform="translate(1019.5 2194.8) rotate(-90)" class="DB" font-size="10.3" text-anchor="end">NK_CD56dim</text>
<path d="M972.0 2189.3v3.5M986.7 2189.3v3.5M1001.3 2189.3v3.5M1016.0 2189.3v3.5" stroke="#111" stroke-width="1"/>
<path d="M1035.1 2189.3H1244.7" stroke="#111" stroke-width="1.5"/>
<text x="1139.9" y="2118.8" class="DB" font-size="12.5" text-anchor="middle">Erythroid</text>
<text transform="translate(1047.5 2194.8) rotate(-90)" class="DB" font-size="10.3" text-anchor="end">Ery.6</text>
<text transform="translate(1062.3 2194.8) rotate(-90)" class="DB" font-size="10.3" text-anchor="end">EB_MKi67_2</text>
<text transform="translate(1077.0 2194.8) rotate(-90)" class="DB" font-size="10.3" text-anchor="end">EB</text>
<text transform="translate(1091.8 2194.8) rotate(-90)" class="DB" font-size="10.3" text-anchor="end">MegaK</text>
<text transform="translate(1106.5 2194.8) rotate(-90)" class="DB" font-size="10.3" text-anchor="end">Ery.0</text>
<text transform="translate(1121.3 2194.8) rotate(-90)" class="DB" font-size="10.3" text-anchor="end">Ery.1</text>
<text transform="translate(1136.0 2194.8) rotate(-90)" class="DB" font-size="10.3" text-anchor="end">EB_MKi67_1</text>
<text transform="translate(1150.8 2194.8) rotate(-90)" class="DB" font-size="10.3" text-anchor="end">Ery.2</text>
<text transform="translate(1165.5 2194.8) rotate(-90)" class="DB" font-size="10.3" text-anchor="end">Ery.8</text>
<text transform="translate(1180.3 2194.8) rotate(-90)" class="DB" font-size="10.3" text-anchor="end">Ery.3</text>
<text transform="translate(1195.0 2194.8) rotate(-90)" class="DB" font-size="10.3" text-anchor="end">Ery.4</text>
<text transform="translate(1209.8 2194.8) rotate(-90)" class="DB" font-size="10.3" text-anchor="end">MastC</text>
<text transform="translate(1224.5 2194.8) rotate(-90)" class="DB" font-size="10.3" text-anchor="end">Ery.5</text>
<text transform="translate(1239.3 2194.8) rotate(-90)" class="DB" font-size="10.3" text-anchor="end">Ery.9</text>
<path d="M1044.0 2189.3v3.5M1058.8 2189.3v3.5M1073.5 2189.3v3.5M1088.3 2189.3v3.5M1103.0 2189.3v3.5M1117.8 2189.3v3.5M1132.5 2189.3v3.5M1147.3 2189.3v3.5M1162.0 2189.3v3.5M1176.8 2189.3v3.5M1191.5 2189.3v3.5M1206.3 2189.3v3.5M1221.0 2189.3v3.5M1235.8 2189.3v3.5" stroke="#111" stroke-width="1"/>
<path d="M129.5 2134.3V2148.9" stroke="#111" stroke-width="1.5"/>
<path d="M129.5 2158.9V2188.3" stroke="#111" stroke-width="1.5"/>
<text x="125.5" y="2145.2" class="DB" font-size="10.3" text-anchor="end">High Risk (Davies)</text>
<text x="125.5" y="2169.8" class="DB" font-size="10.3" text-anchor="end">Chromothripsis</text>
<text x="125.5" y="2184.6" class="DB" font-size="10.3" text-anchor="end">APOBEC</text>
<path d="M129.5 2141.6h-3.5M129.5 2166.2h-3.5M129.5 2181.0h-3.5" stroke="#111" stroke-width="1"/>
<g stroke="#8C8C8C" stroke-width="0.7"><circle cx="138.3" cy="2141.6" r="4.3" fill="#D2AEA2"/><circle cx="167.7" cy="2141.6" r="4.3" fill="#C7C7C7"/><circle cx="182.4" cy="2141.6" r="4.3" fill="#A6BCD0"/><circle cx="197.1" cy="2141.6" r="4.3" fill="#A6BCD0"/><circle cx="211.8" cy="2141.6" r="4.3" fill="#C7C7C7"/><circle cx="226.5" cy="2141.6" r="4.3" fill="#C7C7C7"/><circle cx="241.2" cy="2141.6" r="4.3" fill="#A6BCD0"/><circle cx="255.8" cy="2141.6" r="4.3" fill="#C7C7C7"/><circle cx="285.2" cy="2141.6" r="4.3" fill="#C7C7C7"/><circle cx="299.9" cy="2141.6" r="4.3" fill="#D2AEA2"/><circle cx="314.6" cy="2141.6" r="4.3" fill="#D2AEA2"/><circle cx="329.3" cy="2141.6" r="4.3" fill="#C7C7C7"/><circle cx="344.0" cy="2141.6" r="4.3" fill="#C7C7C7"/><circle cx="372.5" cy="2141.6" r="4.3" fill="#C7C7C7"/><circle cx="387.2" cy="2141.6" r="4.3" fill="#D2AEA2"/><circle cx="401.9" cy="2141.6" r="4.3" fill="#C7C7C7"/><circle cx="416.6" cy="2141.6" r="4.3" fill="#C7C7C7"/><circle cx="431.3" cy="2141.6" r="4.3" fill="#C7C7C7"/><circle cx="445.9" cy="2141.6" r="4.3" fill="#C7C7C7"/><circle cx="460.6" cy="2141.6" r="4.3" fill="#C7C7C7"/><circle cx="490.0" cy="2141.6" r="4.3" fill="#C7C7C7"/><circle cx="504.7" cy="2141.6" r="4.3" fill="#C7C7C7"/><circle cx="519.4" cy="2141.6" r="4.3" fill="#A6BCD0"/><circle cx="548.0" cy="2141.6" r="4.3" fill="#A6BCD0"/><circle cx="562.7" cy="2141.6" r="4.3" fill="#C7C7C7"/><circle cx="577.4" cy="2141.6" r="4.3" fill="#D2AEA2"/><circle cx="592.1" cy="2141.6" r="4.3" fill="#A6BCD0"/><circle cx="606.8" cy="2141.6" r="4.3" fill="#D2AEA2"/><circle cx="621.5" cy="2141.6" r="4.3" fill="#C7C7C7"/><circle cx="636.2" cy="2141.6" r="4.3" fill="#C7C7C7"/><circle cx="650.9" cy="2141.6" r="4.3" fill="#A6BCD0"/><circle cx="665.6" cy="2141.6" r="4.3" fill="#D2AEA2"/><circle cx="680.3" cy="2141.6" r="4.3" fill="#A6BCD0"/><circle cx="695.0" cy="2141.6" r="4.3" fill="#C7C7C7"/><circle cx="709.7" cy="2141.6" r="4.3" fill="#C7C7C7"/><circle cx="724.4" cy="2141.6" r="4.3" fill="#C7C7C7"/><circle cx="739.1" cy="2141.6" r="4.3" fill="#C7C7C7"/><circle cx="753.8" cy="2141.6" r="4.3" fill="#D2AEA2"/><circle cx="782.0" cy="2141.6" r="4.3" fill="#D2AEA2"/><circle cx="796.8" cy="2141.6" r="4.3" fill="#D2AEA2"/><circle cx="811.6" cy="2141.6" r="4.3" fill="#C7C7C7"/><circle cx="826.4" cy="2141.6" r="4.3" fill="#A6BCD0"/><circle cx="841.3" cy="2141.6" r="4.3" fill="#C7C7C7"/><circle cx="870.9" cy="2141.6" r="4.3" fill="#C7C7C7"/><circle cx="885.7" cy="2141.6" r="4.3" fill="#C7C7C7"/><circle cx="913.8" cy="2141.6" r="4.3" fill="#C7C7C7"/><circle cx="928.6" cy="2141.6" r="4.3" fill="#C7C7C7"/><circle cx="943.5" cy="2141.6" r="4.3" fill="#C7C7C7"/><circle cx="972.0" cy="2141.6" r="4.3" fill="#D2AEA2"/><circle cx="986.7" cy="2141.6" r="4.3" fill="#C7C7C7"/><circle cx="1001.3" cy="2141.6" r="4.3" fill="#D2AEA2"/><circle cx="1016.0" cy="2141.6" r="4.3" fill="#A6BCD0"/><circle cx="1044.0" cy="2141.6" r="4.3" fill="#C7C7C7"/><circle cx="1073.5" cy="2141.6" r="4.3" fill="#C7C7C7"/><circle cx="1103.0" cy="2141.6" r="4.3" fill="#D2AEA2"/><circle cx="1117.8" cy="2141.6" r="4.3" fill="#D2AEA2"/><circle cx="1132.5" cy="2141.6" r="4.3" fill="#A6BCD0"/><circle cx="1147.3" cy="2141.6" r="4.3" fill="#A6BCD0"/><circle cx="1162.0" cy="2141.6" r="4.3" fill="#A6BCD0"/><circle cx="1176.8" cy="2141.6" r="4.3" fill="#C7C7C7"/><circle cx="1191.5" cy="2141.6" r="4.3" fill="#C7C7C7"/><circle cx="1206.3" cy="2141.6" r="4.3" fill="#A6BCD0"/><circle cx="1221.0" cy="2141.6" r="4.3" fill="#C7C7C7"/><circle cx="1235.8" cy="2141.6" r="4.3" fill="#D2AEA2"/><circle cx="138.3" cy="2166.2" r="4.3" fill="#C7C7C7"/><circle cx="153.0" cy="2166.2" r="4.3" fill="#A6BCD0"/><circle cx="167.7" cy="2166.2" r="4.3" fill="#C7C7C7"/><circle cx="182.4" cy="2166.2" r="4.3" fill="#C7C7C7"/><circle cx="197.1" cy="2166.2" r="4.3" fill="#C7C7C7"/><circle cx="211.8" cy="2166.2" r="4.3" fill="#A6BCD0"/><circle cx="226.5" cy="2166.2" r="4.3" fill="#D2AEA2"/><circle cx="241.2" cy="2166.2" r="4.3" fill="#C7C7C7"/><circle cx="255.8" cy="2166.2" r="4.3" fill="#A6BCD0"/><circle cx="270.5" cy="2166.2" r="4.3" fill="#A6BCD0"/><circle cx="285.2" cy="2166.2" r="4.3" fill="#C7C7C7"/><circle cx="299.9" cy="2166.2" r="4.3" fill="#C7C7C7"/><circle cx="314.6" cy="2166.2" r="4.3" fill="#A6BCD0"/><circle cx="329.3" cy="2166.2" r="4.3" fill="#A6BCD0"/><circle cx="344.0" cy="2166.2" r="4.3" fill="#C7C7C7"/><circle cx="372.5" cy="2166.2" r="4.3" fill="#C7C7C7"/><circle cx="387.2" cy="2166.2" r="4.3" fill="#C7C7C7"/><circle cx="401.9" cy="2166.2" r="4.3" fill="#A6BCD0"/><circle cx="416.6" cy="2166.2" r="4.3" fill="#A6BCD0"/><circle cx="431.3" cy="2166.2" r="4.3" fill="#C7C7C7"/><circle cx="445.9" cy="2166.2" r="4.3" fill="#A6BCD0"/><circle cx="460.6" cy="2166.2" r="4.3" fill="#D2AEA2"/><circle cx="475.3" cy="2166.2" r="4.3" fill="#C7C7C7"/><circle cx="490.0" cy="2166.2" r="4.3" fill="#D2AEA2"/><circle cx="504.7" cy="2166.2" r="4.3" fill="#C7C7C7"/><circle cx="519.4" cy="2166.2" r="4.3" fill="#D2AEA2"/><circle cx="548.0" cy="2166.2" r="4.3" fill="#C7C7C7"/><circle cx="562.7" cy="2166.2" r="4.3" fill="#C7C7C7"/><circle cx="577.4" cy="2166.2" r="4.3" fill="#D2AEA2"/><circle cx="592.1" cy="2166.2" r="4.3" fill="#C7C7C7"/><circle cx="606.8" cy="2166.2" r="4.3" fill="#A6BCD0"/><circle cx="621.5" cy="2166.2" r="4.3" fill="#D2AEA2"/><circle cx="636.2" cy="2166.2" r="4.3" fill="#D2AEA2"/><circle cx="650.9" cy="2166.2" r="4.3" fill="#A6BCD0"/><circle cx="665.6" cy="2166.2" r="4.3" fill="#C7C7C7"/><circle cx="680.3" cy="2166.2" r="4.3" fill="#C7C7C7"/><circle cx="695.0" cy="2166.2" r="4.3" fill="#A6BCD0"/><circle cx="709.7" cy="2166.2" r="4.3" fill="#C7C7C7"/><circle cx="724.4" cy="2166.2" r="4.3" fill="#C7C7C7"/><circle cx="739.1" cy="2166.2" r="4.3" fill="#D2AEA2"/><circle cx="753.8" cy="2166.2" r="4.3" fill="#A6BCD0"/><circle cx="796.8" cy="2166.2" r="4.3" fill="#C7C7C7"/><circle cx="811.6" cy="2166.2" r="4.3" fill="#C7C7C7"/><circle cx="826.4" cy="2166.2" r="4.3" fill="#C7C7C7"/><circle cx="841.3" cy="2166.2" r="4.3" fill="#D2AEA2"/><circle cx="856.1" cy="2166.2" r="4.3" fill="#C7C7C7"/><circle cx="870.9" cy="2166.2" r="4.3" fill="#A6BCD0"/><circle cx="885.7" cy="2166.2" r="4.3" fill="#A6BCD0"/><circle cx="913.8" cy="2166.2" r="4.3" fill="#C7C7C7"/><circle cx="928.6" cy="2166.2" r="4.3" fill="#C7C7C7"/><circle cx="943.5" cy="2166.2" r="4.3" fill="#C7C7C7"/><circle cx="972.0" cy="2166.2" r="4.3" fill="#C7C7C7"/><circle cx="986.7" cy="2166.2" r="4.3" fill="#A6BCD0"/><circle cx="1001.3" cy="2166.2" r="4.3" fill="#C7C7C7"/><circle cx="1016.0" cy="2166.2" r="4.3" fill="#D2AEA2"/><circle cx="1058.8" cy="2166.2" r="4.3" fill="#C7C7C7"/><circle cx="1073.5" cy="2166.2" r="4.3" fill="#C7C7C7"/><circle cx="1088.3" cy="2166.2" r="4.3" fill="#A6BCD0"/><circle cx="1103.0" cy="2166.2" r="4.3" fill="#D2AEA2"/><circle cx="1132.5" cy="2166.2" r="4.3" fill="#A6BCD0"/><circle cx="1147.3" cy="2166.2" r="4.3" fill="#C7C7C7"/><circle cx="1162.0" cy="2166.2" r="4.3" fill="#D2AEA2"/><circle cx="1176.8" cy="2166.2" r="4.3" fill="#D2AEA2"/><circle cx="1191.5" cy="2166.2" r="4.3" fill="#C7C7C7"/><circle cx="1206.3" cy="2166.2" r="4.3" fill="#C7C7C7"/><circle cx="1221.0" cy="2166.2" r="4.3" fill="#C7C7C7"/><circle cx="1235.8" cy="2166.2" r="4.3" fill="#C7C7C7"/><circle cx="138.3" cy="2181.0" r="4.3" fill="#C7C7C7"/><circle cx="153.0" cy="2181.0" r="4.3" fill="#C7C7C7"/><circle cx="167.7" cy="2181.0" r="4.3" fill="#A6BCD0"/><circle cx="182.4" cy="2181.0" r="4.3" fill="#D2AEA2"/><circle cx="197.1" cy="2181.0" r="4.3" fill="#C7C7C7"/><circle cx="211.8" cy="2181.0" r="4.3" fill="#C7C7C7"/><circle cx="226.5" cy="2181.0" r="4.3" fill="#D2AEA2"/><circle cx="241.2" cy="2181.0" r="4.3" fill="#D2AEA2"/><circle cx="255.8" cy="2181.0" r="4.3" fill="#A6BCD0"/><circle cx="270.5" cy="2181.0" r="4.3" fill="#C7C7C7"/><circle cx="285.2" cy="2181.0" r="4.3" fill="#C7C7C7"/><circle cx="299.9" cy="2181.0" r="4.3" fill="#D2AEA2"/><circle cx="314.6" cy="2181.0" r="4.3" fill="#C7C7C7"/><circle cx="329.3" cy="2181.0" r="4.3" fill="#D2AEA2"/><circle cx="344.0" cy="2181.0" r="4.3" fill="#D2AEA2"/><circle cx="372.5" cy="2181.0" r="4.3" fill="#A6BCD0"/><circle cx="387.2" cy="2181.0" r="4.3" fill="#D2AEA2"/><circle cx="401.9" cy="2181.0" r="4.3" fill="#C7C7C7"/><circle cx="416.6" cy="2181.0" r="4.3" fill="#C7C7C7"/><circle cx="431.3" cy="2181.0" r="4.3" fill="#C7C7C7"/><circle cx="445.9" cy="2181.0" r="4.3" fill="#A6BCD0"/><circle cx="460.6" cy="2181.0" r="4.3" fill="#D2AEA2"/><circle cx="475.3" cy="2181.0" r="4.3" fill="#A6BCD0"/><circle cx="490.0" cy="2181.0" r="4.3" fill="#A6BCD0"/><circle cx="504.7" cy="2181.0" r="4.3" fill="#C7C7C7"/><circle cx="519.4" cy="2181.0" r="4.3" fill="#C7C7C7"/><circle cx="548.0" cy="2181.0" r="4.3" fill="#A6BCD0"/><circle cx="562.7" cy="2181.0" r="4.3" fill="#A6BCD0"/><circle cx="577.4" cy="2181.0" r="4.3" fill="#C7C7C7"/><circle cx="592.1" cy="2181.0" r="4.3" fill="#A6BCD0"/><circle cx="606.8" cy="2181.0" r="4.3" fill="#D2AEA2"/><circle cx="621.5" cy="2181.0" r="4.3" fill="#D2AEA2"/><circle cx="636.2" cy="2181.0" r="4.3" fill="#C7C7C7"/><circle cx="650.9" cy="2181.0" r="4.3" fill="#C7C7C7"/><circle cx="680.3" cy="2181.0" r="4.3" fill="#A6BCD0"/><circle cx="709.7" cy="2181.0" r="4.3" fill="#A6BCD0"/><circle cx="724.4" cy="2181.0" r="4.3" fill="#C7C7C7"/><circle cx="739.1" cy="2181.0" r="4.3" fill="#D2AEA2"/><circle cx="782.0" cy="2181.0" r="4.3" fill="#C7C7C7"/><circle cx="796.8" cy="2181.0" r="4.3" fill="#A6BCD0"/><circle cx="856.1" cy="2181.0" r="4.3" fill="#C7C7C7"/><circle cx="870.9" cy="2181.0" r="4.3" fill="#C7C7C7"/><circle cx="885.7" cy="2181.0" r="4.3" fill="#C7C7C7"/><circle cx="913.8" cy="2181.0" r="4.3" fill="#D2AEA2"/><circle cx="928.6" cy="2181.0" r="4.3" fill="#C7C7C7"/><circle cx="943.5" cy="2181.0" r="4.3" fill="#D2AEA2"/><circle cx="972.0" cy="2181.0" r="4.3" fill="#A6BCD0"/><circle cx="986.7" cy="2181.0" r="4.3" fill="#C7C7C7"/><circle cx="1001.3" cy="2181.0" r="4.3" fill="#C7C7C7"/><circle cx="1016.0" cy="2181.0" r="4.3" fill="#C7C7C7"/><circle cx="1044.0" cy="2181.0" r="4.3" fill="#C7C7C7"/><circle cx="1058.8" cy="2181.0" r="4.3" fill="#C7C7C7"/><circle cx="1073.5" cy="2181.0" r="4.3" fill="#A6BCD0"/><circle cx="1088.3" cy="2181.0" r="4.3" fill="#C7C7C7"/><circle cx="1103.0" cy="2181.0" r="4.3" fill="#C7C7C7"/><circle cx="1117.8" cy="2181.0" r="4.3" fill="#A6BCD0"/><circle cx="1132.5" cy="2181.0" r="4.3" fill="#C7C7C7"/><circle cx="1147.3" cy="2181.0" r="4.3" fill="#C7C7C7"/><circle cx="1162.0" cy="2181.0" r="4.3" fill="#C7C7C7"/><circle cx="1176.8" cy="2181.0" r="4.3" fill="#C7C7C7"/><circle cx="1191.5" cy="2181.0" r="4.3" fill="#A6BCD0"/><circle cx="1206.3" cy="2181.0" r="4.3" fill="#C7C7C7"/><circle cx="1221.0" cy="2181.0" r="4.3" fill="#C7C7C7"/><circle cx="1235.8" cy="2181.0" r="4.3" fill="#C7C7C7"/><rect x="147.2" y="2135.8" width="11.6" height="11.6" fill="#7FA8C8"/><path d="M270.5 2134.6l7 7l-7 7l-7 -7z" fill="#D4A090"/><path d="M475.3 2134.6l7 7l-7 7l-7 -7z" fill="#A8B8C8"/><rect x="850.3" y="2135.8" width="11.6" height="11.6" fill="#9AB4CC"/><rect x="1053.0" y="2135.8" width="11.6" height="11.6" fill="#C0C4C8"/><path d="M1088.3 2134.6l7 7l-7 7l-7 -7z" fill="#C8B4AC"/><path d="M782.0 2159.2l7 7l-7 7l-7 -7z" fill="#C8B4AC"/><path d="M1044.0 2159.2l7 7l-7 7l-7 -7z" fill="#D4A898"/><path d="M1117.8 2159.2l7 7l-7 7l-7 -7z" fill="#A8B8C8"/><path d="M665.6 2174.0l7 7l-7 7l-7 -7z" fill="#C8C8C8"/><rect x="689.2" y="2175.2" width="11.6" height="11.6" fill="#D96A40"/><rect x="748.0" y="2175.2" width="11.6" height="11.6" fill="#D97850"/><path d="M811.6 2174.0l7 7l-7 7l-7 -7z" fill="#D4A090"/><path d="M826.4 2174.0l7 7l-7 7l-7 -7z" fill="#D98C70"/><path d="M841.3 2174.0l7 7l-7 7l-7 -7z" fill="#D4A090"/></g>
<g fill="#fff" stroke="#BDBDBD" stroke-width="0.8"><circle cx="1267.4" cy="2104.4" r="4"/><path d="M1267.4 2111.3l6.5 6.5l-6.5 6.5l-6.5 -6.5z"/><rect x="1261.6" y="2126.8" width="11.6" height="11.6"/></g>
<text x="1281.5" y="2107.6" class="DB" font-size="8.3">NS</text>
<text x="1281.5" y="2121.5" class="DB" font-size="8.3">Significant (p&lt;0.05)</text>
<text x="1281.5" y="2135.4" class="DB" font-size="8.3">Significant (p&lt;0.01)</text>
<rect x="1258.5" y="2158.3" width="18.3" height="65.5" fill="url(#glr)"/>
<text x="1281.5" y="2164.0" class="DB" font-size="8.3">0.3</text>
<text x="1281.5" y="2174.3" class="DB" font-size="8.3">0.2</text>
<text x="1281.5" y="2184.6" class="DB" font-size="8.3">0.1</text>
<text x="1281.5" y="2194.9" class="DB" font-size="8.3">0.0</text>
<text x="1281.5" y="2205.2" class="DB" font-size="8.3">-0.1</text>
<text x="1281.5" y="2215.5" class="DB" font-size="8.3">-0.2</text>
<text x="1281.5" y="2225.8" class="DB" font-size="8.3">-0.3</text>
<text transform="translate(1315 2155.9) rotate(90)" class="DB" font-size="12.9">Log-Odds</text>
<text transform="translate(1299.7 2155.9) rotate(90)" class="DB" font-size="12.9">Ratio</text>
<path d="M126.3 2349V2659H353.4" stroke="#111" stroke-width="1.6" fill="none"/>
<text x="121.3" y="2648.5" class="DB" font-size="9.6" text-anchor="end">0.0</text>
<text x="121.3" y="2554.5" class="DB" font-size="9.6" text-anchor="end">0.1</text>
<text x="121.3" y="2460.5" class="DB" font-size="9.6" text-anchor="end">0.2</text>
<text x="121.3" y="2366.5" class="DB" font-size="9.6" text-anchor="end">0.3</text>
<path d="M126.3 2645.0h-3.5M126.3 2551.0h-3.5M126.3 2457.0h-3.5M126.3 2363.0h-3.5M188 2659v3.5M291 2659v3.5" stroke="#111" stroke-width="1.2"/>
<text x="188" y="2673.0" class="DB" font-size="10.5" text-anchor="middle">&lt;20</text>
<text x="291" y="2673.0" class="DB" font-size="10.5" text-anchor="middle">&gt;=20</text>
<text x="239.5" y="2687.8" class="DB" font-size="9.75" text-anchor="middle">Binned Plasma Cell Percentage</text>
<text x="239.5" y="2699.0" class="DB" font-size="9.75" text-anchor="middle">(Flow-Cytometry)</text>
<text x="239.5" y="2337.7" class="DB" font-size="9.95" text-anchor="middle">CD8+ T Effector Memory</text>
<text transform="translate(99 2504) rotate(-90)" class="DB" font-size="9.84" text-anchor="middle">Proportion of Immune Cells</text>
<path d="M188 2645.0V2531.7" stroke="#2B3F86" stroke-width="1.4"/>
<rect x="167.6" y="2591.0" width="40.8" height="39.4" fill="#4499CC" stroke="#2B3F86" stroke-width="1.5"/>
<path d="M167.6 2611.5h40.8" stroke="#23387E" stroke-width="2"/>
<path d="M291 2645.0V2452.3" stroke="#D86A4A" stroke-width="1.4"/>
<rect x="270.6" y="2540.2" width="40.8" height="73.5" fill="#DC6132" stroke="#D05A30" stroke-width="1"/>
<path d="M270.6 2583.0h40.8" stroke="#B8402A" stroke-width="1.6"/>
<g fill="none" stroke="#6A6AAE" stroke-width="0.7" stroke-opacity="0.85"><circle cx="221.6" cy="2613.8" r="1.55"/><circle cx="220.1" cy="2645.0" r="1.55"/><circle cx="199.3" cy="2645.0" r="1.55"/><circle cx="158.6" cy="2602.4" r="1.55"/><circle cx="193.6" cy="2611.6" r="1.55"/><circle cx="177.8" cy="2588.6" r="1.55"/><circle cx="175.7" cy="2584.4" r="1.55"/><circle cx="160.5" cy="2628.2" r="1.55"/><circle cx="216.2" cy="2611.3" r="1.55"/><circle cx="166.4" cy="2611.3" r="1.55"/><circle cx="186.0" cy="2521.2" r="1.55"/><circle cx="189.7" cy="2541.6" r="1.55"/><circle cx="204.8" cy="2585.3" r="1.55"/><circle cx="172.7" cy="2622.5" r="1.55"/><circle cx="155.0" cy="2606.8" r="1.55"/><circle cx="195.8" cy="2603.0" r="1.55"/><circle cx="173.6" cy="2619.6" r="1.55"/><circle cx="186.5" cy="2627.5" r="1.55"/><circle cx="154.3" cy="2641.3" r="1.55"/><circle cx="190.4" cy="2573.1" r="1.55"/><circle cx="151.4" cy="2608.6" r="1.55"/><circle cx="150.7" cy="2628.6" r="1.55"/><circle cx="163.7" cy="2593.7" r="1.55"/><circle cx="190.5" cy="2562.5" r="1.55"/><circle cx="177.0" cy="2596.0" r="1.55"/><circle cx="208.9" cy="2618.3" r="1.55"/><circle cx="215.3" cy="2612.4" r="1.55"/><circle cx="221.9" cy="2645.0" r="1.55"/><circle cx="219.8" cy="2626.0" r="1.55"/><circle cx="220.2" cy="2590.4" r="1.55"/><circle cx="163.5" cy="2618.4" r="1.55"/><circle cx="161.3" cy="2596.9" r="1.55"/><circle cx="153.7" cy="2600.9" r="1.55"/><circle cx="187.1" cy="2541.9" r="1.55"/><circle cx="195.1" cy="2612.3" r="1.55"/><circle cx="154.2" cy="2631.0" r="1.55"/><circle cx="152.5" cy="2606.7" r="1.55"/><circle cx="205.6" cy="2606.9" r="1.55"/><circle cx="197.9" cy="2620.5" r="1.55"/><circle cx="161.3" cy="2596.4" r="1.55"/><circle cx="172.4" cy="2599.6" r="1.55"/><circle cx="205.1" cy="2575.3" r="1.55"/><circle cx="187.1" cy="2612.3" r="1.55"/><circle cx="180.7" cy="2627.6" r="1.55"/><circle cx="178.7" cy="2610.1" r="1.55"/><circle cx="189.2" cy="2515.9" r="1.55"/><circle cx="170.7" cy="2616.4" r="1.55"/><circle cx="215.9" cy="2605.2" r="1.55"/><circle cx="202.8" cy="2604.8" r="1.55"/><circle cx="207.7" cy="2643.7" r="1.55"/><circle cx="186.9" cy="2616.4" r="1.55"/><circle cx="202.5" cy="2626.7" r="1.55"/><circle cx="190.9" cy="2586.4" r="1.55"/><circle cx="191.6" cy="2621.2" r="1.55"/><circle cx="212.1" cy="2622.0" r="1.55"/><circle cx="210.6" cy="2630.6" r="1.55"/><circle cx="212.9" cy="2631.1" r="1.55"/><circle cx="214.1" cy="2636.3" r="1.55"/><circle cx="222.7" cy="2631.5" r="1.55"/><circle cx="190.2" cy="2645.0" r="1.55"/><circle cx="186.3" cy="2589.2" r="1.55"/><circle cx="204.7" cy="2645.0" r="1.55"/><circle cx="194.1" cy="2596.7" r="1.55"/><circle cx="185.1" cy="2583.2" r="1.55"/><circle cx="204.8" cy="2608.0" r="1.55"/><circle cx="162.2" cy="2638.5" r="1.55"/><circle cx="202.1" cy="2619.9" r="1.55"/><circle cx="153.2" cy="2622.8" r="1.55"/><circle cx="160.1" cy="2611.2" r="1.55"/><circle cx="163.8" cy="2605.9" r="1.55"/><circle cx="178.9" cy="2591.6" r="1.55"/><circle cx="194.9" cy="2607.4" r="1.55"/><circle cx="180.8" cy="2611.5" r="1.55"/><circle cx="181.2" cy="2612.5" r="1.55"/><circle cx="152.7" cy="2603.2" r="1.55"/><circle cx="157.2" cy="2628.0" r="1.55"/><circle cx="222.8" cy="2625.3" r="1.55"/><circle cx="181.9" cy="2591.1" r="1.55"/><circle cx="160.8" cy="2623.4" r="1.55"/><circle cx="192.9" cy="2626.2" r="1.55"/><circle cx="189.0" cy="2515.4" r="1.55"/><circle cx="158.2" cy="2611.5" r="1.55"/><circle cx="196.8" cy="2612.6" r="1.55"/><circle cx="178.6" cy="2639.3" r="1.55"/><circle cx="167.2" cy="2640.9" r="1.55"/><circle cx="223.0" cy="2594.0" r="1.55"/><circle cx="195.3" cy="2615.3" r="1.55"/><circle cx="181.6" cy="2590.2" r="1.55"/><circle cx="224.8" cy="2614.7" r="1.55"/><circle cx="159.3" cy="2617.0" r="1.55"/><circle cx="183.7" cy="2591.3" r="1.55"/><circle cx="151.0" cy="2605.1" r="1.55"/><circle cx="170.8" cy="2645.0" r="1.55"/><circle cx="170.3" cy="2609.3" r="1.55"/><circle cx="225.2" cy="2625.9" r="1.55"/><circle cx="199.0" cy="2628.7" r="1.55"/><circle cx="206.5" cy="2625.5" r="1.55"/><circle cx="190.5" cy="2611.1" r="1.55"/><circle cx="172.6" cy="2628.0" r="1.55"/><circle cx="206.6" cy="2629.4" r="1.55"/><circle cx="152.8" cy="2608.1" r="1.55"/><circle cx="217.5" cy="2645.0" r="1.55"/><circle cx="151.1" cy="2600.6" r="1.55"/><circle cx="203.8" cy="2634.2" r="1.55"/><circle cx="186.6" cy="2601.3" r="1.55"/><circle cx="214.7" cy="2626.2" r="1.55"/><circle cx="172.5" cy="2599.7" r="1.55"/><circle cx="195.0" cy="2579.4" r="1.55"/><circle cx="171.8" cy="2597.7" r="1.55"/><circle cx="186.4" cy="2603.3" r="1.55"/><circle cx="187.8" cy="2617.7" r="1.55"/><circle cx="211.7" cy="2597.9" r="1.55"/><circle cx="167.5" cy="2591.6" r="1.55"/><circle cx="151.9" cy="2604.9" r="1.55"/><circle cx="224.4" cy="2638.9" r="1.55"/><circle cx="183.7" cy="2531.7" r="1.55"/><circle cx="222.4" cy="2606.9" r="1.55"/><circle cx="174.8" cy="2585.5" r="1.55"/><circle cx="196.4" cy="2602.8" r="1.55"/><circle cx="162.2" cy="2617.4" r="1.55"/><circle cx="178.8" cy="2603.4" r="1.55"/><circle cx="154.4" cy="2609.7" r="1.55"/><circle cx="160.2" cy="2614.0" r="1.55"/><circle cx="173.9" cy="2645.0" r="1.55"/><circle cx="178.4" cy="2645.0" r="1.55"/><circle cx="203.0" cy="2609.2" r="1.55"/><circle cx="219.2" cy="2627.2" r="1.55"/><circle cx="197.2" cy="2628.5" r="1.55"/><circle cx="207.0" cy="2625.7" r="1.55"/><circle cx="160.2" cy="2616.7" r="1.55"/><circle cx="163.6" cy="2633.3" r="1.55"/><circle cx="199.8" cy="2589.9" r="1.55"/><circle cx="159.5" cy="2616.2" r="1.55"/><circle cx="168.1" cy="2619.3" r="1.55"/><circle cx="210.5" cy="2628.6" r="1.55"/><circle cx="205.1" cy="2610.1" r="1.55"/><circle cx="194.5" cy="2585.1" r="1.55"/><circle cx="184.3" cy="2574.5" r="1.55"/><circle cx="191.1" cy="2533.9" r="1.55"/><circle cx="167.9" cy="2624.5" r="1.55"/><circle cx="196.6" cy="2624.5" r="1.55"/><circle cx="213.2" cy="2619.8" r="1.55"/><circle cx="211.1" cy="2605.4" r="1.55"/><circle cx="195.0" cy="2598.6" r="1.55"/><circle cx="206.3" cy="2630.3" r="1.55"/><circle cx="165.4" cy="2608.1" r="1.55"/><circle cx="217.6" cy="2609.3" r="1.55"/><circle cx="185.7" cy="2612.1" r="1.55"/><circle cx="197.1" cy="2612.7" r="1.55"/><circle cx="161.8" cy="2620.5" r="1.55"/><circle cx="178.5" cy="2610.3" r="1.55"/><circle cx="169.3" cy="2604.2" r="1.55"/><circle cx="162.3" cy="2619.5" r="1.55"/><circle cx="152.4" cy="2610.1" r="1.55"/><circle cx="178.0" cy="2590.6" r="1.55"/><circle cx="185.9" cy="2622.8" r="1.55"/><circle cx="159.0" cy="2638.1" r="1.55"/><circle cx="205.4" cy="2619.3" r="1.55"/><circle cx="177.2" cy="2584.9" r="1.55"/><circle cx="180.5" cy="2611.2" r="1.55"/><circle cx="186.2" cy="2552.2" r="1.55"/><circle cx="171.5" cy="2604.6" r="1.55"/><circle cx="168.3" cy="2614.3" r="1.55"/><circle cx="221.5" cy="2623.1" r="1.55"/><circle cx="150.5" cy="2645.0" r="1.55"/><circle cx="209.2" cy="2590.5" r="1.55"/><circle cx="225.2" cy="2589.3" r="1.55"/><circle cx="176.6" cy="2605.5" r="1.55"/><circle cx="187.7" cy="2575.8" r="1.55"/><circle cx="154.1" cy="2594.7" r="1.55"/><circle cx="154.6" cy="2594.1" r="1.55"/><circle cx="181.0" cy="2606.2" r="1.55"/><circle cx="223.8" cy="2607.2" r="1.55"/><circle cx="188.7" cy="2610.4" r="1.55"/><circle cx="173.9" cy="2619.8" r="1.55"/><circle cx="191.2" cy="2613.6" r="1.55"/><circle cx="166.3" cy="2642.3" r="1.55"/><circle cx="191.0" cy="2633.6" r="1.55"/><circle cx="197.5" cy="2628.6" r="1.55"/><circle cx="219.4" cy="2620.0" r="1.55"/><circle cx="167.0" cy="2645.0" r="1.55"/><circle cx="173.7" cy="2601.0" r="1.55"/><circle cx="173.8" cy="2607.2" r="1.55"/><circle cx="156.2" cy="2645.0" r="1.55"/><circle cx="193.9" cy="2594.9" r="1.55"/><circle cx="154.7" cy="2602.0" r="1.55"/><circle cx="171.7" cy="2600.1" r="1.55"/><circle cx="157.5" cy="2608.4" r="1.55"/><circle cx="192.3" cy="2624.4" r="1.55"/><circle cx="193.5" cy="2583.2" r="1.55"/><circle cx="212.1" cy="2630.2" r="1.55"/><circle cx="222.6" cy="2621.3" r="1.55"/><circle cx="211.7" cy="2616.6" r="1.55"/><circle cx="159.9" cy="2626.2" r="1.55"/><circle cx="201.4" cy="2605.0" r="1.55"/><circle cx="154.8" cy="2599.3" r="1.55"/><circle cx="153.8" cy="2616.3" r="1.55"/><circle cx="177.1" cy="2613.7" r="1.55"/><circle cx="178.3" cy="2587.5" r="1.55"/><circle cx="177.5" cy="2620.2" r="1.55"/><circle cx="199.8" cy="2587.3" r="1.55"/><circle cx="157.2" cy="2610.2" r="1.55"/><circle cx="183.9" cy="2598.1" r="1.55"/><circle cx="198.6" cy="2586.1" r="1.55"/><circle cx="185.0" cy="2629.2" r="1.55"/><circle cx="187.4" cy="2574.5" r="1.55"/><circle cx="223.7" cy="2590.7" r="1.55"/><circle cx="157.9" cy="2621.1" r="1.55"/><circle cx="224.3" cy="2617.5" r="1.55"/><circle cx="193.9" cy="2609.1" r="1.55"/><circle cx="166.4" cy="2598.3" r="1.55"/><circle cx="165.3" cy="2624.8" r="1.55"/><circle cx="168.4" cy="2631.6" r="1.55"/><circle cx="178.9" cy="2587.6" r="1.55"/><circle cx="191.4" cy="2523.2" r="1.55"/><circle cx="213.2" cy="2620.6" r="1.55"/><circle cx="152.9" cy="2606.0" r="1.55"/><circle cx="202.4" cy="2587.8" r="1.55"/><circle cx="210.6" cy="2594.7" r="1.55"/><circle cx="197.4" cy="2627.4" r="1.55"/><circle cx="178.6" cy="2645.0" r="1.55"/><circle cx="164.0" cy="2637.0" r="1.55"/><circle cx="174.1" cy="2613.9" r="1.55"/><circle cx="186.2" cy="2619.1" r="1.55"/><circle cx="180.3" cy="2595.0" r="1.55"/><circle cx="192.1" cy="2524.7" r="1.55"/><circle cx="210.7" cy="2623.3" r="1.55"/><circle cx="195.1" cy="2632.5" r="1.55"/><circle cx="155.9" cy="2627.3" r="1.55"/><circle cx="177.0" cy="2614.2" r="1.55"/><circle cx="188.5" cy="2381.8" r="1.55"/><circle cx="187.5" cy="2471.1" r="1.55"/><circle cx="189.0" cy="2488.0" r="1.55"/><circle cx="187.2" cy="2494.6" r="1.55"/><circle cx="188.3" cy="2497.4" r="1.55"/><circle cx="186.8" cy="2516.2" r="1.55"/><circle cx="189.5" cy="2520.0" r="1.55"/><circle cx="188.0" cy="2524.7" r="1.55"/></g>
<g fill="none" stroke="#E3927A" stroke-width="0.7" stroke-opacity="0.8"><circle cx="299.1" cy="2490.9" r="1.55"/><circle cx="307.4" cy="2606.6" r="1.55"/><circle cx="310.3" cy="2621.7" r="1.55"/><circle cx="306.1" cy="2463.1" r="1.55"/><circle cx="300.1" cy="2479.8" r="1.55"/><circle cx="291.6" cy="2568.6" r="1.55"/><circle cx="309.0" cy="2564.3" r="1.55"/><circle cx="272.1" cy="2542.5" r="1.55"/><circle cx="321.4" cy="2607.8" r="1.55"/><circle cx="286.7" cy="2511.5" r="1.55"/><circle cx="305.3" cy="2598.3" r="1.55"/><circle cx="286.2" cy="2497.1" r="1.55"/><circle cx="283.6" cy="2568.0" r="1.55"/><circle cx="265.7" cy="2638.4" r="1.55"/><circle cx="280.5" cy="2489.9" r="1.55"/><circle cx="296.0" cy="2637.7" r="1.55"/><circle cx="299.7" cy="2474.1" r="1.55"/><circle cx="321.8" cy="2632.2" r="1.55"/><circle cx="274.3" cy="2609.0" r="1.55"/><circle cx="279.1" cy="2461.7" r="1.55"/><circle cx="298.9" cy="2603.2" r="1.55"/><circle cx="267.5" cy="2604.8" r="1.55"/><circle cx="298.2" cy="2506.9" r="1.55"/><circle cx="289.8" cy="2589.3" r="1.55"/><circle cx="284.1" cy="2463.0" r="1.55"/><circle cx="307.2" cy="2507.0" r="1.55"/><circle cx="289.2" cy="2625.7" r="1.55"/><circle cx="267.7" cy="2642.3" r="1.55"/><circle cx="299.8" cy="2610.0" r="1.55"/><circle cx="310.6" cy="2612.3" r="1.55"/><circle cx="302.5" cy="2482.9" r="1.55"/><circle cx="308.4" cy="2467.7" r="1.55"/><circle cx="275.9" cy="2461.9" r="1.55"/><circle cx="281.5" cy="2608.0" r="1.55"/><circle cx="304.7" cy="2613.0" r="1.55"/><circle cx="287.3" cy="2586.2" r="1.55"/><circle cx="276.5" cy="2545.1" r="1.55"/><circle cx="298.0" cy="2545.2" r="1.55"/><circle cx="274.7" cy="2583.8" r="1.55"/><circle cx="283.2" cy="2496.3" r="1.55"/><circle cx="289.4" cy="2624.7" r="1.55"/><circle cx="282.0" cy="2619.3" r="1.55"/><circle cx="290.9" cy="2645.0" r="1.55"/><circle cx="293.9" cy="2486.8" r="1.55"/><circle cx="292.5" cy="2631.0" r="1.55"/><circle cx="285.0" cy="2593.4" r="1.55"/><circle cx="273.6" cy="2619.6" r="1.55"/><circle cx="289.3" cy="2621.6" r="1.55"/><circle cx="286.7" cy="2521.7" r="1.55"/><circle cx="285.5" cy="2585.1" r="1.55"/><circle cx="311.2" cy="2597.3" r="1.55"/><circle cx="287.8" cy="2606.1" r="1.55"/><circle cx="292.3" cy="2615.7" r="1.55"/><circle cx="286.6" cy="2609.3" r="1.55"/><circle cx="275.2" cy="2579.4" r="1.55"/><circle cx="291.6" cy="2596.2" r="1.55"/><circle cx="282.8" cy="2622.8" r="1.55"/><circle cx="294.6" cy="2536.7" r="1.55"/><circle cx="296.2" cy="2507.0" r="1.55"/><circle cx="284.4" cy="2592.9" r="1.55"/><circle cx="306.8" cy="2481.6" r="1.55"/><circle cx="328.9" cy="2613.2" r="1.55"/><circle cx="277.6" cy="2472.3" r="1.55"/><circle cx="308.9" cy="2538.5" r="1.55"/><circle cx="288.0" cy="2567.4" r="1.55"/><circle cx="303.7" cy="2628.2" r="1.55"/><circle cx="265.9" cy="2614.6" r="1.55"/><circle cx="321.2" cy="2604.4" r="1.55"/><circle cx="272.7" cy="2570.3" r="1.55"/><circle cx="294.8" cy="2462.5" r="1.55"/><circle cx="291.0" cy="2428.8" r="1.55"/></g>
<path d="M188 2429.3V2423.8H291V2429.3" stroke="#777" stroke-width="1.1" fill="none"/>
<text x="236.5" y="2419.5" class="DB" font-size="10" text-anchor="middle">2.00x10<tspan font-size="6.3" dy="-4.5">-8</tspan></text>
<path d="M424 2351.3V2662H644" stroke="#111" stroke-width="1.6" fill="none"/>
<text x="419.0" y="2650.8" class="DB" font-size="9.6" text-anchor="end">0.00</text>
<text x="419.0" y="2594.5" class="DB" font-size="9.6" text-anchor="end">0.05</text>
<text x="419.0" y="2538.1" class="DB" font-size="9.6" text-anchor="end">0.10</text>
<text x="419.0" y="2481.8" class="DB" font-size="9.6" text-anchor="end">0.15</text>
<text x="419.0" y="2425.5" class="DB" font-size="9.6" text-anchor="end">0.20</text>
<text x="419.0" y="2369.2" class="DB" font-size="9.6" text-anchor="end">0.25</text>
<path d="M424 2647.3h-3.5M424 2591.0h-3.5M424 2534.6h-3.5M424 2478.3h-3.5M424 2422.0h-3.5M424 2365.7h-3.5M483.7 2662v3.5M583.5 2662v3.5" stroke="#111" stroke-width="1.2"/>
<text x="483.7" y="2676.0" class="DB" font-size="10.5" text-anchor="middle">&lt;20</text>
<text x="583.5" y="2676.0" class="DB" font-size="10.5" text-anchor="middle">&gt;=20</text>
<text x="534" y="2690.8" class="DB" font-size="9.75" text-anchor="middle">Binned Plasma Cell Percentage</text>
<text x="534" y="2702.0" class="DB" font-size="9.75" text-anchor="middle">(Flow-Cytometry)</text>
<text x="534" y="2340" class="DB" font-size="9.95" text-anchor="middle">Nk Resident Cells</text>
<text transform="translate(391 2507) rotate(-90)" class="DB" font-size="9.84" text-anchor="middle">Proportion of Immune Cells</text>
<path d="M483.7 2647.3V2624.8" stroke="#2B3F86" stroke-width="1.4"/>
<rect x="463.8" y="2638.5" width="39.7" height="6.1" fill="#4499CC" stroke="#2B3F86" stroke-width="1.5"/>
<path d="M463.8 2642.2h39.7" stroke="#23387E" stroke-width="2"/>
<path d="M583.5 2647.3V2577.5" stroke="#D86A4A" stroke-width="1.4"/>
<rect x="563.6" y="2615.0" width="39.7" height="28.3" fill="#DC6132" stroke="#D05A30" stroke-width="1"/>
<path d="M563.6 2636.5h39.7" stroke="#B8402A" stroke-width="1.6"/>
<g fill="none" stroke="#6A6AAE" stroke-width="0.7" stroke-opacity="0.85"><circle cx="476.3" cy="2643.9" r="1.55"/><circle cx="488.8" cy="2640.3" r="1.55"/><circle cx="504.8" cy="2646.9" r="1.55"/><circle cx="493.1" cy="2640.8" r="1.55"/><circle cx="489.4" cy="2640.1" r="1.55"/><circle cx="485.4" cy="2643.0" r="1.55"/><circle cx="485.6" cy="2630.2" r="1.55"/><circle cx="471.0" cy="2643.9" r="1.55"/><circle cx="483.4" cy="2613.8" r="1.55"/><circle cx="474.3" cy="2642.2" r="1.55"/><circle cx="486.5" cy="2643.0" r="1.55"/><circle cx="486.1" cy="2631.2" r="1.55"/><circle cx="483.9" cy="2633.8" r="1.55"/><circle cx="489.9" cy="2641.2" r="1.55"/><circle cx="480.8" cy="2608.6" r="1.55"/><circle cx="486.5" cy="2642.7" r="1.55"/><circle cx="495.6" cy="2643.9" r="1.55"/><circle cx="477.8" cy="2639.9" r="1.55"/><circle cx="483.2" cy="2640.6" r="1.55"/><circle cx="499.2" cy="2643.9" r="1.55"/><circle cx="488.0" cy="2634.2" r="1.55"/><circle cx="487.5" cy="2640.0" r="1.55"/><circle cx="481.8" cy="2634.6" r="1.55"/><circle cx="480.9" cy="2627.2" r="1.55"/><circle cx="485.2" cy="2626.8" r="1.55"/><circle cx="498.7" cy="2642.3" r="1.55"/><circle cx="486.1" cy="2617.9" r="1.55"/><circle cx="509.5" cy="2646.7" r="1.55"/><circle cx="490.1" cy="2639.7" r="1.55"/><circle cx="451.4" cy="2646.5" r="1.55"/><circle cx="505.9" cy="2646.5" r="1.55"/><circle cx="468.8" cy="2639.5" r="1.55"/><circle cx="476.1" cy="2641.9" r="1.55"/><circle cx="497.0" cy="2643.9" r="1.55"/><circle cx="485.4" cy="2635.5" r="1.55"/><circle cx="482.9" cy="2639.9" r="1.55"/><circle cx="477.6" cy="2643.2" r="1.55"/><circle cx="484.7" cy="2628.5" r="1.55"/><circle cx="482.9" cy="2610.2" r="1.55"/><circle cx="478.1" cy="2642.2" r="1.55"/><circle cx="490.5" cy="2635.3" r="1.55"/><circle cx="445.2" cy="2646.4" r="1.55"/><circle cx="505.0" cy="2645.7" r="1.55"/><circle cx="500.7" cy="2646.7" r="1.55"/><circle cx="476.9" cy="2635.0" r="1.55"/><circle cx="497.7" cy="2642.3" r="1.55"/><circle cx="488.6" cy="2636.9" r="1.55"/><circle cx="482.7" cy="2641.8" r="1.55"/><circle cx="493.5" cy="2644.9" r="1.55"/><circle cx="456.0" cy="2644.4" r="1.55"/><circle cx="495.1" cy="2644.7" r="1.55"/><circle cx="514.9" cy="2645.5" r="1.55"/><circle cx="509.6" cy="2646.2" r="1.55"/><circle cx="492.9" cy="2643.9" r="1.55"/><circle cx="486.2" cy="2610.7" r="1.55"/><circle cx="472.4" cy="2643.2" r="1.55"/><circle cx="483.3" cy="2610.6" r="1.55"/><circle cx="482.9" cy="2636.1" r="1.55"/><circle cx="507.1" cy="2646.7" r="1.55"/><circle cx="486.4" cy="2629.6" r="1.55"/><circle cx="511.6" cy="2644.9" r="1.55"/><circle cx="496.9" cy="2640.3" r="1.55"/><circle cx="451.4" cy="2645.8" r="1.55"/><circle cx="483.9" cy="2618.9" r="1.55"/><circle cx="448.8" cy="2644.3" r="1.55"/><circle cx="486.5" cy="2615.0" r="1.55"/><circle cx="478.8" cy="2641.5" r="1.55"/><circle cx="487.4" cy="2646.9" r="1.55"/><circle cx="483.3" cy="2644.0" r="1.55"/><circle cx="469.1" cy="2640.0" r="1.55"/><circle cx="472.8" cy="2643.6" r="1.55"/><circle cx="480.2" cy="2642.2" r="1.55"/><circle cx="475.0" cy="2640.2" r="1.55"/><circle cx="473.2" cy="2641.3" r="1.55"/><circle cx="475.6" cy="2643.5" r="1.55"/><circle cx="459.4" cy="2645.3" r="1.55"/><circle cx="480.0" cy="2638.8" r="1.55"/><circle cx="484.0" cy="2628.6" r="1.55"/><circle cx="487.1" cy="2633.2" r="1.55"/><circle cx="496.7" cy="2645.1" r="1.55"/><circle cx="485.7" cy="2633.3" r="1.55"/><circle cx="470.0" cy="2641.2" r="1.55"/><circle cx="500.2" cy="2647.1" r="1.55"/><circle cx="473.4" cy="2644.0" r="1.55"/><circle cx="479.4" cy="2635.8" r="1.55"/><circle cx="516.6" cy="2644.1" r="1.55"/><circle cx="489.4" cy="2636.6" r="1.55"/><circle cx="496.3" cy="2645.3" r="1.55"/><circle cx="476.7" cy="2632.6" r="1.55"/><circle cx="484.8" cy="2615.5" r="1.55"/><circle cx="486.1" cy="2634.8" r="1.55"/><circle cx="494.9" cy="2643.0" r="1.55"/><circle cx="506.1" cy="2645.7" r="1.55"/><circle cx="492.8" cy="2643.0" r="1.55"/><circle cx="522.3" cy="2644.5" r="1.55"/><circle cx="471.0" cy="2642.6" r="1.55"/><circle cx="476.4" cy="2636.6" r="1.55"/><circle cx="476.3" cy="2635.1" r="1.55"/><circle cx="483.3" cy="2609.5" r="1.55"/><circle cx="478.1" cy="2636.7" r="1.55"/><circle cx="477.0" cy="2636.2" r="1.55"/><circle cx="490.8" cy="2645.9" r="1.55"/><circle cx="455.0" cy="2644.8" r="1.55"/><circle cx="480.1" cy="2639.6" r="1.55"/><circle cx="484.1" cy="2630.4" r="1.55"/><circle cx="472.4" cy="2642.0" r="1.55"/><circle cx="482.9" cy="2632.4" r="1.55"/><circle cx="486.5" cy="2620.8" r="1.55"/><circle cx="481.3" cy="2622.7" r="1.55"/><circle cx="481.6" cy="2646.6" r="1.55"/><circle cx="484.9" cy="2622.1" r="1.55"/><circle cx="485.8" cy="2624.0" r="1.55"/><circle cx="490.2" cy="2633.6" r="1.55"/><circle cx="482.7" cy="2612.3" r="1.55"/><circle cx="494.8" cy="2642.9" r="1.55"/><circle cx="468.3" cy="2642.5" r="1.55"/><circle cx="492.1" cy="2639.1" r="1.55"/><circle cx="481.8" cy="2635.6" r="1.55"/><circle cx="496.5" cy="2642.6" r="1.55"/><circle cx="486.5" cy="2622.5" r="1.55"/><circle cx="473.1" cy="2646.0" r="1.55"/><circle cx="484.3" cy="2612.7" r="1.55"/><circle cx="485.6" cy="2618.5" r="1.55"/><circle cx="472.2" cy="2639.6" r="1.55"/><circle cx="472.9" cy="2638.7" r="1.55"/><circle cx="471.6" cy="2640.8" r="1.55"/><circle cx="521.1" cy="2646.8" r="1.55"/><circle cx="454.4" cy="2644.5" r="1.55"/><circle cx="496.7" cy="2641.4" r="1.55"/><circle cx="478.8" cy="2638.2" r="1.55"/><circle cx="482.4" cy="2640.3" r="1.55"/><circle cx="487.3" cy="2638.7" r="1.55"/><circle cx="502.0" cy="2644.4" r="1.55"/><circle cx="486.3" cy="2619.2" r="1.55"/><circle cx="468.1" cy="2639.0" r="1.55"/><circle cx="491.4" cy="2637.4" r="1.55"/><circle cx="490.6" cy="2642.3" r="1.55"/><circle cx="493.4" cy="2645.3" r="1.55"/><circle cx="509.7" cy="2644.0" r="1.55"/><circle cx="488.9" cy="2641.7" r="1.55"/><circle cx="486.2" cy="2646.2" r="1.55"/><circle cx="482.9" cy="2635.1" r="1.55"/><circle cx="522.2" cy="2646.5" r="1.55"/><circle cx="483.6" cy="2617.7" r="1.55"/><circle cx="492.9" cy="2639.6" r="1.55"/><circle cx="483.3" cy="2612.1" r="1.55"/><circle cx="485.0" cy="2640.0" r="1.55"/><circle cx="483.0" cy="2633.8" r="1.55"/><circle cx="480.9" cy="2616.4" r="1.55"/><circle cx="488.7" cy="2643.4" r="1.55"/><circle cx="483.6" cy="2633.4" r="1.55"/><circle cx="458.0" cy="2647.0" r="1.55"/><circle cx="477.6" cy="2642.7" r="1.55"/><circle cx="449.2" cy="2646.9" r="1.55"/><circle cx="474.9" cy="2643.2" r="1.55"/><circle cx="485.2" cy="2633.9" r="1.55"/><circle cx="473.9" cy="2642.8" r="1.55"/><circle cx="496.9" cy="2642.8" r="1.55"/><circle cx="479.3" cy="2640.9" r="1.55"/><circle cx="470.8" cy="2641.6" r="1.55"/><circle cx="487.1" cy="2639.2" r="1.55"/><circle cx="488.0" cy="2642.5" r="1.55"/><circle cx="484.6" cy="2623.6" r="1.55"/><circle cx="480.0" cy="2630.6" r="1.55"/><circle cx="483.2" cy="2629.1" r="1.55"/><circle cx="496.1" cy="2638.8" r="1.55"/><circle cx="466.4" cy="2646.9" r="1.55"/><circle cx="483.9" cy="2643.2" r="1.55"/><circle cx="477.6" cy="2638.2" r="1.55"/><circle cx="476.3" cy="2643.2" r="1.55"/><circle cx="465.4" cy="2646.4" r="1.55"/><circle cx="494.7" cy="2640.4" r="1.55"/><circle cx="491.2" cy="2641.4" r="1.55"/><circle cx="489.8" cy="2636.4" r="1.55"/><circle cx="445.9" cy="2647.0" r="1.55"/><circle cx="478.3" cy="2633.7" r="1.55"/><circle cx="494.7" cy="2646.0" r="1.55"/><circle cx="481.2" cy="2610.9" r="1.55"/><circle cx="475.8" cy="2645.1" r="1.55"/><circle cx="450.1" cy="2644.7" r="1.55"/><circle cx="452.4" cy="2645.7" r="1.55"/><circle cx="461.7" cy="2644.1" r="1.55"/><circle cx="485.4" cy="2638.2" r="1.55"/><circle cx="478.2" cy="2642.3" r="1.55"/><circle cx="453.5" cy="2645.8" r="1.55"/><circle cx="472.4" cy="2643.3" r="1.55"/><circle cx="488.3" cy="2642.1" r="1.55"/><circle cx="486.7" cy="2640.3" r="1.55"/><circle cx="482.2" cy="2637.9" r="1.55"/><circle cx="486.1" cy="2641.5" r="1.55"/><circle cx="479.5" cy="2638.3" r="1.55"/><circle cx="479.8" cy="2635.8" r="1.55"/><circle cx="482.8" cy="2626.8" r="1.55"/><circle cx="482.3" cy="2637.1" r="1.55"/><circle cx="480.7" cy="2636.8" r="1.55"/><circle cx="514.0" cy="2644.2" r="1.55"/><circle cx="489.6" cy="2646.7" r="1.55"/><circle cx="482.3" cy="2641.4" r="1.55"/><circle cx="489.7" cy="2637.9" r="1.55"/><circle cx="482.2" cy="2646.1" r="1.55"/><circle cx="498.6" cy="2639.2" r="1.55"/><circle cx="481.4" cy="2637.5" r="1.55"/><circle cx="470.3" cy="2640.8" r="1.55"/><circle cx="471.7" cy="2643.2" r="1.55"/><circle cx="484.8" cy="2641.9" r="1.55"/><circle cx="486.6" cy="2619.8" r="1.55"/><circle cx="485.5" cy="2630.3" r="1.55"/><circle cx="497.6" cy="2639.7" r="1.55"/><circle cx="494.6" cy="2643.6" r="1.55"/><circle cx="445.9" cy="2645.2" r="1.55"/><circle cx="476.6" cy="2638.1" r="1.55"/><circle cx="483.2" cy="2642.0" r="1.55"/><circle cx="481.9" cy="2624.0" r="1.55"/><circle cx="476.7" cy="2634.9" r="1.55"/><circle cx="498.6" cy="2640.4" r="1.55"/><circle cx="479.7" cy="2643.3" r="1.55"/><circle cx="488.0" cy="2642.2" r="1.55"/><circle cx="485.6" cy="2642.7" r="1.55"/><circle cx="479.0" cy="2635.7" r="1.55"/><circle cx="486.3" cy="2622.2" r="1.55"/><circle cx="516.0" cy="2646.3" r="1.55"/><circle cx="477.2" cy="2636.0" r="1.55"/><circle cx="496.8" cy="2646.1" r="1.55"/><circle cx="489.1" cy="2644.2" r="1.55"/><circle cx="470.5" cy="2647.1" r="1.55"/><circle cx="487.9" cy="2636.5" r="1.55"/><circle cx="478.3" cy="2643.1" r="1.55"/><circle cx="447.0" cy="2644.7" r="1.55"/><circle cx="484.1" cy="2638.5" r="1.55"/><circle cx="491.1" cy="2645.5" r="1.55"/><circle cx="486.8" cy="2640.6" r="1.55"/><circle cx="489.4" cy="2634.8" r="1.55"/><circle cx="484.8" cy="2609.6" r="1.55"/><circle cx="490.0" cy="2641.8" r="1.55"/><circle cx="447.3" cy="2645.2" r="1.55"/><circle cx="474.2" cy="2640.8" r="1.55"/><circle cx="486.1" cy="2637.0" r="1.55"/><circle cx="490.7" cy="2642.5" r="1.55"/><circle cx="477.0" cy="2642.9" r="1.55"/><circle cx="498.3" cy="2641.9" r="1.55"/><circle cx="483.7" cy="2642.1" r="1.55"/><circle cx="468.3" cy="2639.6" r="1.55"/><circle cx="468.5" cy="2639.9" r="1.55"/><circle cx="468.5" cy="2645.7" r="1.55"/><circle cx="480.8" cy="2612.8" r="1.55"/><circle cx="467.3" cy="2645.1" r="1.55"/><circle cx="482.3" cy="2610.4" r="1.55"/><circle cx="454.8" cy="2644.3" r="1.55"/><circle cx="486.8" cy="2639.0" r="1.55"/><circle cx="486.3" cy="2620.7" r="1.55"/><circle cx="487.6" cy="2642.3" r="1.55"/><circle cx="480.7" cy="2629.8" r="1.55"/><circle cx="478.0" cy="2639.2" r="1.55"/><circle cx="480.0" cy="2640.3" r="1.55"/><circle cx="494.0" cy="2638.4" r="1.55"/><circle cx="487.0" cy="2639.9" r="1.55"/><circle cx="479.8" cy="2636.3" r="1.55"/><circle cx="467.0" cy="2644.5" r="1.55"/><circle cx="473.1" cy="2641.6" r="1.55"/><circle cx="453.6" cy="2645.1" r="1.55"/><circle cx="483.7" cy="2595.5" r="1.55"/><circle cx="484.7" cy="2578.6" r="1.55"/></g>
<g fill="none" stroke="#E3927A" stroke-width="0.7" stroke-opacity="0.8"><circle cx="581.2" cy="2633.6" r="1.55"/><circle cx="584.8" cy="2640.2" r="1.55"/><circle cx="570.7" cy="2639.3" r="1.55"/><circle cx="584.6" cy="2612.4" r="1.55"/><circle cx="590.4" cy="2620.7" r="1.55"/><circle cx="615.6" cy="2643.4" r="1.55"/><circle cx="584.4" cy="2644.1" r="1.55"/><circle cx="591.8" cy="2647.1" r="1.55"/><circle cx="575.6" cy="2629.8" r="1.55"/><circle cx="586.8" cy="2623.3" r="1.55"/><circle cx="574.4" cy="2587.6" r="1.55"/><circle cx="574.9" cy="2583.9" r="1.55"/><circle cx="598.7" cy="2639.5" r="1.55"/><circle cx="578.0" cy="2598.2" r="1.55"/><circle cx="547.6" cy="2640.4" r="1.55"/><circle cx="592.6" cy="2594.9" r="1.55"/><circle cx="616.1" cy="2643.3" r="1.55"/><circle cx="611.7" cy="2642.1" r="1.55"/><circle cx="576.4" cy="2588.4" r="1.55"/><circle cx="588.0" cy="2611.2" r="1.55"/><circle cx="566.7" cy="2644.8" r="1.55"/><circle cx="554.4" cy="2638.9" r="1.55"/><circle cx="618.8" cy="2643.3" r="1.55"/><circle cx="569.1" cy="2642.8" r="1.55"/><circle cx="618.9" cy="2643.5" r="1.55"/><circle cx="589.9" cy="2642.8" r="1.55"/><circle cx="578.6" cy="2619.3" r="1.55"/><circle cx="609.9" cy="2639.6" r="1.55"/><circle cx="591.3" cy="2631.2" r="1.55"/><circle cx="574.5" cy="2636.6" r="1.55"/><circle cx="560.8" cy="2645.3" r="1.55"/><circle cx="590.0" cy="2619.0" r="1.55"/><circle cx="576.2" cy="2622.3" r="1.55"/><circle cx="593.8" cy="2647.1" r="1.55"/><circle cx="588.7" cy="2616.0" r="1.55"/><circle cx="595.3" cy="2641.0" r="1.55"/><circle cx="591.0" cy="2577.3" r="1.55"/><circle cx="582.3" cy="2598.1" r="1.55"/><circle cx="588.6" cy="2646.3" r="1.55"/><circle cx="582.9" cy="2587.2" r="1.55"/><circle cx="592.6" cy="2588.3" r="1.55"/><circle cx="592.0" cy="2599.5" r="1.55"/><circle cx="592.1" cy="2636.0" r="1.55"/><circle cx="556.0" cy="2641.6" r="1.55"/><circle cx="606.0" cy="2647.3" r="1.55"/><circle cx="561.4" cy="2639.1" r="1.55"/><circle cx="576.6" cy="2640.2" r="1.55"/><circle cx="606.6" cy="2646.9" r="1.55"/><circle cx="578.3" cy="2642.9" r="1.55"/><circle cx="577.2" cy="2642.9" r="1.55"/><circle cx="555.6" cy="2644.8" r="1.55"/><circle cx="570.0" cy="2642.1" r="1.55"/><circle cx="589.4" cy="2636.0" r="1.55"/><circle cx="564.8" cy="2645.6" r="1.55"/><circle cx="584.1" cy="2636.4" r="1.55"/><circle cx="619.3" cy="2646.1" r="1.55"/><circle cx="576.4" cy="2621.1" r="1.55"/><circle cx="586.3" cy="2645.4" r="1.55"/><circle cx="576.7" cy="2612.2" r="1.55"/><circle cx="578.8" cy="2626.9" r="1.55"/><circle cx="585.5" cy="2562.8" r="1.55"/><circle cx="582.5" cy="2557.2" r="1.55"/><circle cx="584.5" cy="2556.0" r="1.55"/><circle cx="583.5" cy="2545.9" r="1.55"/><circle cx="586.5" cy="2534.6" r="1.55"/><circle cx="581.5" cy="2532.4" r="1.55"/><circle cx="584.5" cy="2497.5" r="1.55"/><circle cx="583.5" cy="2450.1" r="1.55"/></g>
<path d="M483.7 2575.8V2570.3H583.5V2575.8" stroke="#777" stroke-width="1.1" fill="none"/>
<text x="530.6" y="2566.0" class="DB" font-size="10" text-anchor="middle">1.71x10<tspan font-size="6.3" dy="-4.5">-12</tspan></text>
<path d="M751.7 2353.5V2663H965.4" stroke="#111" stroke-width="1.6" fill="none"/>
<text x="746.7" y="2652.2" class="DB" font-size="9.6" text-anchor="end">0.000</text>
<text x="746.7" y="2596.1" class="DB" font-size="9.6" text-anchor="end">0.005</text>
<text x="746.7" y="2540.0" class="DB" font-size="9.6" text-anchor="end">0.010</text>
<text x="746.7" y="2483.9" class="DB" font-size="9.6" text-anchor="end">0.015</text>
<text x="746.7" y="2427.8" class="DB" font-size="9.6" text-anchor="end">0.020</text>
<text x="746.7" y="2371.7" class="DB" font-size="9.6" text-anchor="end">0.025</text>
<path d="M751.7 2648.7h-3.5M751.7 2592.6h-3.5M751.7 2536.5h-3.5M751.7 2480.4h-3.5M751.7 2424.3h-3.5M751.7 2368.2h-3.5M810 2663v3.5M907.2 2663v3.5" stroke="#111" stroke-width="1.2"/>
<text x="810" y="2677.0" class="DB" font-size="10.5" text-anchor="middle">&lt;20</text>
<text x="907.2" y="2677.0" class="DB" font-size="10.5" text-anchor="middle">&gt;=20</text>
<text x="858.4" y="2691.8" class="DB" font-size="9.75" text-anchor="middle">Binned Plasma Cell Percentage</text>
<text x="858.4" y="2703.0" class="DB" font-size="9.75" text-anchor="middle">(Flow-Cytometry)</text>
<text x="858.4" y="2341.3" class="DB" font-size="9.95" text-anchor="middle">Fibroblasts Cells</text>
<text transform="translate(711.5 2508) rotate(-90)" class="DB" font-size="9.84" text-anchor="middle">Proportion of Immune Cells</text>
<path d="M810 2648.7V2624.0" stroke="#2B3F86" stroke-width="1.4"/>
<rect x="790.2" y="2636.8" width="39.6" height="10.8" fill="#4499CC" stroke="#2B3F86" stroke-width="1.5"/>
<path d="M790.2 2644.8h39.6" stroke="#23387E" stroke-width="2"/>
<path d="M907.2 2648.7V2575.8" stroke="#D86A4A" stroke-width="1.4"/>
<rect x="887.4" y="2617.5" width="39.6" height="27.8" fill="#DC6132" stroke="#D05A30" stroke-width="1"/>
<path d="M887.4 2637.8h39.6" stroke="#B8402A" stroke-width="1.6"/>
<g fill="none" stroke="#6A6AAE" stroke-width="0.7" stroke-opacity="0.85"><circle cx="845.1" cy="2648.7" r="1.55"/><circle cx="825.6" cy="2648.7" r="1.55"/><circle cx="790.8" cy="2648.7" r="1.55"/><circle cx="811.1" cy="2624.8" r="1.55"/><circle cx="806.4" cy="2648.7" r="1.55"/><circle cx="786.6" cy="2648.7" r="1.55"/><circle cx="797.2" cy="2643.2" r="1.55"/><circle cx="803.0" cy="2648.7" r="1.55"/><circle cx="807.1" cy="2619.1" r="1.55"/><circle cx="847.4" cy="2648.7" r="1.55"/><circle cx="819.1" cy="2648.7" r="1.55"/><circle cx="822.2" cy="2648.7" r="1.55"/><circle cx="824.5" cy="2648.7" r="1.55"/><circle cx="821.4" cy="2648.7" r="1.55"/><circle cx="807.3" cy="2612.3" r="1.55"/><circle cx="843.9" cy="2648.7" r="1.55"/><circle cx="786.7" cy="2648.7" r="1.55"/><circle cx="811.7" cy="2612.4" r="1.55"/><circle cx="804.3" cy="2645.2" r="1.55"/><circle cx="838.7" cy="2648.7" r="1.55"/><circle cx="830.1" cy="2648.7" r="1.55"/><circle cx="824.5" cy="2648.7" r="1.55"/><circle cx="810.0" cy="2632.3" r="1.55"/><circle cx="783.4" cy="2648.7" r="1.55"/><circle cx="810.7" cy="2648.7" r="1.55"/><circle cx="840.6" cy="2648.7" r="1.55"/><circle cx="825.3" cy="2648.7" r="1.55"/><circle cx="790.5" cy="2648.7" r="1.55"/><circle cx="798.1" cy="2648.7" r="1.55"/><circle cx="804.2" cy="2648.7" r="1.55"/><circle cx="835.4" cy="2648.7" r="1.55"/><circle cx="801.4" cy="2643.4" r="1.55"/><circle cx="784.6" cy="2648.7" r="1.55"/><circle cx="817.1" cy="2642.7" r="1.55"/><circle cx="773.0" cy="2648.7" r="1.55"/><circle cx="798.0" cy="2647.8" r="1.55"/><circle cx="805.1" cy="2648.7" r="1.55"/><circle cx="803.2" cy="2648.7" r="1.55"/><circle cx="803.8" cy="2648.7" r="1.55"/><circle cx="793.9" cy="2648.7" r="1.55"/><circle cx="778.5" cy="2648.7" r="1.55"/><circle cx="811.6" cy="2648.7" r="1.55"/><circle cx="833.4" cy="2648.7" r="1.55"/><circle cx="825.8" cy="2648.7" r="1.55"/><circle cx="806.3" cy="2629.8" r="1.55"/><circle cx="801.4" cy="2648.7" r="1.55"/><circle cx="828.5" cy="2648.7" r="1.55"/><circle cx="845.3" cy="2648.7" r="1.55"/><circle cx="835.5" cy="2648.7" r="1.55"/><circle cx="838.5" cy="2648.7" r="1.55"/><circle cx="845.4" cy="2648.7" r="1.55"/><circle cx="801.4" cy="2636.9" r="1.55"/><circle cx="806.8" cy="2617.0" r="1.55"/><circle cx="809.8" cy="2648.0" r="1.55"/><circle cx="783.7" cy="2648.7" r="1.55"/><circle cx="816.1" cy="2648.7" r="1.55"/><circle cx="781.6" cy="2648.7" r="1.55"/><circle cx="827.1" cy="2648.7" r="1.55"/><circle cx="806.3" cy="2639.9" r="1.55"/><circle cx="787.0" cy="2648.7" r="1.55"/><circle cx="780.2" cy="2648.7" r="1.55"/><circle cx="815.5" cy="2647.1" r="1.55"/><circle cx="808.2" cy="2640.2" r="1.55"/><circle cx="845.6" cy="2648.7" r="1.55"/><circle cx="810.1" cy="2647.5" r="1.55"/><circle cx="810.7" cy="2646.7" r="1.55"/><circle cx="813.9" cy="2642.5" r="1.55"/><circle cx="818.6" cy="2648.7" r="1.55"/><circle cx="813.2" cy="2606.9" r="1.55"/><circle cx="808.5" cy="2624.3" r="1.55"/><circle cx="846.2" cy="2648.7" r="1.55"/><circle cx="843.5" cy="2648.7" r="1.55"/><circle cx="822.2" cy="2636.2" r="1.55"/><circle cx="804.6" cy="2647.4" r="1.55"/><circle cx="822.2" cy="2645.8" r="1.55"/><circle cx="805.0" cy="2640.6" r="1.55"/><circle cx="818.6" cy="2648.7" r="1.55"/><circle cx="816.1" cy="2640.3" r="1.55"/><circle cx="810.8" cy="2629.4" r="1.55"/><circle cx="804.5" cy="2648.7" r="1.55"/><circle cx="812.2" cy="2648.7" r="1.55"/><circle cx="827.7" cy="2648.3" r="1.55"/><circle cx="803.9" cy="2648.7" r="1.55"/><circle cx="835.0" cy="2648.7" r="1.55"/><circle cx="794.2" cy="2648.7" r="1.55"/><circle cx="810.1" cy="2645.3" r="1.55"/><circle cx="839.5" cy="2648.7" r="1.55"/><circle cx="799.5" cy="2648.7" r="1.55"/><circle cx="811.9" cy="2605.3" r="1.55"/><circle cx="833.8" cy="2648.7" r="1.55"/><circle cx="835.1" cy="2648.7" r="1.55"/><circle cx="831.3" cy="2648.7" r="1.55"/><circle cx="817.5" cy="2638.7" r="1.55"/><circle cx="812.2" cy="2600.9" r="1.55"/><circle cx="818.4" cy="2648.7" r="1.55"/><circle cx="799.0" cy="2640.2" r="1.55"/><circle cx="838.0" cy="2648.7" r="1.55"/><circle cx="806.9" cy="2600.7" r="1.55"/><circle cx="805.2" cy="2640.1" r="1.55"/><circle cx="841.9" cy="2648.7" r="1.55"/><circle cx="814.1" cy="2638.9" r="1.55"/><circle cx="835.0" cy="2648.7" r="1.55"/><circle cx="805.2" cy="2646.8" r="1.55"/><circle cx="799.2" cy="2648.7" r="1.55"/><circle cx="811.5" cy="2648.7" r="1.55"/><circle cx="826.8" cy="2648.7" r="1.55"/><circle cx="784.1" cy="2648.7" r="1.55"/><circle cx="801.6" cy="2648.7" r="1.55"/><circle cx="831.4" cy="2648.7" r="1.55"/><circle cx="788.9" cy="2648.7" r="1.55"/><circle cx="785.4" cy="2648.7" r="1.55"/><circle cx="799.6" cy="2636.7" r="1.55"/><circle cx="814.2" cy="2648.7" r="1.55"/><circle cx="805.4" cy="2643.5" r="1.55"/><circle cx="816.3" cy="2638.5" r="1.55"/><circle cx="814.8" cy="2648.7" r="1.55"/><circle cx="813.3" cy="2598.3" r="1.55"/><circle cx="796.8" cy="2648.7" r="1.55"/><circle cx="784.8" cy="2648.7" r="1.55"/><circle cx="810.7" cy="2631.3" r="1.55"/><circle cx="807.7" cy="2641.7" r="1.55"/><circle cx="813.0" cy="2612.4" r="1.55"/><circle cx="813.7" cy="2608.6" r="1.55"/><circle cx="799.9" cy="2648.7" r="1.55"/><circle cx="814.8" cy="2641.1" r="1.55"/><circle cx="781.7" cy="2648.7" r="1.55"/><circle cx="810.0" cy="2647.4" r="1.55"/><circle cx="813.3" cy="2613.9" r="1.55"/><circle cx="788.5" cy="2648.7" r="1.55"/><circle cx="830.3" cy="2648.7" r="1.55"/><circle cx="807.2" cy="2645.9" r="1.55"/><circle cx="800.2" cy="2648.7" r="1.55"/><circle cx="811.5" cy="2620.2" r="1.55"/><circle cx="800.5" cy="2645.0" r="1.55"/><circle cx="812.1" cy="2643.7" r="1.55"/><circle cx="845.3" cy="2648.7" r="1.55"/><circle cx="819.9" cy="2648.7" r="1.55"/><circle cx="813.8" cy="2628.2" r="1.55"/><circle cx="817.7" cy="2648.7" r="1.55"/><circle cx="822.9" cy="2645.9" r="1.55"/><circle cx="844.0" cy="2648.7" r="1.55"/><circle cx="803.0" cy="2643.3" r="1.55"/><circle cx="798.3" cy="2648.7" r="1.55"/><circle cx="833.4" cy="2648.7" r="1.55"/><circle cx="819.8" cy="2648.7" r="1.55"/><circle cx="782.7" cy="2648.7" r="1.55"/><circle cx="839.7" cy="2647.9" r="1.55"/><circle cx="774.5" cy="2648.7" r="1.55"/><circle cx="799.4" cy="2648.7" r="1.55"/><circle cx="814.7" cy="2648.7" r="1.55"/><circle cx="821.2" cy="2648.7" r="1.55"/><circle cx="812.2" cy="2645.6" r="1.55"/><circle cx="835.9" cy="2648.7" r="1.55"/><circle cx="837.4" cy="2648.7" r="1.55"/><circle cx="819.8" cy="2648.7" r="1.55"/><circle cx="821.7" cy="2648.7" r="1.55"/><circle cx="816.0" cy="2648.7" r="1.55"/><circle cx="808.9" cy="2634.3" r="1.55"/><circle cx="806.9" cy="2639.0" r="1.55"/><circle cx="825.9" cy="2648.7" r="1.55"/><circle cx="783.1" cy="2648.7" r="1.55"/><circle cx="799.1" cy="2646.0" r="1.55"/><circle cx="820.3" cy="2648.3" r="1.55"/><circle cx="839.0" cy="2648.7" r="1.55"/><circle cx="780.8" cy="2648.7" r="1.55"/><circle cx="826.6" cy="2648.7" r="1.55"/><circle cx="795.9" cy="2648.7" r="1.55"/><circle cx="811.8" cy="2607.1" r="1.55"/><circle cx="820.7" cy="2648.7" r="1.55"/><circle cx="833.8" cy="2648.7" r="1.55"/><circle cx="837.0" cy="2648.7" r="1.55"/><circle cx="841.3" cy="2648.7" r="1.55"/><circle cx="846.5" cy="2648.7" r="1.55"/><circle cx="810.8" cy="2648.7" r="1.55"/><circle cx="847.0" cy="2648.7" r="1.55"/><circle cx="822.8" cy="2642.4" r="1.55"/><circle cx="807.3" cy="2617.6" r="1.55"/><circle cx="825.9" cy="2648.7" r="1.55"/><circle cx="808.8" cy="2609.5" r="1.55"/><circle cx="821.9" cy="2648.7" r="1.55"/><circle cx="824.7" cy="2648.7" r="1.55"/><circle cx="774.1" cy="2648.7" r="1.55"/><circle cx="809.1" cy="2648.7" r="1.55"/><circle cx="815.1" cy="2647.3" r="1.55"/><circle cx="811.7" cy="2648.7" r="1.55"/><circle cx="807.5" cy="2639.8" r="1.55"/><circle cx="824.6" cy="2648.7" r="1.55"/><circle cx="814.1" cy="2642.6" r="1.55"/><circle cx="812.1" cy="2633.6" r="1.55"/><circle cx="826.4" cy="2648.7" r="1.55"/><circle cx="821.7" cy="2648.7" r="1.55"/><circle cx="798.3" cy="2648.7" r="1.55"/><circle cx="839.3" cy="2648.7" r="1.55"/><circle cx="813.6" cy="2633.5" r="1.55"/><circle cx="813.1" cy="2638.9" r="1.55"/><circle cx="788.8" cy="2648.7" r="1.55"/><circle cx="803.1" cy="2644.6" r="1.55"/><circle cx="826.9" cy="2648.7" r="1.55"/><circle cx="787.3" cy="2648.7" r="1.55"/><circle cx="811.7" cy="2645.3" r="1.55"/><circle cx="805.8" cy="2648.7" r="1.55"/><circle cx="808.0" cy="2627.1" r="1.55"/><circle cx="835.8" cy="2648.7" r="1.55"/><circle cx="812.0" cy="2618.4" r="1.55"/><circle cx="801.3" cy="2648.7" r="1.55"/><circle cx="812.6" cy="2643.7" r="1.55"/><circle cx="813.6" cy="2648.7" r="1.55"/><circle cx="822.7" cy="2640.3" r="1.55"/><circle cx="829.4" cy="2648.7" r="1.55"/><circle cx="810.0" cy="2611.4" r="1.55"/><circle cx="808.8" cy="2648.7" r="1.55"/><circle cx="818.5" cy="2648.7" r="1.55"/><circle cx="847.9" cy="2648.7" r="1.55"/><circle cx="813.6" cy="2648.7" r="1.55"/><circle cx="820.0" cy="2648.7" r="1.55"/><circle cx="797.5" cy="2648.7" r="1.55"/><circle cx="795.8" cy="2648.7" r="1.55"/><circle cx="784.0" cy="2648.7" r="1.55"/><circle cx="832.5" cy="2648.7" r="1.55"/><circle cx="809.8" cy="2627.1" r="1.55"/><circle cx="829.9" cy="2648.7" r="1.55"/><circle cx="811.1" cy="2644.6" r="1.55"/><circle cx="810.2" cy="2644.8" r="1.55"/><circle cx="806.1" cy="2648.7" r="1.55"/><circle cx="833.0" cy="2648.7" r="1.55"/><circle cx="780.9" cy="2648.7" r="1.55"/><circle cx="811.5" cy="2614.7" r="1.55"/><circle cx="810.5" cy="2607.1" r="1.55"/><circle cx="809.6" cy="2610.9" r="1.55"/><circle cx="784.1" cy="2648.7" r="1.55"/><circle cx="820.5" cy="2638.7" r="1.55"/><circle cx="812.2" cy="2648.7" r="1.55"/><circle cx="820.9" cy="2643.1" r="1.55"/><circle cx="826.3" cy="2648.7" r="1.55"/><circle cx="808.4" cy="2644.2" r="1.55"/><circle cx="814.0" cy="2644.5" r="1.55"/><circle cx="804.5" cy="2638.2" r="1.55"/><circle cx="779.7" cy="2648.7" r="1.55"/><circle cx="786.0" cy="2648.7" r="1.55"/><circle cx="815.2" cy="2648.7" r="1.55"/><circle cx="806.4" cy="2634.5" r="1.55"/><circle cx="781.1" cy="2648.7" r="1.55"/><circle cx="815.5" cy="2648.7" r="1.55"/><circle cx="805.7" cy="2648.7" r="1.55"/><circle cx="797.0" cy="2648.7" r="1.55"/><circle cx="786.7" cy="2648.7" r="1.55"/><circle cx="815.1" cy="2648.7" r="1.55"/><circle cx="836.2" cy="2648.7" r="1.55"/><circle cx="781.6" cy="2648.7" r="1.55"/><circle cx="797.3" cy="2648.7" r="1.55"/><circle cx="824.4" cy="2648.7" r="1.55"/><circle cx="831.7" cy="2648.7" r="1.55"/><circle cx="823.4" cy="2648.7" r="1.55"/><circle cx="781.6" cy="2648.7" r="1.55"/><circle cx="785.8" cy="2648.7" r="1.55"/><circle cx="793.0" cy="2648.7" r="1.55"/><circle cx="822.7" cy="2648.7" r="1.55"/><circle cx="813.5" cy="2626.8" r="1.55"/><circle cx="839.6" cy="2648.7" r="1.55"/><circle cx="812.3" cy="2619.6" r="1.55"/><circle cx="810.0" cy="2578.0" r="1.55"/><circle cx="810.0" cy="2575.8" r="1.55"/><circle cx="810.0" cy="2555.6" r="1.55"/><circle cx="809.5" cy="2547.7" r="1.55"/><circle cx="810.5" cy="2537.6" r="1.55"/></g>
<g fill="none" stroke="#E3927A" stroke-width="0.7" stroke-opacity="0.8"><circle cx="911.5" cy="2642.9" r="1.55"/><circle cx="904.4" cy="2562.9" r="1.55"/><circle cx="936.3" cy="2648.7" r="1.55"/><circle cx="931.6" cy="2643.5" r="1.55"/><circle cx="882.5" cy="2648.7" r="1.55"/><circle cx="937.1" cy="2648.7" r="1.55"/><circle cx="903.0" cy="2648.7" r="1.55"/><circle cx="877.4" cy="2648.7" r="1.55"/><circle cx="907.0" cy="2648.7" r="1.55"/><circle cx="923.4" cy="2648.7" r="1.55"/><circle cx="940.8" cy="2648.7" r="1.55"/><circle cx="901.6" cy="2587.3" r="1.55"/><circle cx="915.7" cy="2645.0" r="1.55"/><circle cx="914.2" cy="2635.8" r="1.55"/><circle cx="875.1" cy="2642.2" r="1.55"/><circle cx="937.9" cy="2640.6" r="1.55"/><circle cx="873.4" cy="2648.7" r="1.55"/><circle cx="879.2" cy="2640.8" r="1.55"/><circle cx="929.4" cy="2648.7" r="1.55"/><circle cx="934.0" cy="2648.7" r="1.55"/><circle cx="905.2" cy="2581.7" r="1.55"/><circle cx="940.5" cy="2648.7" r="1.55"/><circle cx="907.3" cy="2564.5" r="1.55"/><circle cx="916.1" cy="2648.7" r="1.55"/><circle cx="885.6" cy="2648.7" r="1.55"/><circle cx="900.7" cy="2648.7" r="1.55"/><circle cx="891.0" cy="2648.7" r="1.55"/><circle cx="912.6" cy="2563.4" r="1.55"/><circle cx="915.6" cy="2648.3" r="1.55"/><circle cx="914.0" cy="2573.0" r="1.55"/><circle cx="893.5" cy="2643.3" r="1.55"/><circle cx="891.1" cy="2648.7" r="1.55"/><circle cx="908.9" cy="2590.7" r="1.55"/><circle cx="902.2" cy="2606.4" r="1.55"/><circle cx="900.6" cy="2585.8" r="1.55"/><circle cx="881.4" cy="2646.0" r="1.55"/><circle cx="922.8" cy="2648.7" r="1.55"/><circle cx="905.0" cy="2633.8" r="1.55"/><circle cx="912.7" cy="2605.9" r="1.55"/><circle cx="904.2" cy="2648.7" r="1.55"/><circle cx="910.8" cy="2579.5" r="1.55"/><circle cx="907.8" cy="2584.0" r="1.55"/><circle cx="913.6" cy="2590.5" r="1.55"/><circle cx="934.1" cy="2641.3" r="1.55"/><circle cx="873.3" cy="2648.7" r="1.55"/><circle cx="920.8" cy="2648.6" r="1.55"/><circle cx="909.0" cy="2561.5" r="1.55"/><circle cx="909.9" cy="2631.5" r="1.55"/><circle cx="916.0" cy="2648.7" r="1.55"/><circle cx="895.7" cy="2648.7" r="1.55"/><circle cx="936.6" cy="2648.7" r="1.55"/><circle cx="898.5" cy="2648.7" r="1.55"/><circle cx="886.6" cy="2645.4" r="1.55"/><circle cx="893.0" cy="2648.7" r="1.55"/><circle cx="932.9" cy="2645.5" r="1.55"/><circle cx="924.5" cy="2648.7" r="1.55"/><circle cx="899.3" cy="2648.7" r="1.55"/><circle cx="934.3" cy="2648.7" r="1.55"/><circle cx="898.6" cy="2648.7" r="1.55"/><circle cx="913.6" cy="2637.3" r="1.55"/><circle cx="907.2" cy="2525.3" r="1.55"/><circle cx="909.2" cy="2521.9" r="1.55"/><circle cx="906.2" cy="2446.7" r="1.55"/><circle cx="907.7" cy="2418.7" r="1.55"/><circle cx="907.2" cy="2399.6" r="1.55"/></g>
<path d="M810 2577.5V2572H907.2V2577.5" stroke="#777" stroke-width="1.1" fill="none"/>
<text x="855.6" y="2567.7" class="DB" font-size="10" text-anchor="middle">1.05x10<tspan font-size="6.3" dy="-4.5">-6</tspan></text></svg></body></html>
